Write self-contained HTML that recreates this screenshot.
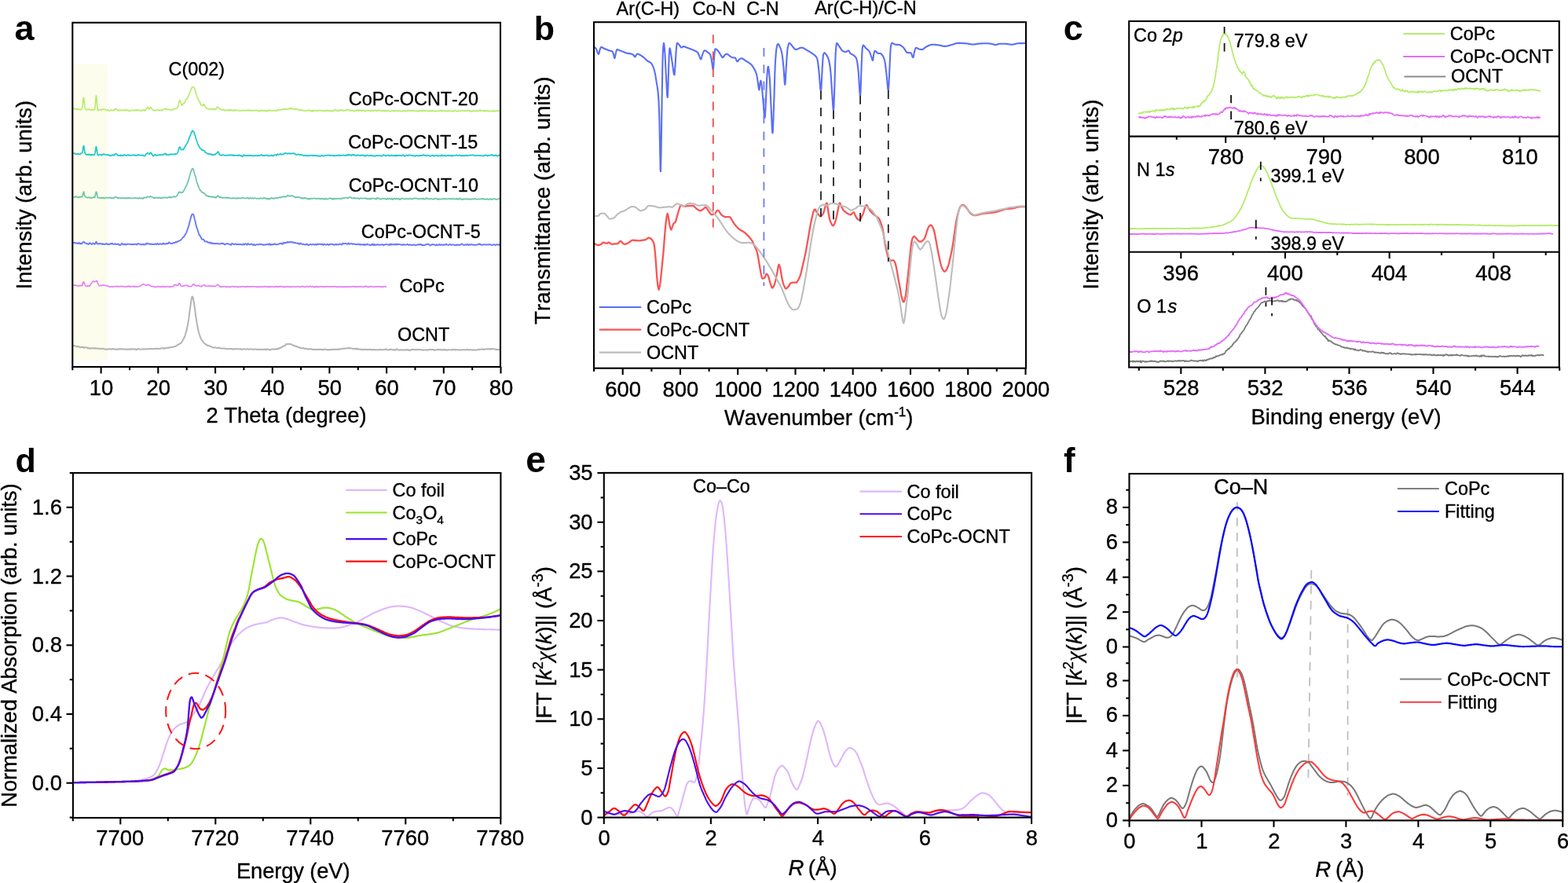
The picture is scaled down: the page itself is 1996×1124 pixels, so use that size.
<!DOCTYPE html>
<html lang="en"><head><meta charset="utf-8"><title>Figure</title>
<style>html,body{margin:0;padding:0;background:#fff}svg{display:block}text{font-family:'Liberation Sans', Arial, Helvetica, sans-serif;font-kerning:none;stroke:#000;stroke-width:0.35px;stroke-linejoin:round}text[font-weight=bold]{stroke:none}</style></head>
<body>
<svg xmlns="http://www.w3.org/2000/svg" width="1996" height="1124" viewBox="0 0 1996 1124">
<rect width="1996" height="1124" fill="#fff"/>
<rect x="93.4" y="81.6" width="43.8" height="377" fill="#fdfdee"/>
<polyline points="92.3,139 92.7,138.8 93.2,137.9 93.6,137.8 94,138.1 94.5,138.5 94.9,138.6 95.4,138.8 95.8,138.8 96.2,138.5 96.7,138.3 97.1,138.7 97.5,139.1 98,139 98.4,138.5 98.8,138.6 99.3,139.3 99.7,139.6 100.2,139.2 100.6,139.1 101,139.2 101.5,139.4 101.9,139.6 102.3,139.9 102.8,139.7 103.2,139.5 103.6,139.3 104.1,139 104.5,138 104.9,136.2 105.4,132.5 105.8,127.8 106.3,124.2 106.7,124.3 107.1,128 107.6,133 108,136.9 108.4,138.6 108.9,139.4 109.3,139.5 109.7,139.5 110.2,139.1 110.6,139.3 111.1,139.8 111.5,139.7 111.9,139.6 112.4,139.5 112.8,139.4 113.2,139 113.7,139.1 114.1,139.8 114.5,140.2 115,140.3 115.4,140.2 115.9,140 116.3,140.1 116.7,140 117.2,139.8 117.6,139.7 118,139.6 118.5,139.8 118.9,139.7 119.3,139.9 119.8,140 120.2,139.8 120.7,138.3 121.1,135.4 121.5,130.6 122,124.9 122.4,121.8 122.8,123.7 123.3,129 123.7,134.3 124.1,138.1 124.6,139.9 125,140.5 125.5,140.2 125.9,139.8 126.3,139.3 126.8,139.5 127.2,139.5 127.6,139.9 128.1,140.3 128.5,140.5 128.9,140 129.4,139.5 129.8,139.9 130.2,139.8 130.7,139.5 131.1,139.1 131.6,138.9 132,139.1 132.4,139.1 132.9,139.1 133.3,139.2 133.7,139.9 134.2,139.9 134.6,140.1 135,140.2 135.5,140.7 135.9,140.5 136.4,140.1 136.8,139.7 137.2,139.9 137.7,140.3 138.1,140.4 138.5,140.6 139,141.2 139.4,141.2 139.8,141.1 140.3,140.4 140.7,139.7 141.2,139.5 141.6,140.1 142,140.5 142.5,140.5 142.9,140.6 143.3,140.5 143.8,140.5 144.2,140.1 144.6,139.8 145.1,139.7 145.5,140.1 146,139.6 146.4,139 146.8,138.3 147.3,138.4 147.7,138.9 148.1,139.5 148.6,139.8 149,139.8 149.4,140.1 149.9,140.3 150.3,140.2 150.8,140.4 151.2,140.9 151.6,140.9 152.1,140.5 152.5,140.2 152.9,140 153.4,140.2 153.8,140.4 154.2,140.7 154.7,140.3 155.1,140 155.5,140.1 156,140.5 156.4,140.5 156.9,140.5 157.3,140.7 157.7,140.7 158.2,140.3 158.6,140 159,139.9 159.5,140.1 159.9,140.5 160.3,140.8 160.8,140.4 161.2,140 161.7,139.9 162.1,140.1 162.5,140.4 163,140.3 163.4,140.4 163.8,140.9 164.3,141.4 164.7,141.6 165.1,141.2 165.6,141 166,140.7 166.5,140.7 166.9,140.6 167.3,140.5 167.8,140.1 168.2,140.3 168.6,140.6 169.1,140.7 169.5,140.3 169.9,140.2 170.4,140 170.8,140.4 171.3,140.6 171.7,140.8 172.1,140.5 172.6,140.2 173,139.7 173.4,139.8 173.9,140.5 174.3,140.6 174.7,140.3 175.2,140 175.6,140 176.1,139.7 176.5,139.6 176.9,140 177.4,140.3 177.8,140.7 178.2,140.8 178.7,140.8 179.1,140.9 179.5,141.3 180,140.9 180.4,140.3 180.8,140.3 181.3,140.4 181.7,140.1 182.2,139.7 182.6,139.6 183,139.6 183.5,139.9 183.9,140.5 184.3,141.1 184.8,141 185.2,140 185.6,139.3 186.1,138.8 186.5,138.6 187,138 187.4,137.1 187.8,136.7 188.3,136.5 188.7,137 189.1,137.6 189.6,138.5 190,138.9 190.4,138.1 190.9,137.3 191.3,136.7 191.8,136.8 192.2,136.9 192.6,137.1 193.1,137.9 193.5,138.8 193.9,139.5 194.4,139.6 194.8,139.7 195.2,139.9 195.7,140.3 196.1,140.5 196.6,140.9 197,141 197.4,140.9 197.9,140.5 198.3,140.1 198.7,139.8 199.2,139.7 199.6,140 200,140 200.5,140.1 200.9,140.1 201.3,140.2 201.8,140.1 202.2,140.4 202.7,140.9 203.1,140.8 203.5,140.3 204,139.9 204.4,140 204.8,140.3 205.3,140.6 205.7,140.9 206.1,140.9 206.6,140.6 207,140.1 207.5,139.5 207.9,139.6 208.3,139.4 208.8,139.1 209.2,138.9 209.6,139 210.1,138.8 210.5,138.5 210.9,138 211.4,138.3 211.8,139.1 212.3,139.4 212.7,139.2 213.1,139.2 213.6,139.1 214,139.3 214.4,139.3 214.9,139.5 215.3,139.6 215.7,139.8 216.2,139.9 216.6,139.8 217.1,139.8 217.5,139.7 217.9,139.9 218.4,140 218.8,140.1 219.2,139.6 219.7,139.6 220.1,139.3 220.5,139.3 221,138.4 221.4,138.5 221.9,138.7 222.3,138.7 222.7,138.3 223.2,138.6 223.6,138.7 224,138.5 224.5,138 224.9,137.8 225.3,137.5 225.8,137.1 226.2,136.3 226.6,135.4 227.1,133.7 227.5,131.6 228,129.6 228.4,128.2 228.8,127.7 229.3,128.2 229.7,129.4 230.1,130.9 230.6,132.2 231,133.4 231.4,134.2 231.9,133.8 232.3,133 232.8,132.3 233.2,132.3 233.6,131.9 234.1,131.8 234.5,131.2 234.9,130.7 235.4,129.9 235.8,128.7 236.2,127.5 236.7,126.8 237.1,126.6 237.6,125.9 238,125.7 238.4,125.1 238.9,124.6 239.3,123.5 239.7,122.9 240.2,121.5 240.6,120.6 241,119 241.5,118.2 241.9,117.4 242.4,116.3 242.8,114.8 243.2,113.5 243.7,112.9 244.1,111.9 244.5,111.3 245,111 245.4,111.1 245.8,111 246.3,110.9 246.7,110.9 247.2,111.9 247.6,112.9 248,113.8 248.5,115 248.9,116.9 249.3,118.6 249.8,119.5 250.2,121 250.6,122.3 251.1,123.8 251.5,124.6 251.9,125.7 252.4,126.6 252.8,127.5 253.3,128.7 253.7,129.6 254.1,129.8 254.6,130.3 255,131.5 255.4,132.7 255.9,133.5 256.3,133.8 256.7,133.9 257.2,133.9 257.6,134.3 258.1,134.4 258.5,133.9 258.9,133.1 259.4,132.8 259.8,133.1 260.2,134 260.7,134.9 261.1,135.9 261.5,136.1 262,136.9 262.4,137.6 262.9,137.9 263.3,137.8 263.7,138 264.2,138.2 264.6,138.5 265,138.7 265.5,138.7 265.9,138.6 266.3,139 266.8,139.2 267.2,139.1 267.7,138.8 268.1,138.8 268.5,138.7 269,138.9 269.4,139 269.8,139.4 270.3,139.2 270.7,139 271.1,138.8 271.6,139.1 272,139.4 272.5,139.5 272.9,139 273.3,138.9 273.8,138.4 274.2,138.8 274.6,138.9 275.1,139.1 275.5,138.1 275.9,137.1 276.4,136.4 276.8,136.2 277.2,136.2 277.7,136.5 278.1,137.3 278.6,137.6 279,137.8 279.4,138.2 279.9,138.8 280.3,138.9 280.7,138.7 281.2,138.9 281.6,139.3 282,139.8 282.5,140 282.9,140.4 283.4,140 283.8,139.6 284.2,139.4 284.7,139.9 285.1,139.9 285.5,140 286,140.4 286.4,140.9 286.8,140.7 287.3,140.4 287.7,140.2 288.2,140.3 288.6,140.5 289,140.5 289.5,140.4 289.9,139.9 290.3,139.9 290.8,140.4 291.2,140.9 291.6,140.9 292.1,140.3 292.5,140.1 293,139.6 293.4,140 293.8,140.3 294.3,140.3 294.7,140 295.1,139.8 295.6,140.6 296,140.9 296.4,140.9 296.9,140.5 297.3,140.6 297.8,140.6 298.2,140.2 298.6,139.9 299.1,140.4 299.5,140.8 299.9,140.8 300.4,140.2 300.8,140 301.2,140.2 301.7,140.4 302.1,140.5 302.5,140.5 303,140.5 303.4,140.5 303.9,140.8 304.3,141 304.7,140.9 305.2,140.6 305.6,140.5 306,140.6 306.5,141 306.9,141 307.3,140.9 307.8,140.7 308.2,140.8 308.7,140.6 309.1,140.4 309.5,140.3 310,140.7 310.4,140.8 310.8,140.9 311.3,140.5 311.7,140.5 312.1,140.6 312.6,140.8 313,141 313.5,140.5 313.9,140.3 314.3,140.3 314.8,140.7 315.2,140.3 315.6,140.4 316.1,140.1 316.5,140.4 316.9,140.5 317.4,141.1 317.8,140.9 318.3,140.6 318.7,140.2 319.1,140.2 319.6,140.6 320,140.7 320.4,140.8 320.9,140.8 321.3,141.2 321.7,140.8 322.2,140.4 322.6,140.3 323,140.9 323.5,140.9 323.9,140.6 324.4,140.5 324.8,140.7 325.2,140.6 325.7,140.5 326.1,140.2 326.5,140.2 327,140.7 327.4,140.8 327.8,141 328.3,141.2 328.7,141.5 329.2,141.7 329.6,141.4 330,141.5 330.5,141.2 330.9,140.8 331.3,140.5 331.8,141 332.2,141.2 332.6,141.1 333.1,140.6 333.5,140.4 334,140.4 334.4,140.7 334.8,140.9 335.3,141.2 335.7,141 336.1,140.6 336.6,140.4 337,141.1 337.4,141.4 337.9,141.1 338.3,140.7 338.8,141.2 339.2,141.3 339.6,141 340.1,140.6 340.5,140.9 340.9,141.4 341.4,141.3 341.8,140.6 342.2,140.1 342.7,140.6 343.1,140.5 343.6,140.2 344,140.3 344.4,140.8 344.9,140.9 345.3,140.8 345.7,141 346.2,141 346.6,141 347,141.1 347.5,140.9 347.9,140.8 348.3,140.8 348.8,140.8 349.2,140.6 349.7,140.2 350.1,140.1 350.5,140.5 351,140.9 351.4,141.3 351.8,141.1 352.3,140.9 352.7,140.4 353.1,140.2 353.6,140.2 354,140.4 354.5,140.1 354.9,140 355.3,139.9 355.8,140 356.2,139.8 356.6,139.8 357.1,139.9 357.5,139.9 357.9,139.6 358.4,139.3 358.8,139.4 359.3,139.4 359.7,139 360.1,138.7 360.6,138.8 361,139.2 361.4,139 361.9,138.9 362.3,139 362.7,139.2 363.2,139.3 363.6,139.1 364.1,138.9 364.5,138.6 364.9,138.8 365.4,138.9 365.8,139 366.2,138.9 366.7,138.5 367.1,138.4 367.5,138.1 368,138.6 368.4,138.9 368.9,138.7 369.3,137.6 369.7,137.6 370.2,138 370.6,138.5 371,138.1 371.5,138.2 371.9,138.1 372.3,138.5 372.8,138.5 373.2,138.9 373.6,138.8 374.1,139.1 374.5,139 375,139.2 375.4,138.7 375.8,138.3 376.3,138.5 376.7,138.8 377.1,139 377.6,138.9 378,139 378.4,139.2 378.9,139.1 379.3,139 379.8,139.2 380.2,139.6 380.6,139.9 381.1,140 381.5,140.6 381.9,140.6 382.4,140.1 382.8,139.6 383.2,139.5 383.7,140.2 384.1,140.6 384.6,140.6 385,140.4 385.4,140.4 385.9,140.6 386.3,140.6 386.7,140.9 387.2,141 387.6,141.1 388,141 388.5,141 388.9,140.8 389.4,140.9 389.8,140.9 390.2,140.9 390.7,140.7 391.1,140.6 391.5,140.7 392,140.4 392.4,140.5 392.8,140.2 393.3,140.4 393.7,140.3 394.2,140.9 394.6,141.1 395,141.1 395.5,140.9 395.9,141.1 396.3,141.6 396.8,141.8 397.2,141.1 397.6,140.3 398.1,140.5 398.5,141.6 398.9,141.7 399.4,141.3 399.8,140.8 400.3,141.1 400.7,140.9 401.1,140.8 401.6,140.7 402,140.7 402.4,140.9 402.9,141 403.3,140.8 403.7,140.9 404.2,141.3 404.6,141 405.1,140.5 405.5,140.7 405.9,140.7 406.4,140.6 406.8,140.2 407.2,140.2 407.7,140.6 408.1,141 408.5,141.1 409,140.9 409.4,140.8 409.9,140.6 410.3,140.7 410.7,141.2 411.2,141.2 411.6,141 412,141.3 412.5,141.6 412.9,141.5 413.3,140.9 413.8,140.7 414.2,140.3 414.7,140.6 415.1,140.8 415.5,141.4 416,141.1 416.4,141.2 416.8,140.7 417.3,140.6 417.7,140.6 418.1,141.1 418.6,141.1 419,140.7 419.4,140.8 419.9,141.1 420.3,141.6 420.8,141.6 421.2,141.4 421.6,141.1 422.1,141.5 422.5,141.6 422.9,141.3 423.4,140.7 423.8,141.2 424.2,141.3 424.7,141.1 425.1,140.5 425.6,140.2 426,139.9 426.4,139.4 426.9,139.5 427.3,139.9 427.7,140.4 428.2,140.5 428.6,140.7 429,141.1 429.5,141.1 429.9,140.6 430.4,140.4 430.8,141.2 431.2,141.4 431.7,140.6 432.1,140 432.5,140.1 433,140.6 433.4,140.5 433.8,140.4 434.3,140.2 434.7,140.1 435.2,139.7 435.6,139.8 436,140.4 436.5,140.5 436.9,140.7 437.3,140.9 437.8,141.1 438.2,140.8 438.6,140.7 439.1,140.7 439.5,140.8 440,140.7 440.4,140.1 440.8,139.7 441.3,139.6 441.7,139.7 442.1,139.9 442.6,139.8 443,140 443.4,139.9 443.9,140 444.3,139.6 444.7,140.2 445.2,141 445.6,141 446.1,140.7 446.5,140.8 446.9,140.8 447.4,140.3 447.8,140.2 448.2,140.5 448.7,140.5 449.1,140.6 449.5,140.8 450,141 450.4,141.2 450.9,141.3 451.3,141.6 451.7,141.3 452.2,141 452.6,140.5 453,140.7 453.5,140.9 453.9,141 454.3,140.5 454.8,140 455.2,139.9 455.7,140.5 456.1,141.1 456.5,140.7 457,140.3 457.4,140.1 457.8,140.5 458.3,140.7 458.7,140.6 459.1,140.3 459.6,140.5 460,141 460.5,141.2 460.9,140.9 461.3,140.6 461.8,140.4 462.2,140.5 462.6,140.6 463.1,140.6 463.5,140.3 463.9,140.9 464.4,141.4 464.8,141.5 465.3,141.1 465.7,141.2 466.1,141.4 466.6,141.1 467,140.7 467.4,140.5 467.9,140.8 468.3,140.9 468.7,140.6 469.2,140.7 469.6,141 470,141 470.5,140.8 470.9,141 471.4,141.4 471.8,141.2 472.2,141.2 472.7,141 473.1,140.6 473.5,140.3 474,140.5 474.4,141 474.8,141.2 475.3,141.2 475.7,140.7 476.2,140.5 476.6,140.6 477,140.7 477.5,140.4 477.9,140.4 478.3,140.7 478.8,140.6 479.2,141.2 479.6,141.3 480.1,141.2 480.5,140.7 481,140.3 481.4,140.1 481.8,140.2 482.3,140.6 482.7,140.3 483.1,140.3 483.6,140.8 484,141.3 484.4,141.2 484.9,141 485.3,141 485.8,140.8 486.2,140.9 486.6,141.2 487.1,141 487.5,140.4 487.9,140.8 488.4,141.4 488.8,141.3 489.2,140.7 489.7,140.9 490.1,141.3 490.6,140.8 491,140.9 491.4,141.3 491.9,141.6 492.3,141.3 492.7,141.2 493.2,141.1 493.6,141.1 494,140.8 494.5,140.9 494.9,141 495.3,141.6 495.8,141.6 496.2,141.8 496.7,142 497.1,142 497.5,141.6 498,141.3 498.4,141.1 498.8,140.9 499.3,140.8 499.7,141.1 500.1,141.5 500.6,141.1 501,140.9 501.5,141 501.9,141.4 502.3,141.6 502.8,141.4 503.2,141.3 503.6,141 504.1,141.1 504.5,140.8 504.9,140.8 505.4,141 505.8,141.3 506.3,141.4 506.7,141.1 507.1,141.3 507.6,141.3 508,141.3 508.4,141.1 508.9,141.3 509.3,141.4 509.7,141.3 510.2,141.7 510.6,141.8 511.1,141.7 511.5,141.2 511.9,141.1 512.4,141.3 512.8,141.6 513.2,141.3 513.7,140.9 514.1,140.8 514.5,141 515,140.8 515.4,141.2 515.9,141.3 516.3,141.5 516.7,141.1 517.2,141 517.6,141.4 518,141.5 518.5,141.2 518.9,140.6 519.3,140.6 519.8,141.1 520.2,141.3 520.6,141.2 521.1,140.5 521.5,140.5 522,140.7 522.4,141 522.8,141 523.3,141.1 523.7,141.4 524.1,141.4 524.6,141.1 525,140.6 525.4,140.9 525.9,141 526.3,141.2 526.8,141 527.2,141.1 527.6,141.1 528.1,141.1 528.5,141.4 528.9,141.1 529.4,141.2 529.8,141.3 530.2,141.4 530.7,141.6 531.1,141.7 531.6,141.4 532,141 532.4,141.5 532.9,141.9 533.3,141.4 533.7,141.1 534.2,140.8 534.6,140.8 535,141 535.5,141.3 535.9,141.4 536.4,141.8 536.8,141.6 537.2,140.7 537.7,140.1 538.1,140.7 538.5,141.3 539,141.2 539.4,140.8 539.8,140.5 540.3,141.1 540.7,141.3 541.1,141.1 541.6,141 542,141.3 542.5,141.1 542.9,141.1 543.3,141.4 543.8,141.4 544.2,141 544.6,141.1 545.1,141.3 545.5,141.3 545.9,141.4 546.4,141.7 546.8,141.3 547.3,140.8 547.7,140.6 548.1,141 548.6,141.3 549,141.7 549.4,141.6 549.9,141.1 550.3,140.8 550.7,140.9 551.2,141.4 551.6,141.6 552.1,141.7 552.5,141.5 552.9,141.4 553.4,141.2 553.8,140.9 554.2,141.2 554.7,141.6 555.1,141.9 555.5,141.8 556,141.5 556.4,141.4 556.9,141.2 557.3,141.5 557.7,141.4 558.2,141.3 558.6,141.1 559,141.4 559.5,141.3 559.9,141.1 560.3,140.8 560.8,140.7 561.2,140.9 561.7,141.3 562.1,141.3 562.5,140.7 563,140.8 563.4,141.1 563.8,141 564.3,141.1 564.7,141.3 565.1,141.3 565.6,141.1 566,141.2 566.4,141.2 566.9,141.1 567.3,141.4 567.8,141.3 568.2,141.4 568.6,141.4 569.1,141.9 569.5,141.8 569.9,141.5 570.4,141 570.8,140.7 571.2,140.8 571.7,141 572.1,141.4 572.6,141.5 573,141.3 573.4,141.2 573.9,141.2 574.3,141.4 574.7,141.5 575.2,141.9 575.6,141.7 576,141.3 576.5,141.3 576.9,141.8 577.4,141.9 577.8,141.7 578.2,141.1 578.7,140.8 579.1,140.4 579.5,140.6 580,140.7 580.4,141.1 580.8,141.5 581.3,141.8 581.7,141.7 582.2,141.4 582.6,141.4 583,141.5 583.5,141.2 583.9,140.8 584.3,140.9 584.8,141.1 585.2,141.1 585.6,141.4 586.1,141.6 586.5,141.4 587,141.1 587.4,141 587.8,140.8 588.3,140.7 588.7,140.8 589.1,140.7 589.6,141.1 590,141.3 590.4,141.5 590.9,141.1 591.3,141 591.7,141 592.2,141.5 592.6,141.4 593.1,141.1 593.5,141 593.9,141.1 594.4,141 594.8,141.1 595.2,141 595.7,140.6 596.1,140.3 596.5,140.7 597,140.7 597.4,140.9 597.9,141.1 598.3,141.6 598.7,141.2 599.2,141.1 599.6,141.4 600,142.1 600.5,142.2 600.9,141.7 601.3,141.2 601.8,141.4 602.2,141.4 602.7,141.1 603.1,140.8 603.5,141.2 604,141.2 604.4,141.2 604.8,141.2 605.3,141.4 605.7,141.3 606.1,141.4 606.6,141.5 607,141.2 607.5,141.2 607.9,141.4 608.3,141.7 608.8,141.3 609.2,141.1 609.6,140.5 610.1,140.4 610.5,140.7 610.9,141.4 611.4,141.3 611.8,140.6 612.3,140.2 612.7,140.3 613.1,141.1 613.6,141.1 614,141 614.4,141 614.9,141.5 615.3,141.5 615.7,140.7 616.2,140.5 616.6,140.8 617,141.5 617.5,141.2 617.9,140.9 618.4,141.2 618.8,141.5 619.2,141.5 619.7,141 620.1,141.3 620.5,141.1 621,140.9 621.4,140.8 621.8,141.2 622.3,141.5 622.7,141.5 623.2,141.8 623.6,141.7 624,141.4 624.5,141.2 624.9,140.9 625.3,141.1 625.8,141.1 626.2,141.5 626.6,141.7 627.1,142.1 627.5,141.9 628,141.4 628.4,140.7 628.8,140.7 629.3,140.9 629.7,141.7 630.1,141.6 630.6,141.7 631,141.3 631.4,141.4 631.9,141.2 632.3,141.2 632.8,140.8 633.2,140.6 633.6,140.7 634.1,141.3 634.5,141.6 634.9,141.4 635.4,141.3 635.8,141.5 636.2,141.9 636.7,141.5 637.1,140.6 637.5,140.2" fill="none" stroke="#b6ed6c" stroke-width="1.7" stroke-linejoin="round" stroke-linecap="butt"/>
<polyline points="92.3,195.3 92.7,195.4 93.2,195 93.6,195.2 94,195.1 94.5,195.3 94.9,195.3 95.4,195.4 95.8,196 96.2,196.2 96.7,196.3 97.1,196 97.5,196 98,196 98.4,196 98.8,196.4 99.3,196 99.7,195.7 100.2,195.8 100.6,196.3 101,196.5 101.5,196.4 101.9,196.4 102.3,196.2 102.8,195.5 103.2,195 103.6,195 104.1,194.8 104.5,194.5 104.9,193.5 105.4,191.4 105.8,188.2 106.3,185.8 106.7,185.7 107.1,188.2 107.6,191.6 108,194.1 108.4,195.5 108.9,196.1 109.3,196.3 109.7,196.3 110.2,196.8 110.6,197.1 111.1,197 111.5,196.5 111.9,196.5 112.4,197 112.8,196.7 113.2,196.5 113.7,196.3 114.1,197.2 114.5,196.9 115,197.1 115.4,197.4 115.9,197.6 116.3,197.1 116.7,196.8 117.2,196.8 117.6,196.8 118,197.1 118.5,197.3 118.9,197.3 119.3,197.2 119.8,197.3 120.2,197.1 120.7,196 121.1,194.4 121.5,191.6 122,188.5 122.4,186.6 122.8,187.9 123.3,191.3 123.7,194 124.1,196 124.6,197.2 125,197.8 125.5,197.4 125.9,197 126.3,196.9 126.8,196.7 127.2,196.5 127.6,196.5 128.1,197 128.5,197.7 128.9,197.6 129.4,197 129.8,196.5 130.2,196.6 130.7,196.9 131.1,196.7 131.6,196.3 132,195.9 132.4,196.1 132.9,196.7 133.3,196.8 133.7,196.9 134.2,196.9 134.6,197 135,197 135.5,197.1 135.9,196.9 136.4,196.9 136.8,197.2 137.2,197.4 137.7,197.3 138.1,197.1 138.5,197 139,197.7 139.4,198.1 139.8,198.3 140.3,197.7 140.7,198 141.2,198.1 141.6,198.3 142,197.8 142.5,197.2 142.9,197.3 143.3,197.3 143.8,197.2 144.2,197.2 144.6,197.9 145.1,198 145.5,197.3 146,196.5 146.4,196.2 146.8,196 147.3,195.7 147.7,195.5 148.1,196 148.6,196.4 149,196.6 149.4,196.8 149.9,197.7 150.3,198.2 150.8,198.1 151.2,198.1 151.6,198 152.1,197.7 152.5,197.5 152.9,198 153.4,198.3 153.8,197.5 154.2,197.3 154.7,197.5 155.1,198.1 155.5,198 156,198.2 156.4,198.3 156.9,197.9 157.3,197.1 157.7,197.1 158.2,197.3 158.6,197.5 159,197.2 159.5,197.4 159.9,197.8 160.3,198.1 160.8,197.8 161.2,197.8 161.7,197.9 162.1,197.6 162.5,197.3 163,197 163.4,197.1 163.8,197.3 164.3,198 164.7,198.1 165.1,197.6 165.6,197.5 166,197.4 166.5,197.5 166.9,197.5 167.3,198 167.8,197.9 168.2,197.7 168.6,197.5 169.1,197.6 169.5,197.5 169.9,197.1 170.4,197 170.8,197.3 171.3,197.8 171.7,198 172.1,197.7 172.6,197.4 173,197.6 173.4,198.1 173.9,198 174.3,197.8 174.7,197.6 175.2,197.3 175.6,196.9 176.1,196.9 176.5,197.3 176.9,197.5 177.4,197.5 177.8,197.6 178.2,197.6 178.7,197.3 179.1,197.3 179.5,197.5 180,197.9 180.4,197.7 180.8,198 181.3,197.7 181.7,197.5 182.2,197.4 182.6,198.1 183,198.3 183.5,198.3 183.9,198.4 184.3,198.6 184.8,198.2 185.2,197.2 185.6,196.3 186.1,195.8 186.5,195.8 187,195.6 187.4,195.1 187.8,194.8 188.3,194.6 188.7,195 189.1,195.4 189.6,196.2 190,196.4 190.4,196.1 190.9,195.2 191.3,194.4 191.8,194.2 192.2,194.3 192.6,194.9 193.1,195.8 193.5,196.8 193.9,197.4 194.4,198 194.8,198.5 195.2,198.6 195.7,198 196.1,197.6 196.6,197.3 197,197.3 197.4,196.8 197.9,196.7 198.3,197.3 198.7,197.6 199.2,197.7 199.6,197.7 200,197.8 200.5,197.3 200.9,197.5 201.3,197.6 201.8,197.6 202.2,197.2 202.7,197.2 203.1,196.9 203.5,196.8 204,196.8 204.4,197.3 204.8,197.2 205.3,197.4 205.7,197.3 206.1,197.2 206.6,197 207,197 207.5,197.1 207.9,197 208.3,196.8 208.8,196.2 209.2,195.6 209.6,195.7 210.1,196.1 210.5,195.7 210.9,195.4 211.4,196.1 211.8,197.2 212.3,197.3 212.7,197.1 213.1,197.1 213.6,197.2 214,197 214.4,197.2 214.9,197.3 215.3,197.4 215.7,196.8 216.2,196.6 216.6,196.1 217.1,196.5 217.5,196.6 217.9,196.6 218.4,196.2 218.8,196.3 219.2,196.7 219.7,196.7 220.1,196.7 220.5,196.5 221,196.4 221.4,196.2 221.9,196.5 222.3,196 222.7,195.7 223.2,196 223.6,196.4 224,196.2 224.5,195.9 224.9,195.8 225.3,195.4 225.8,195 226.2,194.4 226.6,193.3 227.1,191.7 227.5,189.8 228,188.2 228.4,187.2 228.8,187.1 229.3,187.4 229.7,188.5 230.1,189.6 230.6,190.7 231,190.7 231.4,190.6 231.9,190.3 232.3,190.2 232.8,190.3 233.2,190.6 233.6,190.3 234.1,189.3 234.5,188.2 234.9,187.4 235.4,186.9 235.8,186.3 236.2,185.4 236.7,184.6 237.1,184 237.6,183.4 238,182.6 238.4,181.9 238.9,181.1 239.3,180.2 239.7,178.9 240.2,177.6 240.6,176.4 241,175.3 241.5,174.2 241.9,173 242.4,172.2 242.8,171 243.2,169.7 243.7,168.4 244.1,167.9 244.5,167.1 245,166.4 245.4,166.2 245.8,166.9 246.3,167.7 246.7,168 247.2,169 247.6,170.4 248,171.7 248.5,172.7 248.9,173.9 249.3,175.8 249.8,177.4 250.2,178.6 250.6,179.5 251.1,181.1 251.5,182.7 251.9,183.8 252.4,184.2 252.8,184.9 253.3,186.1 253.7,187.1 254.1,187.8 254.6,188.4 255,189 255.4,189.5 255.9,189.7 256.3,190 256.7,190.5 257.2,191.1 257.6,191.4 258.1,191.4 258.5,191.4 258.9,191.2 259.4,191.5 259.8,191.5 260.2,192 260.7,192.6 261.1,193.7 261.5,194.2 262,194.3 262.4,194.3 262.9,194.6 263.3,194.9 263.7,195.2 264.2,195.6 264.6,195.9 265,196.2 265.5,195.9 265.9,195.7 266.3,195.8 266.8,196.2 267.2,196.5 267.7,196.4 268.1,196.1 268.5,195.7 269,196.3 269.4,197 269.8,197.5 270.3,197.1 270.7,197.2 271.1,197.2 271.6,197.3 272,196.8 272.5,196.4 272.9,196.5 273.3,196.7 273.8,197 274.2,196.5 274.6,195.9 275.1,195.3 275.5,195.3 275.9,195.5 276.4,195 276.8,194 277.2,193 277.7,193 278.1,193.8 278.6,194.8 279,195.7 279.4,196.6 279.9,197.2 280.3,197.1 280.7,197.2 281.2,197.7 281.6,197.9 282,197.6 282.5,197.5 282.9,197.6 283.4,197.3 283.8,197.2 284.2,197 284.7,197.2 285.1,197.4 285.5,197.6 286,198 286.4,198 286.8,197.8 287.3,197.5 287.7,197.6 288.2,197.8 288.6,197.8 289,197.7 289.5,197.8 289.9,197.6 290.3,197.6 290.8,197.4 291.2,197.7 291.6,197.4 292.1,197.7 292.5,197.4 293,197.2 293.4,196.9 293.8,197.5 294.3,197.6 294.7,197.6 295.1,197.8 295.6,198 296,197.2 296.4,197.1 296.9,197.4 297.3,197.9 297.8,197.9 298.2,198.2 298.6,198.1 299.1,197.8 299.5,197.6 299.9,197.7 300.4,197.8 300.8,198 301.2,197.8 301.7,197.8 302.1,197.8 302.5,198.1 303,198.1 303.4,197.6 303.9,197.4 304.3,197.4 304.7,197.9 305.2,197.9 305.6,198.1 306,197.8 306.5,198.1 306.9,198.1 307.3,198.3 307.8,198.5 308.2,199.3 308.7,199.4 309.1,198.9 309.5,198 310,197.5 310.4,197.2 310.8,197.7 311.3,198.1 311.7,198.1 312.1,197.9 312.6,198 313,198.4 313.5,198.3 313.9,198.1 314.3,197.8 314.8,198 315.2,198.3 315.6,198.2 316.1,197.8 316.5,197.6 316.9,197.6 317.4,198.1 317.8,198.1 318.3,197.9 318.7,198.2 319.1,198.3 319.6,198.1 320,197.6 320.4,197.7 320.9,198 321.3,198.4 321.7,198.5 322.2,198.6 322.6,198.4 323,198.4 323.5,198 323.9,198.1 324.4,198 324.8,198.3 325.2,198 325.7,198.1 326.1,198 326.5,198.2 327,198.1 327.4,198.4 327.8,198.5 328.3,198.2 328.7,197.7 329.2,197.9 329.6,198.1 330,198.4 330.5,198.3 330.9,197.9 331.3,197.6 331.8,197.7 332.2,197.2 332.6,196.8 333.1,197 333.5,197.7 334,198 334.4,198.4 334.8,198.3 335.3,197.8 335.7,197.8 336.1,198.1 336.6,198.3 337,197.7 337.4,197.5 337.9,197.5 338.3,197.9 338.8,198 339.2,197.8 339.6,197.4 340.1,197.4 340.5,197.7 340.9,198.2 341.4,198.5 341.8,198.5 342.2,198.1 342.7,198.1 343.1,198.4 343.6,198.3 344,198.3 344.4,198.3 344.9,198.4 345.3,197.7 345.7,197.4 346.2,197.6 346.6,198 347,198.4 347.5,198.5 347.9,198.2 348.3,197.7 348.8,197.4 349.2,197.4 349.7,197.3 350.1,197.1 350.5,197 351,197.1 351.4,197.4 351.8,197.8 352.3,197.6 352.7,197.3 353.1,196.3 353.6,196.2 354,196.5 354.5,197 354.9,196.9 355.3,196.7 355.8,196.5 356.2,196.2 356.6,196 357.1,195.7 357.5,196.1 357.9,196.6 358.4,196.9 358.8,196.5 359.3,196.5 359.7,196.6 360.1,196.4 360.6,195.9 361,195.9 361.4,196 361.9,196 362.3,195.5 362.7,195.1 363.2,194.6 363.6,194.8 364.1,195 364.5,195 364.9,195.3 365.4,195.8 365.8,195.9 366.2,195.5 366.7,195.1 367.1,195.3 367.5,195.4 368,195.4 368.4,195.2 368.9,195.5 369.3,195.9 369.7,195.5 370.2,195.1 370.6,195.2 371,195.6 371.5,195.7 371.9,195.5 372.3,195 372.8,195 373.2,195.2 373.6,195.6 374.1,195.1 374.5,195.4 375,195.5 375.4,195.8 375.8,195.8 376.3,196.4 376.7,196.9 377.1,197.2 377.6,197.1 378,196.9 378.4,196.8 378.9,196.5 379.3,196.6 379.8,196.3 380.2,196.5 380.6,196.7 381.1,197.1 381.5,197.2 381.9,197 382.4,196.7 382.8,196.7 383.2,197.2 383.7,197.5 384.1,197.4 384.6,197.3 385,197.2 385.4,197.5 385.9,197.8 386.3,197.9 386.7,198.3 387.2,198.2 387.6,197.8 388,197.7 388.5,197.9 388.9,197.9 389.4,197.9 389.8,198.3 390.2,198.3 390.7,198.1 391.1,197.7 391.5,197.6 392,198 392.4,198.5 392.8,198.2 393.3,198 393.7,198.2 394.2,198.2 394.6,198 395,197.6 395.5,197.8 395.9,197.7 396.3,197.7 396.8,198 397.2,197.9 397.6,197.6 398.1,197.6 398.5,198.1 398.9,198.4 399.4,198.1 399.8,197.8 400.3,197.8 400.7,198 401.1,198.1 401.6,197.8 402,198.3 402.4,198.2 402.9,198.1 403.3,198.1 403.7,198.6 404.2,198.7 404.6,198.6 405.1,198.2 405.5,198.5 405.9,198.6 406.4,198.8 406.8,198.8 407.2,198.9 407.7,198.6 408.1,198.4 408.5,198.6 409,198.4 409.4,197.7 409.9,197.5 410.3,197.9 410.7,198.2 411.2,198.5 411.6,198.7 412,198.5 412.5,198.3 412.9,198.3 413.3,198.2 413.8,198 414.2,198.1 414.7,198.2 415.1,198 415.5,197.7 416,197.6 416.4,197.6 416.8,197.7 417.3,197.8 417.7,197.7 418.1,197.3 418.6,197.3 419,197.4 419.4,197.7 419.9,198.1 420.3,198.3 420.8,197.9 421.2,197.6 421.6,197.9 422.1,198 422.5,198.1 422.9,197.9 423.4,197.5 423.8,197.5 424.2,198.1 424.7,198.5 425.1,198.1 425.6,198 426,198.4 426.4,198.4 426.9,198.2 427.3,197.9 427.7,197.8 428.2,197.8 428.6,198 429,198 429.5,198.3 429.9,197.8 430.4,197.8 430.8,197.4 431.2,197.6 431.7,197.4 432.1,197.9 432.5,198.4 433,198 433.4,198 433.8,197.7 434.3,197.8 434.7,197.7 435.2,198 435.6,197.8 436,197.7 436.5,197.7 436.9,197.4 437.3,197.4 437.8,197.7 438.2,198.1 438.6,197.9 439.1,197.8 439.5,198 440,198.1 440.4,197.9 440.8,197.3 441.3,197 441.7,197.2 442.1,197.8 442.6,197.9 443,197.5 443.4,196.5 443.9,196.3 444.3,197 444.7,197.6 445.2,197.1 445.6,197.2 446.1,197.4 446.5,197.9 446.9,197.8 447.4,198 447.8,197.1 448.2,196.9 448.7,196.7 449.1,196.9 449.5,196.7 450,197.5 450.4,197.9 450.9,197.4 451.3,197 451.7,197.1 452.2,197.4 452.6,197.6 453,198.1 453.5,198.3 453.9,198.2 454.3,198 454.8,197.5 455.2,197.2 455.7,197.2 456.1,197.5 456.5,197.6 457,197.8 457.4,198 457.8,198 458.3,197.7 458.7,197.6 459.1,198.1 459.6,198.1 460,197.6 460.5,197.4 460.9,197.5 461.3,197.7 461.8,197.4 462.2,197.8 462.6,197.6 463.1,197.9 463.5,197.9 463.9,198.4 464.4,198.2 464.8,198.8 465.3,198.8 465.7,198.6 466.1,197.9 466.6,197.3 467,197.6 467.4,197.8 467.9,198.1 468.3,198 468.7,198.5 469.2,198.5 469.6,198.1 470,198 470.5,198.1 470.9,197.9 471.4,197.5 471.8,197.7 472.2,198.3 472.7,198 473.1,197.7 473.5,197.6 474,198.3 474.4,198.3 474.8,198.3 475.3,198.3 475.7,198.6 476.2,198.9 476.6,198.7 477,198.5 477.5,198.6 477.9,198.7 478.3,198.3 478.8,198 479.2,197.9 479.6,198.2 480.1,198.1 480.5,198.1 481,198.1 481.4,198.2 481.8,198.1 482.3,198 482.7,198.3 483.1,198.1 483.6,198 484,198.1 484.4,198.3 484.9,198.3 485.3,198.6 485.8,198.6 486.2,198.6 486.6,198.5 487.1,198.1 487.5,197.6 487.9,197.3 488.4,197.4 488.8,197.6 489.2,197.3 489.7,197.4 490.1,197.8 490.6,198.5 491,198.4 491.4,198 491.9,198.2 492.3,198.3 492.7,198.2 493.2,197.8 493.6,197.7 494,197.4 494.5,197.4 494.9,198 495.3,198.3 495.8,198.3 496.2,198.2 496.7,198.4 497.1,198.1 497.5,198.1 498,198.1 498.4,198 498.8,197.5 499.3,197.8 499.7,198.2 500.1,198.2 500.6,198.1 501,198.4 501.5,198.5 501.9,198 502.3,197.7 502.8,197.9 503.2,197.9 503.6,198.4 504.1,198.6 504.5,198.4 504.9,197.4 505.4,197.7 505.8,198 506.3,198.3 506.7,197.9 507.1,198 507.6,198.2 508,198.1 508.4,197.8 508.9,197.5 509.3,197.7 509.7,197.9 510.2,198.3 510.6,198.4 511.1,198.6 511.5,198 511.9,197.6 512.4,197.3 512.8,197.3 513.2,197.3 513.7,197.7 514.1,198.3 514.5,198.8 515,198.7 515.4,198.6 515.9,198.2 516.3,198 516.7,197.8 517.2,197.7 517.6,197.5 518,197.5 518.5,198.1 518.9,198.2 519.3,197.8 519.8,197.7 520.2,198 520.6,197.9 521.1,197.5 521.5,197.2 522,197.4 522.4,197.5 522.8,197.7 523.3,197.6 523.7,197.7 524.1,198.2 524.6,198.2 525,198.2 525.4,197.8 525.9,198 526.3,198.1 526.8,198.5 527.2,198.6 527.6,198.2 528.1,198.3 528.5,198.7 528.9,198.9 529.4,198.4 529.8,198.3 530.2,198 530.7,197.8 531.1,197.8 531.6,198.2 532,198.4 532.4,198.1 532.9,198 533.3,198.3 533.7,198.6 534.2,198.2 534.6,197.8 535,197.6 535.5,197.9 535.9,197.9 536.4,197.7 536.8,197.8 537.2,198.2 537.7,198.1 538.1,197.5 538.5,197.2 539,197.2 539.4,197.1 539.8,197.4 540.3,197.9 540.7,198 541.1,197.7 541.6,197.7 542,198 542.5,198.3 542.9,198.5 543.3,197.9 543.8,197.5 544.2,197.6 544.6,198 545.1,197.9 545.5,197.9 545.9,197.8 546.4,198 546.8,198.4 547.3,198.8 547.7,198.8 548.1,198.7 548.6,198.5 549,198.1 549.4,198 549.9,198 550.3,198.1 550.7,197.6 551.2,197.5 551.6,198.2 552.1,198.7 552.5,198.7 552.9,198.4 553.4,198.6 553.8,198.3 554.2,198 554.7,198 555.1,198.1 555.5,197.8 556,197.4 556.4,197.8 556.9,198.4 557.3,198.7 557.7,198.6 558.2,198.5 558.6,198.1 559,198.3 559.5,198.4 559.9,198.5 560.3,198.1 560.8,198.4 561.2,198.4 561.7,198 562.1,197.3 562.5,197.2 563,197.7 563.4,198.4 563.8,198.6 564.3,198.2 564.7,198.1 565.1,198.2 565.6,198.1 566,197.7 566.4,197.7 566.9,198.1 567.3,198.6 567.8,198.7 568.2,198.4 568.6,198.3 569.1,197.9 569.5,197.8 569.9,197.9 570.4,198.1 570.8,197.7 571.2,197.8 571.7,198.2 572.1,198.3 572.6,198.2 573,198.5 573.4,198.3 573.9,197.9 574.3,197.9 574.7,198.3 575.2,198.7 575.6,198.4 576,197.8 576.5,197.9 576.9,198.4 577.4,198.4 577.8,198 578.2,198 578.7,198 579.1,198 579.5,198 580,198 580.4,197.6 580.8,197.3 581.3,197.2 581.7,197.4 582.2,197.8 582.6,198 583,198.2 583.5,197.9 583.9,197.7 584.3,197.6 584.8,197.5 585.2,197.3 585.6,197.8 586.1,198.3 586.5,198.6 587,198.3 587.4,198.1 587.8,198.1 588.3,198.3 588.7,198.4 589.1,197.9 589.6,197.7 590,197.9 590.4,198.4 590.9,198.5 591.3,198.2 591.7,197.9 592.2,197.9 592.6,197.9 593.1,197.8 593.5,197.4 593.9,197.7 594.4,198.1 594.8,198.5 595.2,198 595.7,197.9 596.1,198 596.5,197.9 597,197.7 597.4,197.6 597.9,197.5 598.3,197.8 598.7,197.6 599.2,197.6 599.6,197.5 600,197.6 600.5,197.5 600.9,197.3 601.3,197.4 601.8,197.2 602.2,197.5 602.7,197.6 603.1,197.9 603.5,198.1 604,198.1 604.4,197.9 604.8,197.9 605.3,197.9 605.7,197.9 606.1,198 606.6,198.2 607,198.1 607.5,198 607.9,197.9 608.3,197.8 608.8,197.8 609.2,198 609.6,198.1 610.1,198 610.5,198 610.9,198.1 611.4,198 611.8,197.8 612.3,198 612.7,198.3 613.1,198.4 613.6,198.5 614,198.2 614.4,198.3 614.9,198.5 615.3,198.8 615.7,198.3 616.2,197.9 616.6,197.5 617,197.7 617.5,197.7 617.9,197.8 618.4,197.4 618.8,197.3 619.2,197.5 619.7,197.8 620.1,198.3 620.5,198.7 621,198.5 621.4,198.1 621.8,197.7 622.3,197.9 622.7,197.5 623.2,197.6 623.6,197.8 624,198 624.5,197.8 624.9,197.6 625.3,197.1 625.8,196.8 626.2,197 626.6,197.4 627.1,197.5 627.5,198.1 628,198.4 628.4,198.3 628.8,197.6 629.3,197.5 629.7,197.6 630.1,198.1 630.6,198.1 631,197.8 631.4,197.4 631.9,197.9 632.3,198.4 632.8,198.5 633.2,198.7 633.6,198.5 634.1,198.1 634.5,197.7 634.9,197.9 635.4,197.8 635.8,197.3 636.2,197.3 636.7,197.6 637.1,197.8 637.5,197.8" fill="none" stroke="#1cc8cc" stroke-width="1.7" stroke-linejoin="round" stroke-linecap="butt"/>
<polyline points="92.3,250.1 92.7,250.2 93.2,250.4 93.6,250.6 94,250.8 94.5,251 94.9,251 95.4,251.2 95.8,250.8 96.2,250.3 96.7,249.8 97.1,250.1 97.5,250.4 98,250.8 98.4,250.9 98.8,250.9 99.3,251.2 99.7,251.4 100.2,251.3 100.6,250.7 101,250.8 101.5,251.1 101.9,251.1 102.3,250.7 102.8,250.7 103.2,250.6 103.6,250.5 104.1,250.7 104.5,250.5 104.9,249.7 105.4,248.3 105.8,246.4 106.3,244.4 106.7,244.1 107.1,246.1 107.6,248.4 108,249.8 108.4,250.3 108.9,250.6 109.3,251 109.7,251.4 110.2,251.5 110.6,251.4 111.1,251.5 111.5,251.7 111.9,251.5 112.4,251.1 112.8,251.1 113.2,251.5 113.7,251.7 114.1,251.6 114.5,251.4 115,251.2 115.4,251.5 115.9,252.2 116.3,252.3 116.7,252 117.2,251.8 117.6,251.7 118,251.4 118.5,251.3 118.9,251 119.3,250.9 119.8,251.1 120.2,251.6 120.7,251.2 121.1,249.7 121.5,247.5 122,245.6 122.4,244.2 122.8,244.5 123.3,246.2 123.7,248.9 124.1,250.6 124.6,251.4 125,251.5 125.5,251.8 125.9,251.8 126.3,251.8 126.8,251.8 127.2,251.7 127.6,251.5 128.1,251.6 128.5,252.1 128.9,252.3 129.4,251.7 129.8,251.5 130.2,251.7 130.7,252.1 131.1,251.5 131.6,251.5 132,252.1 132.4,252.7 132.9,252.7 133.3,252.3 133.7,252.1 134.2,251.8 134.6,251.6 135,251.5 135.5,251.5 135.9,251.6 136.4,251.5 136.8,251.6 137.2,251.7 137.7,251.9 138.1,251.8 138.5,251.8 139,251.5 139.4,251.7 139.8,251.8 140.3,251.7 140.7,251.4 141.2,251.8 141.6,252.4 142,252.4 142.5,252 142.9,251.9 143.3,252.1 143.8,252.4 144.2,252.4 144.6,252.4 145.1,252.2 145.5,251.7 146,251 146.4,250.5 146.8,250.6 147.3,250.6 147.7,250.9 148.1,250.9 148.6,251.2 149,251.2 149.4,251.7 149.9,252 150.3,252.2 150.8,251.9 151.2,251.7 151.6,251.6 152.1,252.1 152.5,252.2 152.9,252.4 153.4,252.4 153.8,252.4 154.2,252.1 154.7,251.5 155.1,251.5 155.5,251.8 156,252.2 156.4,252.2 156.9,252.3 157.3,252.6 157.7,252.4 158.2,252.3 158.6,252.1 159,252 159.5,252.5 159.9,252.7 160.3,252.5 160.8,252 161.2,252.2 161.7,252.5 162.1,252.4 162.5,252 163,251.6 163.4,252 163.8,252.5 164.3,252.6 164.7,252.2 165.1,252 165.6,252 166,251.9 166.5,252.1 166.9,252.2 167.3,252.2 167.8,252.4 168.2,252.5 168.6,252.5 169.1,252.4 169.5,252.4 169.9,252.3 170.4,252.4 170.8,252.4 171.3,252.1 171.7,251.9 172.1,251.8 172.6,251.9 173,252.3 173.4,252.4 173.9,252.4 174.3,252.2 174.7,252.3 175.2,252.3 175.6,252.6 176.1,252.7 176.5,252.3 176.9,251.9 177.4,251.8 177.8,252.3 178.2,252.4 178.7,252.6 179.1,252.7 179.5,252.5 180,252.2 180.4,252.1 180.8,252 181.3,252.7 181.7,253.1 182.2,252.8 182.6,251.7 183,251.6 183.5,251.9 183.9,251.8 184.3,251.4 184.8,251.4 185.2,251.6 185.6,251.8 186.1,251.6 186.5,251.5 187,250.8 187.4,250.4 187.8,250 188.3,250.2 188.7,250.4 189.1,250.6 189.6,250.7 190,250.6 190.4,251 190.9,250.5 191.3,250.1 191.8,249.8 192.2,250.2 192.6,250.4 193.1,250.7 193.5,250.9 193.9,251 194.4,251 194.8,251.5 195.2,252.1 195.7,252.2 196.1,252.1 196.6,252.1 197,251.9 197.4,251.5 197.9,251.6 198.3,252 198.7,251.9 199.2,251.8 199.6,251.9 200,252 200.5,251.5 200.9,251.6 201.3,252 201.8,252.1 202.2,251.7 202.7,251.6 203.1,251.8 203.5,251.6 204,252 204.4,252.2 204.8,252.5 205.3,252 205.7,252.3 206.1,252.4 206.6,251.9 207,251.5 207.5,251.6 207.9,251.7 208.3,251.4 208.8,251.2 209.2,251.5 209.6,251.7 210.1,251.6 210.5,251.4 210.9,251.6 211.4,251.4 211.8,251.3 212.3,251.4 212.7,252 213.1,252 213.6,251.9 214,251.4 214.4,251.1 214.9,251.1 215.3,251.3 215.7,250.8 216.2,250.5 216.6,251 217.1,251.7 217.5,251.8 217.9,251.3 218.4,251.1 218.8,250.9 219.2,251 219.7,251 220.1,250.6 220.5,250.5 221,250.4 221.4,250.1 221.9,250.1 222.3,250.5 222.7,250.6 223.2,250.4 223.6,250.4 224,250.3 224.5,249.7 224.9,249.4 225.3,248.9 225.8,248.4 226.2,247.5 226.6,246.9 227.1,246 227.5,245.1 228,244.3 228.4,244.4 228.8,244.9 229.3,244.7 229.7,244.5 230.1,244.8 230.6,245.2 231,245 231.4,245.1 231.9,245.2 232.3,245.1 232.8,244.4 233.2,243.9 233.6,243.2 234.1,242.6 234.5,241.7 234.9,240.7 235.4,239.8 235.8,239 236.2,238.3 236.7,237.6 237.1,236.5 237.6,235.8 238,234.5 238.4,233.4 238.9,232.4 239.3,231.7 239.7,230.1 240.2,228.6 240.6,227 241,225.6 241.5,223.8 241.9,221.8 242.4,220.2 242.8,219 243.2,218.2 243.7,216.8 244.1,215.8 244.5,215.1 245,214.7 245.4,214.4 245.8,215.1 246.3,216.1 246.7,217.7 247.2,219.2 247.6,221 248,222.3 248.5,223.6 248.9,224.7 249.3,226.4 249.8,228.6 250.2,230.9 250.6,232.1 251.1,233.2 251.5,234.5 251.9,236 252.4,237 252.8,237.8 253.3,239 253.7,240 254.1,240.9 254.6,241.6 255,242.1 255.4,242.8 255.9,242.8 256.3,243.4 256.7,244.3 257.2,245 257.6,245 258.1,245.2 258.5,245.4 258.9,245.4 259.4,245.4 259.8,246.1 260.2,246.4 260.7,246.8 261.1,247.4 261.5,247.8 262,248.1 262.4,248.6 262.9,249.2 263.3,249.2 263.7,249.4 264.2,249.5 264.6,249.5 265,249.7 265.5,250.4 265.9,250.3 266.3,249.9 266.8,249.8 267.2,250.5 267.7,250.7 268.1,250.5 268.5,250.5 269,250.1 269.4,250.1 269.8,250.3 270.3,251.1 270.7,251.3 271.1,250.8 271.6,250.7 272,250.8 272.5,250.9 272.9,251 273.3,250.9 273.8,251.2 274.2,251.5 274.6,251.9 275.1,251.2 275.5,250.8 275.9,250.4 276.4,250.1 276.8,249.3 277.2,249 277.7,249.2 278.1,250.1 278.6,250.6 279,251 279.4,251.3 279.9,251.1 280.3,250.8 280.7,250.8 281.2,251.1 281.6,251.6 282,251.5 282.5,251.4 282.9,251.5 283.4,251.9 283.8,251.8 284.2,251.7 284.7,251.9 285.1,251.9 285.5,251.5 286,251.6 286.4,251.8 286.8,251.9 287.3,251.7 287.7,251.2 288.2,251.3 288.6,251.7 289,252.2 289.5,251.7 289.9,251.5 290.3,251.6 290.8,251.9 291.2,252 291.6,251.6 292.1,251.6 292.5,251.9 293,252.5 293.4,252.7 293.8,252.7 294.3,252.7 294.7,252.3 295.1,252.3 295.6,252.1 296,252.5 296.4,252.4 296.9,252.3 297.3,251.8 297.8,252 298.2,252.1 298.6,252.3 299.1,252.5 299.5,252.6 299.9,252.4 300.4,252.2 300.8,252.5 301.2,252.8 301.7,252.7 302.1,252.3 302.5,252.1 303,252.3 303.4,252.3 303.9,252.5 304.3,252.2 304.7,252.2 305.2,252.4 305.6,252.6 306,252.6 306.5,252.2 306.9,252 307.3,251.8 307.8,252.1 308.2,252 308.7,251.9 309.1,251.7 309.5,251.9 310,252 310.4,252.2 310.8,252.4 311.3,252.3 311.7,252.5 312.1,252.5 312.6,252.4 313,252.1 313.5,252.2 313.9,252.2 314.3,252.2 314.8,252.1 315.2,252.3 315.6,252.1 316.1,252.1 316.5,252.1 316.9,252.7 317.4,253 317.8,252.4 318.3,252 318.7,251.9 319.1,252 319.6,252 320,252.3 320.4,252.6 320.9,252.8 321.3,252.5 321.7,252.2 322.2,252.3 322.6,252.7 323,252.6 323.5,252.4 323.9,252.1 324.4,252 324.8,252.1 325.2,252.2 325.7,252.6 326.1,252.8 326.5,252.9 327,252.7 327.4,252.5 327.8,252.5 328.3,252.5 328.7,252.8 329.2,252.7 329.6,252.8 330,252.8 330.5,253 330.9,252.5 331.3,252.1 331.8,252 332.2,252.4 332.6,252.3 333.1,252.6 333.5,252.8 334,252.9 334.4,252.7 334.8,252.5 335.3,252.1 335.7,251.8 336.1,252 336.6,252.4 337,252.5 337.4,252.3 337.9,252 338.3,252.2 338.8,253 339.2,253.2 339.6,252.9 340.1,252.7 340.5,252.8 340.9,253.3 341.4,253.7 341.8,253.5 342.2,252.7 342.7,252.6 343.1,253 343.6,253.2 344,253.1 344.4,252.8 344.9,252.2 345.3,251.8 345.7,251.8 346.2,252.1 346.6,252.4 347,252.8 347.5,252.6 347.9,252.4 348.3,252.2 348.8,253 349.2,252.9 349.7,252.5 350.1,252.3 350.5,252.1 351,251.9 351.4,252 351.8,252.2 352.3,252.1 352.7,252.1 353.1,251.9 353.6,251.9 354,251.8 354.5,252 354.9,251.3 355.3,251.3 355.8,251.1 356.2,251.5 356.6,251.3 357.1,251.5 357.5,251.2 357.9,250.9 358.4,250.6 358.8,250.8 359.3,250.8 359.7,250.8 360.1,250.7 360.6,250.2 361,249.9 361.4,249.9 361.9,250.2 362.3,250.6 362.7,250.9 363.2,250.9 363.6,250.3 364.1,250.1 364.5,250.2 364.9,250.2 365.4,249.7 365.8,249 366.2,248.7 366.7,249.1 367.1,249.3 367.5,249.3 368,249.2 368.4,249.6 368.9,249.7 369.3,249.5 369.7,249.7 370.2,249.4 370.6,249.2 371,249.1 371.5,249.1 371.9,249 372.3,249.1 372.8,249.8 373.2,250.1 373.6,250.3 374.1,250 374.5,250.4 375,250.4 375.4,250.7 375.8,251.1 376.3,251.6 376.7,251.7 377.1,251 377.6,250.8 378,250.9 378.4,251.2 378.9,251.1 379.3,250.9 379.8,250.8 380.2,250.7 380.6,250.6 381.1,250.9 381.5,251.3 381.9,251.6 382.4,252 382.8,252.6 383.2,252.4 383.7,251.9 384.1,251.7 384.6,251.8 385,252.3 385.4,253 385.9,252.9 386.3,252.2 386.7,252.1 387.2,251.9 387.6,252.1 388,251.7 388.5,252.1 388.9,252.2 389.4,252.6 389.8,252.3 390.2,252.3 390.7,252.6 391.1,252.9 391.5,253.3 392,253.3 392.4,253 392.8,252.8 393.3,253.7 393.7,253.8 394.2,253.2 394.6,252.5 395,252.7 395.5,253 395.9,253 396.3,252.7 396.8,252.4 397.2,252.6 397.6,252.7 398.1,252.9 398.5,252.9 398.9,252.9 399.4,252.5 399.8,252.3 400.3,252.3 400.7,252.7 401.1,252.6 401.6,252.5 402,252.7 402.4,253.1 402.9,253 403.3,252.8 403.7,252.7 404.2,252.8 404.6,252.8 405.1,252.6 405.5,252.6 405.9,252.4 406.4,252.6 406.8,252.9 407.2,253.5 407.7,253 408.1,252.7 408.5,252.7 409,253.1 409.4,253.2 409.9,253 410.3,253.2 410.7,253.1 411.2,252.7 411.6,252.5 412,253.1 412.5,253.7 412.9,253.7 413.3,253.6 413.8,253.4 414.2,252.9 414.7,252.4 415.1,252.7 415.5,253.3 416,253.7 416.4,253.6 416.8,253.4 417.3,253.4 417.7,253.4 418.1,253 418.6,252.8 419,252.6 419.4,252.5 419.9,252.2 420.3,252 420.8,252.5 421.2,253 421.6,252.8 422.1,252.5 422.5,253.1 422.9,253.5 423.4,253.8 423.8,253.6 424.2,253.1 424.7,252.5 425.1,253 425.6,253.6 426,253.2 426.4,252.7 426.9,253 427.3,252.9 427.7,252.7 428.2,252.6 428.6,253.1 429,253 429.5,252.7 429.9,252.5 430.4,252.8 430.8,252.9 431.2,252.6 431.7,252.7 432.1,252.6 432.5,253.1 433,253 433.4,253.1 433.8,253 434.3,253.1 434.7,252.7 435.2,252.7 435.6,252.7 436,252.4 436.5,252.1 436.9,252.2 437.3,252.1 437.8,252.1 438.2,251.8 438.6,251.9 439.1,251.8 439.5,251.8 440,251.6 440.4,251.5 440.8,251.8 441.3,251.8 441.7,252 442.1,252 442.6,252.4 443,252.2 443.4,252.3 443.9,251.8 444.3,251.5 444.7,251.1 445.2,251.3 445.6,251 446.1,251.2 446.5,251.3 446.9,251.4 447.4,251.6 447.8,252.3 448.2,252.4 448.7,252.3 449.1,252.3 449.5,252.5 450,252.3 450.4,252 450.9,251.5 451.3,251.9 451.7,252.4 452.2,252.6 452.6,252.3 453,252.4 453.5,252.7 453.9,252.7 454.3,252.3 454.8,252.2 455.2,252.3 455.7,252.2 456.1,252.3 456.5,252.9 457,253.4 457.4,253 457.8,252.6 458.3,252.5 458.7,252.4 459.1,252.3 459.6,252.2 460,252.2 460.5,252.4 460.9,252.6 461.3,252.8 461.8,252.7 462.2,252.7 462.6,252.5 463.1,252.5 463.5,252.4 463.9,252.4 464.4,252.4 464.8,252.1 465.3,252.2 465.7,252.5 466.1,253.1 466.6,253 467,252.5 467.4,252.7 467.9,253.2 468.3,253.6 468.7,253.1 469.2,253.1 469.6,253.1 470,253.1 470.5,252.7 470.9,253 471.4,253.5 471.8,253.2 472.2,252.4 472.7,252.5 473.1,252.9 473.5,253 474,252.6 474.4,252.5 474.8,252.4 475.3,252.4 475.7,252.7 476.2,252.7 476.6,252.8 477,252.8 477.5,253 477.9,253.1 478.3,253.4 478.8,253.7 479.2,253.2 479.6,252.4 480.1,251.8 480.5,252 481,252.6 481.4,252.7 481.8,252.5 482.3,252.3 482.7,252.5 483.1,253.1 483.6,253.2 484,253.5 484.4,253.7 484.9,253.9 485.3,253.4 485.8,252.9 486.2,252.8 486.6,252.7 487.1,252.4 487.5,252.6 487.9,253 488.4,253.1 488.8,253.1 489.2,252.9 489.7,252.9 490.1,252.7 490.6,252.8 491,253.3 491.4,253.7 491.9,254 492.3,253.8 492.7,253.2 493.2,252.7 493.6,252.6 494,253.2 494.5,253.3 494.9,253.4 495.3,252.8 495.8,252.6 496.2,252.4 496.7,253.1 497.1,253.5 497.5,253.6 498,253.4 498.4,252.9 498.8,252.4 499.3,252.5 499.7,253.5 500.1,254.2 500.6,253.8 501,253.3 501.5,252.7 501.9,252.6 502.3,252.6 502.8,253.2 503.2,253.4 503.6,253.6 504.1,253.1 504.5,252.8 504.9,252.6 505.4,253 505.8,253.2 506.3,253.4 506.7,252.8 507.1,252.9 507.6,253.1 508,253.3 508.4,253.5 508.9,254.1 509.3,254.1 509.7,253.6 510.2,253 510.6,252.7 511.1,252.8 511.5,253 511.9,253 512.4,252.6 512.8,252.5 513.2,252.5 513.7,252.7 514.1,253.2 514.5,253.4 515,253.4 515.4,253.3 515.9,253.3 516.3,253.4 516.7,252.8 517.2,252.7 517.6,252.7 518,253 518.5,253.1 518.9,253 519.3,253.2 519.8,253.4 520.2,253.5 520.6,253 521.1,252.5 521.5,252.6 522,252.9 522.4,252.8 522.8,252.8 523.3,253.3 523.7,253.6 524.1,253.4 524.6,253.2 525,253 525.4,252.9 525.9,253 526.3,253.1 526.8,252.8 527.2,252.4 527.6,252.3 528.1,252.5 528.5,252.6 528.9,252.3 529.4,252.3 529.8,252.4 530.2,252.8 530.7,252.6 531.1,252.8 531.6,252.9 532,253.3 532.4,253.1 532.9,253.2 533.3,253.2 533.7,253.2 534.2,253 534.6,252.8 535,252.8 535.5,252.8 535.9,253 536.4,253.1 536.8,253.2 537.2,253.1 537.7,253 538.1,252.5 538.5,252.3 539,252.7 539.4,253.6 539.8,253.7 540.3,253.7 540.7,253.6 541.1,253.3 541.6,252.6 542,252.8 542.5,252.8 542.9,252.5 543.3,252.1 543.8,252.1 544.2,252.7 544.6,253.2 545.1,253.5 545.5,253.4 545.9,253.2 546.4,253.3 546.8,253.3 547.3,253.3 547.7,252.9 548.1,252.9 548.6,252.8 549,252.7 549.4,252.9 549.9,253.1 550.3,253.4 550.7,253.6 551.2,253.8 551.6,253.6 552.1,253.4 552.5,253.1 552.9,253.1 553.4,252.6 553.8,252.4 554.2,252.6 554.7,252.8 555.1,252.8 555.5,253 556,253.3 556.4,253 556.9,253 557.3,253.6 557.7,254.1 558.2,253.6 558.6,253.3 559,253.1 559.5,253.6 559.9,253.4 560.3,253.5 560.8,253.6 561.2,253.4 561.7,253.4 562.1,253.3 562.5,253.6 563,253.3 563.4,253.2 563.8,252.8 564.3,252.7 564.7,253 565.1,253.1 565.6,253.3 566,253.5 566.4,253.3 566.9,252.9 567.3,252.9 567.8,253.2 568.2,253.3 568.6,253.4 569.1,253.4 569.5,253.3 569.9,253.2 570.4,253 570.8,252.9 571.2,253 571.7,253 572.1,253.1 572.6,252.9 573,252.9 573.4,253 573.9,253.4 574.3,253.4 574.7,253.4 575.2,253.4 575.6,253 576,252.7 576.5,252.7 576.9,253.1 577.4,253.2 577.8,253 578.2,253.3 578.7,253.5 579.1,253.7 579.5,253.5 580,253.4 580.4,253.1 580.8,252.7 581.3,252.9 581.7,253.3 582.2,253.8 582.6,253.4 583,253.2 583.5,253.4 583.9,253.8 584.3,253.2 584.8,252.4 585.2,252.2 585.6,252.3 586.1,252.7 586.5,253.2 587,253.9 587.4,254 587.8,253.9 588.3,253.9 588.7,253.7 589.1,253.3 589.6,253.4 590,253.9 590.4,253.7 590.9,253.3 591.3,253.2 591.7,253.5 592.2,253.5 592.6,253.4 593.1,253.3 593.5,253 593.9,253.5 594.4,253.5 594.8,253.4 595.2,253.1 595.7,253.2 596.1,253.6 596.5,254 597,253.9 597.4,253.6 597.9,253.1 598.3,253.2 598.7,253.4 599.2,253.9 599.6,253.8 600,253.7 600.5,253.4 600.9,253 601.3,253.1 601.8,253.4 602.2,253.6 602.7,253.4 603.1,253.4 603.5,253.4 604,253.1 604.4,252.7 604.8,252.6 605.3,253 605.7,253.6 606.1,253.8 606.6,253.8 607,253.7 607.5,253.5 607.9,253.4 608.3,253.4 608.8,253.3 609.2,253.3 609.6,253.2 610.1,253.4 610.5,253.6 610.9,253.6 611.4,253.4 611.8,253.2 612.3,252.9 612.7,252.6 613.1,253 613.6,253.2 614,253 614.4,253.3 614.9,253.7 615.3,253.6 615.7,253.1 616.2,253.2 616.6,253.5 617,253.3 617.5,253.5 617.9,254.1 618.4,254 618.8,253.5 619.2,253.4 619.7,253.5 620.1,253.2 620.5,253 621,253.2 621.4,253.7 621.8,254 622.3,253.7 622.7,253.6 623.2,253.7 623.6,253.5 624,253 624.5,252.9 624.9,253.3 625.3,253.7 625.8,254 626.2,254.1 626.6,253.5 627.1,253.3 627.5,253 628,253.2 628.4,253.2 628.8,253.3 629.3,253.1 629.7,253 630.1,253.2 630.6,253.4 631,253.9 631.4,254 631.9,253.9 632.3,253.7 632.8,253.6 633.2,253.6 633.6,253.5 634.1,253.4 634.5,253.2 634.9,253.2 635.4,252.8 635.8,252.6 636.2,252.8 636.7,253.4 637.1,253.7 637.5,253.6" fill="none" stroke="#6cc6a4" stroke-width="1.7" stroke-linejoin="round" stroke-linecap="butt"/>
<polyline points="92.3,309.6 92.7,309.5 93.2,309.3 93.6,308.9 94,308.7 94.5,308.6 94.9,309 95.4,309 95.8,309.5 96.2,309.6 96.7,309.6 97.1,309.2 97.5,309.3 98,309.5 98.4,309.8 98.8,309.9 99.3,310.1 99.7,310 100.2,309.4 100.6,308.9 101,309.2 101.5,309.9 101.9,310.5 102.3,310.2 102.8,309.7 103.2,309.6 103.6,310.1 104.1,310.3 104.5,309.9 104.9,309.2 105.4,308.6 105.8,308.3 106.3,308 106.7,307.8 107.1,308.1 107.6,308.9 108,309.2 108.4,309.3 108.9,309.4 109.3,309.8 109.7,309.8 110.2,310 110.6,309.9 111.1,310.3 111.5,310.4 111.9,310.8 112.4,310.9 112.8,311 113.2,310.3 113.7,309.5 114.1,309.2 114.5,309.4 115,310 115.4,310.2 115.9,310.1 116.3,310.6 116.7,311.1 117.2,310.8 117.6,310.2 118,310.1 118.5,309.8 118.9,309.6 119.3,309.8 119.8,310.3 120.2,310.6 120.7,310.8 121.1,310.1 121.5,309.4 122,308.5 122.4,307.8 122.8,308.1 123.3,309.6 123.7,310.4 124.1,310.3 124.6,310.3 125,310.5 125.5,310.7 125.9,310.6 126.3,310.2 126.8,310 127.2,310 127.6,310.3 128.1,310.3 128.5,310.3 128.9,310.1 129.4,310.3 129.8,310.8 130.2,311.1 130.7,310.5 131.1,310.2 131.6,310.6 132,310.9 132.4,311 132.9,310.8 133.3,310.6 133.7,310.6 134.2,310.8 134.6,310.9 135,310.1 135.5,310 135.9,310.1 136.4,310.6 136.8,310.8 137.2,311 137.7,310.8 138.1,310.8 138.5,311 139,311.3 139.4,311.1 139.8,311 140.3,310.6 140.7,310.2 141.2,310 141.6,310.2 142,310.6 142.5,310.1 142.9,309.9 143.3,309.9 143.8,310.7 144.2,310.9 144.6,310.8 145.1,310.6 145.5,310.9 146,310.6 146.4,310.2 146.8,310.3 147.3,310.8 147.7,311.1 148.1,311.2 148.6,311 149,310.8 149.4,310.5 149.9,310.8 150.3,310.7 150.8,310.8 151.2,311.3 151.6,311.8 152.1,311.6 152.5,311.4 152.9,311.6 153.4,311.9 153.8,311.5 154.2,311 154.7,310.1 155.1,310 155.5,309.9 156,310.6 156.4,311 156.9,311.4 157.3,311.2 157.7,311.2 158.2,311 158.6,310.6 159,310.9 159.5,311 159.9,311.6 160.3,311.6 160.8,311.3 161.2,310.7 161.7,310.5 162.1,310.7 162.5,310.6 163,310.7 163.4,310.7 163.8,310.6 164.3,310.6 164.7,310.8 165.1,310.9 165.6,310.9 166,310.9 166.5,311 166.9,311 167.3,311.3 167.8,310.9 168.2,311 168.6,310.9 169.1,311.4 169.5,311 169.9,311 170.4,310.8 170.8,310.9 171.3,310.8 171.7,310.6 172.1,311 172.6,310.9 173,310.7 173.4,310.8 173.9,311.2 174.3,311.4 174.7,310.8 175.2,310.3 175.6,309.9 176.1,310.3 176.5,310.4 176.9,310.6 177.4,310.6 177.8,310.7 178.2,310.7 178.7,310.9 179.1,311.3 179.5,311.3 180,311.6 180.4,311.2 180.8,311.2 181.3,310.9 181.7,310.9 182.2,310.8 182.6,311.1 183,311.5 183.5,311.3 183.9,311.3 184.3,311.4 184.8,311.4 185.2,310.5 185.6,310.1 186.1,310.3 186.5,310.8 187,310 187.4,309.5 187.8,309.8 188.3,310.2 188.7,310.1 189.1,310.3 189.6,310.5 190,310.4 190.4,310.6 190.9,310.9 191.3,310.7 191.8,310.4 192.2,310.7 192.6,311 193.1,310.8 193.5,310.5 193.9,311 194.4,311.1 194.8,311 195.2,310.7 195.7,311.1 196.1,311.1 196.6,310.9 197,310.6 197.4,310.7 197.9,310.3 198.3,310.5 198.7,310.7 199.2,311.2 199.6,310.9 200,310.4 200.5,309.9 200.9,309.9 201.3,310.6 201.8,310.9 202.2,311.1 202.7,310.9 203.1,310.7 203.5,310.3 204,310.4 204.4,310.7 204.8,310.6 205.3,310.4 205.7,310.4 206.1,310.7 206.6,311 207,310.7 207.5,310.2 207.9,309.5 208.3,310.1 208.8,310.5 209.2,310.4 209.6,310.4 210.1,310.5 210.5,310.7 210.9,310.3 211.4,310.5 211.8,310 212.3,309.7 212.7,309.8 213.1,310.3 213.6,310.3 214,309.9 214.4,309.5 214.9,308.7 215.3,308.3 215.7,308.8 216.2,309.6 216.6,309.7 217.1,309.6 217.5,309.9 217.9,310.1 218.4,309.8 218.8,309.9 219.2,310.1 219.7,309.8 220.1,309.4 220.5,309.2 221,309.1 221.4,308.9 221.9,309.3 222.3,309.1 222.7,308.9 223.2,308.3 223.6,308.1 224,307.9 224.5,308.1 224.9,308.5 225.3,308.4 225.8,307.9 226.2,307.2 226.6,307 227.1,306.9 227.5,306.8 228,306.9 228.4,306.5 228.8,306.3 229.3,305.9 229.7,305.7 230.1,305.4 230.6,305 231,304.6 231.4,304.1 231.9,303.3 232.3,302.6 232.8,302.2 233.2,302.2 233.6,302 234.1,301.5 234.5,300.6 234.9,299.9 235.4,299.3 235.8,298.5 236.2,297.8 236.7,297.3 237.1,296.7 237.6,295.2 238,293.8 238.4,292.8 238.9,291.6 239.3,290.3 239.7,289 240.2,287.9 240.6,286.2 241,284.4 241.5,282.5 241.9,281.1 242.4,279.2 242.8,277.4 243.2,276.1 243.7,275 244.1,273.6 244.5,272.6 245,272.6 245.4,272.5 245.8,272.6 246.3,273.1 246.7,274.5 247.2,276.2 247.6,278.4 248,280 248.5,281.3 248.9,283.4 249.3,285.7 249.8,287.5 250.2,288.9 250.6,290.2 251.1,291.3 251.5,292.3 251.9,293.9 252.4,295.4 252.8,296.8 253.3,298 253.7,299.2 254.1,299.7 254.6,300.1 255,300.7 255.4,301.5 255.9,302.5 256.3,303.3 256.7,304.2 257.2,304.6 257.6,304.8 258.1,304.4 258.5,304.4 258.9,304.6 259.4,305.3 259.8,305.9 260.2,306.8 260.7,307.3 261.1,307.6 261.5,307.3 262,307.1 262.4,307.2 262.9,307.7 263.3,307.8 263.7,307.7 264.2,307.9 264.6,308.4 265,308.7 265.5,308.7 265.9,308.6 266.3,308.8 266.8,309 267.2,308.8 267.7,308.5 268.1,308.7 268.5,309.5 269,310 269.4,309.8 269.8,309.2 270.3,309.5 270.7,310 271.1,310.1 271.6,309.7 272,309.8 272.5,310 272.9,309.9 273.3,310.2 273.8,310.3 274.2,310.1 274.6,309.9 275.1,310.1 275.5,310.2 275.9,310.1 276.4,310 276.8,310 277.2,310 277.7,310.4 278.1,310.4 278.6,310.4 279,310.4 279.4,310.5 279.9,310.5 280.3,310.2 280.7,310.1 281.2,309.9 281.6,310 282,310.1 282.5,309.8 282.9,309.8 283.4,310 283.8,310.4 284.2,310.1 284.7,310.1 285.1,310.3 285.5,310.9 286,311.4 286.4,311.4 286.8,310.8 287.3,310.6 287.7,310.3 288.2,310.1 288.6,310.2 289,310.2 289.5,310.2 289.9,310 290.3,310.4 290.8,310.6 291.2,310.7 291.6,310.9 292.1,310.9 292.5,311.2 293,311.1 293.4,311.4 293.8,311.7 294.3,311.7 294.7,310.7 295.1,310 295.6,310.1 296,310.4 296.4,310.3 296.9,310.6 297.3,310.9 297.8,310.9 298.2,311 298.6,311 299.1,310.6 299.5,310.4 299.9,310.5 300.4,310.6 300.8,310.9 301.2,311.3 301.7,311.2 302.1,310.9 302.5,310.8 303,310.9 303.4,311.1 303.9,311.3 304.3,311.1 304.7,311.1 305.2,310.8 305.6,311.2 306,311.1 306.5,311.1 306.9,310.9 307.3,311.2 307.8,311.5 308.2,311.7 308.7,311.3 309.1,310.8 309.5,310.5 310,310.7 310.4,311 310.8,311.5 311.3,311.4 311.7,310.8 312.1,310.4 312.6,310.3 313,310.5 313.5,310.7 313.9,311.2 314.3,311.7 314.8,311.5 315.2,310.9 315.6,310.1 316.1,310.5 316.5,310.8 316.9,311 317.4,311.1 317.8,311.3 318.3,311.2 318.7,310.8 319.1,311.1 319.6,310.8 320,310.7 320.4,310.5 320.9,310.7 321.3,311.1 321.7,311.5 322.2,311.9 322.6,312 323,311.4 323.5,311 323.9,311.2 324.4,311.9 324.8,312.2 325.2,311.8 325.7,311.6 326.1,311.4 326.5,311.2 327,311.1 327.4,311.3 327.8,311.4 328.3,311.3 328.7,311.5 329.2,311.4 329.6,311 330,310.7 330.5,310.7 330.9,310.9 331.3,311.2 331.8,311.4 332.2,311.2 332.6,310.9 333.1,310.9 333.5,311 334,311.4 334.4,311.6 334.8,311.8 335.3,311.6 335.7,311.4 336.1,311.8 336.6,311.7 337,311.4 337.4,311.3 337.9,311.6 338.3,311.5 338.8,311.2 339.2,310.9 339.6,311.1 340.1,311.2 340.5,311 340.9,310.7 341.4,311 341.8,311.5 342.2,311.5 342.7,311 343.1,310.2 343.6,310.5 344,311.1 344.4,311.9 344.9,311.4 345.3,311.1 345.7,311.5 346.2,311.6 346.6,311.1 347,311 347.5,311.2 347.9,311.4 348.3,311.1 348.8,311 349.2,310.4 349.7,310.3 350.1,310.5 350.5,310.9 351,311.2 351.4,311.4 351.8,311.2 352.3,311.1 352.7,311.3 353.1,311.2 353.6,310.9 354,310.8 354.5,310.8 354.9,310.5 355.3,310.3 355.8,310.3 356.2,310.1 356.6,309.9 357.1,310 357.5,310.1 357.9,309.6 358.4,309.8 358.8,310.4 359.3,310.9 359.7,310.5 360.1,310 360.6,308.9 361,308.7 361.4,309.3 361.9,309.7 362.3,309.2 362.7,308.8 363.2,309.3 363.6,308.9 364.1,309 364.5,308.9 364.9,308.7 365.4,307.9 365.8,307.9 366.2,308.6 366.7,308.8 367.1,308.4 367.5,308 368,308.3 368.4,308.5 368.9,308.3 369.3,308 369.7,307.8 370.2,308 370.6,308.5 371,308.6 371.5,308.5 371.9,308 372.3,308.2 372.8,308.3 373.2,308.9 373.6,308.6 374.1,308.7 374.5,308.8 375,309.2 375.4,309.1 375.8,309 376.3,309.1 376.7,309.3 377.1,309.5 377.6,309.6 378,309.7 378.4,309.7 378.9,309.5 379.3,309.5 379.8,309.8 380.2,310.5 380.6,310.8 381.1,310.9 381.5,310.1 381.9,309.8 382.4,309.4 382.8,309.8 383.2,310.1 383.7,310.6 384.1,310.8 384.6,310.8 385,310.8 385.4,310.7 385.9,310.6 386.3,310.8 386.7,311.1 387.2,311.4 387.6,311.6 388,311.6 388.5,311.3 388.9,311.4 389.4,310.9 389.8,310.8 390.2,310.6 390.7,311.4 391.1,311.2 391.5,311.2 392,311.2 392.4,312.2 392.8,312.3 393.3,312 393.7,311.6 394.2,311.4 394.6,311.1 395,310.8 395.5,311 395.9,311.4 396.3,311.5 396.8,311.4 397.2,311.3 397.6,311.1 398.1,311 398.5,310.9 398.9,311.3 399.4,311.4 399.8,311.6 400.3,311.5 400.7,311.3 401.1,310.9 401.6,311 402,311.1 402.4,311.6 402.9,311.8 403.3,311.5 403.7,310.7 404.2,310.5 404.6,310.9 405.1,311 405.5,310.7 405.9,310.7 406.4,310.8 406.8,310.8 407.2,310.7 407.7,310.7 408.1,310.9 408.5,310.8 409,311.1 409.4,311.3 409.9,311.2 410.3,310.7 410.7,310.9 411.2,311.5 411.6,311.8 412,311.3 412.5,310.8 412.9,310.8 413.3,311 413.8,311.1 414.2,311.3 414.7,311.5 415.1,311.7 415.5,311.6 416,311.4 416.4,310.9 416.8,311 417.3,310.8 417.7,311.3 418.1,311.6 418.6,312.1 419,311.5 419.4,311.2 419.9,310.8 420.3,310.8 420.8,310.8 421.2,311 421.6,310.8 422.1,310.8 422.5,310.8 422.9,310.9 423.4,311 423.8,311 424.2,311 424.7,311.3 425.1,311.9 425.6,311.9 426,311.7 426.4,311.3 426.9,311.3 427.3,310.9 427.7,310.8 428.2,311.2 428.6,311.5 429,311.4 429.5,311 429.9,311.4 430.4,311.2 430.8,311.5 431.2,311.4 431.7,311.2 432.1,310.7 432.5,310.5 433,310.5 433.4,310.4 433.8,310.9 434.3,311.2 434.7,311.6 435.2,311.4 435.6,311.2 436,310.2 436.5,309.8 436.9,309.8 437.3,310.2 437.8,310.4 438.2,310.2 438.6,310.1 439.1,310 439.5,310.1 440,309.9 440.4,309.9 440.8,310.3 441.3,310.6 441.7,310.8 442.1,310.8 442.6,310.4 443,309.9 443.4,309.5 443.9,309.7 444.3,310.3 444.7,310.8 445.2,310.6 445.6,310.4 446.1,310.3 446.5,310.4 446.9,310.3 447.4,310.4 447.8,310 448.2,310.3 448.7,310.6 449.1,310.9 449.5,310.5 450,310.6 450.4,310.5 450.9,310.5 451.3,310.6 451.7,310.9 452.2,311 452.6,310.9 453,310.9 453.5,311 453.9,311.2 454.3,311.4 454.8,311.2 455.2,311.1 455.7,311 456.1,310.8 456.5,310.6 457,310.6 457.4,310.9 457.8,311.3 458.3,311.7 458.7,311.4 459.1,311 459.6,311.1 460,311.4 460.5,311.6 460.9,311.5 461.3,311.4 461.8,311.2 462.2,311 462.6,311.6 463.1,311.9 463.5,312 463.9,311.2 464.4,311 464.8,311.3 465.3,311.5 465.7,311.8 466.1,311.6 466.6,311.5 467,310.9 467.4,310.6 467.9,311 468.3,311.4 468.7,311.4 469.2,311.4 469.6,311.4 470,311.5 470.5,311.5 470.9,312.1 471.4,312.2 471.8,312 472.2,312 472.7,311.8 473.1,311.4 473.5,310.5 474,310.8 474.4,311.4 474.8,312 475.3,311.8 475.7,311.1 476.2,310.7 476.6,311.2 477,312 477.5,311.7 477.9,311.4 478.3,311.6 478.8,312.1 479.2,311.7 479.6,311.4 480.1,311.2 480.5,311.1 481,311 481.4,311.4 481.8,311.7 482.3,311.8 482.7,311.6 483.1,311.7 483.6,311.9 484,311.7 484.4,311.5 484.9,311.4 485.3,311.4 485.8,311.5 486.2,311.3 486.6,311.5 487.1,311.1 487.5,311.3 487.9,311.7 488.4,312.3 488.8,312.1 489.2,311.7 489.7,311.6 490.1,311.3 490.6,311.1 491,310.9 491.4,311.1 491.9,311.1 492.3,311.2 492.7,311.4 493.2,311.4 493.6,311.4 494,311.4 494.5,311.7 494.9,311.7 495.3,311.5 495.8,311.1 496.2,311.6 496.7,312 497.1,311.7 497.5,310.5 498,310.6 498.4,310.9 498.8,311.3 499.3,311.1 499.7,311.3 500.1,311.3 500.6,311.3 501,311 501.5,311 501.9,311.5 502.3,311.3 502.8,311 503.2,310.6 503.6,311 504.1,311.5 504.5,311.8 504.9,311.2 505.4,310.7 505.8,310.9 506.3,311.3 506.7,310.9 507.1,310.9 507.6,311.1 508,311.2 508.4,311.1 508.9,311 509.3,311.2 509.7,311.3 510.2,311.6 510.6,311.3 511.1,311.5 511.5,311.7 511.9,311.9 512.4,311.9 512.8,311.5 513.2,311.1 513.7,310.9 514.1,311.4 514.5,311.6 515,311.7 515.4,311.4 515.9,311.5 516.3,311.6 516.7,311.6 517.2,311.6 517.6,311.3 518,311 518.5,311 518.9,311.1 519.3,311.3 519.8,311.8 520.2,312.1 520.6,311.8 521.1,311.3 521.5,311.4 522,311.6 522.4,311.8 522.8,311.9 523.3,311.6 523.7,311.6 524.1,311.8 524.6,312 525,312.1 525.4,311.8 525.9,311.4 526.3,311.3 526.8,311.7 527.2,311.8 527.6,312 528.1,312 528.5,312.2 528.9,312.2 529.4,312.2 529.8,311.9 530.2,311.6 530.7,311.7 531.1,311.6 531.6,311.4 532,311.1 532.4,311.5 532.9,311.7 533.3,311.6 533.7,311 534.2,311.2 534.6,311.3 535,311.1 535.5,310.8 535.9,310.9 536.4,311.5 536.8,312.1 537.2,312.3 537.7,311.9 538.1,311.7 538.5,311.8 539,312.3 539.4,312.2 539.8,311.9 540.3,312 540.7,312.2 541.1,311.9 541.6,311.4 542,311.4 542.5,311.1 542.9,311 543.3,310.9 543.8,311 544.2,310.8 544.6,310.7 545.1,310.7 545.5,310.9 545.9,311 546.4,311.4 546.8,311.9 547.3,312.5 547.7,312.4 548.1,312.3 548.6,312 549,311.8 549.4,311.2 549.9,311.2 550.3,311.2 550.7,311.3 551.2,311 551.6,311.3 552.1,311.2 552.5,311.5 552.9,311.6 553.4,311.9 553.8,311.9 554.2,312.2 554.7,312.1 555.1,311.5 555.5,311.2 556,311.7 556.4,312 556.9,312 557.3,311.9 557.7,312 558.2,311.8 558.6,311.5 559,310.9 559.5,311.1 559.9,311.5 560.3,312 560.8,311.7 561.2,311.7 561.7,311.3 562.1,311.5 562.5,311.6 563,311.8 563.4,311.8 563.8,311.8 564.3,311.9 564.7,311.6 565.1,311.2 565.6,311.6 566,311.9 566.4,311.8 566.9,311.3 567.3,311.2 567.8,310.8 568.2,310.6 568.6,310.9 569.1,311.5 569.5,311.6 569.9,311.7 570.4,311.9 570.8,312 571.2,311.7 571.7,311.5 572.1,311.4 572.6,311.2 573,310.9 573.4,311 573.9,311.6 574.3,311.9 574.7,311.8 575.2,311.5 575.6,311.5 576,311.4 576.5,311.4 576.9,311.5 577.4,311.8 577.8,311.7 578.2,311.7 578.7,311.8 579.1,311.9 579.5,311.9 580,312.2 580.4,312.3 580.8,311.9 581.3,311.3 581.7,311.5 582.2,311.9 582.6,312 583,311.6 583.5,311.6 583.9,311.7 584.3,312.1 584.8,311.9 585.2,311.6 585.6,311.4 586.1,311.5 586.5,311.4 587,311.1 587.4,310.9 587.8,310.7 588.3,310.5 588.7,310.9 589.1,311.2 589.6,311.6 590,311.6 590.4,312 590.9,311.9 591.3,312.1 591.7,311.6 592.2,311.3 592.6,311.1 593.1,311.3 593.5,311.6 593.9,311.8 594.4,311.6 594.8,311 595.2,311 595.7,311.5 596.1,312 596.5,311.9 597,311.3 597.4,311.1 597.9,311.4 598.3,311.7 598.7,311.4 599.2,311.5 599.6,311.2 600,311.1 600.5,311.1 600.9,311.3 601.3,311.4 601.8,311.6 602.2,311.9 602.7,311.8 603.1,311.6 603.5,311.7 604,311.8 604.4,312 604.8,311.8 605.3,311.8 605.7,311.6 606.1,311.7 606.6,311.6 607,311.7 607.5,311.5 607.9,311.3 608.3,311 608.8,310.7 609.2,310.6 609.6,311 610.1,311 610.5,310.6 610.9,310.2 611.4,311 611.8,311.5 612.3,311.7 612.7,311.5 613.1,311.9 613.6,311.8 614,311.8 614.4,311.7 614.9,311.6 615.3,311.3 615.7,311.3 616.2,311.3 616.6,311.3 617,311.3 617.5,311.4 617.9,311.7 618.4,311.7 618.8,311.5 619.2,311.3 619.7,311.3 620.1,311.6 620.5,311.6 621,311.5 621.4,311.2 621.8,311.2 622.3,311.6 622.7,311.4 623.2,311.1 623.6,311.2 624,311.3 624.5,311.1 624.9,311.4 625.3,311.9 625.8,312.1 626.2,312.2 626.6,312 627.1,311.7 627.5,311.4 628,311.2 628.4,311.5 628.8,311.5 629.3,311.5 629.7,311.3 630.1,311.6 630.6,312.1 631,312 631.4,311.7 631.9,311.3 632.3,311.2 632.8,311.3 633.2,311.4 633.6,311.6 634.1,311.3 634.5,311.4 634.9,311.8 635.4,311.8 635.8,311.3 636.2,310.8 636.7,311 637.1,311.2 637.5,311.3" fill="none" stroke="#6a7af8" stroke-width="1.9" stroke-linejoin="round" stroke-linecap="butt"/>
<polyline points="92.3,363.2 92.7,363.2 93.2,363.2 93.6,363.2 94,363 94.5,362.9 94.9,362.8 95.4,363 95.8,363.1 96.2,363.3 96.7,363.4 97.1,363.6 97.5,363.7 98,363.6 98.4,363.6 98.8,363.6 99.3,363.9 99.7,364 100.2,364 100.6,363.7 101,363.5 101.5,363.5 101.9,363.4 102.3,363.6 102.8,363.4 103.2,363.3 103.6,363.4 104.1,363.9 104.5,363.8 104.9,362.6 105.4,361 105.8,359.5 106.3,358.7 106.7,358.9 107.1,360 107.6,361.4 108,362.4 108.4,363.1 108.9,363.8 109.3,364.3 109.7,364.2 110.2,364.1 110.6,364 111.1,364 111.5,364.1 111.9,364.1 112.4,364 112.8,363.7 113.2,363.9 113.7,364.2 114.1,364 114.5,363.6 115,362.7 115.4,362 115.9,361.3 116.3,360.8 116.7,360.1 117.2,359.3 117.6,358.9 118,358.5 118.5,358.2 118.9,358 119.3,358.1 119.8,358.6 120.2,358.7 120.7,358.5 121.1,358.4 121.5,358.2 122,358.1 122.4,357.7 122.8,357.2 123.3,357.4 123.7,358.6 124.1,360.1 124.6,360.9 125,361.8 125.5,362.7 125.9,363.4 126.3,363.6 126.8,363.7 127.2,363.6 127.6,363.4 128.1,363.2 128.5,363.2 128.9,363.6 129.4,363.5 129.8,363.2 130.2,363 130.7,363.2 131.1,363.2 131.6,362.9 132,363 132.4,363.1 132.9,363.1 133.3,363.1 133.7,363.3 134.2,363.4 134.6,363.6 135,363.8 135.5,363.7 135.9,363.6 136.4,363.8 136.8,364.2 137.2,364.3 137.7,364.5 138.1,364.4 138.5,364.7 139,364.9 139.4,365.3 139.8,365.1 140.3,365 140.7,365 141.2,365.1 141.6,364.9 142,364.6 142.5,364.6 142.9,364.9 143.3,365.2 143.8,365.2 144.2,364.8 144.6,364.7 145.1,364.7 145.5,364.6 146,364.6 146.4,364.6 146.8,364.7 147.3,364.7 147.7,364.6 148.1,364.7 148.6,364.8 149,364.5 149.4,364.3 149.9,364.3 150.3,364.7 150.8,364.9 151.2,365 151.6,364.9 152.1,364.6 152.5,364.7 152.9,364.6 153.4,364.5 153.8,364.4 154.2,364.6 154.7,364.6 155.1,364.5 155.5,364.4 156,364.4 156.4,364.5 156.9,364.8 157.3,365 157.7,364.9 158.2,364.7 158.6,364.7 159,364.9 159.5,365 159.9,365.3 160.3,365.1 160.8,364.9 161.2,364.7 161.7,365 162.1,365 162.5,364.8 163,364.1 163.4,363.9 163.8,364.1 164.3,364.5 164.7,364.9 165.1,365.2 165.6,365.3 166,364.9 166.5,364.9 166.9,364.8 167.3,364.6 167.8,364.5 168.2,364.6 168.6,364.7 169.1,364.9 169.5,365 169.9,364.9 170.4,364.3 170.8,364.3 171.3,364.8 171.7,365.2 172.1,365 172.6,364.7 173,364.7 173.4,364.8 173.9,364.9 174.3,364.9 174.7,365.1 175.2,365 175.6,364.8 176.1,364.7 176.5,364.7 176.9,364.7 177.4,364.5 177.8,364.4 178.2,364.1 178.7,364.1 179.1,363.9 179.5,363.5 180,363 180.4,362.5 180.8,362.3 181.3,362.2 181.7,362.1 182.2,361.9 182.6,362 183,362.1 183.5,361.9 183.9,362.2 184.3,362.6 184.8,362.9 185.2,363 185.6,363.1 186.1,363.2 186.5,363.1 187,363 187.4,362.7 187.8,362.5 188.3,362.4 188.7,362.4 189.1,362.4 189.6,362.5 190,362.8 190.4,363.4 190.9,363.6 191.3,363.7 191.8,363.6 192.2,364 192.6,364.4 193.1,364.5 193.5,364.7 193.9,364.6 194.4,364.6 194.8,364.5 195.2,364.7 195.7,364.8 196.1,365 196.6,365.2 197,365.4 197.4,365.2 197.9,365 198.3,365 198.7,365.1 199.2,365.2 199.6,365.3 200,365.1 200.5,364.8 200.9,364.4 201.3,364.5 201.8,364.6 202.2,364.7 202.7,364.8 203.1,365.1 203.5,365.2 204,365.1 204.4,365.1 204.8,365.2 205.3,365.1 205.7,364.7 206.1,364.5 206.6,364.6 207,365.1 207.5,365.4 207.9,365.3 208.3,365.1 208.8,365.3 209.2,365.2 209.6,364.7 210.1,364.8 210.5,365.1 210.9,365.2 211.4,365 211.8,365 212.3,364.9 212.7,364.6 213.1,364.8 213.6,364.8 214,365 214.4,365 214.9,365.1 215.3,365.3 215.7,365.3 216.2,365 216.6,364.7 217.1,365 217.5,365.3 217.9,365.1 218.4,364.8 218.8,364.6 219.2,364.7 219.7,364.6 220.1,364.6 220.5,364.3 221,364.1 221.4,363.4 221.9,362.7 222.3,362.2 222.7,362.4 223.2,362.8 223.6,362.7 224,362.7 224.5,363 224.9,363.5 225.3,363.5 225.8,363.4 226.2,363.1 226.6,362.9 227.1,362.2 227.5,361.2 228,360.5 228.4,360.5 228.8,360.9 229.3,361.6 229.7,362.9 230.1,363.8 230.6,364.1 231,364 231.4,364.2 231.9,364.4 232.3,364.4 232.8,364.5 233.2,364.4 233.6,364.1 234.1,363.5 234.5,363.3 234.9,363.5 235.4,363.8 235.8,363.7 236.2,363.5 236.7,363.5 237.1,363.3 237.6,363.2 238,362.9 238.4,363.4 238.9,363.9 239.3,364.4 239.7,364.6 240.2,364.5 240.6,364.5 241,364.4 241.5,364.5 241.9,364.6 242.4,364.7 242.8,364.6 243.2,364.5 243.7,364.4 244.1,364.1 244.5,363.6 245,363.1 245.4,362.4 245.8,361.8 246.3,361.8 246.7,361.7 247.2,362 247.6,362.6 248,363.3 248.5,363.6 248.9,363.7 249.3,363.8 249.8,364 250.2,364.2 250.6,363.9 251.1,363.6 251.5,363.4 251.9,363.3 252.4,363.2 252.8,363.5 253.3,364.1 253.7,364.3 254.1,364.3 254.6,364.2 255,364.2 255.4,364.3 255.9,364.8 256.3,365.1 256.7,364.6 257.2,364 257.6,363.7 258.1,363.8 258.5,363.3 258.9,363.3 259.4,363 259.8,363 260.2,362.8 260.7,363.4 261.1,363.8 261.5,364.2 262,364.4 262.4,364.3 262.9,364.2 263.3,364.2 263.7,364.3 264.2,364.3 264.6,364.2 265,364 265.5,363.9 265.9,363.8 266.3,364.1 266.8,364.1 267.2,364.3 267.7,364 268.1,364 268.5,363.9 269,364.1 269.4,363.9 269.8,364.1 270.3,364.4 270.7,364.5 271.1,364.2 271.6,364.3 272,364.5 272.5,364.6 272.9,364.3 273.3,364.3 273.8,364.2 274.2,364.3 274.6,364 275.1,363.9 275.5,363.7 275.9,363.1 276.4,362.4 276.8,362.4 277.2,362.6 277.7,362.6 278.1,362.9 278.6,363.2 279,363.7 279.4,364.3 279.9,365.2 280.3,365.1 280.7,364.9 281.2,364.9 281.6,365.2 282,365.4 282.5,365.3 282.9,365.1 283.4,364.8 283.8,364.8 284.2,364.7 284.7,364.9 285.1,364.9 285.5,364.8 286,364.8 286.4,364.8 286.8,364.9 287.3,364.8 287.7,365 288.2,365.3 288.6,365.6 289,365.2 289.5,365 289.9,364.8 290.3,365 290.8,365 291.2,365.2 291.6,365.1 292.1,365.1 292.5,365.3 293,365.6 293.4,365.3 293.8,365.1 294.3,364.9 294.7,364.9 295.1,364.7 295.6,364.7 296,364.7 296.4,364.6 296.9,364.6 297.3,364.7 297.8,365.1 298.2,365.4 298.6,365.2 299.1,365 299.5,364.9 299.9,365 300.4,364.8 300.8,364.8 301.2,364.9 301.7,365 302.1,365.3 302.5,365.7 303,365.5 303.4,365.2 303.9,365 304.3,365.1 304.7,365.1 305.2,365.1 305.6,365 306,365.1 306.5,365.1 306.9,365.2 307.3,364.9 307.8,365 308.2,364.8 308.7,364.6 309.1,364.5 309.5,364.7 310,364.8 310.4,364.8 310.8,365.1 311.3,365.3 311.7,365.3 312.1,365.1 312.6,365.2 313,365.1 313.5,364.8 313.9,364.5 314.3,364.8 314.8,365.1 315.2,365 315.6,364.9 316.1,364.7 316.5,365 316.9,365 317.4,365.1 317.8,365 318.3,365.1 318.7,364.8 319.1,364.7 319.6,364.8 320,365 320.4,364.7 320.9,364.6 321.3,364.7 321.7,365 322.2,365 322.6,364.9 323,364.7 323.5,364.7 323.9,364.7 324.4,364.7 324.8,364.7 325.2,365.1 325.7,365.4 326.1,365.5 326.5,365.2 327,365 327.4,365 327.8,365.1 328.3,365.1 328.7,365.1 329.2,365.1 329.6,365 330,364.9 330.5,365.2 330.9,365.3 331.3,365.2 331.8,365.1 332.2,365.3 332.6,365.4 333.1,365 333.5,364.8 334,364.7 334.4,364.9 334.8,365 335.3,365.1 335.7,365.2 336.1,365.1 336.6,364.9 337,364.6 337.4,364.5 337.9,364.8 338.3,365.1 338.8,365 339.2,364.7 339.6,364.8 340.1,365 340.5,364.9 340.9,364.7 341.4,364.9 341.8,365.6 342.2,365.7 342.7,365.2 343.1,364.7 343.6,364.6 344,364.7 344.4,365 344.9,365.4 345.3,365.2 345.7,364.9 346.2,364.7 346.6,365 347,365 347.5,364.9 347.9,365.1 348.3,365.3 348.8,365.2 349.2,365.2 349.7,365.4 350.1,365.2 350.5,364.7 351,364.6 351.4,364.9 351.8,364.9 352.3,365 352.7,365.1 353.1,365.4 353.6,365 354,364.7 354.5,364.6 354.9,364.8 355.3,365.2 355.8,365 356.2,365 356.6,364.6 357.1,364.4 357.5,364.5 357.9,364.7 358.4,364.6 358.8,364.5 359.3,364.9 359.7,365.2 360.1,365.2 360.6,364.9 361,365 361.4,365.5 361.9,365.7 362.3,365.2 362.7,365 363.2,365.2 363.6,365.1 364.1,365.1 364.5,364.9 364.9,364.9 365.4,364.5 365.8,364.7 366.2,365 366.7,365.4 367.1,365.1 367.5,365 368,364.8 368.4,364.9 368.9,365.1 369.3,365.4 369.7,365.2 370.2,365.2 370.6,365.1 371,365.1 371.5,365.1 371.9,365 372.3,365 372.8,365 373.2,364.9 373.6,364.8 374.1,364.9 374.5,365.1 375,365.2 375.4,365.3 375.8,365.3 376.3,365.2 376.7,365 377.1,365.1 377.6,365 378,365 378.4,364.9 378.9,365 379.3,364.7 379.8,364.8 380.2,364.8 380.6,364.9 381.1,364.8 381.5,365.1 381.9,365.2 382.4,365.3 382.8,365.2 383.2,365 383.7,365 384.1,365 384.6,364.7 385,364.2 385.4,364.4 385.9,364.9 386.3,365.1 386.7,365.1 387.2,365.3 387.6,365.4 388,365.1 388.5,365.3 388.9,365.3 389.4,365.3 389.8,364.9 390.2,364.6 390.7,364.5 391.1,364.6 391.5,365 392,365 392.4,365 392.8,365.1 393.3,365.1 393.7,364.9 394.2,364.5 394.6,364.4 395,364.4 395.5,364.6 395.9,364.8 396.3,365 396.8,365 397.2,364.8 397.6,364.6 398.1,364.5 398.5,364.6 398.9,364.9 399.4,365.4 399.8,365.6 400.3,365.1 400.7,364.8 401.1,365 401.6,365.5 402,365.3 402.4,364.8 402.9,364.4 403.3,364.7 403.7,365.2 404.2,365.5 404.6,365.3 405.1,365.1 405.5,365.1 405.9,365.1 406.4,365.1 406.8,365 407.2,365 407.7,364.8 408.1,365 408.5,364.9 409,365 409.4,364.8 409.9,364.7 410.3,364.6 410.7,364.9 411.2,365.1 411.6,365.1 412,365 412.5,365.2 412.9,365.2 413.3,365.1 413.8,365 414.2,365.1 414.7,365 415.1,364.7 415.5,364.5 416,364.8 416.4,364.9 416.8,365 417.3,364.9 417.7,364.8 418.1,364.8 418.6,364.9 419,365 419.4,365 419.9,365.1 420.3,365 420.8,365.1 421.2,365.2 421.6,365 422.1,364.7 422.5,364.7 422.9,364.9 423.4,364.9 423.8,364.9 424.2,364.9 424.7,365.1 425.1,364.9 425.6,365 426,364.8 426.4,364.5 426.9,364.6 427.3,364.8 427.7,365.1 428.2,365.3 428.6,365.4 429,365.2 429.5,365 429.9,365.1 430.4,365.1 430.8,365 431.2,364.9 431.7,365 432.1,365.3 432.5,365.3 433,365 433.4,364.8 433.8,365.1 434.3,365.3 434.7,365.3 435.2,365.2 435.6,365 436,364.9 436.5,365.2 436.9,365.5 437.3,365.3 437.8,365 438.2,365 438.6,365.2 439.1,365.1 439.5,365.1 440,365.1 440.4,365.1 440.8,365.2 441.3,365.1 441.7,365.2 442.1,365 442.6,365.1 443,364.9 443.4,365 443.9,365.2 444.3,365.2 444.7,365.1 445.2,365 445.6,365.1 446.1,364.9 446.5,364.8 446.9,365.1 447.4,365.1 447.8,364.9 448.2,364.6 448.7,364.8 449.1,364.7 449.5,364.8 450,364.6 450.4,364.9 450.9,364.9 451.3,365.3 451.7,365 452.2,364.9 452.6,364.8 453,365 453.5,365 453.9,365.1 454.3,365.1 454.8,365 455.2,364.8 455.7,364.7 456.1,365 456.5,365.2 457,365.3 457.4,364.9 457.8,364.7 458.3,364.6 458.7,364.6 459.1,364.8 459.6,365 460,365.2 460.5,365 460.9,365.1 461.3,365.2 461.8,365.4 462.2,365.2 462.6,365.2 463.1,365.1 463.5,365 463.9,365.1 464.4,365 464.8,364.5 465.3,364.1 465.7,364.2 466.1,364.5 466.6,364.9 467,365 467.4,364.9 467.9,365 468.3,365.3 468.7,365.5 469.2,365.2 469.6,365.1 470,365.2 470.5,365.1 470.9,364.8 471.4,364.4 471.8,364.7 472.2,364.8 472.7,364.9 473.1,364.6 473.5,364.7 474,364.9 474.4,365.1 474.8,365.3 475.3,365.4 475.7,365.4 476.2,365.1 476.6,364.9 477,364.7 477.5,364.7 477.9,365 478.3,365.1 478.8,365.1 479.2,364.7 479.6,364.7 480.1,364.7 480.5,364.9 481,365 481.4,365 481.8,364.7 482.3,364.6 482.7,364.9 483.1,365 483.6,364.8 484,364.6 484.4,364.8 484.9,365.2 485.3,365.5 485.8,365.6 486.2,365.3 486.6,364.8 487.1,364.7 487.5,365.1 487.9,365.3 488.4,365 488.8,364.7 489.2,364.4 489.7,364.6 490.1,364.9 490.6,365.1 491,365.1 491.4,365 491.9,364.9" fill="none" stroke="#e67af8" stroke-width="1.6" stroke-linejoin="round" stroke-linecap="butt"/>
<polyline points="92.3,439.7 92.7,439.7 93.2,439.8 93.6,440 94,440 94.5,440 94.9,440.3 95.4,440.4 95.8,440.6 96.2,440.5 96.7,440.8 97.1,440.8 97.5,440.7 98,440.7 98.4,441.2 98.8,441.5 99.3,441.3 99.7,440.9 100.2,441.4 100.6,441.8 101,441.8 101.5,441.6 101.9,441.9 102.3,442.2 102.8,442.2 103.2,442.1 103.6,442 104.1,441.9 104.5,441.9 104.9,441.9 105.4,441.5 105.8,441.7 106.3,442.3 106.7,442.8 107.1,442.7 107.6,442.6 108,442.4 108.4,442.2 108.9,442.1 109.3,442.2 109.7,442.3 110.2,442.3 110.6,442.4 111.1,442.8 111.5,443.2 111.9,443.4 112.4,443.3 112.8,443.1 113.2,443 113.7,443.1 114.1,443.4 114.5,443.7 115,443.7 115.4,443.6 115.9,443.5 116.3,443.4 116.7,443.3 117.2,443.1 117.6,443.3 118,443.4 118.5,443.3 118.9,443.2 119.3,443.2 119.8,443.5 120.2,443.7 120.7,443.5 121.1,443.1 121.5,443.2 122,443.5 122.4,443.6 122.8,443.6 123.3,443.7 123.7,443.6 124.1,443.6 124.6,443.6 125,443.6 125.5,443.7 125.9,443.7 126.3,443.9 126.8,444 127.2,444 127.6,443.8 128.1,443.8 128.5,444 128.9,444 129.4,443.7 129.8,443.7 130.2,444 130.7,443.9 131.1,443.7 131.6,443.7 132,443.9 132.4,444 132.9,444.4 133.3,444.4 133.7,444.4 134.2,444.4 134.6,444.8 135,444.7 135.5,444.5 135.9,444.4 136.4,444.5 136.8,444.6 137.2,444.6 137.7,444.7 138.1,444.6 138.5,444.4 139,444.3 139.4,444.3 139.8,444.3 140.3,444.2 140.7,444.4 141.2,444.2 141.6,444.3 142,444.5 142.5,444.7 142.9,444.3 143.3,444 143.8,444 144.2,444 144.6,444.2 145.1,444.3 145.5,444.5 146,444.5 146.4,444.3 146.8,444.4 147.3,444.8 147.7,444.8 148.1,444.4 148.6,444.5 149,445 149.4,445 149.9,444.7 150.3,444.4 150.8,444.3 151.2,444.4 151.6,444.4 152.1,444.3 152.5,444.1 152.9,444.6 153.4,444.5 153.8,444.3 154.2,444 154.7,444.1 155.1,444.3 155.5,444.6 156,444.5 156.4,444.3 156.9,444.3 157.3,444.4 157.7,444.4 158.2,444.5 158.6,444.7 159,444.6 159.5,444.6 159.9,444.8 160.3,444.8 160.8,444.8 161.2,444.7 161.7,444.5 162.1,444.4 162.5,444.6 163,444.9 163.4,444.7 163.8,444.6 164.3,444.4 164.7,444.3 165.1,444.3 165.6,444.6 166,444.9 166.5,444.7 166.9,444.4 167.3,444.2 167.8,444.2 168.2,444.5 168.6,444.6 169.1,444.5 169.5,444.3 169.9,444.2 170.4,444.4 170.8,444.7 171.3,444.8 171.7,444.5 172.1,444.2 172.6,444.4 173,444.7 173.4,445.1 173.9,445.2 174.3,445 174.7,444.6 175.2,444.2 175.6,444.2 176.1,444.1 176.5,444.2 176.9,444.2 177.4,444.4 177.8,444.6 178.2,444.7 178.7,444.8 179.1,444.7 179.5,444.6 180,444.6 180.4,444.5 180.8,444.4 181.3,444.4 181.7,444.5 182.2,444.5 182.6,444.6 183,444.3 183.5,444.3 183.9,444.4 184.3,444.4 184.8,444.4 185.2,444.4 185.6,444.4 186.1,444.3 186.5,444.3 187,444.1 187.4,444 187.8,444.3 188.3,444.2 188.7,444.2 189.1,444.3 189.6,444.4 190,444.2 190.4,443.9 190.9,444 191.3,444 191.8,444.2 192.2,444 192.6,444.1 193.1,444.1 193.5,444.1 193.9,444.1 194.4,444.3 194.8,444.1 195.2,443.9 195.7,444 196.1,444.1 196.6,444.1 197,444 197.4,443.9 197.9,443.9 198.3,443.8 198.7,443.8 199.2,444 199.6,444 200,443.8 200.5,443.6 200.9,443.6 201.3,443.7 201.8,443.9 202.2,444 202.7,444.1 203.1,443.8 203.5,443.8 204,443.7 204.4,443.8 204.8,443.6 205.3,443.4 205.7,443.3 206.1,443.3 206.6,443.2 207,443 207.5,443.2 207.9,443.6 208.3,443.8 208.8,443.4 209.2,443.1 209.6,443.3 210.1,443.4 210.5,443.4 210.9,443.3 211.4,443.1 211.8,442.8 212.3,442.9 212.7,443 213.1,442.7 213.6,442.5 214,442.7 214.4,442.9 214.9,442.6 215.3,442.3 215.7,442.5 216.2,442.5 216.6,442.4 217.1,442.2 217.5,442.2 217.9,441.9 218.4,442 218.8,442.1 219.2,441.9 219.7,441.8 220.1,441.9 220.5,441.8 221,441.6 221.4,441.3 221.9,441.1 222.3,440.9 222.7,440.9 223.2,440.8 223.6,440.7 224,440.5 224.5,440.4 224.9,440 225.3,439.8 225.8,439.4 226.2,439 226.6,438.5 227.1,438.6 227.5,438.6 228,438.4 228.4,438 228.8,437.5 229.3,437.3 229.7,436.9 230.1,436.8 230.6,436.5 231,436.2 231.4,435.3 231.9,434.3 232.3,433.4 232.8,432.8 233.2,432.3 233.6,431.5 234.1,430.6 234.5,429.6 234.9,428.9 235.4,428 235.8,426.7 236.2,424.7 236.7,423.3 237.1,421.9 237.6,420.4 238,418.2 238.4,416.1 238.9,414 239.3,411.7 239.7,409.3 240.2,406.5 240.6,403.4 241,399.7 241.5,396.3 241.9,393 242.4,389.8 242.8,386.5 243.2,384 243.7,381.3 244.1,379 244.5,377.6 245,377.6 245.4,378.3 245.8,379.6 246.3,381.6 246.7,384 247.2,386.7 247.6,389.6 248,393.1 248.5,396.5 248.9,399.8 249.3,402.8 249.8,405.6 250.2,408.4 250.6,411.4 251.1,414 251.5,416.3 251.9,418.2 252.4,420.3 252.8,422.5 253.3,424 253.7,425.2 254.1,426.5 254.6,427.8 255,429.1 255.4,430 255.9,431.2 256.3,432.1 256.7,432.9 257.2,433.3 257.6,433.7 258.1,434.2 258.5,435.1 258.9,435.7 259.4,436.1 259.8,436.4 260.2,437 260.7,437.4 261.1,437.7 261.5,438 262,438.4 262.4,438.7 262.9,438.9 263.3,439.2 263.7,439.6 264.2,439.9 264.6,439.8 265,439.8 265.5,440 265.9,440.2 266.3,440.4 266.8,440.5 267.2,440.7 267.7,440.8 268.1,441 268.5,441 269,441.2 269.4,441.4 269.8,441.8 270.3,442.1 270.7,442.3 271.1,442.5 271.6,442.5 272,442.5 272.5,442.3 272.9,442.2 273.3,442.2 273.8,442.3 274.2,442.4 274.6,442.5 275.1,442.6 275.5,442.7 275.9,442.7 276.4,443 276.8,443 277.2,443.1 277.7,442.9 278.1,442.7 278.6,442.4 279,442.5 279.4,442.9 279.9,443.3 280.3,443.4 280.7,443.5 281.2,443.4 281.6,443.5 282,443.5 282.5,443.6 282.9,443.7 283.4,443.6 283.8,443.5 284.2,443.4 284.7,443.6 285.1,443.6 285.5,443.7 286,443.6 286.4,443.5 286.8,443.6 287.3,443.9 287.7,444.2 288.2,444.2 288.6,444.1 289,444.1 289.5,444.1 289.9,444.1 290.3,444.1 290.8,444.1 291.2,444.2 291.6,444.2 292.1,444.1 292.5,443.9 293,443.8 293.4,443.8 293.8,443.9 294.3,444.2 294.7,444.2 295.1,444.1 295.6,444.2 296,444.5 296.4,444.4 296.9,444.6 297.3,444.7 297.8,444.7 298.2,444.1 298.6,443.9 299.1,444 299.5,444.3 299.9,444.2 300.4,444.3 300.8,444.4 301.2,444.3 301.7,444.2 302.1,444.1 302.5,444.2 303,444.2 303.4,444.4 303.9,444.5 304.3,444.4 304.7,444.3 305.2,444.1 305.6,444.2 306,444.1 306.5,444.1 306.9,444.3 307.3,444.8 307.8,444.9 308.2,444.8 308.7,444.6 309.1,444.6 309.5,444.5 310,444.5 310.4,444.3 310.8,444.2 311.3,444.2 311.7,444.4 312.1,444.4 312.6,444.5 313,444.5 313.5,444.6 313.9,444.5 314.3,444.4 314.8,444.3 315.2,444.2 315.6,444.2 316.1,444.4 316.5,444.7 316.9,444.7 317.4,444.7 317.8,444.7 318.3,444.8 318.7,444.5 319.1,444.2 319.6,444.2 320,444.4 320.4,444.5 320.9,444.6 321.3,444.6 321.7,444.7 322.2,444.9 322.6,444.9 323,444.6 323.5,444.4 323.9,444.4 324.4,444.6 324.8,444.7 325.2,444.6 325.7,444.4 326.1,444.5 326.5,444.8 327,444.9 327.4,444.8 327.8,444.7 328.3,444.9 328.7,444.9 329.2,444.9 329.6,444.7 330,444.9 330.5,444.8 330.9,444.9 331.3,444.7 331.8,444.6 332.2,444.7 332.6,444.9 333.1,444.8 333.5,444.7 334,444.7 334.4,445 334.8,444.9 335.3,444.9 335.7,444.8 336.1,444.8 336.6,444.5 337,444.6 337.4,445 337.9,445.2 338.3,444.7 338.8,444.5 339.2,445 339.6,445.2 340.1,444.7 340.5,444.3 340.9,444.6 341.4,444.8 341.8,444.8 342.2,445 342.7,444.9 343.1,445 343.6,445.1 344,445.6 344.4,445.3 344.9,445 345.3,444.6 345.7,444.6 346.2,444.6 346.6,444.5 347,444.3 347.5,444.4 347.9,444.5 348.3,444.6 348.8,444.7 349.2,444.8 349.7,444.6 350.1,444.2 350.5,444.1 351,444.2 351.4,444.5 351.8,444.5 352.3,444.3 352.7,444.1 353.1,444.3 353.6,444.4 354,444.3 354.5,443.4 354.9,443.2 355.3,443.3 355.8,443.6 356.2,443 356.6,442.7 357.1,442.9 357.5,442.7 357.9,442.3 358.4,441.9 358.8,441.9 359.3,441.4 359.7,441.1 360.1,440.8 360.6,440.6 361,440.5 361.4,440.3 361.9,440.1 362.3,439.9 362.7,440 363.2,439.6 363.6,438.8 364.1,438.2 364.5,438 364.9,437.9 365.4,438 365.8,438.1 366.2,438.3 366.7,438 367.1,437.7 367.5,437.7 368,438 368.4,438 368.9,438 369.3,437.8 369.7,437.9 370.2,438.2 370.6,438.4 371,438.4 371.5,438.5 371.9,438.9 372.3,439.3 372.8,439.4 373.2,439.4 373.6,439.4 374.1,440 374.5,440.4 375,440.5 375.4,440.4 375.8,440.3 376.3,440.5 376.7,440.7 377.1,441 377.6,441.1 378,441.4 378.4,441.5 378.9,441.7 379.3,441.6 379.8,442.1 380.2,442.3 380.6,442.3 381.1,442 381.5,442.1 381.9,442.8 382.4,443.1 382.8,443.3 383.2,443.1 383.7,443.4 384.1,443.5 384.6,443.3 385,443.1 385.4,443 385.9,443.2 386.3,443.1 386.7,443.2 387.2,443.6 387.6,443.9 388,443.9 388.5,443.6 388.9,443.6 389.4,443.8 389.8,444 390.2,444 390.7,443.9 391.1,444 391.5,444.1 392,444.4 392.4,444.4 392.8,444.8 393.3,444.7 393.7,444.5 394.2,444.1 394.6,444.2 395,444.3 395.5,444.1 395.9,444.1 396.3,444.2 396.8,444.8 397.2,444.8 397.6,444.7 398.1,444.6 398.5,444.9 398.9,445.2 399.4,445.1 399.8,445.1 400.3,444.9 400.7,444.6 401.1,444.4 401.6,444.9 402,445.3 402.4,445.1 402.9,444.8 403.3,444.7 403.7,445 404.2,445.1 404.6,445.1 405.1,444.7 405.5,444.7 405.9,444.9 406.4,445 406.8,444.6 407.2,444.5 407.7,444.7 408.1,445 408.5,445 409,445.1 409.4,444.9 409.9,444.8 410.3,444.9 410.7,445.3 411.2,445.6 411.6,445.2 412,444.8 412.5,444.6 412.9,444.8 413.3,444.6 413.8,444.6 414.2,444.5 414.7,444.8 415.1,445 415.5,445.4 416,445.4 416.4,445.3 416.8,445.1 417.3,445.1 417.7,445.4 418.1,445.5 418.6,445.3 419,445 419.4,445.1 419.9,445.3 420.3,445.3 420.8,445.2 421.2,445 421.6,444.7 422.1,444.8 422.5,445 422.9,445.1 423.4,444.7 423.8,444.8 424.2,444.8 424.7,444.9 425.1,444.6 425.6,444.8 426,444.8 426.4,445 426.9,444.9 427.3,444.9 427.7,444.7 428.2,444.5 428.6,444.6 429,444.7 429.5,445 429.9,445.1 430.4,445 430.8,444.7 431.2,444.4 431.7,444.4 432.1,444.1 432.5,444.2 433,444.6 433.4,444.6 433.8,444.3 434.3,444 434.7,443.9 435.2,444 435.6,444.1 436,444.1 436.5,443.9 436.9,443.7 437.3,443.7 437.8,443.5 438.2,443.5 438.6,443.5 439.1,443.7 439.5,443.5 440,443.4 440.4,443.4 440.8,443.5 441.3,443.5 441.7,443.4 442.1,443.1 442.6,443.2 443,443.5 443.4,443.4 443.9,443.1 444.3,442.9 444.7,443.4 445.2,443.2 445.6,443.3 446.1,443.1 446.5,443.4 446.9,443.5 447.4,443.5 447.8,443.5 448.2,443.6 448.7,443.8 449.1,444.1 449.5,444 450,443.7 450.4,443.6 450.9,443.8 451.3,443.9 451.7,444 452.2,444 452.6,444 453,444.3 453.5,444.6 453.9,444.1 454.3,443.6 454.8,443.5 455.2,444.2 455.7,444.6 456.1,444.7 456.5,444.5 457,444.6 457.4,444.6 457.8,444.4 458.3,444.6 458.7,444.8 459.1,444.9 459.6,444.7 460,444.7 460.5,445.1 460.9,445.2 461.3,445.1 461.8,444.8 462.2,444.9 462.6,445.1 463.1,445 463.5,445 463.9,444.8 464.4,444.9 464.8,445 465.3,445.1 465.7,444.9 466.1,444.6 466.6,444.9 467,445 467.4,445.3 467.9,445.2 468.3,445 468.7,444.7 469.2,444.8 469.6,445 470,445.1 470.5,444.7 470.9,444.7 471.4,445 471.8,445.3 472.2,445.1 472.7,445 473.1,445.3 473.5,445.5 474,445.3 474.4,445.2 474.8,445.2 475.3,445 475.7,444.7 476.2,445 476.6,445.3 477,445.1 477.5,445.2 477.9,445.4 478.3,445.3 478.8,445.1 479.2,445.3 479.6,445.3 480.1,445.2 480.5,445.3 481,445.4 481.4,445.4 481.8,445.3 482.3,445.1 482.7,445 483.1,445 483.6,445.2 484,445.2 484.4,445 484.9,444.9 485.3,444.9 485.8,445.1 486.2,445.3 486.6,445.4 487.1,445.3 487.5,445.2 487.9,445.1 488.4,444.9 488.8,445 489.2,445.1 489.7,445.1 490.1,444.9 490.6,444.8 491,444.5 491.4,444.2 491.9,444.4 492.3,445.1 492.7,445.4 493.2,445.6 493.6,445.4 494,445.4 494.5,445.4 494.9,445.2 495.3,445 495.8,444.7 496.2,445 496.7,445.1 497.1,445.1 497.5,444.9 498,444.8 498.4,444.6 498.8,444.9 499.3,445.1 499.7,445.3 500.1,445.4 500.6,445.4 501,445.3 501.5,445.4 501.9,445.2 502.3,445 502.8,445.3 503.2,445.8 503.6,445.6 504.1,445 504.5,444.5 504.9,444.3 505.4,444.5 505.8,445 506.3,445.1 506.7,445.3 507.1,445.4 507.6,445.7 508,445.4 508.4,445.6 508.9,445.7 509.3,445.8 509.7,445.4 510.2,445.1 510.6,445.3 511.1,445.5 511.5,445.5 511.9,445.4 512.4,445.4 512.8,445.3 513.2,445.3 513.7,445.6 514.1,445.8 514.5,445.7 515,445.5 515.4,445.5 515.9,445.5 516.3,445.2 516.7,445.1 517.2,445.5 517.6,445.8 518,445.5 518.5,445.1 518.9,445 519.3,445.1 519.8,445.2 520.2,445.6 520.6,445.9 521.1,445.8 521.5,445.9 522,445.9 522.4,445.8 522.8,445.4 523.3,445 523.7,445.2 524.1,445.3 524.6,445.2 525,444.8 525.4,444.9 525.9,445.1 526.3,445.2 526.8,445.1 527.2,444.9 527.6,444.9 528.1,444.8 528.5,445.1 528.9,445.4 529.4,445.5 529.8,445.4 530.2,445 530.7,444.8 531.1,444.8 531.6,445.1 532,445.3 532.4,445.4 532.9,445.3 533.3,445.1 533.7,445.1 534.2,445.1 534.6,445.1 535,444.9 535.5,445.1 535.9,445.1 536.4,445.3 536.8,445.5 537.2,445.6 537.7,445.2 538.1,445.4 538.5,445.6 539,445.8 539.4,445.6 539.8,445.6 540.3,445.4 540.7,445.4 541.1,445.5 541.6,445.5 542,445.4 542.5,445.2 542.9,445.2 543.3,445.5 543.8,445.7 544.2,445.7 544.6,445.5 545.1,445.3 545.5,445.3 545.9,445.2 546.4,445.1 546.8,444.9 547.3,445 547.7,444.8 548.1,445.1 548.6,445.3 549,445.2 549.4,445 549.9,445 550.3,445.2 550.7,445.2 551.2,445.1 551.6,445 552.1,445.1 552.5,445.4 552.9,445.9 553.4,445.9 553.8,445.8 554.2,445.4 554.7,445.4 555.1,445.3 555.5,445.4 556,445.2 556.4,445.1 556.9,444.8 557.3,444.7 557.7,444.8 558.2,445.3 558.6,445.5 559,445.4 559.5,445 559.9,444.8 560.3,445 560.8,445.1 561.2,445.2 561.7,445.3 562.1,445.5 562.5,445.6 563,445.7 563.4,445.5 563.8,445.2 564.3,444.9 564.7,444.8 565.1,445.3 565.6,445.5 566,445.5 566.4,445.1 566.9,445.2 567.3,445.2 567.8,445.3 568.2,445.5 568.6,445.7 569.1,445.5 569.5,445.4 569.9,445.4 570.4,445.4 570.8,445.3 571.2,445.2 571.7,445.3 572.1,445.2 572.6,445.3 573,445.4 573.4,445.6 573.9,445.5 574.3,445.4 574.7,445.3 575.2,445.5 575.6,445.3 576,444.9 576.5,445 576.9,445 577.4,445.3 577.8,445.2 578.2,445.1 578.7,444.8 579.1,444.8 579.5,445.3 580,445.5 580.4,445.5 580.8,445.1 581.3,445 581.7,445 582.2,445.1 582.6,445.2 583,445.4 583.5,445.6 583.9,445.6 584.3,445.6 584.8,445.7 585.2,445.6 585.6,445.2 586.1,445.2 586.5,445.2 587,445.4 587.4,445.4 587.8,445.5 588.3,445.4 588.7,445.2 589.1,445.1 589.6,445.3 590,445.3 590.4,445.1 590.9,445.1 591.3,445.4 591.7,445.5 592.2,445.4 592.6,445.3 593.1,445.1 593.5,444.9 593.9,445 594.4,445 594.8,444.8 595.2,444.8 595.7,445.1 596.1,445.6 596.5,445.6 597,445.5 597.4,445.2 597.9,445.2 598.3,445 598.7,445 599.2,445.2 599.6,445.2 600,445.3 600.5,445.4 600.9,445.8 601.3,445.8 601.8,445.6 602.2,445.3 602.7,445.2 603.1,445.3 603.5,445.3 604,445.5 604.4,445.8 604.8,445.8 605.3,445.7 605.7,445.5 606.1,445.5 606.6,445.5 607,445.5 607.5,445.2 607.9,445.2 608.3,445.1 608.8,445.1 609.2,444.8 609.6,444.8 610.1,445.1 610.5,445.2 610.9,445 611.4,444.8 611.8,444.7 612.3,444.7 612.7,444.8 613.1,444.8 613.6,444.5 614,444.4 614.4,444.3 614.9,444.6 615.3,445 615.7,445.1 616.2,445 616.6,444.6 617,444.4 617.5,444.5 617.9,444.5 618.4,444.5 618.8,444.5 619.2,444.4 619.7,444.1 620.1,444 620.5,444.3 621,444.4 621.4,444.5 621.8,444.4 622.3,444.4 622.7,444 623.2,444.1 623.6,444.4 624,444.7 624.5,444.2 624.9,444.1 625.3,444.1 625.8,444.4 626.2,444.4 626.6,444.2 627.1,444.1 627.5,444 628,444.1 628.4,444 628.8,444.3 629.3,444.6 629.7,444.7 630.1,444.5 630.6,444.6 631,444.8 631.4,444.9 631.9,444.7 632.3,444.8 632.8,445 633.2,445.3 633.6,445.3 634.1,445.2 634.5,445 634.9,444.7 635.4,444.7 635.8,444.9 636.2,445.1 636.7,445.1 637.1,445.3 637.5,445.5" fill="none" stroke="#b4b4b4" stroke-width="2.0" stroke-linejoin="round" stroke-linecap="butt"/>
<rect x="92.3" y="28.8" width="544.7" height="438.2" fill="none" stroke="#000" stroke-width="2.1"/>
<line x1="92.3" y1="467" x2="92.3" y2="471.2" stroke="#000" stroke-width="2.1"/>
<line x1="128.6" y1="467" x2="128.6" y2="475.4" stroke="#000" stroke-width="2.1"/>
<line x1="165" y1="467" x2="165" y2="471.2" stroke="#000" stroke-width="2.1"/>
<line x1="201.3" y1="467" x2="201.3" y2="475.4" stroke="#000" stroke-width="2.1"/>
<line x1="237.7" y1="467" x2="237.7" y2="471.2" stroke="#000" stroke-width="2.1"/>
<line x1="274.1" y1="467" x2="274.1" y2="475.4" stroke="#000" stroke-width="2.1"/>
<line x1="310.4" y1="467" x2="310.4" y2="471.2" stroke="#000" stroke-width="2.1"/>
<line x1="346.8" y1="467" x2="346.8" y2="475.4" stroke="#000" stroke-width="2.1"/>
<line x1="383.1" y1="467" x2="383.1" y2="471.2" stroke="#000" stroke-width="2.1"/>
<line x1="419.4" y1="467" x2="419.4" y2="475.4" stroke="#000" stroke-width="2.1"/>
<line x1="455.8" y1="467" x2="455.8" y2="471.2" stroke="#000" stroke-width="2.1"/>
<line x1="492.1" y1="467" x2="492.1" y2="475.4" stroke="#000" stroke-width="2.1"/>
<line x1="528.5" y1="467" x2="528.5" y2="471.2" stroke="#000" stroke-width="2.1"/>
<line x1="564.8" y1="467" x2="564.8" y2="475.4" stroke="#000" stroke-width="2.1"/>
<line x1="601.2" y1="467" x2="601.2" y2="471.2" stroke="#000" stroke-width="2.1"/>
<line x1="637.5" y1="467" x2="637.5" y2="475.4" stroke="#000" stroke-width="2.1"/>
<text x="129" y="502.7" font-size="27.4" text-anchor="middle">10</text>
<text x="201.8" y="502.7" font-size="27.4" text-anchor="middle">20</text>
<text x="274.4" y="502.7" font-size="27.4" text-anchor="middle">30</text>
<text x="347.1" y="502.7" font-size="27.4" text-anchor="middle">40</text>
<text x="419.8" y="502.7" font-size="27.4" text-anchor="middle">50</text>
<text x="492.5" y="502.7" font-size="27.4" text-anchor="middle">60</text>
<text x="565.2" y="502.7" font-size="27.4" text-anchor="middle">70</text>
<text x="637.9" y="502.7" font-size="27.4" text-anchor="middle">80</text>
<text x="364.5" y="537.8" font-size="27.4" text-anchor="middle">2 Theta (degree)</text>
<text font-size="27.4" text-anchor="middle" transform="translate(40 248.1) rotate(-90)">Intensity (arb. units)</text>
<text x="18.5" y="51.1" font-size="45" font-weight="bold">a</text>
<text x="214.6" y="96.2" font-size="23.4">C(002)</text>
<text x="608.9" y="134.1" font-size="23.4" text-anchor="end">CoPc-OCNT-20</text>
<text x="608.2" y="189.2" font-size="23.4" text-anchor="end">CoPc-OCNT-15</text>
<text x="608.9" y="243.8" font-size="23.4" text-anchor="end">CoPc-OCNT-10</text>
<text x="611.8" y="302.7" font-size="23.4" text-anchor="end">CoPc-OCNT-5</text>
<text x="508.4" y="371.9" font-size="23.4">CoPc</text>
<text x="506" y="434.2" font-size="23.4">OCNT</text>
<polyline points="756.2,60 756.4,60 756.7,60.1 756.9,60.3 757.2,60.4 757.4,60.6 757.7,60.8 757.9,61.1 758.2,61.3 758.4,61.6 758.7,61.9 758.9,62.2 759.2,62.6 759.4,63.1 759.7,63.8 759.9,64.5 760.2,65.2 760.4,66 760.7,66.8 760.9,67.4 761.2,68 761.4,68.5 761.7,68.8 761.9,69 762.2,68.8 762.4,68.1 762.7,67.2 762.9,66 763.2,64.8 763.4,63.8 763.7,63 763.9,62.4 764.2,61.8 764.4,61.2 764.7,60.7 764.9,60.3 765.2,60 765.4,60 765.7,60 765.9,60 766.2,60.1 766.4,60.2 766.7,60.4 766.9,60.5 767.2,60.7 767.4,60.9 767.7,61 767.9,61.2 768.2,61.3 768.4,61.5 768.7,61.6 768.9,61.7 769.2,61.8 769.4,61.9 769.7,62 769.9,62.1 770.2,62.2 770.4,62.3 770.7,62.4 770.9,62.5 771.2,62.6 771.4,62.7 771.7,62.8 771.9,62.9 772.2,63 772.4,63.1 772.7,63.2 772.9,63.3 773.2,63.4 773.4,63.5 773.7,63.7 773.9,63.8 774.2,63.9 774.4,64 774.7,64.1 774.9,64.2 775.2,64.3 775.4,64.3 775.7,64.4 775.9,64.5 776.2,64.5 776.4,64.6 776.7,64.6 776.9,64.7 777.2,64.7 777.4,64.8 777.7,64.8 777.9,64.9 778.2,64.9 778.4,65 778.7,65.1 778.9,65.2 779.2,65.4 779.4,65.6 779.7,66 779.9,66.4 780.2,67 780.4,67.5 780.7,68.1 780.9,68.8 781.2,69.8 781.4,71 781.7,72.2 781.9,73.2 782.2,73.9 782.4,74.1 782.7,73.6 782.9,72.6 783.2,71.2 783.4,69.8 783.7,68.5 783.9,67.5 784.2,66.5 784.4,65.5 784.7,64.6 784.9,63.8 785.2,63.3 785.4,63 785.7,63 785.9,63.1 786.2,63.1 786.4,63.2 786.7,63.3 786.9,63.4 787.2,63.5 787.4,63.6 787.7,63.7 787.9,63.8 788.2,63.9 788.4,64.1 788.7,64.2 788.9,64.3 789.2,64.4 789.4,64.5 789.7,64.6 789.9,64.6 790.2,64.7 790.4,64.8 790.7,64.9 790.9,65 791.2,65.1 791.4,65.2 791.7,65.2 791.9,65.3 792.2,65.4 792.4,65.5 792.7,65.6 792.9,65.7 793.2,65.8 793.4,65.9 793.7,66 793.9,66.1 794.2,66.2 794.4,66.3 794.7,66.5 794.9,66.6 795.2,66.7 795.4,66.8 795.7,66.9 795.9,67 796.2,67.1 796.4,67.2 796.7,67.3 796.9,67.4 797.2,67.5 797.4,67.5 797.7,67.6 797.9,67.7 798.2,67.7 798.4,67.8 798.7,67.8 798.9,67.9 799.2,67.9 799.4,67.9 799.7,68 799.9,68 800.2,68 800.4,68.1 800.7,68.1 800.9,68.1 801.2,68.2 801.4,68.2 801.7,68.2 801.9,68.3 802.2,68.3 802.4,68.4 802.7,68.4 802.9,68.5 803.2,68.6 803.4,68.6 803.7,68.7 803.9,68.8 804.2,68.9 804.4,68.9 804.7,69 804.9,69.1 805.2,69.3 805.4,69.4 805.7,69.5 805.9,69.6 806.2,69.8 806.4,70 806.7,70.3 806.9,70.7 807.2,71.1 807.4,71.5 807.7,71.9 807.9,72.2 808.2,72.4 808.4,72.4 808.7,72.1 808.9,71.8 809.2,71.3 809.4,70.8 809.7,70.3 810,69.9 810.2,69.6 810.5,69.3 810.7,69.1 811,68.8 811.2,68.7 811.5,68.6 811.7,68.7 812,68.7 812.2,68.8 812.5,68.9 812.7,69 813,69.1 813.2,69.2 813.5,69.3 813.7,69.4 814,69.5 814.2,69.6 814.5,69.7 814.7,69.9 815,70 815.2,70.1 815.5,70.3 815.7,70.4 816,70.6 816.2,70.8 816.5,70.9 816.7,71.1 817,71.3 817.2,71.5 817.5,71.7 817.7,71.9 818,72 818.2,72.2 818.5,72.4 818.7,72.6 819,72.8 819.2,73 819.5,73.2 819.7,73.4 820,73.6 820.2,73.8 820.5,74.1 820.7,74.3 821,74.5 821.2,74.8 821.5,75 821.7,75.3 822,75.5 822.2,75.8 822.5,76 822.7,76.2 823,76.5 823.2,76.7 823.5,76.9 823.7,77.2 824,77.4 824.2,77.5 824.5,77.7 824.7,77.9 825,78 825.2,78.1 825.5,78.3 825.7,78.4 826,78.5 826.2,78.6 826.5,78.8 826.7,78.9 827,79 827.2,79.2 827.5,79.3 827.7,79.5 828,79.7 828.2,79.9 828.5,80.1 828.7,80.3 829,80.6 829.2,80.9 829.5,81.3 829.7,81.7 830,82.1 830.2,82.5 830.5,83 830.7,83.5 831,84 831.2,84.5 831.5,85.1 831.7,85.7 832,86.4 832.2,87.1 832.5,87.9 832.7,88.8 833,89.7 833.2,90.7 833.5,91.7 833.7,92.8 834,94 834.2,95.4 834.5,96.8 834.7,98.4 835,100 835.2,101.6 835.5,103.2 835.7,104.7 836,106.2 836.2,107.6 836.5,109.1 836.7,110.6 837,112.2 837.2,114 837.5,116.1 837.7,118.4 838,121.2 838.2,124.7 838.5,128.9 838.7,133.9 839,139.7 839.2,146.5 839.5,156.4 839.7,168.9 840,181.8 840.2,194.7 840.5,207.3 840.7,217 841,218.3 841.2,209.1 841.5,197.5 841.7,183.9 842,168.9 842.2,152.3 842.5,135.7 842.7,120.4 843,105.7 843.2,90.7 843.5,77.7 843.7,69 844,64.4 844.2,60.5 844.5,57.5 844.7,55.5 845,54.9 845.2,55.6 845.5,57.4 845.7,59.9 846,62.7 846.2,65.6 846.5,69.2 846.7,73.5 847,78.3 847.2,83.4 847.5,88.4 847.7,93.2 848,97.5 848.2,102.2 848.5,107.3 848.7,112.3 849,116.8 849.2,120.6 849.5,123.1 849.7,124 850,121.9 850.2,116.5 850.5,109.1 850.7,101.1 851,93.9 851.2,85.6 851.5,77.1 851.7,70.6 852,66.9 852.2,63.7 852.5,61.7 852.7,61.4 853,62.1 853.2,63.3 853.5,64.8 853.7,66.5 854,68.1 854.2,69.6 854.5,71.2 854.7,72.8 855,74.6 855.2,76.4 855.5,78.1 855.7,79.8 856,81.4 856.2,83 856.5,84.8 856.7,86.7 857,88.6 857.2,90.4 857.5,92.1 857.7,93.5 858,94.6 858.2,95.2 858.5,95.3 858.7,93.9 859,91.2 859.2,87.9 859.5,84.7 859.7,80.9 860,76.3 860.2,71.6 860.5,67.3 860.7,63.8 861,61.3 861.2,59 861.5,56.9 861.7,55.4 862,54.9 862.2,54.9 862.5,55 862.7,55.1 863,55.3 863.2,55.6 863.5,55.8 863.7,56.1 864,56.3 864.2,56.6 864.5,56.8 864.7,57.1 865,57.5 865.2,57.9 865.5,58.2 865.7,58.6 866,59 866.2,59.4 866.5,59.7 866.7,60 867,60.2 867.2,60.4 867.5,60.5 867.7,60.5 868,60.4 868.2,60.3 868.5,60.1 868.7,59.9 869,59.7 869.2,59.5 869.5,59.4 869.7,59.2 870,59.1 870.2,59.1 870.5,59.1 870.7,59.2 871,59.2 871.2,59.3 871.5,59.4 871.7,59.4 872,59.5 872.2,59.7 872.5,59.8 872.7,59.9 873,60 873.2,60.1 873.5,60.2 873.7,60.4 874,60.5 874.2,60.6 874.5,60.7 874.7,60.8 875,60.8 875.2,60.9 875.5,61 875.7,61.1 876,61.2 876.2,61.3 876.5,61.4 876.7,61.5 877,61.6 877.2,61.6 877.5,61.7 877.7,61.8 878,61.9 878.2,62 878.5,62.1 878.7,62.2 879,62.3 879.2,62.4 879.5,62.5 879.7,62.6 880,62.7 880.2,62.8 880.5,62.9 880.7,63 881,63.1 881.2,63.2 881.5,63.3 881.7,63.4 882,63.5 882.2,63.6 882.5,63.7 882.7,63.8 883,63.9 883.2,64 883.5,64.2 883.7,64.3 884,64.4 884.2,64.5 884.5,64.6 884.7,64.8 885,64.9 885.2,65 885.5,65.1 885.7,65.2 886,65.4 886.2,65.5 886.5,65.6 886.7,65.8 887,65.9 887.2,66.1 887.5,66.3 887.7,66.5 888,66.7 888.2,67 888.5,67.4 888.7,67.9 889,68.4 889.2,69 889.5,69.7 889.7,70.3 890,70.9 890.2,71.5 890.5,72 890.7,72.6 891,73.2 891.2,73.9 891.5,74.4 891.7,74.9 892,75.3 892.2,75.4 892.5,75.3 892.7,74.8 893,73.9 893.2,72.9 893.5,71.8 893.7,70.8 894,69.9 894.2,69.3 894.5,68.6 894.7,68 895,67.3 895.2,66.7 895.5,66.1 895.7,65.5 896,65.1 896.2,64.7 896.5,64.4 896.7,64.3 897,64.2 897.2,64.2 897.5,64.3 897.7,64.4 898,64.5 898.2,64.6 898.5,64.7 898.7,64.9 899,65 899.2,65.2 899.5,65.4 899.7,65.6 900,65.8 900.2,66 900.5,66.2 900.7,66.4 901,66.5 901.2,66.7 901.5,66.9 901.7,67.1 902,67.3 902.2,67.4 902.5,67.7 902.7,67.9 903,68.1 903.2,68.4 903.5,68.7 903.7,69 904,69.4 904.2,69.8 904.5,70.4 904.7,71.3 905,72.4 905.2,73.6 905.5,74.9 905.7,76.3 906,77.7 906.2,79.1 906.5,80.8 906.7,82.8 907,84.7 907.2,86.5 907.5,87.8 907.7,88.5 908,88 908.2,85.5 908.5,81.8 908.7,77.6 909,73.7 909.2,71 909.5,68.7 909.7,66.4 910,64.4 910.2,62.9 910.5,62.2 910.7,62.2 911,62.2 911.2,62.3 911.5,62.5 911.7,62.6 912,62.8 912.2,63 912.5,63.2 912.7,63.4 913,63.6 913.2,63.8 913.5,64 913.7,64.3 914,64.6 914.2,65 914.5,65.3 914.7,65.6 915,66 915.2,66.3 915.5,66.7 915.7,67.1 916,67.5 916.2,67.9 916.5,68.4 916.7,68.8 917,69.3 917.2,69.7 917.5,70.1 917.7,70.5 918,70.9 918.2,71.2 918.5,71.6 918.7,72 919,72.4 919.2,72.7 919.5,73 919.7,73.1 920,73.2 920.2,73.2 920.5,73 920.7,72.8 921,72.4 921.2,72 921.5,71.6 921.7,71.2 922,70.8 922.2,70.6 922.5,70.3 922.7,70.1 923,69.9 923.2,69.6 923.5,69.4 923.7,69.2 924,69 924.2,68.9 924.5,68.8 924.7,68.7 925,68.6 925.2,68.7 925.5,68.7 925.7,68.8 926,68.9 926.2,69.1 926.5,69.2 926.7,69.4 927,69.6 927.2,69.8 927.5,70.1 927.7,70.3 928,70.5 928.2,70.7 928.5,70.9 928.7,71.1 929,71.2 929.2,71.4 929.5,71.6 929.7,71.8 930,71.9 930.2,72.1 930.5,72.3 930.7,72.5 931,72.7 931.2,72.8 931.5,72.9 931.7,73.1 932,73.2 932.2,73.2 932.5,73.3 932.7,73.3 933,73.3 933.2,73.4 933.5,73.4 933.7,73.4 934,73.4 934.2,73.4 934.5,73.4 934.7,73.5 935,73.5 935.2,73.5 935.5,73.5 935.7,73.6 936,73.7 936.2,74 936.5,74.4 936.7,75 937,75.5 937.2,76.1 937.5,76.7 937.7,77.3 938,77.8 938.2,78.1 938.5,78.3 938.7,78.3 939,78.2 939.2,78 939.5,77.7 939.7,77.3 940,76.9 940.2,76.5 940.5,76.2 940.7,75.9 941,75.7 941.2,75.5 941.5,75.4 941.7,75.2 942,75 942.2,74.9 942.5,74.7 942.7,74.6 943,74.5 943.2,74.4 943.5,74.3 943.7,74.3 944,74.3 944.2,74.3 944.5,74.3 944.7,74.4 945,74.5 945.2,74.6 945.5,74.7 945.7,74.9 946,75 946.2,75.2 946.5,75.3 946.7,75.5 947,75.7 947.2,75.9 947.5,76.1 947.7,76.3 948,76.5 948.2,76.7 948.5,76.9 948.7,77.1 949,77.2 949.2,77.4 949.5,77.6 949.7,77.7 950,77.9 950.2,78 950.5,78.2 950.7,78.3 951,78.5 951.2,78.6 951.5,78.8 951.7,78.9 952,79.1 952.2,79.2 952.5,79.4 952.7,79.5 953,79.7 953.2,79.8 953.5,80 953.7,80.2 954,80.3 954.2,80.5 954.5,80.7 954.7,80.9 955,81.1 955.2,81.3 955.5,81.5 955.7,81.7 956,81.9 956.2,82.2 956.5,82.4 956.7,82.7 957,83 957.2,83.3 957.5,83.6 957.7,83.9 958,84.3 958.2,84.7 958.5,85 958.7,85.4 959,85.8 959.2,86.3 959.5,86.7 959.7,87.1 960,87.6 960.2,88 960.5,88.4 960.7,88.9 961,89.4 961.2,89.9 961.5,90.4 961.7,91 962,91.6 962.2,92.2 962.5,92.9 962.7,93.7 963,94.5 963.2,95.5 963.5,96.6 963.7,98 964,99.5 964.2,101.1 964.5,102.6 964.7,104.1 965,105.8 965.2,107.8 965.5,109.9 965.7,111.8 966,113.3 966.2,114.3 966.5,114.4 966.7,113.1 967,110.9 967.2,108.4 967.5,106.2 967.7,105 968,103.8 968.2,103 968.5,102.7 968.7,103.3 969,104.5 969.2,106.2 969.5,108.1 969.7,110.1 970,112.2 970.2,114.6 970.5,117.4 970.7,120.3 971,123.4 971.2,126.4 971.5,129.2 971.7,132 972,135.1 972.2,138.5 972.5,141.7 972.7,144.7 973,147.2 973.2,149 973.5,149.8 973.7,149.3 974,146.8 974.2,142.8 974.5,138 974.7,133 975,128.2 975.2,122.7 975.5,116.3 975.7,109.9 976,104 976.2,99.5 976.5,96.1 976.7,92.9 977,89.9 977.2,87.4 977.5,85.6 977.7,84.7 978,84.8 978.2,85.7 978.5,87.1 978.7,89 979,91.3 979.2,93.9 979.5,96.6 979.7,99.3 980,102.8 980.2,107.2 980.5,112.3 980.7,117.8 981,123.5 981.2,129.3 981.5,134.7 981.7,139.7 982,144.9 982.2,150.6 982.5,156.4 982.7,161.7 983,166 983.2,168.7 983.5,169.4 983.7,167.6 984,163.5 984.2,157.9 984.5,151.1 984.7,144 985,136.9 985.2,130.3 985.5,122.9 985.7,114.5 986,105.8 986.2,97.4 986.5,89.9 986.7,83.8 987,79.4 987.2,75.4 987.5,71.7 987.7,68.5 988,65.7 988.2,63.4 988.5,61.6 988.7,60.4 989,59.2 989.2,58.1 989.5,57.2 989.7,56.5 990,56 990.2,55.9 990.5,55.9 990.7,56.1 991,56.3 991.2,56.6 991.5,57 991.7,57.5 992,57.9 992.2,58.4 992.5,59 992.7,59.5 993,60 993.2,60.6 993.5,61.2 993.7,61.9 994,62.7 994.2,63.5 994.5,64.4 994.7,65.4 995,66.4 995.2,67.6 995.5,68.8 995.7,70.3 996,72.1 996.2,74.1 996.5,76.3 996.7,78.6 997,81 997.2,83.5 997.5,86.1 997.7,89.3 998,93.1 998.2,97.2 998.5,101 998.7,104.4 999,106.7 999.2,107.8 999.5,107 999.7,104.3 1000,100.2 1000.2,95.4 1000.5,90.5 1000.7,86.2 1001,82.7 1001.2,78.9 1001.5,75.1 1001.7,71.4 1002,67.9 1002.2,65 1002.5,62.6 1002.7,61.1 1003,59.8 1003.2,58.7 1003.5,57.6 1003.7,56.7 1004,55.9 1004.2,55.3 1004.5,55 1004.7,54.8 1005,54.9 1005.2,55 1005.5,55.2 1005.7,55.4 1006,55.6 1006.2,55.9 1006.5,56.2 1006.7,56.5 1007,56.7 1007.2,57 1007.5,57.3 1007.7,57.6 1008,57.9 1008.2,58.2 1008.5,58.5 1008.7,58.9 1009,59.2 1009.2,59.5 1009.5,59.9 1009.7,60.2 1010,60.4 1010.2,60.7 1010.5,61 1010.7,61.3 1011,61.6 1011.2,61.9 1011.5,62.2 1011.7,62.5 1012,62.7 1012.2,62.9 1012.5,63 1012.7,63 1013,63 1013.2,63 1013.5,63 1013.7,62.9 1014,62.9 1014.2,62.8 1014.5,62.7 1014.7,62.6 1015,62.5 1015.2,62.4 1015.5,62.3 1015.7,62.2 1016,62.1 1016.2,62 1016.5,61.9 1016.7,61.8 1017,61.7 1017.2,61.5 1017.5,61.4 1017.7,61.3 1018,61.2 1018.2,61.1 1018.5,61 1018.7,60.9 1019,60.9 1019.2,60.8 1019.5,60.7 1019.7,60.7 1020,60.7 1020.2,60.6 1020.5,60.6 1020.7,60.7 1021,60.7 1021.2,60.7 1021.5,60.8 1021.7,60.8 1022,60.9 1022.2,61 1022.5,61.1 1022.7,61.2 1023,61.3 1023.2,61.5 1023.5,61.6 1023.7,61.7 1024,61.9 1024.2,62 1024.5,62.2 1024.7,62.3 1025,62.5 1025.2,62.7 1025.5,62.8 1025.7,63 1026,63.1 1026.2,63.3 1026.5,63.4 1026.7,63.6 1027,63.7 1027.2,63.9 1027.5,64 1027.7,64.1 1028,64.3 1028.2,64.4 1028.5,64.6 1028.7,64.7 1029,64.9 1029.2,65 1029.5,65.2 1029.7,65.3 1030,65.5 1030.2,65.6 1030.5,65.8 1030.7,65.9 1031,66.1 1031.2,66.2 1031.5,66.4 1031.7,66.6 1032,66.7 1032.2,66.9 1032.5,67.1 1032.7,67.2 1033,67.4 1033.2,67.6 1033.5,67.7 1033.7,67.9 1034,68.1 1034.2,68.2 1034.5,68.4 1034.7,68.6 1035,68.8 1035.2,68.9 1035.5,69.1 1035.7,69.3 1036,69.4 1036.2,69.6 1036.5,69.8 1036.7,70 1037,70.2 1037.2,70.5 1037.5,70.7 1037.7,70.9 1038,71.2 1038.2,71.4 1038.5,71.7 1038.7,72 1039,72.3 1039.2,72.6 1039.5,73 1039.7,73.5 1040,74 1040.2,74.7 1040.5,75.7 1040.7,77.1 1041,78.7 1041.2,80.5 1041.5,82.4 1041.7,84.5 1042,86.5 1042.2,88.5 1042.5,90.7 1042.7,93.5 1043,96.6 1043.2,99.9 1043.5,103.3 1043.7,106.5 1044,109.5 1044.2,112.1 1044.5,114.1 1044.7,115.4 1045,115.8 1045.2,114.6 1045.5,111.6 1045.7,107.3 1046,102.2 1046.2,96.7 1046.5,91.5 1046.7,86.9 1047,83.1 1047.2,79.1 1047.5,75.2 1047.7,72 1048,70 1048.2,69.2 1048.5,68.5 1048.7,68 1049,67.6 1049.2,67.3 1049.5,67.3 1049.7,67.4 1050,67.5 1050.2,67.7 1050.5,67.9 1050.7,68.2 1051,68.5 1051.2,68.9 1051.5,69.2 1051.7,69.5 1052,69.9 1052.2,70.2 1052.5,70.6 1052.7,71 1053,71.4 1053.2,71.9 1053.5,72.4 1053.7,73 1054,73.5 1054.2,74.2 1054.5,74.9 1054.7,75.7 1055,76.5 1055.2,77.6 1055.5,78.7 1055.7,79.9 1056,81.3 1056.2,82.8 1056.5,84.4 1056.7,86.1 1057,88 1057.2,90.1 1057.5,92.8 1057.7,96 1058,99.6 1058.2,103.4 1058.5,107.4 1058.7,111.3 1059,115.1 1059.2,118.7 1059.5,122.2 1059.7,126.2 1060,130.4 1060.2,134.3 1060.5,137.5 1060.7,139.7 1061,140.5 1061.2,138.8 1061.5,134.3 1061.7,128 1062,120.8 1062.2,113.6 1062.5,106.7 1062.7,98.2 1063,88.8 1063.2,79.9 1063.5,72.5 1063.7,67.7 1064,64.4 1064.2,61.4 1064.5,58.7 1064.7,56.7 1065,55.3 1065.2,54.8 1065.5,54.9 1065.7,55.1 1066,55.3 1066.2,55.6 1066.5,56 1066.7,56.4 1067,56.9 1067.2,57.3 1067.5,57.8 1067.7,58.2 1068,58.6 1068.2,58.9 1068.5,59.2 1068.7,59.6 1069,60 1069.2,60.4 1069.5,60.7 1069.7,61.1 1070,61.5 1070.2,61.9 1070.5,62.3 1070.7,62.7 1071,63 1071.2,63.4 1071.5,63.7 1071.7,64 1072,64.3 1072.2,64.5 1072.5,64.8 1072.7,65 1073,65.1 1073.2,65.2 1073.5,65.3 1073.7,65.4 1074,65.5 1074.2,65.6 1074.5,65.7 1074.7,65.8 1075,65.8 1075.2,65.9 1075.5,66 1075.7,66 1076,66 1076.2,66.1 1076.5,66.1 1076.7,66.1 1077,66 1077.2,66 1077.5,65.8 1077.7,65.7 1078,65.5 1078.2,65.3 1078.5,65.1 1078.7,65 1079,64.8 1079.2,64.6 1079.5,64.5 1079.7,64.4 1080,64.4 1080.2,64.4 1080.5,64.6 1080.7,64.9 1081,65.3 1081.2,65.8 1081.5,66.3 1081.7,66.8 1082,67.3 1082.2,67.7 1082.5,68 1082.7,68.2 1083,68.4 1083.2,68.6 1083.5,68.7 1083.7,68.8 1084,68.9 1084.2,69 1084.5,69.1 1084.7,69.3 1085,69.4 1085.2,69.5 1085.5,69.7 1085.7,69.8 1086,70 1086.2,70.1 1086.5,70.3 1086.7,70.4 1087,70.6 1087.2,70.8 1087.5,71 1087.7,71.2 1088,71.5 1088.2,71.7 1088.5,72 1088.7,72.3 1089,72.6 1089.2,72.9 1089.5,73.3 1089.7,73.8 1090,74.3 1090.2,74.9 1090.5,75.6 1090.7,76.5 1091,77.8 1091.2,79.2 1091.5,80.8 1091.7,82.6 1092,84.5 1092.2,86.5 1092.5,88.5 1092.7,91.1 1093,94.5 1093.2,98.5 1093.5,102.9 1093.7,107.3 1094,111.5 1094.2,115.4 1094.5,118.5 1094.7,120.7 1095,121.8 1095.2,120.8 1095.5,116.9 1095.7,110.9 1096,103.6 1096.2,95.8 1096.5,88.3 1096.7,82 1097,76.2 1097.2,70.1 1097.5,64.9 1097.7,61.6 1098,60.1 1098.2,58.8 1098.5,58 1098.7,57.6 1099,57.6 1099.2,57.7 1099.5,57.9 1099.7,58.1 1100,58.4 1100.2,58.7 1100.5,59 1100.7,59.4 1101,59.7 1101.2,60.1 1101.5,60.5 1101.7,60.8 1102,61.1 1102.2,61.4 1102.5,61.6 1102.7,61.8 1103,62 1103.2,62.2 1103.5,62.4 1103.7,62.6 1104,62.8 1104.2,63 1104.5,63.2 1104.7,63.4 1105,63.6 1105.2,63.8 1105.5,64.1 1105.7,64.4 1106,64.6 1106.2,64.9 1106.5,65.3 1106.7,65.7 1107,66.2 1107.2,66.7 1107.5,67.4 1107.7,68 1108,68.7 1108.2,69.4 1108.5,70.1 1108.7,70.8 1109,71.5 1109.2,72.2 1109.5,73 1109.7,73.9 1110,74.8 1110.2,75.6 1110.5,76.3 1110.7,76.7 1111,77 1111.2,76.6 1111.5,75.2 1111.7,73.2 1112,71 1112.2,69.1 1112.5,67.9 1112.7,67 1113,66.2 1113.2,65.5 1113.5,65 1113.7,64.7 1114,64.8 1114.2,64.8 1114.5,65 1114.7,65.2 1115,65.4 1115.2,65.7 1115.5,66 1115.7,66.3 1116,66.6 1116.2,66.9 1116.5,67.1 1116.7,67.4 1117,67.6 1117.2,67.7 1117.5,67.8 1117.7,67.8 1118,67.9 1118.2,67.9 1118.5,67.9 1118.7,67.9 1119,67.9 1119.2,68 1119.5,68 1119.7,68 1120,68 1120.2,68 1120.5,68.1 1120.7,68.1 1121,68.1 1121.2,68.2 1121.5,68.4 1121.7,68.6 1122,68.8 1122.2,69 1122.5,69.3 1122.7,69.7 1123,70 1123.2,70.4 1123.5,70.7 1123.7,71.1 1124,71.5 1124.2,71.9 1124.5,72.4 1124.7,72.9 1125,73.5 1125.2,74.1 1125.5,74.8 1125.7,75.6 1126,76.5 1126.2,77.5 1126.5,78.8 1126.7,80.3 1127,82 1127.2,84 1127.5,86 1127.7,88.1 1128,90.3 1128.2,92.4 1128.5,94.5 1128.7,96.6 1129,99.1 1129.2,101.9 1129.5,104.9 1129.7,107.8 1130,110.4 1130.2,112.6 1130.5,114.2 1130.7,114.9 1131,114.4 1131.2,111.8 1131.5,107.6 1131.7,102.3 1132,96.5 1132.2,90.8 1132.5,85.7 1132.7,80.7 1133,75 1133.2,69.3 1133.5,64.3 1133.7,60.8 1134,59 1134.2,57.8 1134.5,56.8 1134.7,55.9 1135,55.3 1135.2,54.9 1135.5,54.9 1135.7,54.9 1136,54.9 1136.2,55 1136.5,55.1 1136.7,55.2 1137,55.4 1137.2,55.5 1137.5,55.7 1137.7,55.8 1138,56 1138.2,56.2 1138.5,56.3 1138.7,56.4 1139,56.5 1139.2,56.6 1139.5,56.7 1139.7,56.7 1140,56.8 1140.2,56.8 1140.5,56.8 1140.7,56.8 1141,56.8 1141.2,56.8 1141.5,56.9 1141.7,56.9 1142,56.9 1142.2,56.9 1142.5,56.9 1142.7,56.9 1143,56.9 1143.2,56.9 1143.5,57 1143.7,57 1144,57 1144.2,57 1144.5,57 1144.7,57.1 1145,57.1 1145.2,57.2 1145.5,57.2 1145.7,57.3 1146,57.4 1146.2,57.6 1146.5,57.7 1146.7,57.9 1147,58 1147.2,58.2 1147.5,58.4 1147.7,58.6 1148,58.8 1148.2,59 1148.5,59.2 1148.7,59.5 1149,59.7 1149.2,59.9 1149.5,60.1 1149.7,60.3 1150,60.6 1150.2,60.8 1150.5,61.1 1150.7,61.4 1151,61.8 1151.2,62.2 1151.5,62.6 1151.7,63 1152,63.4 1152.2,63.8 1152.5,64.2 1152.7,64.6 1153,65 1153.2,65.4 1153.5,65.7 1153.7,66.1 1154,66.3 1154.2,66.6 1154.5,66.7 1154.7,66.9 1155,66.9 1155.3,67 1155.5,67 1155.8,67 1156,67 1156.3,67.1 1156.5,67.1 1156.8,67.1 1157,67.1 1157.3,67.1 1157.5,67.1 1157.8,67.1 1158,67.1 1158.3,67.2 1158.5,67.2 1158.8,67.2 1159,67.2 1159.3,67.3 1159.5,67.4 1159.8,67.7 1160,68.2 1160.3,68.8 1160.5,69.5 1160.8,70.2 1161,70.9 1161.3,71.6 1161.5,72.2 1161.8,72.7 1162,73.1 1162.3,73.2 1162.5,73.1 1162.8,72.3 1163,71.1 1163.3,69.7 1163.5,68.2 1163.8,66.8 1164,65.7 1164.3,64.9 1164.5,64.1 1164.8,63.3 1165,62.6 1165.3,61.9 1165.5,61.4 1165.8,61 1166,60.8 1166.3,60.8 1166.5,60.9 1166.8,60.9 1167,61 1167.3,61.1 1167.5,61.2 1167.8,61.4 1168,61.5 1168.3,61.7 1168.5,61.8 1168.8,62 1169,62.1 1169.3,62.3 1169.5,62.4 1169.8,62.5 1170,62.6 1170.3,62.7 1170.5,62.7 1170.8,62.7 1171,62.8 1171.3,62.8 1171.5,62.9 1171.8,62.9 1172,62.9 1172.3,62.9 1172.5,63 1172.8,63 1173,63 1173.3,63 1173.5,63 1173.8,63 1174,63 1174.3,63 1174.5,62.9 1174.8,62.8 1175,62.6 1175.3,62.5 1175.5,62.3 1175.8,62.1 1176,61.9 1176.3,61.7 1176.5,61.4 1176.8,61.2 1177,61 1177.3,60.8 1177.5,60.5 1177.8,60.3 1178,60.1 1178.3,60 1178.5,59.8 1178.8,59.7 1179,59.6 1179.3,59.4 1179.5,59.3 1179.8,59.2 1180,59.1 1180.3,59 1180.5,58.8 1180.8,58.7 1181,58.6 1181.3,58.5 1181.5,58.4 1181.8,58.3 1182,58.1 1182.3,58 1182.5,57.9 1182.8,57.8 1183,57.7 1183.3,57.6 1183.5,57.5 1183.8,57.4 1184,57.4 1184.3,57.3 1184.5,57.2 1184.8,57.1 1185,57.1 1185.3,57 1185.5,56.9 1185.8,56.9 1186,56.8 1186.3,56.8 1186.5,56.8 1186.8,56.7 1187,56.7 1187.3,56.7 1187.5,56.7 1187.8,56.7 1188,56.7 1188.3,56.7 1188.5,56.7 1188.8,56.8 1189,56.8 1189.3,56.8 1189.5,56.8 1189.8,56.8 1190,56.8 1190.3,56.9 1190.5,56.9 1190.8,56.9 1191,56.9 1191.3,57 1191.5,57 1191.8,57 1192,57 1192.3,57.1 1192.5,57.1 1192.8,57.1 1193,57.2 1193.3,57.2 1193.5,57.2 1193.8,57.3 1194,57.3 1194.3,57.3 1194.5,57.4 1194.8,57.4 1195,57.5 1195.3,57.5 1195.5,57.5 1195.8,57.6 1196,57.6 1196.3,57.6 1196.5,57.7 1196.8,57.7 1197,57.8 1197.3,57.8 1197.5,57.9 1197.8,58 1198,58 1198.3,58.1 1198.5,58.2 1198.8,58.2 1199,58.3 1199.3,58.4 1199.5,58.4 1199.8,58.5 1200,58.6 1200.3,58.6 1200.5,58.7 1200.8,58.7 1201,58.8 1201.3,58.8 1201.5,58.8 1201.8,58.9 1202,58.9 1202.3,58.9 1202.5,58.9 1202.8,58.9 1203,58.9 1203.3,58.9 1203.5,58.9 1203.8,58.9 1204,58.9 1204.3,58.8 1204.5,58.8 1204.8,58.8 1205,58.7 1205.3,58.7 1205.5,58.6 1205.8,58.6 1206,58.5 1206.3,58.4 1206.5,58.4 1206.8,58.3 1207,58.2 1207.3,58.2 1207.5,58.1 1207.8,58 1208,58 1208.3,57.9 1208.5,57.8 1208.8,57.7 1209,57.7 1209.3,57.6 1209.5,57.5 1209.8,57.5 1210,57.4 1210.3,57.3 1210.5,57.2 1210.8,57.2 1211,57.1 1211.3,57.1 1211.5,57 1211.8,56.9 1212,56.9 1212.3,56.8 1212.5,56.7 1212.8,56.6 1213,56.5 1213.3,56.5 1213.5,56.4 1213.8,56.3 1214,56.2 1214.3,56.1 1214.5,56 1214.8,55.9 1215,55.9 1215.3,55.8 1215.5,55.7 1215.8,55.6 1216,55.5 1216.3,55.5 1216.5,55.4 1216.8,55.3 1217,55.2 1217.3,55.2 1217.5,55.1 1217.8,55.1 1218,55 1218.3,55 1218.5,54.9 1218.8,54.9 1219,54.9 1219.3,54.9 1219.5,54.9 1219.8,54.8 1220,54.9 1220.3,54.9 1220.5,54.9 1220.8,54.9 1221,54.9 1221.3,54.9 1221.5,54.9 1221.8,54.9 1222,54.9 1222.3,54.9 1222.5,54.9 1222.8,54.9 1223,54.9 1223.3,54.9 1223.5,54.9 1223.8,55 1224,55 1224.3,55 1224.5,55 1224.8,55 1225,55 1225.3,55 1225.5,55 1225.8,55.1 1226,55.1 1226.3,55.1 1226.5,55.1 1226.8,55.1 1227,55.1 1227.3,55.2 1227.5,55.2 1227.8,55.2 1228,55.2 1228.3,55.2 1228.5,55.3 1228.8,55.3 1229,55.3 1229.3,55.3 1229.5,55.3 1229.8,55.3 1230,55.4 1230.3,55.4 1230.5,55.4 1230.8,55.4 1231,55.5 1231.3,55.5 1231.5,55.5 1231.8,55.6 1232,55.6 1232.3,55.7 1232.5,55.7 1232.8,55.8 1233,55.8 1233.3,55.9 1233.5,55.9 1233.8,55.9 1234,56 1234.3,56 1234.5,56.1 1234.8,56.1 1235,56.2 1235.3,56.2 1235.5,56.3 1235.8,56.3 1236,56.3 1236.3,56.4 1236.5,56.4 1236.8,56.4 1237,56.5 1237.3,56.5 1237.5,56.5 1237.8,56.5 1238,56.5 1238.3,56.6 1238.5,56.6 1238.8,56.6 1239,56.5 1239.3,56.5 1239.5,56.5 1239.8,56.5 1240,56.5 1240.3,56.5 1240.5,56.4 1240.8,56.4 1241,56.4 1241.3,56.3 1241.5,56.3 1241.8,56.3 1242,56.2 1242.3,56.2 1242.5,56.1 1242.8,56.1 1243,56.1 1243.3,56 1243.5,56 1243.8,55.9 1244,55.9 1244.3,55.9 1244.5,55.8 1244.8,55.8 1245,55.7 1245.3,55.7 1245.5,55.7 1245.8,55.6 1246,55.6 1246.3,55.6 1246.5,55.6 1246.8,55.5 1247,55.5 1247.3,55.5 1247.5,55.5 1247.8,55.5 1248,55.5 1248.3,55.5 1248.5,55.4 1248.8,55.4 1249,55.4 1249.3,55.4 1249.5,55.4 1249.8,55.4 1250,55.4 1250.3,55.3 1250.5,55.3 1250.8,55.3 1251,55.3 1251.3,55.3 1251.5,55.3 1251.8,55.3 1252,55.3 1252.3,55.3 1252.5,55.2 1252.8,55.2 1253,55.2 1253.3,55.2 1253.5,55.2 1253.8,55.2 1254,55.2 1254.3,55.2 1254.5,55.2 1254.8,55.2 1255,55.2 1255.3,55.2 1255.5,55.2 1255.8,55.2 1256,55.2 1256.3,55.2 1256.5,55.2 1256.8,55.2 1257,55.2 1257.3,55.3 1257.5,55.3 1257.8,55.3 1258,55.3 1258.3,55.3 1258.5,55.4 1258.8,55.4 1259,55.4 1259.3,55.5 1259.5,55.5 1259.8,55.5 1260,55.5 1260.3,55.6 1260.5,55.6 1260.8,55.6 1261,55.7 1261.3,55.7 1261.5,55.8 1261.8,55.8 1262,55.8 1262.3,55.9 1262.5,55.9 1262.8,55.9 1263,56 1263.3,56.1 1263.5,56.1 1263.8,56.2 1264,56.3 1264.3,56.4 1264.5,56.4 1264.8,56.5 1265,56.6 1265.3,56.7 1265.5,56.8 1265.8,56.8 1266,56.9 1266.3,56.9 1266.5,57 1266.8,57 1267,57 1267.3,57.1 1267.5,57.1 1267.8,57 1268,57 1268.3,57 1268.5,56.9 1268.8,56.8 1269,56.8 1269.3,56.7 1269.5,56.6 1269.8,56.5 1270,56.4 1270.3,56.3 1270.5,56.2 1270.8,56.1 1271,56 1271.3,55.9 1271.5,55.8 1271.8,55.8 1272,55.7 1272.3,55.7 1272.5,55.7 1272.8,55.7 1273,55.7 1273.3,55.7 1273.5,55.7 1273.8,55.7 1274,55.7 1274.3,55.7 1274.5,55.7 1274.8,55.7 1275,55.7 1275.3,55.7 1275.5,55.7 1275.8,55.7 1276,55.7 1276.3,55.7 1276.5,55.7 1276.8,55.7 1277,55.8 1277.3,55.8 1277.5,55.8 1277.8,55.8 1278,55.8 1278.3,55.8 1278.5,55.8 1278.8,55.8 1279,55.8 1279.3,55.8 1279.5,55.8 1279.8,55.8 1280,55.8 1280.3,55.8 1280.5,55.9 1280.8,55.9 1281,55.9 1281.3,55.9 1281.5,55.9 1281.8,55.9 1282,55.9 1282.3,56 1282.5,56 1282.8,56 1283,56.1 1283.3,56.1 1283.5,56.2 1283.8,56.2 1284,56.2 1284.3,56.3 1284.5,56.3 1284.8,56.4 1285,56.4 1285.3,56.5 1285.5,56.5 1285.8,56.5 1286,56.6 1286.3,56.6 1286.5,56.6 1286.8,56.7 1287,56.7 1287.3,56.7 1287.5,56.7 1287.8,56.7 1288,56.7 1288.3,56.7 1288.5,56.7 1288.8,56.7 1289,56.7 1289.3,56.6 1289.5,56.6 1289.8,56.5 1290,56.5 1290.3,56.4 1290.5,56.4 1290.8,56.3 1291,56.3 1291.3,56.2 1291.5,56.2 1291.8,56.1 1292,56 1292.3,56 1292.5,55.9 1292.8,55.8 1293,55.8 1293.3,55.7 1293.5,55.6 1293.8,55.6 1294,55.5 1294.3,55.5 1294.5,55.4 1294.8,55.4 1295,55.3 1295.3,55.3 1295.5,55.3 1295.8,55.2 1296,55.2 1296.3,55.2 1296.5,55.2 1296.8,55.2 1297,55.2 1297.3,55.2 1297.5,55.2 1297.8,55.1 1298,55.1 1298.3,55.1 1298.5,55.1 1298.8,55.1 1299,55.1 1299.3,55.1 1299.5,55.1 1299.8,55.1 1300,55.1 1300.3,55.1 1300.5,55.1 1300.8,55.1 1301,55.1 1301.3,55.1 1301.5,55.1 1301.8,55.1 1302,55.1 1302.3,55.1 1302.5,55 1302.8,55 1303,55 1303.3,55 1303.5,55 1303.8,55 1304,55 1304.3,55 1304.5,55 1304.8,55 1305,55 1305.3,55 1305.5,55 1305.8,55 1306,55 1306.3,55" fill="none" stroke="#5b6ff5" stroke-width="2.1" stroke-linejoin="round" stroke-linecap="butt"/>
<polyline points="756.2,309.5 756.7,309.9 757.2,310.3 757.7,310.7 758.2,311 758.7,311.2 759.2,311.4 759.7,311.6 760.2,311.7 760.7,311.9 761.2,312 761.7,312 762.2,312 762.7,311.9 763.2,311.8 763.7,311.6 764.2,311.4 764.7,311.2 765.2,310.9 765.7,310.6 766.2,310.1 766.7,309.5 767.2,309 767.7,308.7 768.2,308.6 768.7,308.7 769.2,308.9 769.7,309.2 770.2,309.4 770.7,309.5 771.2,309.6 771.7,309.8 772.2,309.8 772.7,309.7 773.2,309.4 773.7,309.1 774.2,308.8 774.7,308.6 775.2,308.7 775.7,308.9 776.2,309.2 776.7,309.6 777.2,310 777.7,310.3 778.2,310.6 778.7,310.8 779.2,310.8 779.7,310.8 780.2,310.7 780.7,310.7 781.2,310.6 781.7,310.6 782.2,310.5 782.7,310.5 783.2,310.4 783.7,310.4 784.2,310.4 784.7,310.4 785.2,310.4 785.7,310.3 786.2,310.2 786.7,309.9 787.2,309.4 787.7,308.9 788.2,308.3 788.7,307.7 789.2,307.3 789.7,307 790.2,306.9 790.7,307.2 791.2,307.7 791.7,308.4 792.2,309 792.7,309.5 793.2,309.9 793.7,310.2 794.2,310.5 794.7,310.7 795.2,310.8 795.7,310.8 796.2,310.7 796.7,310.6 797.2,310.4 797.7,310.2 798.2,310 798.7,309.8 799.2,309.6 799.7,309.3 800.2,309 800.7,308.6 801.2,308.2 801.7,307.8 802.2,307.4 802.7,307 803.2,306.7 803.7,306.4 804.2,306.1 804.7,305.9 805.2,305.7 805.7,305.7 806.2,305.7 806.7,305.8 807.2,305.8 807.7,305.8 808.2,305.9 808.7,306 809.2,306 809.7,306.1 810.2,306.1 810.7,306.2 811.2,306.2 811.7,306.3 812.2,306.4 812.7,306.4 813.2,306.4 813.7,306.4 814.2,306.3 814.7,306.3 815.2,306.2 815.7,306.1 816.2,306 816.7,306 817.2,305.9 817.7,305.8 818.2,305.7 818.7,305.6 819.2,305.6 819.7,305.5 820.2,305.5 820.7,305.4 821.2,305.3 821.7,305.2 822.2,305 822.7,304.6 823.2,304.2 823.7,303.8 824.2,303.4 824.7,303.1 825.2,302.8 825.7,302.7 826.2,302.7 826.7,302.8 827.2,303 827.7,303.3 828.2,303.6 828.7,304 829.2,304.4 829.7,305 830.2,305.7 830.7,306.4 831.2,307.3 831.7,308.3 832.2,309.5 832.7,311.3 833.2,314.8 833.7,319.7 834.2,325 834.7,330.9 835.2,337.7 835.7,345.3 836.2,351.8 836.7,357.4 837.2,361.8 837.7,365.1 838.2,367.8 838.7,368.7 839.2,367.4 839.7,364.8 840.2,361.9 840.7,358 841.2,353.6 841.7,348.9 842.2,343.8 842.7,338.6 843.2,333.7 843.7,328.9 844.2,323.9 844.7,318.4 845.2,312 845.7,305.1 846.2,298.7 846.7,293 847.2,287.5 847.7,282.8 848.2,279.1 848.7,275.7 849.2,273.1 849.7,272 850.2,273.2 850.7,275.9 851.2,278.7 851.7,281.9 852.2,285.2 852.7,287.7 853.2,289.8 853.7,291.5 854.2,292.4 854.7,292 855.2,290.7 855.7,289 856.2,287.7 856.7,286.3 857.2,285 857.7,284.3 858.2,283.9 858.7,283.5 859.2,283.1 859.7,282.5 860.2,281.6 860.7,279.9 861.2,277.9 861.7,276 862.2,274.2 862.7,272.4 863.2,270.7 863.7,269 864.2,267.3 864.7,265.8 865.2,264.4 865.7,262.8 866.2,261.5 866.7,260.9 867.2,261 867.7,261.2 868.2,261.6 868.7,262 869.2,262.3 869.7,262.5 870.2,262.6 870.7,262.6 871.2,262.6 871.7,262.5 872.2,262.5 872.7,262.5 873.2,262.4 873.7,262.3 874.2,262.3 874.7,262.2 875.2,262.2 875.7,262.1 876.2,262 876.7,261.9 877.2,261.9 877.7,261.8 878.2,261.8 878.7,261.8 879.2,261.8 879.7,261.8 880.2,261.8 880.7,261.8 881.2,261.8 881.7,261.8 882.2,261.8 882.7,262 883.2,262.4 883.7,262.9 884.2,263.4 884.7,263.9 885.2,264.3 885.7,264.8 886.2,265.2 886.7,265.7 887.2,266 887.7,266.4 888.2,266.7 888.7,267.1 889.2,267.4 889.7,267.7 890.2,268 890.7,268.1 891.2,268.2 891.7,268.2 892.2,268.1 892.7,267.9 893.2,267.6 893.7,267.3 894.2,266.9 894.7,266.6 895.2,266.3 895.7,265.8 896.2,265.3 896.7,264.7 897.2,264.3 897.7,263.9 898.2,263.8 898.7,264 899.2,264.5 899.7,265.2 900.2,265.9 900.7,266.6 901.2,267.4 901.7,268.2 902.2,269 902.7,269.7 903.2,270.4 903.7,271.1 904.2,271.8 904.7,272.5 905.2,272.9 905.7,273.2 906.2,273.2 906.7,273.1 907.2,273.1 907.7,272.9 908.2,272.8 908.7,272.6 909.2,272.4 909.7,272.2 910.2,272 910.7,271.3 911.2,270.3 911.7,269.3 912.2,268.6 912.7,268.2 913.2,267.9 913.7,267.7 914.2,267.8 914.7,268.2 915.2,268.9 915.7,269.7 916.2,270.4 916.7,271.1 917.2,271.8 917.7,272.5 918.2,273.2 918.7,273.7 919.2,274.1 919.7,274.5 920.2,274.8 920.7,275.1 921.2,275.4 921.7,275.6 922.2,275.8 922.7,276 923.2,276.2 923.7,276.2 924.2,276.2 924.7,276.2 925.2,276.2 925.7,276.2 926.2,276.2 926.7,276.2 927.2,276.2 927.7,276.2 928.2,276.2 928.7,276.2 929.2,276.3 929.7,276.8 930.2,277.5 930.7,278.4 931.2,279.2 931.7,280 932.2,280.9 932.7,281.7 933.2,282.6 933.7,283.4 934.2,284.2 934.7,284.9 935.2,285.5 935.7,286.2 936.2,286.8 936.7,287.4 937.2,287.9 937.7,288.5 938.2,289 938.7,289.6 939.2,290.1 939.7,290.6 940.2,291 940.7,291.5 941.2,291.9 941.7,292.2 942.2,292.5 942.7,292.9 943.2,293.2 943.7,293.5 944.2,293.8 944.7,294.1 945.2,294.4 945.7,294.6 946.2,294.9 946.7,295.2 947.2,295.5 947.7,295.9 948.2,296.3 948.7,296.7 949.2,297.1 949.7,297.6 950.2,298.1 950.7,298.6 951.2,299.1 951.7,299.6 952.2,300.1 952.7,300.6 953.2,301.2 953.7,301.7 954.2,302.3 954.7,303 955.2,303.6 955.7,304.2 956.2,304.9 956.7,305.6 957.2,306.3 957.7,307.1 958.2,308.1 958.7,309.2 959.2,310.4 959.7,311.5 960.2,312.5 960.7,313.5 961.2,314.5 961.7,315.7 962.2,316.8 962.7,318 963.2,319.4 963.7,321 964.2,322.9 964.7,325.4 965.2,328.1 965.7,330.9 966.2,333.9 966.7,337 967.2,340 967.7,343 968.2,345.9 968.7,348.5 969.2,350.6 969.7,352.6 970.2,354.1 970.7,354.6 971.2,354.5 971.7,354.4 972.2,354.2 972.7,354 973.2,353.7 973.7,353 974.2,351.7 974.7,350.3 975.2,349.2 975.7,348.6 976.2,348.8 976.7,349.3 977.2,350 977.7,350.8 978.2,352.2 978.7,353.9 979.2,355.6 979.7,357.4 980.2,359.3 980.7,361 981.2,362.5 981.7,364 982.2,365.4 982.7,366.3 983.2,366.5 983.7,366.2 984.2,365.5 984.7,364.7 985.2,363.8 985.7,362.6 986.2,361 986.7,359.2 987.2,357.3 987.7,355.1 988.2,352.7 988.7,350.1 989.2,347.7 989.7,345.2 990.2,342.1 990.7,339.3 991.2,337.3 991.7,336.8 992.2,337.7 992.7,339.4 993.2,341.6 993.7,343.9 994.2,346.8 994.7,350.1 995.2,353.1 995.7,355.5 996.2,357.6 996.7,359.5 997.2,361.3 997.7,362.7 998.2,363.9 998.7,365 999.2,366.1 999.7,366.9 1000.2,367.3 1000.7,367.3 1001.2,367.1 1001.7,366.8 1002.2,366.3 1002.7,365.7 1003.2,365.1 1003.7,364.6 1004.2,363.8 1004.7,362.9 1005.2,362 1005.7,361.3 1006.2,360.7 1006.7,360.4 1007.2,360.2 1007.7,360 1008.2,359.8 1008.7,359.7 1009.2,359.7 1009.7,359.7 1010.2,359.7 1010.7,359.7 1011.2,359.7 1011.7,359.7 1012.2,359.7 1012.7,359.7 1013.2,359.7 1013.7,359.7 1014.2,359.4 1014.7,358.8 1015.2,358 1015.7,357.1 1016.2,356.2 1016.7,355.3 1017.2,354.2 1017.7,353.1 1018.2,351.8 1018.7,350.4 1019.2,348.8 1019.7,347 1020.2,345 1020.7,342.9 1021.2,340.7 1021.7,338.5 1022.2,336.3 1022.7,334.2 1023.2,332.1 1023.7,329.9 1024.2,327.6 1024.7,325.3 1025.2,323 1025.7,320.5 1026.2,317.9 1026.7,315.1 1027.2,312.3 1027.7,309.4 1028.2,306.6 1028.7,303.7 1029.2,300.7 1029.7,297.7 1030.2,294.6 1030.7,291.6 1031.2,288.8 1031.7,286.2 1032.2,283.7 1032.7,281.3 1033.2,279 1033.7,276.8 1034.2,274.7 1034.7,272.4 1035.2,270.3 1035.7,268.5 1036.2,267.6 1036.7,267 1037.2,266.6 1037.7,266.7 1038.2,267.4 1038.7,268.6 1039.2,269.5 1039.7,270.3 1040.2,271.1 1040.7,271.8 1041.2,272.4 1041.7,273 1042.2,273.6 1042.7,274.2 1043.2,274.7 1043.7,275.1 1044.2,275.3 1044.7,275.4 1045.2,275.2 1045.7,274.7 1046.2,274.1 1046.7,273.5 1047.2,272.8 1047.7,272 1048.2,271 1048.7,269.8 1049.2,268 1049.7,266 1050.2,264.1 1050.7,262.5 1051.2,260.8 1051.7,259.3 1052.2,258.5 1052.7,258.8 1053.2,261.3 1053.7,264.6 1054.2,267.8 1054.7,271.5 1055.2,274.8 1055.7,277 1056.2,279.1 1056.7,280.8 1057.2,282.3 1057.7,283.5 1058.2,284.5 1058.7,285.5 1059.2,286.3 1059.7,286.9 1060.2,287.3 1060.7,287.2 1061.2,286.7 1061.7,285.9 1062.2,284.9 1062.7,283.8 1063.2,282.5 1063.7,280.9 1064.2,279 1064.7,277.1 1065.2,274.8 1065.7,272.2 1066.2,269.5 1066.7,267 1067.2,264.6 1067.7,262.1 1068.2,259.9 1068.7,258.5 1069.2,258.5 1069.7,259.4 1070.2,260.7 1070.7,261.9 1071.2,262.9 1071.7,264 1072.2,265.1 1072.7,266.1 1073.2,266.9 1073.7,267.5 1074.2,268 1074.7,268.5 1075.2,268.9 1075.7,269.4 1076.2,269.8 1076.7,270.2 1077.2,270.7 1077.7,271.1 1078.2,271.4 1078.7,271.7 1079.2,272 1079.7,272.2 1080.2,272.5 1080.7,272.7 1081.2,272.9 1081.7,273 1082.2,273.2 1082.7,273.3 1083.2,273.3 1083.7,273.2 1084.2,272.5 1084.7,271.7 1085.2,271.1 1085.7,270.7 1086.2,270.4 1086.7,270.3 1087.2,270.6 1087.7,271.6 1088.2,272.9 1088.7,274 1089.2,275.1 1089.7,276.2 1090.2,277 1090.7,277.7 1091.2,278.3 1091.7,278.9 1092.2,279.3 1092.7,279.6 1093.2,279.8 1093.7,280 1094.2,280.1 1094.7,280.1 1095.2,279.5 1095.7,278.5 1096.2,277.4 1096.7,276.3 1097.2,275.3 1097.7,274.3 1098.2,273.3 1098.7,272.1 1099.2,270.6 1099.7,268.8 1100.2,267 1100.7,265.4 1101.2,264.1 1101.7,262.9 1102.2,261.8 1102.7,261.1 1103.2,261 1103.7,261.6 1104.2,262.6 1104.7,263.7 1105.2,264.5 1105.7,265.4 1106.2,266.2 1106.7,266.9 1107.2,267.6 1107.7,268.3 1108.2,268.9 1108.7,269.4 1109.2,270 1109.7,270.5 1110.2,271 1110.7,271.5 1111.2,271.9 1111.7,272.4 1112.2,272.8 1112.7,273.2 1113.2,273.7 1113.7,274.1 1114.2,274.4 1114.7,274.8 1115.2,275.1 1115.7,275.5 1116.2,275.9 1116.7,276.3 1117.2,276.7 1117.7,277.1 1118.2,277.6 1118.7,278.1 1119.2,278.8 1119.7,279.7 1120.2,281 1120.7,282.4 1121.2,283.8 1121.7,285.2 1122.2,286.5 1122.7,288 1123.2,289.7 1123.7,291.9 1124.2,294.8 1124.7,298 1125.2,301.2 1125.7,304.3 1126.2,307.4 1126.7,310.3 1127.2,313 1127.7,315.6 1128.2,318 1128.7,320.3 1129.2,322.5 1129.7,324.6 1130.2,326.3 1130.7,327.6 1131.2,328.6 1131.7,329.5 1132.2,330.2 1132.7,330.9 1133.2,331.4 1133.7,331.6 1134.2,331.6 1134.7,331.5 1135.2,331.4 1135.7,331.3 1136.2,331.3 1136.7,331.3 1137.2,331.5 1137.7,331.8 1138.2,332.2 1138.7,332.9 1139.2,334 1139.7,335.3 1140.2,337.2 1140.7,339.3 1141.2,341.7 1141.7,344.3 1142.2,347 1142.7,349.9 1143.2,353.1 1143.7,356.1 1144.2,358.8 1144.7,361.2 1145.2,363.6 1145.7,366.3 1146.2,369.4 1146.7,372.7 1147.2,375.5 1147.7,377.6 1148.2,379.6 1148.7,381.5 1149.2,383 1149.7,384 1150.2,384.4 1150.7,384 1151.2,382.9 1151.7,381.3 1152.2,379.2 1152.7,376.9 1153.2,374.2 1153.7,369.8 1154.2,364.7 1154.7,359.8 1155.3,355.3 1155.8,350.8 1156.3,346.2 1156.8,341.5 1157.3,336.5 1157.8,331.4 1158.3,326.4 1158.8,321.5 1159.3,316.5 1159.8,312 1160.3,308.7 1160.8,306.2 1161.3,304.1 1161.8,302.8 1162.3,302 1162.8,301.4 1163.3,301 1163.8,301 1164.3,301.3 1164.8,301.8 1165.3,302.3 1165.8,302.8 1166.3,303.4 1166.8,304 1167.3,304.6 1167.8,305.2 1168.3,305.7 1168.8,306.2 1169.3,306.7 1169.8,307.1 1170.3,307.4 1170.8,307.5 1171.3,307.7 1171.8,307.7 1172.3,307.7 1172.8,307.5 1173.3,307.1 1173.8,306.7 1174.3,306.3 1174.8,305.9 1175.3,305.5 1175.8,305 1176.3,304.4 1176.8,303.6 1177.3,302.6 1177.8,301.3 1178.3,300 1178.8,298.5 1179.3,296.8 1179.8,295 1180.3,293.3 1180.8,291.9 1181.3,290.7 1181.8,289.6 1182.3,288.6 1182.8,288 1183.3,287.4 1183.8,287 1184.3,286.6 1184.8,286.5 1185.3,286.6 1185.8,287.1 1186.3,287.8 1186.8,288.6 1187.3,289.4 1187.8,290.4 1188.3,291.6 1188.8,293.1 1189.3,294.8 1189.8,297 1190.3,299.6 1190.8,302.4 1191.3,305 1191.8,307.7 1192.3,310.5 1192.8,313.2 1193.3,315.9 1193.8,318.4 1194.3,321 1194.8,323.5 1195.3,325.9 1195.8,328.3 1196.3,330.8 1196.8,333.3 1197.3,335.5 1197.8,337.2 1198.3,338.8 1198.8,340.2 1199.3,341.4 1199.8,342.5 1200.3,343.4 1200.8,344.2 1201.3,344.9 1201.8,345.5 1202.3,345.7 1202.8,345.6 1203.3,345.3 1203.8,344.7 1204.3,344.1 1204.8,343.4 1205.3,342.5 1205.8,341.5 1206.3,340.3 1206.8,339 1207.3,337.5 1207.8,335.8 1208.3,333.7 1208.8,331.5 1209.3,329.3 1209.8,327.2 1210.3,325 1210.8,322.8 1211.3,320.5 1211.8,318 1212.3,315.2 1212.8,312.1 1213.3,308.8 1213.8,305.3 1214.3,301.8 1214.8,298.4 1215.3,294.9 1215.8,291.4 1216.3,287.9 1216.8,284.7 1217.3,281.8 1217.8,279.2 1218.3,276.8 1218.8,274.6 1219.3,272.5 1219.8,270.6 1220.3,268.7 1220.8,267 1221.3,265.6 1221.8,264.5 1222.3,263.4 1222.8,262.6 1223.3,261.9 1223.8,261.6 1224.3,261.3 1224.8,261.1 1225.3,261 1225.8,260.9 1226.3,261 1226.8,261.3 1227.3,261.6 1227.8,262 1228.3,262.4 1228.8,262.9 1229.3,263.5 1229.8,264.1 1230.3,264.7 1230.8,265.3 1231.3,266 1231.8,266.7 1232.3,267.4 1232.8,268.1 1233.3,268.8 1233.8,269.5 1234.3,270.2 1234.8,270.8 1235.3,271.3 1235.8,271.8 1236.3,272.2 1236.8,272.6 1237.3,273 1237.8,273.3 1238.3,273.5 1238.8,273.8 1239.3,274 1239.8,274.2 1240.3,274.2 1240.8,274.2 1241.3,274.1 1241.8,274.1 1242.3,274 1242.8,273.9 1243.3,273.8 1243.8,273.7 1244.3,273.6 1244.8,273.5 1245.3,273.4 1245.8,273.2 1246.3,273.1 1246.8,273 1247.3,272.8 1247.8,272.7 1248.3,272.5 1248.8,272.4 1249.3,272.2 1249.8,272.1 1250.3,272 1250.8,271.9 1251.3,271.9 1251.8,271.8 1252.3,271.7 1252.8,271.7 1253.3,271.6 1253.8,271.6 1254.3,271.5 1254.8,271.5 1255.3,271.4 1255.8,271.4 1256.3,271.3 1256.8,271.3 1257.3,271.2 1257.8,271.2 1258.3,271.1 1258.8,271.1 1259.3,271 1259.8,271 1260.3,270.9 1260.8,270.9 1261.3,270.8 1261.8,270.8 1262.3,270.7 1262.8,270.7 1263.3,270.6 1263.8,270.5 1264.3,270.5 1264.8,270.4 1265.3,270.4 1265.8,270.3 1266.3,270.2 1266.8,270.1 1267.3,270 1267.8,269.9 1268.3,269.7 1268.8,269.6 1269.3,269.5 1269.8,269.3 1270.3,269.2 1270.8,269 1271.3,268.9 1271.8,268.7 1272.3,268.6 1272.8,268.4 1273.3,268.3 1273.8,268.1 1274.3,268 1274.8,267.8 1275.3,267.6 1275.8,267.5 1276.3,267.3 1276.8,267.1 1277.3,267 1277.8,266.8 1278.3,266.6 1278.8,266.5 1279.3,266.4 1279.8,266.2 1280.3,266.1 1280.8,266.1 1281.3,266 1281.8,265.9 1282.3,265.9 1282.8,265.9 1283.3,265.8 1283.8,265.8 1284.3,265.8 1284.8,265.7 1285.3,265.7 1285.8,265.6 1286.3,265.6 1286.8,265.5 1287.3,265.5 1287.8,265.4 1288.3,265.4 1288.8,265.3 1289.3,265.2 1289.8,265.1 1290.3,265 1290.8,264.9 1291.3,264.8 1291.8,264.6 1292.3,264.5 1292.8,264.3 1293.3,264.2 1293.8,264 1294.3,263.9 1294.8,263.8 1295.3,263.6 1295.8,263.6 1296.3,263.5 1296.8,263.4 1297.3,263.4 1297.8,263.3 1298.3,263.3 1298.8,263.2 1299.3,263.2 1299.8,263.2 1300.3,263.2 1300.8,263.1 1301.3,263.1 1301.8,263.1 1302.3,263.1 1302.8,263.1 1303.3,263.1 1303.8,263.1 1304.3,263.1 1304.8,263.1 1305.3,263.1 1305.8,263.1 1306.3,263.1" fill="none" stroke="#f95454" stroke-width="2.3" stroke-linejoin="round" stroke-linecap="butt"/>
<polyline points="756.2,275 756.7,275 757.2,275 757.7,275 758.2,275 758.7,275 759.2,275 759.7,275 760.2,275 760.7,274.9 761.2,274.8 761.7,274.6 762.2,274.4 762.7,273.7 763.2,272.9 763.7,272.3 764.2,272 764.7,271.8 765.2,271.7 765.7,271.6 766.2,271.7 766.7,271.7 767.2,271.7 767.7,271.7 768.2,271.8 768.7,271.8 769.2,271.9 769.7,272 770.2,272.2 770.7,272.7 771.2,273.3 771.7,273.9 772.2,274.5 772.7,275.1 773.2,275.7 773.7,276.3 774.2,276.9 774.7,277.4 775.2,277.9 775.7,278.4 776.2,278.7 776.7,278.8 777.2,278.7 777.7,278.6 778.2,278.4 778.7,278.2 779.2,278.1 779.7,278 780.2,277.9 780.7,277.7 781.2,277.6 781.7,277.4 782.2,277 782.7,276.4 783.2,275.8 783.7,275.2 784.2,274.6 784.7,274 785.2,273.4 785.7,273 786.2,272.5 786.7,272.2 787.2,271.9 787.7,271.6 788.2,271.3 788.7,270.9 789.2,270.5 789.7,270.1 790.2,269.8 790.7,269.5 791.2,269.4 791.7,269.2 792.2,269.2 792.7,269.1 793.2,269 793.7,268.9 794.2,268.7 794.7,268.4 795.2,268.2 795.7,267.9 796.2,267.6 796.7,267.3 797.2,267 797.7,266.6 798.2,266.3 798.7,265.9 799.2,265.5 799.7,265.2 800.2,264.9 800.7,264.6 801.2,264.3 801.7,264 802.2,263.7 802.7,263.5 803.2,263.3 803.7,263.1 804.2,263 804.7,263 805.2,263 805.7,263 806.2,263 806.7,263.1 807.2,263.1 807.7,263.3 808.2,263.5 808.7,263.7 809.2,264 809.7,264.3 810.2,264.7 810.7,265.1 811.2,265.6 811.7,266.1 812.2,266.5 812.7,266.8 813.2,267.2 813.7,267.5 814.2,267.8 814.7,268 815.2,268.2 815.7,268.2 816.2,268.2 816.7,268.1 817.2,267.9 817.7,267.7 818.2,267.5 818.7,267.3 819.2,267.2 819.7,267 820.2,266.8 820.7,266.5 821.2,266.3 821.7,265.9 822.2,265.4 822.7,264.7 823.2,264 823.7,263.4 824.2,262.9 824.7,262.4 825.2,262 825.7,261.8 826.2,261.8 826.7,261.8 827.2,261.8 827.7,261.9 828.2,262 828.7,262 829.2,262.1 829.7,262.1 830.2,262.2 830.7,262.2 831.2,262.3 831.7,262.4 832.2,262.4 832.7,262.5 833.2,262.6 833.7,262.7 834.2,262.8 834.7,263 835.2,263.2 835.7,263.4 836.2,263.6 836.7,263.8 837.2,263.9 837.7,264 838.2,264.1 838.7,264.2 839.2,264.2 839.7,264.3 840.2,264.3 840.7,264.3 841.2,264.3 841.7,264.2 842.2,264.2 842.7,264.1 843.2,264 843.7,263.9 844.2,263.9 844.7,263.8 845.2,263.8 845.7,263.7 846.2,263.7 846.7,263.6 847.2,263.6 847.7,263.6 848.2,263.5 848.7,263.5 849.2,263.4 849.7,263.4 850.2,263.3 850.7,263.2 851.2,263.2 851.7,263.1 852.2,263.1 852.7,263.2 853.2,263.3 853.7,263.4 854.2,263.5 854.7,263.7 855.2,263.8 855.7,263.8 856.2,263.7 856.7,263.3 857.2,262.8 857.7,262.2 858.2,261.7 858.7,261.2 859.2,260.8 859.7,260.5 860.2,260.2 860.7,259.8 861.2,259.6 861.7,259.3 862.2,259.2 862.7,259.2 863.2,259.3 863.7,259.5 864.2,259.8 864.7,260.1 865.2,260.4 865.7,260.6 866.2,260.9 866.7,261.1 867.2,261.4 867.7,261.7 868.2,262 868.7,262.2 869.2,262.4 869.7,262.6 870.2,262.6 870.7,262.5 871.2,262.2 871.7,261.9 872.2,261.5 872.7,261 873.2,260.6 873.7,260.2 874.2,260 874.7,259.8 875.2,259.6 875.7,259.4 876.2,259.2 876.7,259 877.2,258.9 877.7,258.9 878.2,258.9 878.7,258.9 879.2,258.9 879.7,259 880.2,259.1 880.7,259.1 881.2,259.2 881.7,259.3 882.2,259.4 882.7,259.5 883.2,259.7 883.7,259.8 884.2,259.9 884.7,260.1 885.2,260.3 885.7,260.4 886.2,260.7 886.7,260.9 887.2,261.1 887.7,261.3 888.2,261.5 888.7,261.6 889.2,261.7 889.7,261.8 890.2,261.7 890.7,261.7 891.2,261.6 891.7,261.6 892.2,261.5 892.7,261.4 893.2,261.3 893.7,261.3 894.2,261.2 894.7,261.2 895.2,261.2 895.7,261.2 896.2,261.1 896.7,261.1 897.2,261.1 897.7,261.1 898.2,261.1 898.7,261.2 899.2,261.4 899.7,261.7 900.2,262.1 900.7,262.5 901.2,262.9 901.7,263.4 902.2,263.9 902.7,264.5 903.2,265 903.7,265.6 904.2,266.2 904.7,266.8 905.2,267.4 905.7,268 906.2,268.6 906.7,269.1 907.2,269.7 907.7,270.3 908.2,270.8 908.7,271.4 909.2,272 909.7,272.6 910.2,273.2 910.7,273.7 911.2,274.3 911.7,275 912.2,275.6 912.7,276.2 913.2,276.9 913.7,277.5 914.2,278.2 914.7,278.9 915.2,279.6 915.7,280.3 916.2,281.1 916.7,281.8 917.2,282.5 917.7,283.3 918.2,284.1 918.7,284.9 919.2,285.8 919.7,286.6 920.2,287.4 920.7,288.2 921.2,289 921.7,289.7 922.2,290.5 922.7,291.2 923.2,291.9 923.7,292.6 924.2,293.3 924.7,294 925.2,294.6 925.7,295.2 926.2,295.8 926.7,296.4 927.2,296.9 927.7,297.5 928.2,298 928.7,298.5 929.2,299 929.7,299.5 930.2,300 930.7,300.5 931.2,301 931.7,301.5 932.2,301.9 932.7,302.4 933.2,302.8 933.7,303.2 934.2,303.7 934.7,304.1 935.2,304.4 935.7,304.8 936.2,305.2 936.7,305.6 937.2,305.9 937.7,306.2 938.2,306.5 938.7,306.8 939.2,307.1 939.7,307.4 940.2,307.7 940.7,307.9 941.2,308.2 941.7,308.4 942.2,308.5 942.7,308.6 943.2,308.8 943.7,308.9 944.2,309 944.7,309 945.2,309.1 945.7,309.1 946.2,309.1 946.7,309.1 947.2,309.1 947.7,309.1 948.2,309.1 948.7,309.1 949.2,309.1 949.7,309.1 950.2,309 950.7,308.9 951.2,308.8 951.7,308.8 952.2,308.8 952.7,308.8 953.2,308.8 953.7,308.9 954.2,308.9 954.7,309 955.2,309.1 955.7,309.3 956.2,309.5 956.7,309.7 957.2,309.9 957.7,310.1 958.2,310.3 958.7,310.6 959.2,310.9 959.7,311.3 960.2,311.7 960.7,312.1 961.2,312.7 961.7,313.2 962.2,313.8 962.7,314.4 963.2,315 963.7,315.6 964.2,316.2 964.7,316.8 965.2,317.5 965.7,318.1 966.2,318.8 966.7,319.5 967.2,320.2 967.7,320.9 968.2,321.6 968.7,322.3 969.2,323 969.7,323.7 970.2,324.4 970.7,325.1 971.2,325.8 971.7,326.6 972.2,327.3 972.7,328.1 973.2,328.8 973.7,329.6 974.2,330.4 974.7,331.2 975.2,331.9 975.7,332.7 976.2,333.5 976.7,334.3 977.2,335.1 977.7,335.9 978.2,336.8 978.7,337.6 979.2,338.4 979.7,339.2 980.2,340.1 980.7,340.9 981.2,341.7 981.7,342.6 982.2,343.5 982.7,344.4 983.2,345.2 983.7,346.1 984.2,347 984.7,347.9 985.2,348.8 985.7,349.7 986.2,350.6 986.7,351.5 987.2,352.4 987.7,353.3 988.2,354.2 988.7,355.1 989.2,356 989.7,356.9 990.2,357.8 990.7,358.7 991.2,359.5 991.7,360.4 992.2,361.3 992.7,362.2 993.2,363.1 993.7,364.1 994.2,365.2 994.7,366.2 995.2,367.4 995.7,368.5 996.2,369.7 996.7,370.9 997.2,372 997.7,373.3 998.2,374.5 998.7,375.8 999.2,377.1 999.7,378.4 1000.2,379.6 1000.7,380.8 1001.2,382 1001.7,383.2 1002.2,384.4 1002.7,385.5 1003.2,386.6 1003.7,387.6 1004.2,388.4 1004.7,389.3 1005.2,390.1 1005.7,390.8 1006.2,391.5 1006.7,392.1 1007.2,392.5 1007.7,393 1008.2,393.4 1008.7,393.8 1009.2,394.1 1009.7,394.3 1010.2,394.3 1010.7,394.3 1011.2,394.2 1011.7,394.1 1012.2,394 1012.7,393.9 1013.2,393.8 1013.7,393.6 1014.2,393.4 1014.7,393.2 1015.2,393 1015.7,392.6 1016.2,392 1016.7,391.1 1017.2,390 1017.7,388.8 1018.2,387.5 1018.7,386.1 1019.2,384.6 1019.7,382.6 1020.2,380.4 1020.7,378 1021.2,375.5 1021.7,373 1022.2,370.5 1022.7,368 1023.2,365.3 1023.7,362.6 1024.2,359.8 1024.7,357 1025.2,354.1 1025.7,351.1 1026.2,348.1 1026.7,345.1 1027.2,342 1027.7,338.8 1028.2,335.6 1028.7,332.3 1029.2,328.9 1029.7,325.6 1030.2,322.4 1030.7,319.2 1031.2,316.1 1031.7,313 1032.2,310 1032.7,307 1033.2,304 1033.7,301.1 1034.2,298.3 1034.7,295.5 1035.2,292.7 1035.7,290 1036.2,287.5 1036.7,285.1 1037.2,283 1037.7,280.9 1038.2,279 1038.7,277.1 1039.2,275.2 1039.7,273.1 1040.2,271.1 1040.7,269.2 1041.2,267.7 1041.7,266.5 1042.2,265.4 1042.7,264.5 1043.2,263.7 1043.7,263.1 1044.2,262.6 1044.7,262.1 1045.2,261.7 1045.7,261.4 1046.2,261.1 1046.7,260.8 1047.2,260.6 1047.7,260.6 1048.2,260.6 1048.7,260.7 1049.2,260.8 1049.7,261 1050.2,261.1 1050.7,261.2 1051.2,261.3 1051.7,261.3 1052.2,261.4 1052.7,261.4 1053.2,261.4 1053.7,261.2 1054.2,260.9 1054.7,260.6 1055.2,260.2 1055.7,259.9 1056.2,259.7 1056.7,259.5 1057.2,259.3 1057.7,259.1 1058.2,258.9 1058.7,258.8 1059.2,258.7 1059.7,258.7 1060.2,258.7 1060.7,258.8 1061.2,258.8 1061.7,258.9 1062.2,259 1062.7,259.1 1063.2,259.2 1063.7,259.3 1064.2,259.5 1064.7,259.6 1065.2,259.8 1065.7,260 1066.2,260.2 1066.7,260.4 1067.2,260.6 1067.7,260.8 1068.2,260.9 1068.7,261.1 1069.2,261.3 1069.7,261.4 1070.2,261.6 1070.7,261.8 1071.2,261.9 1071.7,262.1 1072.2,262.2 1072.7,262.4 1073.2,262.5 1073.7,262.6 1074.2,262.7 1074.7,262.9 1075.2,263 1075.7,263.1 1076.2,263.3 1076.7,263.5 1077.2,263.7 1077.7,264.1 1078.2,264.4 1078.7,264.8 1079.2,265.1 1079.7,265.5 1080.2,265.8 1080.7,266.2 1081.2,266.6 1081.7,267 1082.2,267.3 1082.7,267.6 1083.2,267.7 1083.7,267.7 1084.2,267.6 1084.7,267.4 1085.2,267.2 1085.7,266.9 1086.2,266.7 1086.7,266.4 1087.2,266.2 1087.7,266 1088.2,265.8 1088.7,265.6 1089.2,265.3 1089.7,264.9 1090.2,264.4 1090.7,263.9 1091.2,263.4 1091.7,263.1 1092.2,262.8 1092.7,262.5 1093.2,262.3 1093.7,262.3 1094.2,262.3 1094.7,262.3 1095.2,262.3 1095.7,262.3 1096.2,262.3 1096.7,262.4 1097.2,262.4 1097.7,262.4 1098.2,262.5 1098.7,262.5 1099.2,262.5 1099.7,262.6 1100.2,262.6 1100.7,262.7 1101.2,262.8 1101.7,262.9 1102.2,263 1102.7,263.1 1103.2,263.3 1103.7,263.6 1104.2,263.8 1104.7,264.1 1105.2,264.4 1105.7,264.7 1106.2,265 1106.7,265.3 1107.2,265.6 1107.7,265.9 1108.2,266.3 1108.7,266.6 1109.2,267.1 1109.7,267.6 1110.2,268.2 1110.7,268.8 1111.2,269.5 1111.7,270.2 1112.2,270.9 1112.7,271.6 1113.2,272.3 1113.7,272.9 1114.2,273.7 1114.7,274.4 1115.2,275.2 1115.7,276.1 1116.2,277 1116.7,278.1 1117.2,279.2 1117.7,280.3 1118.2,281.5 1118.7,282.7 1119.2,283.9 1119.7,285.1 1120.2,286.3 1120.7,287.5 1121.2,288.7 1121.7,290 1122.2,291.3 1122.7,292.7 1123.2,294.2 1123.7,295.8 1124.2,297.5 1124.7,299.3 1125.2,301.1 1125.7,303 1126.2,305 1126.7,307 1127.2,309.1 1127.7,311.1 1128.2,313.1 1128.7,315.1 1129.2,317.1 1129.7,319.1 1130.2,321.1 1130.7,323.1 1131.2,325.2 1131.7,327.2 1132.2,329.2 1132.7,331.1 1133.2,333 1133.7,334.9 1134.2,336.7 1134.7,338.5 1135.2,340.3 1135.7,342.2 1136.2,344 1136.7,345.8 1137.2,347.6 1137.7,349.5 1138.2,351.4 1138.7,353.4 1139.2,355.4 1139.7,357.4 1140.2,359.4 1140.7,361.4 1141.2,363.4 1141.7,365.3 1142.2,367.3 1142.7,369.4 1143.2,371.7 1143.7,374.1 1144.2,376.6 1144.7,379.3 1145.2,382.1 1145.7,385.1 1146.2,388.5 1146.7,392.2 1147.2,395.8 1147.7,399.1 1148.2,402.2 1148.7,405.4 1149.2,408.4 1149.7,410.5 1150.2,411.3 1150.7,410.4 1151.2,408 1151.7,404.7 1152.2,401.1 1152.7,397.5 1153.2,393 1153.7,388.1 1154.2,383.6 1154.7,379.8 1155.3,376.1 1155.8,372 1156.3,366.8 1156.8,360.5 1157.3,354 1157.8,348.3 1158.3,343.3 1158.8,338.4 1159.3,333.5 1159.8,328.2 1160.3,323.2 1160.8,319.2 1161.3,315.9 1161.8,313.2 1162.3,311 1162.8,309.2 1163.3,308.3 1163.8,307.7 1164.3,307.4 1164.8,307.6 1165.3,308.2 1165.8,309 1166.3,309.7 1166.8,310.4 1167.3,311.1 1167.8,312 1168.3,312.9 1168.8,314 1169.3,315 1169.8,315.9 1170.3,316.7 1170.8,317.4 1171.3,317.6 1171.8,317.5 1172.3,317.1 1172.8,316.6 1173.3,316.1 1173.8,315.5 1174.3,314.8 1174.8,314 1175.3,313.2 1175.8,312.4 1176.3,311.6 1176.8,310.8 1177.3,310.1 1177.8,309.4 1178.3,308.8 1178.8,308.3 1179.3,307.7 1179.8,307.2 1180.3,307 1180.8,306.9 1181.3,307.1 1181.8,307.3 1182.3,307.8 1182.8,308.6 1183.3,309.8 1183.8,311.5 1184.3,313.7 1184.8,316 1185.3,318.3 1185.8,320.7 1186.3,323.3 1186.8,326.2 1187.3,329.3 1187.8,332.7 1188.3,336 1188.8,339.3 1189.3,342.5 1189.8,345.8 1190.3,349.2 1190.8,352.6 1191.3,356.2 1191.8,359.7 1192.3,363.3 1192.8,366.9 1193.3,370.4 1193.8,373.8 1194.3,377.3 1194.8,380.6 1195.3,383.9 1195.8,387 1196.3,390 1196.8,393.2 1197.3,396.2 1197.8,398.9 1198.3,400.9 1198.8,402.2 1199.3,403.4 1199.8,404.5 1200.3,405.4 1200.8,405.9 1201.3,406.2 1201.8,406 1202.3,405.2 1202.8,404 1203.3,402.5 1203.8,400.8 1204.3,399 1204.8,396.7 1205.3,393.8 1205.8,390.6 1206.3,387.3 1206.8,384.2 1207.3,380.9 1207.8,377.5 1208.3,374 1208.8,370.3 1209.3,366.2 1209.8,362 1210.3,357.6 1210.8,353.1 1211.3,348.7 1211.8,344.2 1212.3,339.6 1212.8,334.9 1213.3,330.1 1213.8,325.1 1214.3,320 1214.8,315 1215.3,309.9 1215.8,304.8 1216.3,299.9 1216.8,295.2 1217.3,290.5 1217.8,286.2 1218.3,282.2 1218.8,278.3 1219.3,274.8 1219.8,271.9 1220.3,269.3 1220.8,267.2 1221.3,265.6 1221.8,264.4 1222.3,263.5 1222.8,263 1223.3,262.5 1223.8,262.2 1224.3,262 1224.8,261.9 1225.3,261.8 1225.8,261.8 1226.3,261.9 1226.8,262.2 1227.3,262.6 1227.8,263 1228.3,263.4 1228.8,263.9 1229.3,264.4 1229.8,265 1230.3,265.5 1230.8,266 1231.3,266.5 1231.8,267 1232.3,267.5 1232.8,268 1233.3,268.5 1233.8,269 1234.3,269.5 1234.8,270 1235.3,270.5 1235.8,270.9 1236.3,271.3 1236.8,271.7 1237.3,272.1 1237.8,272.4 1238.3,272.8 1238.8,273.1 1239.3,273.4 1239.8,273.6 1240.3,273.7 1240.8,273.7 1241.3,273.6 1241.8,273.5 1242.3,273.4 1242.8,273.2 1243.3,273.1 1243.8,272.9 1244.3,272.8 1244.8,272.6 1245.3,272.5 1245.8,272.4 1246.3,272.2 1246.8,272.1 1247.3,272 1247.8,271.8 1248.3,271.7 1248.8,271.5 1249.3,271.4 1249.8,271.3 1250.3,271.2 1250.8,271.1 1251.3,271 1251.8,270.9 1252.3,270.8 1252.8,270.7 1253.3,270.6 1253.8,270.5 1254.3,270.4 1254.8,270.3 1255.3,270.2 1255.8,270.1 1256.3,270.1 1256.8,270 1257.3,269.9 1257.8,269.8 1258.3,269.7 1258.8,269.7 1259.3,269.6 1259.8,269.5 1260.3,269.4 1260.8,269.4 1261.3,269.3 1261.8,269.2 1262.3,269.1 1262.8,269.1 1263.3,269 1263.8,268.9 1264.3,268.8 1264.8,268.7 1265.3,268.7 1265.8,268.6 1266.3,268.5 1266.8,268.4 1267.3,268.3 1267.8,268.2 1268.3,268.1 1268.8,267.9 1269.3,267.8 1269.8,267.7 1270.3,267.6 1270.8,267.5 1271.3,267.4 1271.8,267.2 1272.3,267.1 1272.8,267 1273.3,266.9 1273.8,266.8 1274.3,266.7 1274.8,266.6 1275.3,266.5 1275.8,266.3 1276.3,266.2 1276.8,266.1 1277.3,266 1277.8,265.9 1278.3,265.8 1278.8,265.7 1279.3,265.6 1279.8,265.5 1280.3,265.4 1280.8,265.2 1281.3,265.1 1281.8,265 1282.3,264.9 1282.8,264.7 1283.3,264.6 1283.8,264.4 1284.3,264.3 1284.8,264.2 1285.3,264.1 1285.8,264 1286.3,264 1286.8,263.9 1287.3,263.9 1287.8,263.9 1288.3,263.9 1288.8,263.9 1289.3,263.8 1289.8,263.8 1290.3,263.7 1290.8,263.7 1291.3,263.6 1291.8,263.5 1292.3,263.4 1292.8,263.2 1293.3,263.1 1293.8,263 1294.3,262.9 1294.8,262.8 1295.3,262.7 1295.8,262.7 1296.3,262.6 1296.8,262.6 1297.3,262.6 1297.8,262.5 1298.3,262.5 1298.8,262.5 1299.3,262.5 1299.8,262.5 1300.3,262.5 1300.8,262.4 1301.3,262.4 1301.8,262.4 1302.3,262.4 1302.8,262.5 1303.3,262.5 1303.8,262.5 1304.3,262.5 1304.8,262.5 1305.3,262.6 1305.8,262.6 1306.3,262.6" fill="none" stroke="#bdbdbd" stroke-width="2.1" stroke-linejoin="round" stroke-linecap="butt"/>
<line x1="907.8" y1="44.3" x2="907.8" y2="290.5" stroke="#f04a4a" stroke-width="1.8" stroke-dasharray="11 10.3"/>
<line x1="972.4" y1="61" x2="972.4" y2="364" stroke="#6a7af8" stroke-width="1.8" stroke-dasharray="11 10.3"/>
<line x1="1045" y1="115.8" x2="1045" y2="276.2" stroke="#222" stroke-width="1.8" stroke-dasharray="11 10.3"/>
<line x1="1061" y1="140.5" x2="1061" y2="279.5" stroke="#222" stroke-width="1.8" stroke-dasharray="11 10.3"/>
<line x1="1095.1" y1="121.8" x2="1095.1" y2="282.5" stroke="#222" stroke-width="1.8" stroke-dasharray="11 10.3"/>
<line x1="1130.8" y1="115" x2="1130.8" y2="333" stroke="#222" stroke-width="1.8" stroke-dasharray="11 10.3"/>
<rect x="756" y="28.2" width="550" height="440.5" fill="none" stroke="#000" stroke-width="2.1"/>
<line x1="756.1" y1="468.7" x2="756.1" y2="472.9" stroke="#000" stroke-width="2.1"/>
<line x1="792.7" y1="468.7" x2="792.7" y2="477.1" stroke="#000" stroke-width="2.1"/>
<line x1="829.4" y1="468.7" x2="829.4" y2="472.9" stroke="#000" stroke-width="2.1"/>
<line x1="866" y1="468.7" x2="866" y2="477.1" stroke="#000" stroke-width="2.1"/>
<line x1="902.6" y1="468.7" x2="902.6" y2="472.9" stroke="#000" stroke-width="2.1"/>
<line x1="939.2" y1="468.7" x2="939.2" y2="477.1" stroke="#000" stroke-width="2.1"/>
<line x1="975.9" y1="468.7" x2="975.9" y2="472.9" stroke="#000" stroke-width="2.1"/>
<line x1="1012.5" y1="468.7" x2="1012.5" y2="477.1" stroke="#000" stroke-width="2.1"/>
<line x1="1049.1" y1="468.7" x2="1049.1" y2="472.9" stroke="#000" stroke-width="2.1"/>
<line x1="1085.7" y1="468.7" x2="1085.7" y2="477.1" stroke="#000" stroke-width="2.1"/>
<line x1="1122.3" y1="468.7" x2="1122.3" y2="472.9" stroke="#000" stroke-width="2.1"/>
<line x1="1159" y1="468.7" x2="1159" y2="477.1" stroke="#000" stroke-width="2.1"/>
<line x1="1195.6" y1="468.7" x2="1195.6" y2="472.9" stroke="#000" stroke-width="2.1"/>
<line x1="1232.2" y1="468.7" x2="1232.2" y2="477.1" stroke="#000" stroke-width="2.1"/>
<line x1="1268.8" y1="468.7" x2="1268.8" y2="472.9" stroke="#000" stroke-width="2.1"/>
<line x1="1305.5" y1="468.7" x2="1305.5" y2="477.1" stroke="#000" stroke-width="2.1"/>
<text x="793.1" y="504.8" font-size="27.4" text-anchor="middle">600</text>
<text x="866.4" y="504.8" font-size="27.4" text-anchor="middle">800</text>
<text x="939.6" y="504.8" font-size="27.4" text-anchor="middle">1000</text>
<text x="1012.9" y="504.8" font-size="27.4" text-anchor="middle">1200</text>
<text x="1086.1" y="504.8" font-size="27.4" text-anchor="middle">1400</text>
<text x="1159.4" y="504.8" font-size="27.4" text-anchor="middle">1600</text>
<text x="1232.6" y="504.8" font-size="27.4" text-anchor="middle">1800</text>
<text x="1305.9" y="504.8" font-size="27.4" text-anchor="middle">2000</text>
<text x="922" y="541.4" font-size="27.4">Wavenumber (cm<tspan dy="-11.5" font-size="17">-1</tspan><tspan dy="11.5">)</tspan></text>
<text font-size="27.6" transform="translate(700.3 412.9) rotate(-90)" textLength="315.3" lengthAdjust="spacing">Transmittance (arb. units)</text>
<text x="679.8" y="50.7" font-size="43" font-weight="bold">b</text>
<text x="784.6" y="19" font-size="23.4">Ar(C-H)</text>
<text x="881.6" y="19" font-size="23.4">Co-N</text>
<text x="950.2" y="19" font-size="23.4">C-N</text>
<text x="1037" y="18" font-size="23.6">Ar(C-H)/C-N</text>
<line x1="762.8" y1="391" x2="816.2" y2="391" stroke="#5b6ff5" stroke-width="2.2"/>
<text x="823" y="398.8" font-size="23.4">CoPc</text>
<line x1="762.8" y1="419.6" x2="816.2" y2="419.6" stroke="#f95454" stroke-width="2.2"/>
<text x="823" y="427.6" font-size="23.4">CoPc-OCNT</text>
<line x1="762.8" y1="448.6" x2="816.2" y2="448.6" stroke="#bdbdbd" stroke-width="2.2"/>
<text x="823" y="456.8" font-size="23.4">OCNT</text>
<polyline points="1449.2,148.9 1449.9,148.9 1450.6,149.7 1451.3,148.7 1452,149.9 1452.7,148.9 1453.4,149.5 1454.1,149.5 1454.8,150.1 1455.5,149.7 1456.2,149.6 1456.9,150.6 1457.6,150.7 1458.4,149.8 1459.1,150.1 1459.8,149.3 1460.5,149.6 1461.2,149.4 1461.9,148.2 1462.6,148.7 1463.3,148.4 1464,148.3 1464.7,148.7 1465.4,148.3 1466.1,148.6 1466.8,149.2 1467.5,149.2 1468.2,149.5 1468.9,148.9 1469.6,149.7 1470.3,150.2 1471,150.1 1471.7,148.7 1472.4,148.4 1473.1,149.4 1473.8,149.8 1474.5,149 1475.2,149.5 1475.9,149.3 1476.6,149.2 1477.3,149.3 1478,149.4 1478.7,149.4 1479.4,150.3 1480.1,149.9 1480.8,149 1481.5,148.9 1482.2,147.8 1482.9,148.6 1483.6,147.6 1484.3,148.2 1485,149.1 1485.7,149.6 1486.4,149.6 1487.1,148.6 1487.8,149.4 1488.5,148.8 1489.2,149.1 1489.9,148.2 1490.6,149.3 1491.3,149 1492,149.2 1492.7,149.1 1493.4,149.3 1494.1,149.1 1494.8,149.4 1495.5,148.8 1496.2,148.8 1496.9,149.4 1497.6,149.3 1498.3,149.5 1499,149.9 1499.7,148.9 1500.4,148.6 1501.1,149.6 1501.8,150.2 1502.5,149.7 1503.2,150.4 1503.9,150 1504.6,148.9 1505.3,149.5 1506,148 1506.7,147.3 1507.4,148.6 1508.1,149.2 1508.8,149.2 1509.5,150.2 1510.2,149.6 1510.9,149.1 1511.6,148.6 1512.3,149.2 1513,148.5 1513.7,148.9 1514.4,150 1515.1,149.4 1515.8,149.1 1516.5,148.6 1517.2,150 1517.9,148.2 1518.6,148.4 1519.3,149.2 1520,148.5 1520.7,148.3 1521.4,148.8 1522.1,148.8 1522.8,148.8 1523.5,147.5 1524.2,148.5 1524.9,147.5 1525.6,147.4 1526.3,147.7 1527,148.9 1527.7,148.3 1528.4,148.3 1529.1,148.9 1529.8,148 1530.5,147.8 1531.2,147.9 1531.9,147.5 1532.6,147 1533.3,146.9 1534,148 1534.8,146.3 1535.5,147.3 1536.2,147.1 1536.9,147 1537.6,146.6 1538.3,147.4 1539,147.1 1539.7,147.5 1540.4,146.6 1541.1,145.8 1541.8,145.7 1542.5,145.7 1543.2,145.3 1543.9,144.7 1544.6,145.6 1545.3,145 1546,145.1 1546.7,145.6 1547.4,144.9 1548.1,145.7 1548.8,144.9 1549.5,145.8 1550.2,145.8 1550.9,145.5 1551.6,145.5 1552.3,144 1553,144.2 1553.7,143.3 1554.4,142.2 1555.1,142.7 1555.8,143.1 1556.5,142.6 1557.2,140.5 1557.9,140 1558.6,139.9 1559.3,138.1 1560,139.1 1560.7,137.3 1561.4,137.2 1562.1,137.6 1562.8,137.1 1563.5,137.8 1564.2,136.8 1564.9,137 1565.6,136.4 1566.3,136.8 1567,137.1 1567.7,137.5 1568.4,137.2 1569.1,137.9 1569.8,137.8 1570.5,136.9 1571.2,136.8 1571.9,138.3 1572.6,137.4 1573.3,137.8 1574,138.9 1574.7,139.2 1575.4,139.4 1576.1,139.7 1576.8,140.7 1577.5,141.7 1578.2,140.4 1578.9,140.9 1579.6,141.9 1580.3,141.8 1581,141 1581.7,141.6 1582.4,142.2 1583.1,142.3 1583.8,140.8 1584.5,141.4 1585.2,142 1585.9,142.1 1586.6,142.5 1587.3,142.8 1588,143.6 1588.7,143.8 1589.4,145 1590.1,143.5 1590.8,143.8 1591.5,143.2 1592.2,144 1592.9,143.9 1593.6,143.8 1594.3,143.5 1595,144.9 1595.7,144.1 1596.4,144.2 1597.1,143.1 1597.8,144.1 1598.5,144.2 1599.2,144.9 1599.9,144.7 1600.6,145.4 1601.3,144.1 1602,145.2 1602.7,145.4 1603.4,145.3 1604.1,145.1 1604.8,145 1605.5,145.6 1606.2,144.9 1606.9,145.6 1607.6,146.1 1608.3,145.6 1609,145.9 1609.7,144.7 1610.4,145.6 1611.2,146.3 1611.9,145.9 1612.6,145.2 1613.3,147 1614,145.9 1614.7,146.7 1615.4,146.1 1616.1,145.8 1616.8,145.8 1617.5,147.3 1618.2,146.8 1618.9,146.8 1619.6,147 1620.3,147.1 1621,146.2 1621.7,146.9 1622.4,147.4 1623.1,146.9 1623.8,147.6 1624.5,147.6 1625.2,146.5 1625.9,147.5 1626.6,147.6 1627.3,145.8 1628,146.2 1628.7,146.8 1629.4,146.1 1630.1,146.5 1630.8,146.8 1631.5,146.6 1632.2,146.8 1632.9,146.9 1633.6,147.1 1634.3,146.7 1635,146.4 1635.7,146.4 1636.4,146.6 1637.1,147.2 1637.8,147 1638.5,148 1639.2,147.1 1639.9,147.7 1640.6,146.9 1641.3,146.8 1642,147.4 1642.7,147.8 1643.4,148.1 1644.1,147.4 1644.8,147.7 1645.5,147.5 1646.2,147.5 1646.9,147.7 1647.6,146.1 1648.3,147.6 1649,147.1 1649.7,147.1 1650.4,147.8 1651.1,145.9 1651.8,146 1652.5,146.4 1653.2,147.1 1653.9,147 1654.6,146.8 1655.3,147.2 1656,146.8 1656.7,147.5 1657.4,147.8 1658.1,147.7 1658.8,147.8 1659.5,147.6 1660.2,147.6 1660.9,148.2 1661.6,147.6 1662.3,147.3 1663,147.7 1663.7,148.2 1664.4,148.2 1665.1,148 1665.8,147.9 1666.5,148 1667.2,147.2 1667.9,147.7 1668.6,146.9 1669.3,146.6 1670,147.6 1670.7,147.1 1671.4,148 1672.1,147.8 1672.8,148.9 1673.5,148.9 1674.2,148.4 1674.9,148.2 1675.6,147.4 1676.3,147.7 1677,147.9 1677.7,148.4 1678.4,148.6 1679.1,148 1679.8,148.6 1680.5,147.8 1681.2,148.9 1681.9,148.5 1682.6,147.9 1683.3,147.3 1684,148.5 1684.7,148 1685.4,147.9 1686.1,148.1 1686.8,147.5 1687.6,148.4 1688.3,148.6 1689,148.9 1689.7,148.4 1690.4,148.2 1691.1,148.7 1691.8,148.3 1692.5,146.6 1693.2,147.4 1693.9,147.5 1694.6,146.8 1695.3,147.9 1696,148 1696.7,148.4 1697.4,148.3 1698.1,149.8 1698.8,148.5 1699.5,147.5 1700.2,148.4 1700.9,148.5 1701.6,148 1702.3,149.3 1703,147.9 1703.7,148 1704.4,148.3 1705.1,148.5 1705.8,147.6 1706.5,147.4 1707.2,147.5 1707.9,148.3 1708.6,147.9 1709.3,148.4 1710,147.6 1710.7,148.7 1711.4,148.3 1712.1,148.5 1712.8,148.6 1713.5,148.5 1714.2,148.4 1714.9,147.2 1715.6,147.7 1716.3,147.8 1717,148.3 1717.7,147.9 1718.4,148 1719.1,148.1 1719.8,148.2 1720.5,147.4 1721.2,147.3 1721.9,147.2 1722.6,147.9 1723.3,147.4 1724,148 1724.7,147.9 1725.4,147.6 1726.1,148.4 1726.8,148.2 1727.5,147.6 1728.2,147.4 1728.9,147.6 1729.6,148.5 1730.3,147.6 1731,148.5 1731.7,148.5 1732.4,146.6 1733.1,147.2 1733.8,147.5 1734.5,147.1 1735.2,147.6 1735.9,147.3 1736.6,147 1737.3,146.8 1738,145.9 1738.7,146.7 1739.4,146 1740.1,146.9 1740.8,146.3 1741.5,147.3 1742.2,146.1 1742.9,144.7 1743.6,146.1 1744.3,144.8 1745,144.9 1745.7,145 1746.4,144.3 1747.1,144.1 1747.8,145 1748.5,144.3 1749.2,143.6 1749.9,143.7 1750.6,144 1751.3,144.1 1752,143.1 1752.7,143.2 1753.4,143.7 1754.1,143.7 1754.8,144.2 1755.5,143.1 1756.2,144.3 1756.9,142.7 1757.6,143.3 1758.3,143.4 1759,143.1 1759.7,143.4 1760.4,143.2 1761.1,143.8 1761.8,143.9 1762.5,143.1 1763.3,143.2 1764,142.9 1764.7,143.5 1765.4,143.3 1766.1,143.2 1766.8,143.1 1767.5,144.3 1768.2,143.2 1768.9,143.7 1769.6,143.9 1770.3,144.5 1771,144.4 1771.7,144.4 1772.4,145.2 1773.1,145.1 1773.8,146 1774.5,146.7 1775.2,146.7 1775.9,146.9 1776.6,146.8 1777.3,146.1 1778,146.4 1778.7,146 1779.4,146.8 1780.1,146.8 1780.8,146.4 1781.5,147.1 1782.2,146.9 1782.9,147.5 1783.6,147.1 1784.3,146.9 1785,146.8 1785.7,147.1 1786.4,147.7 1787.1,147.1 1787.8,147.1 1788.5,148.1 1789.2,147.2 1789.9,147.5 1790.6,148.3 1791.3,147.4 1792,148.1 1792.7,147.3 1793.4,147.6 1794.1,147.7 1794.8,147.3 1795.5,146.5 1796.2,146.4 1796.9,147 1797.6,146.7 1798.3,147.3 1799,148.1 1799.7,147.8 1800.4,147.9 1801.1,147.7 1801.8,148.2 1802.5,149.1 1803.2,147.9 1803.9,147.6 1804.6,148.2 1805.3,149.2 1806,148.1 1806.7,148.2 1807.4,147.7 1808.1,147.6 1808.8,146.9 1809.5,146.7 1810.2,147 1810.9,148.1 1811.6,146.5 1812.3,147.3 1813,147.3 1813.7,147.1 1814.4,147.4 1815.1,147.3 1815.8,148 1816.5,147.7 1817.2,147.9 1817.9,148.6 1818.6,148.7 1819.3,149.9 1820,148.5 1820.7,149.3 1821.4,147.6 1822.1,148.6 1822.8,148.6 1823.5,148.1 1824.2,148.5 1824.9,148 1825.6,148.1 1826.3,148.5 1827,148.6 1827.7,147.5 1828.4,149.2 1829.1,148.5 1829.8,148 1830.5,148.9 1831.2,148.4 1831.9,149.5 1832.6,147.9 1833.3,148.7 1834,148.6 1834.7,148.9 1835.4,148.2 1836.1,147.4 1836.8,146.6 1837.5,147.1 1838.2,148.3 1838.9,147.8 1839.7,149.3 1840.4,148.2 1841.1,148.8 1841.8,148.1 1842.5,148.4 1843.2,147.8 1843.9,147.8 1844.6,146.8 1845.3,147.9 1846,147.3 1846.7,147.2 1847.4,147.2 1848.1,147.4 1848.8,148.5 1849.5,148.2 1850.2,148.4 1850.9,148 1851.6,148.4 1852.3,148.4 1853,147.7 1853.7,147.5 1854.4,148.2 1855.1,148.3 1855.8,148.3 1856.5,148.7 1857.2,149.4 1857.9,147.9 1858.6,148.5 1859.3,148.1 1860,148.2 1860.7,147.5 1861.4,147.7 1862.1,146.6 1862.8,147.2 1863.5,147.7 1864.2,146.9 1864.9,147.5 1865.6,147.4 1866.3,148 1867,148.7 1867.7,148.1 1868.4,149 1869.1,147.5 1869.8,148.3 1870.5,148.2 1871.2,147.3 1871.9,147.6 1872.6,148.4 1873.3,147.9 1874,148 1874.7,148.4 1875.4,147.9 1876.1,148.4 1876.8,148 1877.5,148.4 1878.2,148.9 1878.9,147.7 1879.6,148.6 1880.3,149.5 1881,150.1 1881.7,148.5 1882.4,148.5 1883.1,147.8 1883.8,148.9 1884.5,148 1885.2,148.8 1885.9,148.9 1886.6,148.2 1887.3,148.3 1888,147.9 1888.7,148.9 1889.4,149.1 1890.1,148.4 1890.8,149.7 1891.5,149 1892.2,148.9 1892.9,148.9 1893.6,148.4 1894.3,148.4 1895,148.2 1895.7,147.7 1896.4,148.4 1897.1,148 1897.8,149.1 1898.5,148.4 1899.2,148.8 1899.9,149 1900.6,149.7 1901.3,150 1902,148.5 1902.7,149.2 1903.4,149.2 1904.1,148.6 1904.8,149.6 1905.5,149.5 1906.2,148.6 1906.9,147.6 1907.6,148.7 1908.3,148.3 1909,148.7 1909.7,149.2 1910.4,150.2 1911.1,148.7 1911.8,149.3 1912.5,149.2 1913.2,148.8 1913.9,148.5 1914.6,149 1915.3,148.6 1916.1,149.5 1916.8,149.4 1917.5,148.9 1918.2,149 1918.9,148.9 1919.6,148.8 1920.3,148.6 1921,148.8 1921.7,149.8 1922.4,149.8 1923.1,149.4 1923.8,149.7 1924.5,149.4 1925.2,148.3 1925.9,149.7 1926.6,149 1927.3,149.9 1928,148.6 1928.7,147.7 1929.4,148.7 1930.1,149.7 1930.8,149 1931.5,149.1 1932.2,150.1 1932.9,149.6 1933.6,149.4 1934.3,148.6 1935,148.5 1935.7,148.2 1936.4,148.4 1937.1,148.5 1937.8,149 1938.5,149.7 1939.2,149.9 1939.9,149.3 1940.6,149.6 1941.3,149.8 1942,149.5 1942.7,150.1 1943.4,149.5 1944.1,149.4 1944.8,148.8 1945.5,149 1946.2,149.6 1946.9,149.6 1947.6,149.7 1948.3,150 1949,149.4 1949.7,150.9 1950.4,150.5 1951.1,150 1951.8,150 1952.5,149.4 1953.2,149.7 1953.9,150 1954.6,149.7 1955.3,149.8 1956,149.7 1956.7,148.6 1957.4,149.9 1958.1,150.3 1958.8,148.9 1959.5,149.5 1960.2,149.7 1960.9,149.2" fill="none" stroke="#e56bfb" stroke-width="1.7" stroke-linejoin="round" stroke-linecap="butt"/>
<polyline points="1449.2,144.8 1449.9,143.9 1450.6,144.8 1451.3,144.3 1452,143.9 1452.7,143.7 1453.4,144.3 1454.1,143.2 1454.8,143.7 1455.5,142.6 1456.2,142.4 1456.9,142.5 1457.6,142.7 1458.4,142.7 1459.1,142 1459.8,142.9 1460.5,142.3 1461.2,142.6 1461.9,142.8 1462.6,141.5 1463.3,143.2 1464,141.8 1464.7,141.9 1465.4,141.7 1466.1,141.7 1466.8,141.2 1467.5,141.2 1468.2,141.2 1468.9,140.9 1469.6,141.4 1470.3,142.3 1471,139.6 1471.7,140.6 1472.4,140.4 1473.1,140.2 1473.8,140.3 1474.5,140.7 1475.2,140.7 1475.9,140.4 1476.6,139.6 1477.3,140.9 1478,139.8 1478.7,139.4 1479.4,141 1480.1,140.5 1480.8,139.8 1481.5,139.5 1482.2,140.5 1482.9,139.8 1483.6,139.3 1484.3,140 1485,139.1 1485.7,138.5 1486.4,139.5 1487.1,139.3 1487.8,139.3 1488.5,139.4 1489.2,139.6 1489.9,138.2 1490.6,138.8 1491.3,138.5 1492,137.6 1492.7,138.1 1493.4,139.9 1494.1,137.9 1494.8,138.8 1495.5,138.7 1496.2,138.6 1496.9,138.3 1497.6,138.7 1498.3,138.1 1499,137.9 1499.7,137.2 1500.4,137.5 1501.1,137.9 1501.8,138 1502.5,138.3 1503.2,138 1503.9,137.6 1504.6,138 1505.3,138.8 1506,138.7 1506.7,138.1 1507.4,137.7 1508.1,136.3 1508.8,136.5 1509.5,137.1 1510.2,137.3 1510.9,138.1 1511.6,137.2 1512.3,138 1513,136.1 1513.7,137 1514.4,136.8 1515.1,136.8 1515.8,136.8 1516.5,136.6 1517.2,136.6 1517.9,137 1518.6,136 1519.3,137.1 1520,135.6 1520.7,136.6 1521.4,136.1 1522.1,135.6 1522.8,135.7 1523.5,135.5 1524.2,134.8 1524.9,136 1525.6,134.7 1526.3,135.2 1527,135.3 1527.7,134.1 1528.4,133.7 1529.1,131.4 1529.8,131 1530.5,130.5 1531.2,130.6 1531.9,128.9 1532.6,128.6 1533.3,129.3 1534,128.1 1534.8,127.4 1535.5,125.7 1536.2,125 1536.9,122.5 1537.6,122 1538.3,121.5 1539,120.9 1539.7,120.4 1540.4,118.5 1541.1,118.3 1541.8,116.3 1542.5,116.7 1543.2,113.4 1543.9,112.1 1544.6,109.2 1545.3,106.5 1546,103 1546.7,99.6 1547.4,95.6 1548.1,89.3 1548.8,85.8 1549.5,81 1550.2,75.8 1550.9,68.9 1551.6,64.5 1552.3,58.4 1553,54.9 1553.7,50.9 1554.4,48.8 1555.1,47.3 1555.8,45.9 1556.5,46.1 1557.2,43.5 1557.9,42.6 1558.6,43.8 1559.3,43.5 1560,43 1560.7,44.1 1561.4,44.9 1562.1,44.6 1562.8,46.2 1563.5,48.4 1564.2,49 1564.9,51.7 1565.6,52.9 1566.3,56.2 1567,58.9 1567.7,61.4 1568.4,64.3 1569.1,67.2 1569.8,69.8 1570.5,73.1 1571.2,74.6 1571.9,76.5 1572.6,78.4 1573.3,81.2 1574,82.2 1574.7,84.2 1575.4,86.1 1576.1,86.8 1576.8,87.6 1577.5,90.3 1578.2,90.1 1578.9,91.3 1579.6,92.1 1580.3,92.3 1581,94 1581.7,93.5 1582.4,92.2 1583.1,91 1583.8,92 1584.5,92.3 1585.2,96.3 1585.9,98.2 1586.6,98.9 1587.3,100 1588,100.1 1588.7,100.8 1589.4,102 1590.1,103.7 1590.8,103.4 1591.5,105.9 1592.2,106.6 1592.9,109.5 1593.6,108.5 1594.3,109.2 1595,112.3 1595.7,113.2 1596.4,112.8 1597.1,113.8 1597.8,113.8 1598.5,114.4 1599.2,115 1599.9,115.5 1600.6,115.6 1601.3,116 1602,117.4 1602.7,118.1 1603.4,118.5 1604.1,118.2 1604.8,119 1605.5,119.1 1606.2,119.7 1606.9,120.3 1607.6,122 1608.3,121.3 1609,121 1609.7,121.5 1610.4,122.3 1611.2,121.2 1611.9,122.5 1612.6,122.7 1613.3,122 1614,123.4 1614.7,123.3 1615.4,122.2 1616.1,123.4 1616.8,122.9 1617.5,123.1 1618.2,124.2 1618.9,123.5 1619.6,122.5 1620.3,122 1621,122.4 1621.7,121.7 1622.4,122.4 1623.1,123.4 1623.8,123.7 1624.5,124.7 1625.2,125.6 1625.9,123.9 1626.6,125.1 1627.3,123.5 1628,124.1 1628.7,124.8 1629.4,125.4 1630.1,123.5 1630.8,125 1631.5,123.9 1632.2,123.6 1632.9,124.2 1633.6,125.2 1634.3,125.7 1635,125.1 1635.7,124.7 1636.4,124.1 1637.1,123 1637.8,123.2 1638.5,124.5 1639.2,123.4 1639.9,123.7 1640.6,124.3 1641.3,124 1642,123.8 1642.7,123.4 1643.4,123.7 1644.1,124.2 1644.8,124.1 1645.5,123.7 1646.2,123.3 1646.9,123.7 1647.6,124.2 1648.3,123.7 1649,123.9 1649.7,124.4 1650.4,123.9 1651.1,123.4 1651.8,123.5 1652.5,122.9 1653.2,122.4 1653.9,123.5 1654.6,123.4 1655.3,123.2 1656,124 1656.7,124.6 1657.4,123.7 1658.1,122.4 1658.8,122.8 1659.5,122.9 1660.2,122.9 1660.9,123.4 1661.6,122.5 1662.3,121.8 1663,122.5 1663.7,121.5 1664.4,122.2 1665.1,121.2 1665.8,122.8 1666.5,121.8 1667.2,121.9 1667.9,121.5 1668.6,121 1669.3,121.4 1670,121.4 1670.7,121.7 1671.4,121.6 1672.1,121.5 1672.8,121 1673.5,120.6 1674.2,120.8 1674.9,120.3 1675.6,120.4 1676.3,120.5 1677,120.4 1677.7,120.7 1678.4,120.9 1679.1,121.3 1679.8,121.6 1680.5,121.9 1681.2,121.9 1681.9,122.2 1682.6,122.1 1683.3,121.2 1684,122.3 1684.7,123.2 1685.4,122.1 1686.1,123.1 1686.8,122.7 1687.6,123.5 1688.3,123.3 1689,122.9 1689.7,123 1690.4,122.1 1691.1,124 1691.8,123.1 1692.5,122.5 1693.2,122.9 1693.9,123.9 1694.6,123.3 1695.3,124 1696,124.8 1696.7,124.5 1697.4,124.7 1698.1,125.3 1698.8,123.9 1699.5,125.2 1700.2,124.6 1700.9,123.3 1701.6,123 1702.3,124.1 1703,124.1 1703.7,123.8 1704.4,124.1 1705.1,124.4 1705.8,124.2 1706.5,124.2 1707.2,124.8 1707.9,125 1708.6,123.4 1709.3,123.6 1710,123.5 1710.7,123.3 1711.4,123.4 1712.1,124.1 1712.8,123.8 1713.5,122.8 1714.2,123.6 1714.9,122.2 1715.6,122.4 1716.3,122.3 1717,121.9 1717.7,121.5 1718.4,122 1719.1,122.3 1719.8,121.7 1720.5,122.5 1721.2,122.2 1721.9,121.5 1722.6,121.8 1723.3,121.1 1724,121 1724.7,120.7 1725.4,120.2 1726.1,120.5 1726.8,119.5 1727.5,119.3 1728.2,118.5 1728.9,117.9 1729.6,118.3 1730.3,118.1 1731,116.3 1731.7,116.9 1732.4,116.1 1733.1,115.3 1733.8,114.3 1734.5,113.8 1735.2,112.5 1735.9,111.2 1736.6,110.7 1737.3,108.4 1738,108.1 1738.7,105 1739.4,104.2 1740.1,100.9 1740.8,99.5 1741.5,97.2 1742.2,95.7 1742.9,93.7 1743.6,90.9 1744.3,88.1 1745,86.7 1745.7,84.4 1746.4,83.9 1747.1,82.7 1747.8,80.7 1748.5,81.8 1749.2,79.4 1749.9,78.2 1750.6,79 1751.3,77.8 1752,76.9 1752.7,76.7 1753.4,77 1754.1,77 1754.8,76 1755.5,75.9 1756.2,76.5 1756.9,77.7 1757.6,77.9 1758.3,79.1 1759,80.2 1759.7,81.9 1760.4,82.5 1761.1,84.5 1761.8,86 1762.5,88.5 1763.3,90 1764,92.9 1764.7,95.1 1765.4,96.4 1766.1,98.6 1766.8,99 1767.5,100.9 1768.2,102.5 1768.9,103.3 1769.6,104.6 1770.3,105 1771,107.1 1771.7,107.8 1772.4,108.9 1773.1,110.3 1773.8,111.5 1774.5,111.9 1775.2,111.6 1775.9,112.6 1776.6,113.4 1777.3,113.6 1778,113.9 1778.7,113.9 1779.4,112.9 1780.1,113.6 1780.8,114.1 1781.5,114.2 1782.2,114.5 1782.9,115.5 1783.6,115 1784.3,115.3 1785,115.3 1785.7,114 1786.4,115.7 1787.1,116.1 1787.8,116.3 1788.5,116.9 1789.2,115.2 1789.9,115.8 1790.6,115.8 1791.3,116.4 1792,115.7 1792.7,117.1 1793.4,117.6 1794.1,117.6 1794.8,117.3 1795.5,117.6 1796.2,116.5 1796.9,116 1797.6,116.4 1798.3,116.6 1799,116.8 1799.7,117.5 1800.4,117.3 1801.1,116.5 1801.8,116.9 1802.5,118 1803.2,117.7 1803.9,117.4 1804.6,116 1805.3,117.3 1806,118 1806.7,116.7 1807.4,116.5 1808.1,116.9 1808.8,116.2 1809.5,116.3 1810.2,117.4 1810.9,116.4 1811.6,117.4 1812.3,116.5 1813,116.3 1813.7,115.9 1814.4,116.8 1815.1,116.9 1815.8,117.3 1816.5,117.3 1817.2,117.1 1817.9,117.9 1818.6,117.6 1819.3,117.4 1820,116.7 1820.7,117.7 1821.4,116.6 1822.1,117.9 1822.8,117.8 1823.5,117.1 1824.2,116.4 1824.9,116.4 1825.6,115.9 1826.3,115.5 1827,116.6 1827.7,116.6 1828.4,116.3 1829.1,115.9 1829.8,116.5 1830.5,116.3 1831.2,116.1 1831.9,115 1832.6,114.8 1833.3,115.5 1834,116.5 1834.7,114.9 1835.4,115.7 1836.1,115.7 1836.8,115.6 1837.5,115.3 1838.2,115.6 1838.9,115.1 1839.7,114.7 1840.4,115.2 1841.1,115.2 1841.8,115.8 1842.5,115.3 1843.2,115.2 1843.9,114.9 1844.6,114.5 1845.3,114 1846,114.5 1846.7,114.7 1847.4,114.9 1848.1,114.1 1848.8,114.6 1849.5,114.4 1850.2,115.6 1850.9,114 1851.6,114.5 1852.3,113.2 1853,114.4 1853.7,113.6 1854.4,114.3 1855.1,114.2 1855.8,113 1856.5,112.4 1857.2,113.6 1857.9,112.8 1858.6,113.4 1859.3,113.9 1860,112.7 1860.7,112.4 1861.4,112.9 1862.1,112.5 1862.8,112.9 1863.5,113.6 1864.2,112.6 1864.9,112 1865.6,113 1866.3,112.7 1867,111.9 1867.7,112.8 1868.4,112.8 1869.1,112.8 1869.8,112.5 1870.5,112.4 1871.2,112.1 1871.9,113.2 1872.6,112.6 1873.3,112.7 1874,112.9 1874.7,112.7 1875.4,113.3 1876.1,113.2 1876.8,113.6 1877.5,112.9 1878.2,113.5 1878.9,112.2 1879.6,112.6 1880.3,113 1881,112.6 1881.7,113.1 1882.4,113.4 1883.1,113 1883.8,114.1 1884.5,113.4 1885.2,113.7 1885.9,112.7 1886.6,113.6 1887.3,113 1888,112.6 1888.7,113.8 1889.4,113.9 1890.1,113.2 1890.8,114 1891.5,115.4 1892.2,114.8 1892.9,114.9 1893.6,115.7 1894.3,115.7 1895,115.1 1895.7,114.8 1896.4,114.7 1897.1,114.6 1897.8,114.2 1898.5,114.6 1899.2,114.3 1899.9,114.8 1900.6,114.5 1901.3,115.2 1902,114.8 1902.7,115.4 1903.4,114 1904.1,114.3 1904.8,114.2 1905.5,113.7 1906.2,114.2 1906.9,114.4 1907.6,114.5 1908.3,115.1 1909,115.1 1909.7,114.7 1910.4,115 1911.1,114.9 1911.8,114.5 1912.5,114.2 1913.2,115 1913.9,114 1914.6,114.2 1915.3,113.2 1916.1,114.1 1916.8,114.6 1917.5,114.1 1918.2,115 1918.9,114.5 1919.6,115.3 1920.3,116.2 1921,116.2 1921.7,115.3 1922.4,116 1923.1,114.9 1923.8,115.3 1924.5,114.1 1925.2,115.2 1925.9,115.1 1926.6,114.7 1927.3,115.1 1928,115.2 1928.7,115.2 1929.4,115.5 1930.1,114.5 1930.8,114.6 1931.5,115 1932.2,114.8 1932.9,115.1 1933.6,115 1934.3,116.3 1935,115.4 1935.7,116.1 1936.4,115.7 1937.1,114.8 1937.8,114.8 1938.5,115.3 1939.2,114.6 1939.9,114.8 1940.6,114.1 1941.3,115.2 1942,114.4 1942.7,115.1 1943.4,114.8 1944.1,114.5 1944.8,114.2 1945.5,114.9 1946.2,114.8 1946.9,113.9 1947.6,114.2 1948.3,113.9 1949,113.8 1949.7,113.8 1950.4,114.4 1951.1,114.7 1951.8,113.9 1952.5,114.6 1953.2,114.5 1953.9,114.3 1954.6,114.4 1955.3,115.1 1956,115.5 1956.7,114.8 1957.4,114.6 1958.1,115.4 1958.8,115.5 1959.5,115.6 1960.2,115.3 1960.9,116.4" fill="none" stroke="#b4ec68" stroke-width="1.7" stroke-linejoin="round" stroke-linecap="butt"/>
<polyline points="1437.3,298 1438.3,298 1439.3,297.8 1440.3,298 1441.3,298 1442.3,297.7 1443.3,297.8 1444.3,297.7 1445.3,297.8 1446.3,298.3 1447.3,297.9 1448.3,298.1 1449.3,297.9 1450.3,297.9 1451.3,297.6 1452.3,297.6 1453.3,297.7 1454.3,297.9 1455.3,297.5 1456.3,297.6 1457.3,297.8 1458.3,298 1459.3,297.9 1460.3,297.9 1461.3,297.8 1462.4,297.6 1463.4,297.7 1464.4,297.9 1465.4,297.8 1466.4,297.7 1467.4,298 1468.4,298 1469.4,298 1470.4,298.1 1471.4,297.7 1472.4,297.7 1473.4,297.4 1474.4,297.7 1475.4,297.8 1476.4,297.8 1477.4,297.8 1478.4,297.9 1479.4,297.8 1480.4,297.8 1481.4,297.7 1482.4,297.6 1483.4,297.8 1484.4,297.7 1485.4,297.6 1486.4,297.6 1487.4,297.7 1488.4,297.7 1489.4,297.8 1490.4,297.7 1491.4,297.6 1492.4,297.4 1493.4,297.7 1494.4,297.5 1495.4,297.6 1496.4,297.7 1497.4,297.5 1498.4,297.5 1499.4,297.6 1500.4,297.5 1501.4,297.5 1502.4,297.8 1503.4,297.6 1504.4,297.9 1505.4,297.5 1506.4,297.6 1507.4,297.6 1508.4,297.7 1509.4,297.6 1510.4,297.7 1511.4,297.6 1512.4,297.5 1513.4,297.6 1514.4,297.5 1515.4,297.6 1516.4,297.5 1517.4,297.6 1518.4,297.7 1519.4,297.7 1520.4,297.8 1521.4,297.6 1522.4,297.6 1523.4,298 1524.4,297.9 1525.4,297.9 1526.4,297.8 1527.4,297.9 1528.4,297.8 1529.4,297.7 1530.4,297.8 1531.4,297.5 1532.5,297.6 1533.5,297.4 1534.5,297.6 1535.5,297.4 1536.5,297.7 1537.5,297.3 1538.5,297.6 1539.5,297.2 1540.5,297.2 1541.5,297.3 1542.5,297.3 1543.5,297.1 1544.5,297.1 1545.5,296.9 1546.5,297.1 1547.5,297.2 1548.5,297 1549.5,297.2 1550.5,297.3 1551.5,296.9 1552.5,297.2 1553.5,297.2 1554.5,297 1555.5,297.1 1556.5,296.8 1557.5,296.8 1558.5,296.9 1559.5,296.5 1560.5,296.3 1561.5,296.2 1562.5,296.6 1563.5,296.4 1564.5,296.1 1565.5,296.1 1566.5,295.8 1567.5,295.9 1568.5,295.4 1569.5,295.5 1570.5,294.9 1571.5,295.1 1572.5,294.8 1573.5,294.9 1574.5,294.7 1575.5,294.4 1576.5,294.1 1577.5,293.8 1578.5,293.9 1579.5,293.5 1580.5,293.1 1581.5,292.7 1582.5,292.7 1583.5,292.4 1584.5,292.1 1585.5,291.8 1586.5,291.5 1587.5,290.9 1588.5,290.6 1589.5,290.3 1590.5,290 1591.5,289.7 1592.5,289.9 1593.5,289.9 1594.5,289.7 1595.5,289.8 1596.5,289.8 1597.5,289.8 1598.5,289.9 1599.5,290.1 1600.5,289.9 1601.6,290.2 1602.6,290.3 1603.6,290.1 1604.6,290.4 1605.6,290.3 1606.6,290.3 1607.6,290.3 1608.6,290.4 1609.6,290.6 1610.6,290.9 1611.6,290.8 1612.6,290.8 1613.6,291.3 1614.6,291.3 1615.6,291.6 1616.6,291.6 1617.6,292 1618.6,292.3 1619.6,292.5 1620.6,292.8 1621.6,293 1622.6,293.1 1623.6,293.5 1624.6,293.6 1625.6,293.8 1626.6,293.8 1627.6,294.2 1628.6,294.4 1629.6,294.2 1630.6,294.6 1631.6,294.9 1632.6,294.9 1633.6,295.2 1634.6,295.3 1635.6,295.1 1636.6,295.2 1637.6,295.3 1638.6,295.1 1639.6,295.4 1640.6,295.4 1641.6,295.3 1642.6,295.2 1643.6,295.2 1644.6,295.3 1645.6,295.4 1646.6,295.2 1647.6,295.5 1648.6,295.7 1649.6,295.2 1650.6,295.2 1651.6,295.5 1652.6,295.4 1653.6,295.2 1654.6,295.2 1655.6,295.3 1656.6,295.5 1657.6,295.3 1658.6,295.4 1659.6,295.4 1660.6,295.4 1661.6,295.2 1662.6,295.1 1663.6,295.1 1664.6,295.4 1665.6,295.1 1666.6,295.2 1667.6,295.1 1668.6,295.1 1669.6,295.3 1670.7,295.3 1671.7,295.8 1672.7,295.9 1673.7,295.9 1674.7,295.7 1675.7,295.8 1676.7,295.9 1677.7,295.9 1678.7,296 1679.7,296 1680.7,295.8 1681.7,296 1682.7,296 1683.7,295.9 1684.7,295.9 1685.7,296.2 1686.7,296.1 1687.7,296.1 1688.7,295.9 1689.7,296.1 1690.7,296 1691.7,295.9 1692.7,296 1693.7,296 1694.7,295.9 1695.7,296.3 1696.7,296.4 1697.7,296 1698.7,296.3 1699.7,296.3 1700.7,296.4 1701.7,296.4 1702.7,296.4 1703.7,296.4 1704.7,296.4 1705.7,296.7 1706.7,296.8 1707.7,296.4 1708.7,296.5 1709.7,296.5 1710.7,296.4 1711.7,296.5 1712.7,296.6 1713.7,296.5 1714.7,296.5 1715.7,296.5 1716.7,296.5 1717.7,296.7 1718.7,296.6 1719.7,296.6 1720.7,296.7 1721.7,296.8 1722.7,297 1723.7,297 1724.7,296.9 1725.7,297.2 1726.7,296.9 1727.7,297 1728.7,297 1729.7,297 1730.7,296.8 1731.7,297.1 1732.7,297 1733.7,296.9 1734.7,297 1735.7,296.9 1736.7,296.9 1737.7,297 1738.7,296.7 1739.7,297.1 1740.8,296.8 1741.8,296.9 1742.8,297.1 1743.8,296.9 1744.8,296.8 1745.8,297.1 1746.8,297.1 1747.8,297.2 1748.8,297.2 1749.8,297.1 1750.8,297 1751.8,297.2 1752.8,297.3 1753.8,297.3 1754.8,297.2 1755.8,297.2 1756.8,297 1757.8,297 1758.8,296.9 1759.8,297.1 1760.8,297.2 1761.8,297 1762.8,297 1763.8,297 1764.8,297.2 1765.8,297.1 1766.8,297.5 1767.8,297.3 1768.8,297.3 1769.8,297.3 1770.8,297.2 1771.8,297.1 1772.8,297.2 1773.8,297.2 1774.8,297.2 1775.8,297.2 1776.8,297.2 1777.8,297.4 1778.8,297.3 1779.8,297.3 1780.8,297.3 1781.8,297.2 1782.8,297.3 1783.8,297 1784.8,297 1785.8,297.1 1786.8,297.2 1787.8,297 1788.8,297 1789.8,296.9 1790.8,297 1791.8,296.8 1792.8,297.1 1793.8,297.3 1794.8,297.1 1795.8,297.3 1796.8,297.1 1797.8,297.1 1798.8,297 1799.8,297.2 1800.8,297.2 1801.8,297.1 1802.8,297.2 1803.8,297 1804.8,297.3 1805.8,297.1 1806.8,297.1 1807.8,297 1808.8,297.1 1809.9,296.9 1810.9,297.1 1811.9,297.4 1812.9,297.4 1813.9,297.4 1814.9,297.5 1815.9,297.3 1816.9,297.2 1817.9,297.3 1818.9,297.2 1819.9,297.4 1820.9,297.3 1821.9,297.5 1822.9,297.3 1823.9,297.1 1824.9,297.3 1825.9,297.4 1826.9,297.2 1827.9,297.1 1828.9,297.3 1829.9,297.3 1830.9,297.3 1831.9,297.1 1832.9,297.2 1833.9,297.4 1834.9,297.2 1835.9,297.2 1836.9,297.2 1837.9,297.4 1838.9,297.4 1839.9,297.2 1840.9,297.7 1841.9,297.5 1842.9,297.4 1843.9,297.2 1844.9,297.3 1845.9,297.4 1846.9,297.4 1847.9,297.1 1848.9,297.3 1849.9,297.4 1850.9,297.2 1851.9,297.5 1852.9,297.4 1853.9,297.2 1854.9,297.1 1855.9,297.4 1856.9,297.4 1857.9,297.4 1858.9,297.4 1859.9,297.6 1860.9,297.4 1861.9,297.5 1862.9,297.4 1863.9,297.3 1864.9,297.5 1865.9,297.5 1866.9,297.6 1867.9,297.4 1868.9,297.5 1869.9,297.1 1870.9,297.4 1871.9,297.4 1872.9,297.5 1873.9,297.4 1874.9,297.6 1875.9,297.5 1876.9,297.5 1877.9,297.5 1879,297.5 1880,297.4 1881,297.5 1882,297.3 1883,297.6 1884,297.5 1885,297.7 1886,297.3 1887,297.6 1888,297.5 1889,297.2 1890,297.4 1891,297.5 1892,297.4 1893,297.5 1894,297.7 1895,297.6 1896,297.8 1897,297.7 1898,297.8 1899,297.2 1900,297.3 1901,297.2 1902,297.3 1903,297.4 1904,297.6 1905,297.7 1906,297.8 1907,297.7 1908,297.8 1909,297.7 1910,297.5 1911,297.7 1912,297.8 1913,297.6 1914,297.5 1915,297.6 1916,297.7 1917,297.7 1918,297.4 1919,297.5 1920,297.5 1921,297.4 1922,297.3 1923,297.5 1924,297.7 1925,297.7 1926,297.7 1927,297.8 1928,297.6 1929,297.6 1930,297.5 1931,297.7 1932,297.9 1933,297.9 1934,297.6 1935,297.6 1936,297.6 1937,297.5 1938,297.4 1939,297.7 1940,297.6 1941,297.7 1942,297.7 1943,297.7 1944,297.6 1945,297.8 1946,297.8 1947,297.7 1948,297.7 1949.1,297.7 1950.1,297.6 1951.1,297.5 1952.1,297.8 1953.1,297.8 1954.1,297.8 1955.1,297.7 1956.1,297.6 1957.1,297.9 1958.1,297.9 1959.1,297.6 1960.1,297.4 1961.1,297.5 1962.1,297.6 1963.1,297.4 1964.1,297.5 1965.1,297.4 1966.1,297.5 1967.1,297.2 1968.1,297.3 1969.1,297.1 1970.1,297 1971.1,297.3 1972.1,297 1973.1,297.2 1974.1,297.5 1975.1,297.6 1976.1,297.7 1977.1,298.1" fill="none" stroke="#e56bfb" stroke-width="1.8" stroke-linejoin="round" stroke-linecap="butt"/>
<polyline points="1437.3,291.3 1438.3,291.1 1439.3,291.1 1440.3,291 1441.3,291 1442.3,290.8 1443.3,291 1444.3,291.1 1445.3,290.9 1446.3,291.2 1447.3,291.3 1448.3,291.4 1449.3,291.3 1450.3,291.1 1451.3,291.1 1452.3,291.2 1453.3,291.3 1454.3,291.2 1455.3,291.1 1456.3,291.1 1457.3,290.8 1458.3,291.1 1459.3,291.2 1460.3,290.9 1461.3,290.8 1462.3,291 1463.3,290.9 1464.3,291 1465.3,290.9 1466.3,291.1 1467.3,290.9 1468.3,291 1469.3,291 1470.3,290.7 1471.3,290.9 1472.3,290.5 1473.3,290.8 1474.3,290.8 1475.3,290.7 1476.3,290.8 1477.3,291 1478.3,290.9 1479.3,290.8 1480.3,291.1 1481.4,291 1482.4,290.9 1483.4,290.8 1484.4,290.8 1485.4,290.6 1486.4,290.8 1487.4,290.9 1488.4,290.8 1489.4,290.8 1490.4,290.8 1491.4,290.8 1492.4,291 1493.4,291 1494.4,290.9 1495.4,290.8 1496.4,290.8 1497.4,290.7 1498.4,290.7 1499.4,290.8 1500.4,290.5 1501.4,290.8 1502.4,290.7 1503.4,290.6 1504.4,290.9 1505.4,290.8 1506.4,291.1 1507.4,291 1508.4,291.1 1509.4,290.8 1510.4,290.8 1511.4,290.8 1512.4,291 1513.4,291 1514.4,290.8 1515.4,290.6 1516.4,290.8 1517.4,290.3 1518.4,290.4 1519.4,290.4 1520.4,290.5 1521.4,290.4 1522.4,290.7 1523.4,290.5 1524.4,290.5 1525.4,290.5 1526.4,290.5 1527.4,290.4 1528.4,290.5 1529.4,290.3 1530.4,290.4 1531.4,290.5 1532.4,290.3 1533.4,290.3 1534.4,290.1 1535.4,289.6 1536.4,289.9 1537.4,289.6 1538.4,289.6 1539.4,289.5 1540.4,289.3 1541.4,289.2 1542.4,288.9 1543.4,289 1544.4,288.9 1545.4,288.8 1546.4,288.7 1547.4,288.3 1548.4,288.2 1549.4,288.1 1550.4,287.6 1551.4,287.3 1552.4,287.6 1553.4,287.3 1554.4,287.1 1555.4,286.8 1556.4,286.5 1557.4,286.2 1558.4,285.8 1559.4,285.4 1560.4,284.8 1561.4,284.3 1562.4,283.9 1563.4,283.4 1564.4,283 1565.4,282.6 1566.4,282 1567.4,281.5 1568.4,280.4 1569.4,279.6 1570.4,278.6 1571.4,277.6 1572.4,276.5 1573.4,275.2 1574.4,273.7 1575.4,272.1 1576.4,270.9 1577.4,269.3 1578.4,267.5 1579.4,265.8 1580.4,264 1581.4,261.7 1582.4,259.6 1583.4,257.2 1584.4,254.8 1585.4,252.2 1586.4,249.5 1587.4,247 1588.4,243.8 1589.4,240.9 1590.4,238.3 1591.4,235.5 1592.4,232.6 1593.4,230.1 1594.4,227.5 1595.4,225.2 1596.4,223.1 1597.4,220.7 1598.4,218.9 1599.4,216.8 1600.4,215.2 1601.4,213.5 1602.4,212.4 1603.4,211.6 1604.4,210.9 1605.5,210.8 1606.5,211.1 1607.5,211.7 1608.5,212.7 1609.5,213.8 1610.5,215.5 1611.5,217.2 1612.5,218.9 1613.5,221 1614.5,223.2 1615.5,225.7 1616.5,228.4 1617.5,231 1618.5,233.5 1619.5,236.4 1620.5,238.8 1621.5,241.5 1622.5,244.4 1623.5,246.7 1624.5,249.7 1625.5,252.3 1626.5,254.8 1627.5,257 1628.5,259.3 1629.5,261.6 1630.5,263.8 1631.5,265.5 1632.5,267.3 1633.5,268.8 1634.5,270.2 1635.5,271.3 1636.5,272.6 1637.5,273.5 1638.5,274.4 1639.5,275.4 1640.5,276.1 1641.5,276.7 1642.5,277.2 1643.5,277.5 1644.5,277.9 1645.5,277.9 1646.5,277.7 1647.5,277.8 1648.5,277.8 1649.5,277.7 1650.5,277.8 1651.5,277.9 1652.5,278.2 1653.5,278.2 1654.5,278.3 1655.5,278.4 1656.5,278.4 1657.5,278.4 1658.5,278.4 1659.5,278.6 1660.5,278.7 1661.5,278.8 1662.5,278.6 1663.5,278.6 1664.5,278.8 1665.5,278.6 1666.5,278.8 1667.5,278.8 1668.5,278.9 1669.5,278.9 1670.5,278.8 1671.5,279.2 1672.5,279.4 1673.5,279.7 1674.5,280.2 1675.5,280.4 1676.5,281.1 1677.5,281.2 1678.5,281.2 1679.5,281.6 1680.5,281.8 1681.5,282 1682.5,282.2 1683.5,282.6 1684.5,283 1685.5,283.3 1686.5,283.4 1687.5,283.8 1688.5,284 1689.5,284 1690.5,284.4 1691.5,284.6 1692.5,284.5 1693.5,284.9 1694.5,285 1695.5,285 1696.5,285.1 1697.5,285.1 1698.5,285 1699.5,285.2 1700.5,285.3 1701.5,285.6 1702.5,285.3 1703.5,285.3 1704.5,285.4 1705.5,285.4 1706.5,285.4 1707.5,285.5 1708.5,285.5 1709.5,285.5 1710.5,285.5 1711.5,285.7 1712.5,285.8 1713.5,286 1714.5,285.8 1715.5,285.8 1716.5,285.7 1717.5,285.9 1718.5,285.8 1719.5,286 1720.5,285.5 1721.5,285.6 1722.5,286 1723.5,285.6 1724.5,285.6 1725.5,285.5 1726.5,285.5 1727.5,285.7 1728.5,285.8 1729.6,285.7 1730.6,285.9 1731.6,285.6 1732.6,285.6 1733.6,285.7 1734.6,285.6 1735.6,285.5 1736.6,285.6 1737.6,285.6 1738.6,285.3 1739.6,285.6 1740.6,285.4 1741.6,285.4 1742.6,285.4 1743.6,285.6 1744.6,285.3 1745.6,285.5 1746.6,285.5 1747.6,285.4 1748.6,285.6 1749.6,285.6 1750.6,285.7 1751.6,285.7 1752.6,285.8 1753.6,285.8 1754.6,285.8 1755.6,285.9 1756.6,285.8 1757.6,285.7 1758.6,286 1759.6,285.9 1760.6,285.6 1761.6,285.9 1762.6,285.9 1763.6,285.8 1764.6,286.1 1765.6,285.9 1766.6,286 1767.6,286 1768.6,286.1 1769.6,286 1770.6,286.1 1771.6,286.2 1772.6,286.2 1773.6,286.2 1774.6,286.2 1775.6,286 1776.6,286 1777.6,286.1 1778.6,286.2 1779.6,286.2 1780.6,286.2 1781.6,286.1 1782.6,286.2 1783.6,285.8 1784.6,285.9 1785.6,285.9 1786.6,285.7 1787.6,286 1788.6,285.8 1789.6,285.9 1790.6,286 1791.6,285.8 1792.6,285.8 1793.6,285.9 1794.6,285.7 1795.6,286 1796.6,285.9 1797.6,285.8 1798.6,285.9 1799.6,286.1 1800.6,285.8 1801.6,286 1802.6,285.9 1803.6,285.8 1804.6,285.8 1805.6,286 1806.6,285.8 1807.6,285.6 1808.6,286 1809.6,286 1810.6,286 1811.6,286 1812.6,285.9 1813.6,285.7 1814.6,285.8 1815.6,285.9 1816.6,285.8 1817.6,285.9 1818.6,286 1819.6,286 1820.6,285.7 1821.6,285.7 1822.6,285.7 1823.6,286 1824.6,285.8 1825.6,285.8 1826.6,285.9 1827.6,285.7 1828.6,285.8 1829.6,286 1830.6,286 1831.6,286 1832.6,285.8 1833.6,285.7 1834.6,285.8 1835.6,285.8 1836.6,285.7 1837.6,285.9 1838.6,286.2 1839.6,286.1 1840.6,286 1841.6,286.1 1842.6,286 1843.6,286.3 1844.6,286.2 1845.6,285.9 1846.6,286.1 1847.6,286.1 1848.6,286.3 1849.6,285.8 1850.6,286.3 1851.6,286.2 1852.7,286 1853.7,286 1854.7,286 1855.7,285.8 1856.7,286.2 1857.7,285.8 1858.7,286.1 1859.7,286.2 1860.7,286.3 1861.7,286.4 1862.7,286.3 1863.7,286.2 1864.7,286.2 1865.7,286.1 1866.7,286.4 1867.7,286.3 1868.7,286.5 1869.7,286.3 1870.7,286.5 1871.7,286.4 1872.7,286.4 1873.7,286.4 1874.7,286.1 1875.7,286.3 1876.7,286.4 1877.7,286.6 1878.7,286.7 1879.7,286.7 1880.7,286.7 1881.7,286.6 1882.7,286.4 1883.7,286.5 1884.7,286.6 1885.7,286.9 1886.7,287.1 1887.7,287.1 1888.7,287.1 1889.7,287 1890.7,286.9 1891.7,286.9 1892.7,287.2 1893.7,287.1 1894.7,287 1895.7,286.6 1896.7,286.9 1897.7,286.9 1898.7,286.9 1899.7,286.9 1900.7,287.2 1901.7,287.1 1902.7,286.9 1903.7,287 1904.7,287.1 1905.7,287.2 1906.7,287.2 1907.7,287.3 1908.7,287.3 1909.7,287 1910.7,287 1911.7,287.2 1912.7,287.4 1913.7,287.4 1914.7,287.4 1915.7,287.3 1916.7,287.6 1917.7,287.6 1918.7,287.2 1919.7,287.2 1920.7,287.3 1921.7,287.2 1922.7,287.3 1923.7,287.5 1924.7,287.5 1925.7,287.3 1926.7,287.6 1927.7,287.3 1928.7,287.3 1929.7,287 1930.7,287.2 1931.7,287.5 1932.7,287.1 1933.7,286.9 1934.7,287.2 1935.7,287.2 1936.7,286.9 1937.7,286.9 1938.7,287 1939.7,287 1940.7,287 1941.7,287.2 1942.7,287.1 1943.7,287 1944.7,287.1 1945.7,287.1 1946.7,287 1947.7,287 1948.7,287.1 1949.7,287.3 1950.7,287.2 1951.7,287 1952.7,287.1 1953.7,287.1 1954.7,287.1 1955.7,287.2 1956.7,287.1 1957.7,287.1 1958.7,287.2 1959.7,286.9 1960.7,287.4 1961.7,286.9 1962.7,287.1 1963.7,287.2 1964.7,287.2 1965.7,286.8 1966.7,286.8 1967.7,287 1968.7,287 1969.7,286.9 1970.7,287 1971.7,287 1972.7,286.7 1973.7,286.7 1974.7,287 1975.7,287.1 1976.8,287.4 1977.8,287 1978.8,287.2 1979.8,287 1980.8,287 1981.8,286.8 1982.8,287 1983.8,286.9 1984.8,286.9" fill="none" stroke="#b4ec68" stroke-width="1.8" stroke-linejoin="round" stroke-linecap="butt"/>
<polyline points="1437.3,460.2 1438,460.7 1438.7,459.9 1439.4,459.9 1440.1,459.8 1440.8,460 1441.5,459.6 1442.2,460.7 1442.9,459.3 1443.6,460.4 1444.3,459.9 1445,460 1445.7,460.7 1446.4,459.7 1447.1,460 1447.8,459.6 1448.5,460.6 1449.2,459.6 1449.9,460.2 1450.6,459.8 1451.3,460.7 1452,459.3 1452.7,461.3 1453.4,460.5 1454.1,459.8 1454.8,459.4 1455.5,459.9 1456.2,459.9 1456.9,460.2 1457.6,460.8 1458.3,460.4 1459,459.9 1459.7,460.8 1460.4,460.3 1461.1,460.2 1461.8,460.2 1462.5,460 1463.2,459.8 1463.9,460 1464.6,459.3 1465.3,460 1466,459.3 1466.7,459.9 1467.4,459.6 1468.1,460.2 1468.8,459.8 1469.5,459.8 1470.2,459.5 1470.9,460.1 1471.6,460.5 1472.3,460.3 1473,460.9 1473.7,460.4 1474.4,461 1475.1,460.7 1475.8,460.1 1476.5,459.7 1477.2,459.8 1477.9,459.4 1478.6,460 1479.3,459.7 1480,459.6 1480.7,459.5 1481.4,460.1 1482.1,459.7 1482.8,460.3 1483.5,460.2 1484.2,460.1 1484.9,460.2 1485.6,459.6 1486.3,459.5 1487,459 1487.7,460 1488.4,459.9 1489.1,459.6 1489.8,459.4 1490.5,459.9 1491.2,459.5 1491.9,459.7 1492.6,460.4 1493.3,459.9 1494,459.7 1494.7,459.7 1495.4,459.6 1496.1,459.2 1496.8,459.5 1497.5,459.5 1498.2,459.4 1498.9,459.9 1499.6,459.3 1500.3,458.9 1501,459.5 1501.7,459.1 1502.4,459.7 1503.1,459.1 1503.8,459.3 1504.5,459 1505.2,459.2 1505.9,459.2 1506.6,459.2 1507.3,458.9 1508,460.2 1508.7,460 1509.4,459.2 1510.1,460.1 1510.8,459.6 1511.5,459.6 1512.2,459.9 1512.9,460.1 1513.6,459.5 1514.3,459.3 1515,459.4 1515.7,459.2 1516.4,458.5 1517.1,459 1517.8,459.2 1518.5,459.2 1519.2,459.4 1519.9,459.5 1520.6,459.3 1521.3,459.6 1522,459.2 1522.7,459.7 1523.4,459.5 1524.1,460.2 1524.8,460.4 1525.5,459.2 1526.2,459.1 1526.9,459.2 1527.6,459.1 1528.3,458.7 1529,458.8 1529.7,459.1 1530.4,459.1 1531.1,458.5 1531.8,459.7 1532.5,458.8 1533.2,458.1 1533.9,458.9 1534.6,458.8 1535.3,459.1 1536,457.9 1536.7,458.3 1537.4,457.5 1538.1,457.6 1538.8,457.2 1539.5,457.1 1540.2,456.4 1540.9,456.4 1541.6,456.7 1542.3,456.2 1543,456.4 1543.7,455.9 1544.4,456 1545.1,454.8 1545.8,454.8 1546.5,455.1 1547.2,454.3 1547.9,453.2 1548.6,453.9 1549.3,453.2 1550,453.4 1550.7,453.1 1551.4,453.1 1552.1,452.4 1552.8,452.2 1553.5,451.6 1554.2,451.6 1554.9,451.6 1555.6,450.9 1556.3,451.5 1557,450.5 1557.7,450.7 1558.4,449.9 1559.1,449.6 1559.8,448.2 1560.5,446.9 1561.2,446.1 1561.9,445.8 1562.6,445.4 1563.3,443.9 1564,444.2 1564.7,444.1 1565.4,442.8 1566.1,442 1566.8,441.4 1567.5,440.8 1568.2,440.6 1568.9,438.8 1569.6,437.7 1570.3,437.8 1571,435.9 1571.7,435.6 1572.4,435.4 1573.1,434.5 1573.8,433.1 1574.5,433.3 1575.2,431.7 1575.9,431.3 1576.6,430.1 1577.3,429.1 1578,427.8 1578.7,425.9 1579.4,425 1580.1,424.5 1580.8,423.4 1581.5,422.5 1582.2,421.6 1582.9,420.7 1583.6,419.7 1584.3,418 1585,417.2 1585.7,414.9 1586.4,414.4 1587.1,413.6 1587.8,412.4 1588.5,411 1589.2,410.1 1589.9,408.7 1590.6,407.1 1591.3,406.2 1592,405.4 1592.7,403.8 1593.4,402.1 1594.1,400.6 1594.8,399.7 1595.5,398.7 1596.2,397.1 1596.9,396.3 1597.6,395.7 1598.3,394.5 1599,393.7 1599.7,392.6 1600.4,392.2 1601.1,391.6 1601.8,390.7 1602.5,389.7 1603.2,388.5 1603.9,387.9 1604.6,387 1605.3,385.8 1606,385.3 1606.7,385.1 1607.4,384.9 1608.1,384.4 1608.8,384.5 1609.5,383.9 1610.2,383.4 1610.9,383.9 1611.6,383.8 1612.3,384.5 1613,383.1 1613.7,383.1 1614.4,382.9 1615.1,383 1615.8,382.3 1616.5,382.4 1617.2,382.9 1617.9,382.8 1618.6,382.8 1619.3,383.3 1620,383.8 1620.7,383.3 1621.4,383.4 1622.1,383.4 1622.8,383.1 1623.5,383.4 1624.2,382.8 1624.9,382.6 1625.6,382.6 1626.3,382 1627,382.5 1627.7,382.8 1628.4,383.8 1629.1,383.4 1629.8,383 1630.5,382.8 1631.2,383.9 1631.9,382.9 1632.6,382.8 1633.3,384.1 1634,383.8 1634.7,383.6 1635.4,384 1636.1,383.6 1636.8,384 1637.5,383.5 1638.2,383.4 1638.9,383.2 1639.6,382.3 1640.3,381.4 1641,381.3 1641.7,381.8 1642.4,380.6 1643.1,380.9 1643.8,380.3 1644.5,380.4 1645.2,380.6 1645.9,380.9 1646.6,381 1647.3,381.9 1648,381.7 1648.7,382 1649.4,382 1650.1,382.5 1650.8,381.9 1651.5,383.2 1652.2,383.5 1652.9,383.1 1653.6,384 1654.3,385 1655,385.6 1655.7,386.1 1656.4,386.6 1657.1,388.2 1657.8,389.1 1658.5,389.8 1659.2,390.3 1659.9,391 1660.6,391.6 1661.3,392.2 1662,392.7 1662.7,394.2 1663.4,395.4 1664.1,396.2 1664.8,397.2 1665.5,398.5 1666.2,399.3 1666.9,400.1 1667.6,401.3 1668.3,401.8 1669,402.2 1669.7,404.6 1670.4,406 1671.1,407.1 1671.8,408.7 1672.5,410.7 1673.2,412.6 1673.9,412.8 1674.6,414.4 1675.3,415.5 1676,416.2 1676.7,416.6 1677.4,418.8 1678.1,419.3 1678.8,419.7 1679.5,420.5 1680.2,421.6 1680.9,421.9 1681.6,423 1682.3,424.1 1683,424.6 1683.7,425.6 1684.4,426.4 1685.1,426.9 1685.8,427.9 1686.5,428.6 1687.2,428.1 1687.9,430 1688.6,431.3 1689.3,431 1690,432.1 1690.7,434.2 1691.4,433.1 1692.1,433.6 1692.8,433.6 1693.5,434.4 1694.2,434.4 1694.9,434.6 1695.6,436.1 1696.3,436.2 1697,436.5 1697.7,437.3 1698.4,437.3 1699.1,437.8 1699.8,438.4 1700.5,438.5 1701.2,438.4 1701.9,438.6 1702.6,439.1 1703.3,439.4 1704,439.6 1704.7,439.7 1705.4,439.9 1706.1,440.3 1706.8,440.6 1707.5,441.3 1708.2,441.7 1708.9,441.8 1709.6,442 1710.3,441.8 1711,442.6 1711.7,442.4 1712.4,442.6 1713.1,443 1713.8,442.9 1714.5,442.3 1715.2,442.9 1715.9,443.6 1716.6,443.1 1717.3,443.5 1718,443.7 1718.7,444.4 1719.4,443.5 1720.1,443.9 1720.8,444.1 1721.5,444.1 1722.2,444.2 1722.9,444.1 1723.6,445.4 1724.3,445.3 1725,444.3 1725.7,445.6 1726.4,445.6 1727.1,445.7 1727.8,445.9 1728.5,445.9 1729.2,446.4 1729.9,445.9 1730.6,445.8 1731.3,445.8 1732,444.9 1732.7,445.5 1733.4,445.8 1734.1,445.7 1734.8,446.9 1735.5,446.7 1736.2,446.2 1736.9,446.4 1737.6,447 1738.3,446.9 1739,446.9 1739.7,447.6 1740.4,447.4 1741.1,448.2 1741.8,447.5 1742.5,447.9 1743.2,447.7 1743.9,447.7 1744.6,447.8 1745.3,448 1746,447.8 1746.7,447.4 1747.4,447.3 1748.1,447.5 1748.8,448.3 1749.5,448.2 1750.2,448.8 1750.9,448.8 1751.6,448.4 1752.3,448.6 1753,448.9 1753.7,448.9 1754.4,448.7 1755.1,449.2 1755.8,449 1756.5,449.3 1757.2,449.8 1757.9,449.2 1758.6,448.5 1759.3,449 1760,449 1760.7,449.7 1761.4,448.9 1762.1,449.6 1762.8,449.7 1763.5,450.1 1764.2,450.1 1764.9,450.4 1765.6,450.1 1766.3,450.4 1767,450.7 1767.7,449.8 1768.4,449.5 1769.1,449.4 1769.8,449.2 1770.5,450.3 1771.2,449.8 1771.9,450.7 1772.6,450.7 1773.3,450.5 1774,450.3 1774.7,450.2 1775.4,450.2 1776.1,450 1776.8,450.5 1777.5,450.6 1778.2,449.8 1778.9,449.3 1779.6,449.8 1780.3,450.3 1781,450.1 1781.7,450.3 1782.4,450.3 1783.1,451.1 1783.8,450.5 1784.5,450.2 1785.2,450.3 1785.9,450.7 1786.6,450.2 1787.3,450.3 1788,450.5 1788.7,450.3 1789.4,450.8 1790.2,450.7 1790.9,450.5 1791.6,450.7 1792.3,450.8 1793,450.9 1793.7,450.8 1794.4,451 1795.1,450.9 1795.8,451.4 1796.5,451.2 1797.2,451.6 1797.9,451.2 1798.6,451.5 1799.3,451.4 1800,451.3 1800.7,451 1801.4,450.8 1802.1,451.6 1802.8,450.9 1803.5,451.1 1804.2,451 1804.9,451.2 1805.6,451.1 1806.3,451.1 1807,451.2 1807.7,451.2 1808.4,451 1809.1,450.9 1809.8,451.4 1810.5,451.4 1811.2,451.5 1811.9,451 1812.6,451.5 1813.3,451.5 1814,451 1814.7,451.5 1815.4,451.3 1816.1,451.1 1816.8,451.7 1817.5,451.5 1818.2,451.5 1818.9,451.6 1819.6,451.5 1820.3,451.4 1821,451.3 1821.7,452.3 1822.4,451.7 1823.1,452 1823.8,452.3 1824.5,451.9 1825.2,451.4 1825.9,451.3 1826.6,452.4 1827.3,452.4 1828,452.1 1828.7,452.1 1829.4,452.6 1830.1,451.7 1830.8,452.1 1831.5,451.8 1832.2,452.2 1832.9,452.4 1833.6,452.3 1834.3,451.8 1835,452.2 1835.7,452.5 1836.4,452.5 1837.1,451.7 1837.8,453.1 1838.5,452.1 1839.2,452 1839.9,451.6 1840.6,451.1 1841.3,451.6 1842,451.4 1842.7,452 1843.4,451.9 1844.1,452.8 1844.8,452.6 1845.5,451.9 1846.2,452.1 1846.9,452.3 1847.6,451.6 1848.3,452.7 1849,452.1 1849.7,451.9 1850.4,451.9 1851.1,452.2 1851.8,452.2 1852.5,452 1853.2,452.1 1853.9,451.2 1854.6,452 1855.3,451.6 1856,452.3 1856.7,452.4 1857.4,452.4 1858.1,452.3 1858.8,453 1859.5,452.6 1860.2,452 1860.9,451.6 1861.6,452 1862.3,452.3 1863,452.7 1863.7,452.6 1864.4,452.6 1865.1,452.9 1865.8,452.4 1866.5,452.4 1867.2,453.1 1867.9,452.9 1868.6,453.6 1869.3,452.8 1870,453.6 1870.7,453.7 1871.4,453.5 1872.1,453.2 1872.8,453.3 1873.5,453.1 1874.2,453.2 1874.9,453 1875.6,452.9 1876.3,452.7 1877,453 1877.7,453 1878.4,452.7 1879.1,452.2 1879.8,453.1 1880.5,453.4 1881.2,453.2 1881.9,453.1 1882.6,453.6 1883.3,453.9 1884,453.2 1884.7,453.9 1885.4,452.3 1886.1,453.6 1886.8,452.7 1887.5,452.9 1888.2,452.2 1888.9,453 1889.6,452.6 1890.3,453.4 1891,453.4 1891.7,453.6 1892.4,453.7 1893.1,453.6 1893.8,453.7 1894.5,454 1895.2,453.5 1895.9,453.9 1896.6,453.9 1897.3,454 1898,453.7 1898.7,453.6 1899.4,454 1900.1,454.2 1900.8,454.1 1901.5,453.9 1902.2,454 1902.9,453.8 1903.6,454.2 1904.3,453.6 1905,454.5 1905.7,454.7 1906.4,454 1907.1,453.9 1907.8,454 1908.5,453.3 1909.2,453.1 1909.9,453 1910.6,453.3 1911.3,453.7 1912,454 1912.7,453.8 1913.4,453.7 1914.1,453.5 1914.8,454 1915.5,453.9 1916.2,453.7 1916.9,453.8 1917.6,454 1918.3,453.3 1919,453.1 1919.7,453.7 1920.4,453.9 1921.1,452.8 1921.8,453.1 1922.5,453 1923.2,453.2 1923.9,452.8 1924.6,453.2 1925.3,453.3 1926,452.8 1926.7,452.7 1927.4,452.9 1928.1,452.9 1928.8,453.6 1929.5,453.2 1930.2,453.3 1930.9,452.9 1931.6,452.7 1932.3,453.3 1933,452.7 1933.7,453.2 1934.4,453 1935.1,453.6 1935.8,454.3 1936.5,453.1 1937.2,453 1937.9,452.4 1938.6,452 1939.3,452.8 1940,453.1 1940.7,452.6 1941.4,452.5 1942.1,452.9 1942.8,452.4 1943.5,452.8 1944.2,453.2 1944.9,452.8 1945.6,452.2 1946.3,452.9 1947,452.2 1947.7,452.7 1948.4,452.7 1949.1,452 1949.8,451.9 1950.5,453.3 1951.2,453.2 1951.9,452.7 1952.6,452.7 1953.3,453.2 1954,453.2 1954.7,452.3 1955.4,452.6 1956.1,452.3 1956.8,452.2 1957.5,451.7 1958.2,452.3 1958.9,452.2 1959.6,452.5 1960.3,451.9 1961,452 1961.7,451.8 1962.4,451.8 1963.1,451.6 1963.8,452 1964.5,452.3 1965.2,451.7" fill="none" stroke="#7b7b7b" stroke-width="1.8" stroke-linejoin="round" stroke-linecap="butt"/>
<polyline points="1437.3,447.8 1438,447.2 1438.7,448.1 1439.4,448.1 1440.1,447.9 1440.8,448.1 1441.5,447.9 1442.2,447.3 1442.9,447.4 1443.6,447.6 1444.3,447.4 1445,447 1445.7,447.5 1446.4,447.2 1447.1,447.5 1447.8,447.2 1448.5,447.4 1449.2,448.6 1449.9,447.5 1450.6,447.9 1451.3,447.5 1452,447.3 1452.7,446.9 1453.4,447.9 1454.1,448.1 1454.8,448.1 1455.5,448.3 1456.2,448.3 1456.9,448.2 1457.6,448.1 1458.3,447.9 1459,447.4 1459.7,447.3 1460.4,447.4 1461.1,447.1 1461.8,448.4 1462.5,448.3 1463.2,448 1463.9,447.7 1464.6,447.5 1465.3,447.6 1466,447.4 1466.7,447.2 1467.4,447.1 1468.1,447.3 1468.8,447.1 1469.5,447.2 1470.2,446.9 1470.9,447.2 1471.6,446.8 1472.3,446.9 1473,447.3 1473.7,447.3 1474.4,446.7 1475.1,447 1475.8,447.4 1476.5,446.9 1477.2,446.2 1477.9,447.2 1478.6,447.3 1479.3,447.1 1480,447.1 1480.7,447.5 1481.4,448.3 1482.1,447 1482.8,447.2 1483.5,447.3 1484.2,447.7 1485,447.1 1485.7,447.8 1486.4,447 1487.1,447 1487.8,447.2 1488.5,447.2 1489.2,447.5 1489.9,446.8 1490.6,446.9 1491.3,447 1492,446.8 1492.7,447.1 1493.4,447.4 1494.1,447 1494.8,447.1 1495.5,447.2 1496.2,447.7 1496.9,447.1 1497.6,447.5 1498.3,446.7 1499,447.1 1499.7,447 1500.4,446.8 1501.1,447.2 1501.8,447.5 1502.5,447.3 1503.2,447.7 1503.9,447.3 1504.6,447.4 1505.3,446.9 1506,446.7 1506.7,446.6 1507.4,446.8 1508.1,446.4 1508.8,446.2 1509.5,446.6 1510.2,446 1510.9,447.1 1511.6,446.8 1512.3,446.5 1513,446.7 1513.7,446.7 1514.4,446.6 1515.1,446.9 1515.8,446.7 1516.5,446.8 1517.2,446.4 1517.9,446.3 1518.6,446 1519.3,445.7 1520,445.9 1520.7,446.4 1521.4,445.6 1522.1,446.2 1522.8,446 1523.5,446.9 1524.2,446 1524.9,445.9 1525.6,445.3 1526.3,445.2 1527,445.9 1527.7,445.9 1528.4,445.2 1529.1,445.1 1529.8,445.5 1530.5,445.2 1531.2,444.9 1531.9,445 1532.6,445.1 1533.3,444.9 1534,444.7 1534.7,444.2 1535.4,444.5 1536.1,444.7 1536.8,444.7 1537.5,444.2 1538.2,444.2 1538.9,443.6 1539.6,443.9 1540.3,442.8 1541,442.2 1541.7,441.3 1542.4,442.1 1543.1,441.4 1543.8,441.1 1544.5,440.8 1545.2,441.1 1545.9,440 1546.6,439.5 1547.3,439.1 1548,439.2 1548.7,438 1549.4,437.7 1550.1,437.8 1550.8,436.8 1551.5,437.4 1552.2,436.5 1552.9,436.4 1553.6,436 1554.3,435.1 1555,434.2 1555.7,434.3 1556.4,433.4 1557.1,433.3 1557.8,432.9 1558.5,431.7 1559.2,431.7 1559.9,430.8 1560.6,429.4 1561.3,429.7 1562,429 1562.7,427.7 1563.4,427 1564.1,427.1 1564.8,425.1 1565.5,424.2 1566.2,423.7 1566.9,422.5 1567.6,421.5 1568.3,421.1 1569,419.9 1569.7,419.4 1570.4,418.3 1571.1,417.6 1571.8,416.5 1572.5,415.3 1573.2,414.2 1573.9,413.4 1574.6,412.4 1575.3,410.8 1576,409.1 1576.7,408 1577.4,407.5 1578.1,405.5 1578.8,405.3 1579.5,404.5 1580.2,403.2 1580.9,402.7 1581.6,401.2 1582.3,400.4 1583,399.4 1583.7,398.9 1584.4,396.9 1585.1,395.4 1585.8,395.4 1586.5,394 1587.2,394 1587.9,392.7 1588.6,391.6 1589.3,390.7 1590,390.6 1590.7,389.8 1591.4,389.7 1592.1,389.1 1592.8,388.9 1593.5,388.4 1594.2,387.8 1594.9,386.6 1595.6,386.3 1596.3,384.4 1597,384.3 1597.7,384.4 1598.4,384.2 1599.1,383.9 1599.8,383.3 1600.5,383.5 1601.2,382.1 1601.9,382 1602.6,381.4 1603.3,381.3 1604,380.9 1604.7,381.1 1605.4,380 1606.1,380.1 1606.8,379.2 1607.5,379.3 1608.2,379.3 1608.9,379.2 1609.6,378.8 1610.3,378.8 1611,379 1611.7,378.8 1612.4,378 1613.1,378.7 1613.8,379.6 1614.5,379.4 1615.2,379.3 1615.9,380.2 1616.6,379.3 1617.3,379.6 1618,379.9 1618.8,379 1619.5,379.5 1620.2,379 1620.9,378.9 1621.6,379.1 1622.3,378.3 1623,379.1 1623.7,378.4 1624.4,378.7 1625.1,377.6 1625.8,377.7 1626.5,377.4 1627.2,377.5 1627.9,376.6 1628.6,376.3 1629.3,375.8 1630,375.3 1630.7,375.1 1631.4,375.3 1632.1,374.9 1632.8,374.7 1633.5,374.8 1634.2,374.4 1634.9,374.6 1635.6,373.3 1636.3,373.8 1637,372.5 1637.7,372.6 1638.4,374 1639.1,373.7 1639.8,374.5 1640.5,374 1641.2,374.5 1641.9,375.4 1642.6,375.4 1643.3,375.5 1644,376.3 1644.7,376 1645.4,375.9 1646.1,376.2 1646.8,376.5 1647.5,377.4 1648.2,377.5 1648.9,377.8 1649.6,378.9 1650.3,379.2 1651,379.5 1651.7,380.2 1652.4,380.6 1653.1,381.2 1653.8,381.5 1654.5,382.9 1655.2,383 1655.9,384 1656.6,385.3 1657.3,386.1 1658,386.8 1658.7,388.1 1659.4,389.2 1660.1,390 1660.8,392 1661.5,392.2 1662.2,394 1662.9,394.5 1663.6,395.7 1664.3,396.9 1665,397.9 1665.7,398.6 1666.4,400.7 1667.1,400.8 1667.8,402 1668.5,403.4 1669.2,404.8 1669.9,406.3 1670.6,407 1671.3,407.9 1672,408.3 1672.7,409.8 1673.4,411.2 1674.1,411.7 1674.8,413 1675.5,413.7 1676.2,414.3 1676.9,416.3 1677.6,417 1678.3,417.1 1679,417.6 1679.7,418.4 1680.4,419.2 1681.1,419.8 1681.8,420.3 1682.5,420.9 1683.2,421 1683.9,422.1 1684.6,422.8 1685.3,422.4 1686,422.8 1686.7,423.6 1687.4,423.7 1688.1,424.3 1688.8,424.3 1689.5,425.4 1690.2,425.1 1690.9,425.9 1691.6,426.1 1692.3,427 1693,427.4 1693.7,427.7 1694.4,427.6 1695.1,428.8 1695.8,429.1 1696.5,429.3 1697.2,429.7 1697.9,429.9 1698.6,430.4 1699.3,430.3 1700,429.8 1700.7,430.2 1701.4,430.3 1702.1,430.7 1702.8,430.6 1703.5,430.8 1704.2,431.2 1704.9,431.2 1705.6,431.1 1706.3,431.5 1707,432 1707.7,431.6 1708.4,432.6 1709.1,433 1709.8,432.4 1710.5,432.8 1711.2,432.5 1711.9,433 1712.6,433.2 1713.3,433.4 1714,433.2 1714.7,434.6 1715.4,434.1 1716.1,434.5 1716.8,433.4 1717.5,434.3 1718.2,433.5 1718.9,433.9 1719.6,434.3 1720.3,434.1 1721,433.6 1721.7,434.5 1722.4,434.7 1723.1,434.4 1723.8,434.4 1724.5,434.3 1725.2,434.6 1725.9,434.5 1726.6,434.8 1727.3,435.3 1728,434.6 1728.7,435.4 1729.4,435 1730.1,434.7 1730.8,434.7 1731.5,434.9 1732.2,435.8 1732.9,435.4 1733.6,436.1 1734.3,436 1735,435.2 1735.7,435.2 1736.4,436.2 1737.1,436 1737.8,435.9 1738.5,436.2 1739.2,436.1 1739.9,435.9 1740.6,435.5 1741.3,435.8 1742,435.8 1742.7,436.8 1743.4,436.4 1744.1,436.3 1744.8,437.3 1745.5,437.3 1746.2,436.5 1746.9,436.7 1747.6,436.4 1748.3,436.8 1749,437.2 1749.7,436.8 1750.4,437.3 1751.1,437.6 1751.9,437.1 1752.6,437.6 1753.3,437 1754,436.9 1754.7,436.9 1755.4,437.2 1756.1,436.9 1756.8,436.9 1757.5,437.4 1758.2,437.9 1758.9,437 1759.6,437.4 1760.3,437.9 1761,437.9 1761.7,437.4 1762.4,438.3 1763.1,437.8 1763.8,437.6 1764.5,437.8 1765.2,438 1765.9,437.7 1766.6,438 1767.3,437.9 1768,438 1768.7,438.1 1769.4,438.4 1770.1,437.9 1770.8,438.2 1771.5,438.2 1772.2,437.2 1772.9,437.7 1773.6,437.6 1774.3,438.2 1775,438.1 1775.7,438.8 1776.4,438.5 1777.1,439 1777.8,438.9 1778.5,438.9 1779.2,439 1779.9,438.8 1780.6,438.8 1781.3,438.5 1782,438.7 1782.7,438.3 1783.4,439 1784.1,439.5 1784.8,438.7 1785.5,439.2 1786.2,438.8 1786.9,439 1787.6,438.5 1788.3,438.9 1789,439 1789.7,439.5 1790.4,439.5 1791.1,440 1791.8,439.5 1792.5,438.8 1793.2,439.9 1793.9,439.4 1794.6,438.6 1795.3,439.2 1796,439 1796.7,439.2 1797.4,438.9 1798.1,439.5 1798.8,439.6 1799.5,440.5 1800.2,440.2 1800.9,440.7 1801.6,440.7 1802.3,439.4 1803,440.3 1803.7,440 1804.4,439.3 1805.1,439.8 1805.8,439.9 1806.5,440.2 1807.2,439.7 1807.9,439.5 1808.6,439.8 1809.3,439.3 1810,440.1 1810.7,439.5 1811.4,439.6 1812.1,439.4 1812.8,440.4 1813.5,439.7 1814.2,440 1814.9,439.8 1815.6,440.7 1816.3,440.6 1817,440.7 1817.7,440.1 1818.4,439.8 1819.1,439.7 1819.8,440 1820.5,439.8 1821.2,439.9 1821.9,440.1 1822.6,440.5 1823.3,440.2 1824,441 1824.7,440.5 1825.4,441.2 1826.1,440.8 1826.8,441.4 1827.5,441.6 1828.2,440.8 1828.9,440.6 1829.6,441.3 1830.3,440.5 1831,441.1 1831.7,440.9 1832.4,441.3 1833.1,441.2 1833.8,440.8 1834.5,441 1835.2,441 1835.9,440.8 1836.6,440.4 1837.3,441 1838,441.2 1838.7,441 1839.4,441 1840.1,441.2 1840.8,440.7 1841.5,441.5 1842.2,441.3 1842.9,441.8 1843.6,441.4 1844.3,441.7 1845,441.4 1845.7,441.7 1846.4,442 1847.1,441.6 1847.8,441.3 1848.5,441.9 1849.2,441.6 1849.9,441.2 1850.6,441.2 1851.3,440.3 1852,441.2 1852.7,440.9 1853.4,441.8 1854.1,441.3 1854.8,441.5 1855.5,441.5 1856.2,441.6 1856.9,441.2 1857.6,441.5 1858.3,441.1 1859,441.6 1859.7,441.7 1860.4,441.9 1861.1,441.5 1861.8,441.6 1862.5,441.7 1863.2,441.8 1863.9,441.9 1864.6,441.7 1865.3,441.6 1866,441 1866.7,442.1 1867.4,441.3 1868.1,441 1868.8,441.9 1869.5,441.6 1870.2,442.6 1870.9,441.9 1871.6,441.7 1872.3,441.7 1873,441.7 1873.7,441.9 1874.4,442.1 1875.1,441.9 1875.8,441.7 1876.5,441.5 1877.2,442.3 1877.9,441 1878.6,442.1 1879.3,441.7 1880,441.7 1880.7,441.7 1881.4,441.7 1882.1,441.2 1882.8,441.8 1883.5,441.9 1884.2,441.7 1885,442 1885.7,442.5 1886.4,442.4 1887.1,442.2 1887.8,441.8 1888.5,441.8 1889.2,441.5 1889.9,441.6 1890.6,441.5 1891.3,441.8 1892,441.4 1892.7,441.8 1893.4,441.5 1894.1,441.6 1894.8,442.1 1895.5,442.1 1896.2,441.7 1896.9,442 1897.6,442 1898.3,442.2 1899,441.6 1899.7,442.3 1900.4,441.5 1901.1,441.5 1901.8,442 1902.5,442.4 1903.2,442 1903.9,442.3 1904.6,442.3 1905.3,442.2 1906,442.3 1906.7,441.3 1907.4,441.2 1908.1,441.8 1908.8,441.2 1909.5,441.6 1910.2,441.7 1910.9,441.5 1911.6,441.2 1912.3,441.9 1913,441.9 1913.7,441.2 1914.4,440.9 1915.1,441 1915.8,440.9 1916.5,441.4 1917.2,441.3 1917.9,441.7 1918.6,441.1 1919.3,441.8 1920,442.2 1920.7,442 1921.4,441.5 1922.1,441.5 1922.8,440.5 1923.5,441.6 1924.2,440.8 1924.9,441.6 1925.6,441.2 1926.3,441.3 1927,441.2 1927.7,441.4 1928.4,441.4 1929.1,441.3 1929.8,441.4 1930.5,442 1931.2,442.2 1931.9,441.9 1932.6,441.5 1933.3,441.8 1934,441.3 1934.7,441.7 1935.4,441.3 1936.1,441.6 1936.8,441.6 1937.5,441.9 1938.2,442 1938.9,442 1939.6,441.5 1940.3,441.6 1941,441.7 1941.7,441.5 1942.4,441.4 1943.1,441.5 1943.8,440.8 1944.5,441.5 1945.2,441.6 1945.9,440.9 1946.6,440.9 1947.3,440.9 1948,440.9 1948.7,441.4 1949.4,440.7 1950.1,441.3 1950.8,440.9 1951.5,441.2 1952.2,441.3 1952.9,441.1 1953.6,442.1 1954.3,441.4 1955,440.7 1955.7,441.1 1956.4,440.5 1957.1,440.6 1957.8,440.4 1958.5,440.9 1959.2,440.7" fill="none" stroke="#e56bfb" stroke-width="1.8" stroke-linejoin="round" stroke-linecap="butt"/>
<line x1="1558.6" y1="34.1" x2="1558.6" y2="42.6" stroke="#111" stroke-width="1.8"/>
<line x1="1558.6" y1="54.9" x2="1558.6" y2="65.6" stroke="#111" stroke-width="1.8"/>
<line x1="1567.1" y1="121" x2="1567.1" y2="131.2" stroke="#111" stroke-width="1.8"/>
<line x1="1567.1" y1="141.4" x2="1567.1" y2="152.1" stroke="#111" stroke-width="1.8"/>
<line x1="1604.8" y1="205.7" x2="1604.8" y2="216.2" stroke="#111" stroke-width="1.8"/>
<line x1="1604.8" y1="226.4" x2="1604.8" y2="230.7" stroke="#111" stroke-width="1.8"/>
<line x1="1598.8" y1="279.8" x2="1598.8" y2="290.8" stroke="#111" stroke-width="1.8"/>
<line x1="1598.8" y1="301" x2="1598.8" y2="304.8" stroke="#111" stroke-width="1.8"/>
<line x1="1611.4" y1="365.6" x2="1611.4" y2="375.8" stroke="#111" stroke-width="1.8"/>
<line x1="1611.4" y1="385.2" x2="1611.4" y2="390.3" stroke="#111" stroke-width="1.8"/>
<line x1="1619.1" y1="378.4" x2="1619.1" y2="388.6" stroke="#111" stroke-width="1.8"/>
<line x1="1619.1" y1="398.8" x2="1619.1" y2="402.2" stroke="#111" stroke-width="1.8"/>
<rect x="1437.2" y="27" width="547.6" height="440.6" fill="none" stroke="#000" stroke-width="2.1"/>
<line x1="1437.2" y1="173.6" x2="1984.8" y2="173.6" stroke="#000" stroke-width="2.1"/>
<line x1="1437.2" y1="320.7" x2="1984.8" y2="320.7" stroke="#000" stroke-width="2.1"/>
<line x1="1497.8" y1="173.6" x2="1497.8" y2="177.8" stroke="#000" stroke-width="2.1"/>
<line x1="1560.2" y1="173.6" x2="1560.2" y2="182" stroke="#000" stroke-width="2.1"/>
<line x1="1622.6" y1="173.6" x2="1622.6" y2="177.8" stroke="#000" stroke-width="2.1"/>
<line x1="1685" y1="173.6" x2="1685" y2="182" stroke="#000" stroke-width="2.1"/>
<line x1="1747.4" y1="173.6" x2="1747.4" y2="177.8" stroke="#000" stroke-width="2.1"/>
<line x1="1809.7" y1="173.6" x2="1809.7" y2="182" stroke="#000" stroke-width="2.1"/>
<line x1="1872.1" y1="173.6" x2="1872.1" y2="177.8" stroke="#000" stroke-width="2.1"/>
<line x1="1934.5" y1="173.6" x2="1934.5" y2="182" stroke="#000" stroke-width="2.1"/>
<text x="1560.5" y="209.1" font-size="27.4" text-anchor="middle">780</text>
<text x="1685.3" y="209.1" font-size="27.4" text-anchor="middle">790</text>
<text x="1810" y="209.1" font-size="27.4" text-anchor="middle">800</text>
<text x="1934.8" y="209.1" font-size="27.4" text-anchor="middle">810</text>
<line x1="1503.3" y1="320.7" x2="1503.3" y2="329.1" stroke="#000" stroke-width="2.1"/>
<line x1="1569.6" y1="320.7" x2="1569.6" y2="324.9" stroke="#000" stroke-width="2.1"/>
<line x1="1636" y1="320.7" x2="1636" y2="329.1" stroke="#000" stroke-width="2.1"/>
<line x1="1702.3" y1="320.7" x2="1702.3" y2="324.9" stroke="#000" stroke-width="2.1"/>
<line x1="1768.7" y1="320.7" x2="1768.7" y2="329.1" stroke="#000" stroke-width="2.1"/>
<line x1="1835" y1="320.7" x2="1835" y2="324.9" stroke="#000" stroke-width="2.1"/>
<line x1="1901.3" y1="320.7" x2="1901.3" y2="329.1" stroke="#000" stroke-width="2.1"/>
<line x1="1967.7" y1="320.7" x2="1967.7" y2="324.9" stroke="#000" stroke-width="2.1"/>
<text x="1503.1" y="356.9" font-size="27.4" text-anchor="middle">396</text>
<text x="1635.8" y="356.9" font-size="27.4" text-anchor="middle">400</text>
<text x="1768.5" y="356.9" font-size="27.4" text-anchor="middle">404</text>
<text x="1901.1" y="356.9" font-size="27.4" text-anchor="middle">408</text>
<line x1="1449.8" y1="467.6" x2="1449.8" y2="471.8" stroke="#000" stroke-width="2.1"/>
<line x1="1503.3" y1="467.6" x2="1503.3" y2="476" stroke="#000" stroke-width="2.1"/>
<line x1="1556.8" y1="467.6" x2="1556.8" y2="471.8" stroke="#000" stroke-width="2.1"/>
<line x1="1610.4" y1="467.6" x2="1610.4" y2="476" stroke="#000" stroke-width="2.1"/>
<line x1="1663.9" y1="467.6" x2="1663.9" y2="471.8" stroke="#000" stroke-width="2.1"/>
<line x1="1717.5" y1="467.6" x2="1717.5" y2="476" stroke="#000" stroke-width="2.1"/>
<line x1="1771" y1="467.6" x2="1771" y2="471.8" stroke="#000" stroke-width="2.1"/>
<line x1="1824.5" y1="467.6" x2="1824.5" y2="476" stroke="#000" stroke-width="2.1"/>
<line x1="1878.1" y1="467.6" x2="1878.1" y2="471.8" stroke="#000" stroke-width="2.1"/>
<line x1="1931.6" y1="467.6" x2="1931.6" y2="476" stroke="#000" stroke-width="2.1"/>
<line x1="1985.2" y1="467.6" x2="1985.2" y2="471.8" stroke="#000" stroke-width="2.1"/>
<text x="1503.6" y="503.4" font-size="27.4" text-anchor="middle">528</text>
<text x="1610.7" y="503.4" font-size="27.4" text-anchor="middle">532</text>
<text x="1717.8" y="503.4" font-size="27.4" text-anchor="middle">536</text>
<text x="1824.8" y="503.4" font-size="27.4" text-anchor="middle">540</text>
<text x="1931.9" y="503.4" font-size="27.4" text-anchor="middle">544</text>
<text x="1713.6" y="540.2" font-size="27.4" text-anchor="middle">Binding energy (eV)</text>
<text font-size="27.6" transform="translate(1398.4 368.4) rotate(-90)" textLength="241.8" lengthAdjust="spacing">Intensity (arb. units)</text>
<text x="1353.8" y="51" font-size="44.6" font-weight="bold">c</text>
<text x="1443" y="52.8" font-size="23.4">Co 2<tspan font-style="italic" dx="0.4">p</tspan></text>
<text x="1447" y="223.8" font-size="23.4">N 1<tspan font-style="italic" dx="0.4">s</tspan></text>
<text x="1447.3" y="398" font-size="23.4">O 1<tspan font-style="italic" dx="1.6">s</tspan></text>
<text x="1570.8" y="59.8" font-size="23.4">779.8 eV</text>
<text x="1570.8" y="171.4" font-size="23.4">780.6 eV</text>
<text x="1617.4" y="232" font-size="23.4">399.1 eV</text>
<text x="1617.4" y="318.4" font-size="23.4">398.9 eV</text>
<line x1="1786.3" y1="42.9" x2="1839.1" y2="42.9" stroke="#b4ec68" stroke-width="2.0"/>
<text x="1845.8" y="50.6" font-size="23.4">CoPc</text>
<line x1="1786.3" y1="71.9" x2="1839.1" y2="71.9" stroke="#e56bfb" stroke-width="2.0"/>
<text x="1845.8" y="79.7" font-size="23.4">CoPc-OCNT</text>
<line x1="1787.5" y1="97.4" x2="1840.3" y2="97.4" stroke="#8c8c8c" stroke-width="2.0"/>
<text x="1847" y="105.3" font-size="23.4">OCNT</text>
<polyline points="93.2,996.1 93.7,996.1 94.2,996.1 94.7,996.1 95.2,996.1 95.7,996.1 96.2,996.1 96.7,996.1 97.2,996.1 97.7,996.1 98.2,996.1 98.7,996.1 99.2,996.1 99.7,996.1 100.2,996.1 100.7,996.1 101.2,996.1 101.7,996 102.2,996 102.7,996 103.2,996 103.7,996 104.2,996 104.7,996 105.2,996 105.7,996 106.2,996 106.7,996 107.2,996 107.7,996 108.2,996 108.7,996 109.2,996 109.7,995.9 110.2,995.9 110.7,995.9 111.2,995.9 111.7,995.9 112.2,995.9 112.7,995.9 113.2,995.9 113.7,995.9 114.2,995.9 114.7,995.9 115.2,995.9 115.7,995.9 116.2,995.8 116.7,995.8 117.2,995.8 117.7,995.8 118.2,995.8 118.7,995.8 119.2,995.8 119.7,995.8 120.2,995.8 120.7,995.8 121.2,995.8 121.7,995.8 122.2,995.8 122.7,995.7 123.2,995.7 123.7,995.7 124.2,995.7 124.7,995.7 125.2,995.7 125.7,995.7 126.2,995.7 126.7,995.7 127.2,995.7 127.7,995.7 128.2,995.6 128.7,995.6 129.2,995.6 129.7,995.6 130.2,995.6 130.7,995.6 131.2,995.6 131.7,995.6 132.2,995.6 132.7,995.6 133.2,995.5 133.7,995.5 134.2,995.5 134.7,995.5 135.2,995.5 135.7,995.5 136.2,995.5 136.7,995.5 137.2,995.5 137.7,995.4 138.2,995.4 138.7,995.4 139.2,995.4 139.7,995.4 140.2,995.4 140.7,995.4 141.2,995.4 141.7,995.4 142.2,995.3 142.7,995.3 143.2,995.3 143.7,995.3 144.2,995.3 144.7,995.3 145.2,995.3 145.7,995.3 146.2,995.3 146.7,995.2 147.2,995.2 147.7,995.2 148.2,995.2 148.7,995.2 149.2,995.2 149.7,995.2 150.2,995.2 150.7,995.2 151.2,995.2 151.7,995.2 152.2,995.1 152.7,995.1 153.2,995.1 153.7,995.1 154.2,995.1 154.7,995.1 155.2,995.1 155.7,995.1 156.2,995.1 156.7,995.1 157.2,995.1 157.7,995 158.2,995 158.7,995 159.2,995 159.7,995 160.2,995 160.7,995 161.2,995 161.7,994.9 162.2,994.9 162.7,994.9 163.2,994.9 163.7,994.9 164.2,994.9 164.7,994.9 165.2,994.8 165.7,994.8 166.2,994.8 166.7,994.8 167.2,994.8 167.7,994.7 168.2,994.7 168.7,994.7 169.2,994.7 169.7,994.6 170.2,994.6 170.7,994.6 171.2,994.5 171.7,994.5 172.2,994.4 172.7,994.3 173.2,994.2 173.7,994.1 174.2,994 174.7,993.9 175.2,993.8 175.7,993.7 176.2,993.5 176.7,993.4 177.2,993.3 177.7,993.2 178.2,993 178.7,992.9 179.2,992.8 179.7,992.7 180.2,992.6 180.7,992.5 181.2,992.4 181.7,992.2 182.2,992.1 182.7,992 183.3,991.9 183.8,991.7 184.3,991.6 184.8,991.5 185.3,991.3 185.8,991.2 186.3,991 186.8,990.9 187.3,990.7 187.8,990.6 188.3,990.4 188.8,990.2 189.3,990 189.8,989.8 190.3,989.6 190.8,989.4 191.3,989.2 191.8,988.9 192.3,988.7 192.8,988.4 193.3,988.2 193.8,987.9 194.3,987.6 194.8,987.3 195.3,986.9 195.8,986.5 196.3,986.1 196.8,985.5 197.3,984.8 197.8,984 198.3,983.1 198.8,982.3 199.3,981.4 199.8,980.5 200.3,979.6 200.8,978.7 201.3,977.7 201.8,976.6 202.3,975.5 202.8,974.4 203.3,973.1 203.8,971.7 204.3,970.3 204.8,968.8 205.3,967.3 205.8,965.8 206.3,964.2 206.8,962.5 207.3,960.9 207.8,959.3 208.3,957.8 208.8,956.3 209.3,954.8 209.8,953.3 210.3,951.8 210.8,950.3 211.3,948.7 211.8,947.2 212.3,945.7 212.8,944.2 213.3,943 213.8,941.7 214.3,940.6 214.8,939.4 215.3,938.3 215.8,937.3 216.3,936.3 216.8,935.3 217.3,934.3 217.8,933.4 218.3,932.5 218.8,931.7 219.3,930.9 219.8,930.2 220.3,929.5 220.8,928.9 221.3,928.3 221.8,927.8 222.3,927.2 222.8,926.7 223.3,926.3 223.8,925.8 224.3,925.4 224.8,924.9 225.3,924.5 225.8,924.1 226.3,923.8 226.8,923.4 227.3,923.1 227.8,922.8 228.3,922.5 228.8,922.3 229.3,922.1 229.8,922 230.3,921.8 230.8,921.6 231.3,921.5 231.8,921.4 232.3,921.2 232.8,921 233.3,920.9 233.8,920.7 234.3,920.5 234.8,920.4 235.3,920.2 235.8,920 236.3,919.9 236.8,919.7 237.3,919.5 237.8,919.2 238.3,919 238.8,918.6 239.3,918.2 239.8,917.7 240.3,917.1 240.8,916.5 241.3,915.8 241.8,915.2 242.3,914.6 242.8,913.9 243.3,913.2 243.8,912.5 244.3,911.8 244.8,911.1 245.3,910.3 245.8,909.6 246.3,908.9 246.8,908.1 247.3,907.4 247.8,906.6 248.3,905.8 248.8,905 249.3,904.3 249.8,903.5 250.3,902.7 250.8,901.9 251.3,901 251.8,900.2 252.3,899.4 252.8,898.5 253.3,897.6 253.8,896.7 254.3,895.7 254.8,894.7 255.3,893.7 255.8,892.6 256.3,891.6 256.8,890.5 257.3,889.4 257.8,888.2 258.3,887.1 258.8,886 259.3,884.8 259.8,883.7 260.3,882.5 260.8,881.3 261.3,880.2 261.8,879.1 262.3,878 262.8,877 263.3,876 263.8,875 264.3,874 264.8,873.1 265.3,872.1 265.8,871.2 266.3,870.3 266.8,869.4 267.3,868.5 267.8,867.6 268.3,866.7 268.8,865.8 269.3,864.9 269.8,864 270.3,863.1 270.8,862.2 271.3,861.3 271.8,860.5 272.3,859.6 272.8,858.8 273.3,857.9 273.8,857.1 274.3,856.2 274.8,855.4 275.3,854.6 275.8,853.7 276.3,852.9 276.8,852.1 277.3,851.3 277.8,850.4 278.3,849.6 278.8,848.8 279.3,848 279.8,847.2 280.3,846.4 280.8,845.5 281.3,844.7 281.8,843.9 282.3,843 282.8,842.1 283.3,841.2 283.8,840.2 284.3,839.2 284.8,838.2 285.3,837.2 285.8,836.2 286.3,835.1 286.8,834.1 287.3,833.1 287.8,832.1 288.3,831 288.8,830 289.3,829 289.8,827.9 290.3,826.9 290.8,825.8 291.3,824.8 291.8,823.8 292.3,822.9 292.8,822 293.3,821.2 293.8,820.4 294.3,819.6 294.8,818.8 295.3,818.1 295.8,817.3 296.3,816.6 296.8,815.9 297.3,815.3 297.8,814.6 298.3,813.9 298.8,813.3 299.3,812.6 299.8,812 300.3,811.4 300.8,810.8 301.3,810.2 301.8,809.6 302.3,809.1 302.8,808.5 303.3,808 303.8,807.5 304.3,807 304.9,806.5 305.4,806 305.9,805.5 306.4,805.1 306.9,804.6 307.4,804.2 307.9,803.8 308.4,803.3 308.9,802.9 309.4,802.5 309.9,802.1 310.4,801.7 310.9,801.3 311.4,801 311.9,800.6 312.4,800.3 312.9,800 313.4,799.7 313.9,799.4 314.4,799.1 314.9,798.9 315.4,798.6 315.9,798.4 316.4,798.2 316.9,797.9 317.4,797.7 317.9,797.5 318.4,797.3 318.9,797.1 319.4,796.9 319.9,796.7 320.4,796.5 320.9,796.3 321.4,796.1 321.9,795.9 322.4,795.8 322.9,795.6 323.4,795.4 323.9,795.3 324.4,795.2 324.9,795 325.4,794.9 325.9,794.8 326.4,794.7 326.9,794.6 327.4,794.5 327.9,794.4 328.4,794.2 328.9,794.1 329.4,794 329.9,793.9 330.4,793.8 330.9,793.7 331.4,793.6 331.9,793.5 332.4,793.4 332.9,793.3 333.4,793.3 333.9,793.2 334.4,793.1 334.9,793 335.4,792.9 335.9,792.8 336.4,792.8 336.9,792.7 337.4,792.6 337.9,792.5 338.4,792.4 338.9,792.2 339.4,792.1 339.9,792 340.4,791.8 340.9,791.6 341.4,791.4 341.9,791.1 342.4,790.9 342.9,790.6 343.4,790.4 343.9,790.1 344.4,789.9 344.9,789.7 345.4,789.5 345.9,789.3 346.4,789.1 346.9,788.9 347.4,788.7 347.9,788.5 348.4,788.3 348.9,788.2 349.4,788 349.9,787.8 350.4,787.7 350.9,787.6 351.4,787.4 351.9,787.3 352.4,787.2 352.9,787 353.4,786.9 353.9,786.8 354.4,786.7 354.9,786.6 355.4,786.5 355.9,786.4 356.4,786.4 356.9,786.3 357.4,786.3 357.9,786.4 358.4,786.4 358.9,786.4 359.4,786.5 359.9,786.6 360.4,786.7 360.9,786.8 361.4,786.9 361.9,787 362.4,787.2 362.9,787.3 363.4,787.4 363.9,787.5 364.4,787.7 364.9,787.8 365.4,788 365.9,788.2 366.4,788.4 366.9,788.5 367.4,788.7 367.9,788.9 368.4,789.1 368.9,789.3 369.4,789.5 369.9,789.7 370.4,789.8 370.9,790 371.4,790.2 371.9,790.4 372.4,790.6 372.9,790.7 373.4,790.9 373.9,791.1 374.4,791.3 374.9,791.5 375.4,791.6 375.9,791.8 376.4,792 376.9,792.2 377.4,792.4 377.9,792.5 378.4,792.7 378.9,792.9 379.4,793.1 379.9,793.3 380.4,793.5 380.9,793.6 381.4,793.8 381.9,794 382.4,794.2 382.9,794.4 383.4,794.5 383.9,794.7 384.4,794.8 384.9,795 385.4,795.1 385.9,795.3 386.4,795.4 386.9,795.5 387.4,795.7 387.9,795.8 388.4,795.9 388.9,796 389.4,796.1 389.9,796.2 390.4,796.3 390.9,796.4 391.4,796.5 391.9,796.6 392.4,796.7 392.9,796.8 393.4,796.9 393.9,797 394.4,797.1 394.9,797.2 395.4,797.2 395.9,797.3 396.4,797.4 396.9,797.5 397.4,797.6 397.9,797.6 398.4,797.7 398.9,797.8 399.4,797.9 399.9,797.9 400.4,798 400.9,798.1 401.4,798.2 401.9,798.2 402.4,798.3 402.9,798.4 403.4,798.4 403.9,798.5 404.4,798.5 404.9,798.6 405.4,798.6 405.9,798.7 406.4,798.7 406.9,798.8 407.4,798.8 407.9,798.9 408.4,798.9 408.9,799 409.4,799 409.9,799.1 410.4,799.1 410.9,799.2 411.4,799.2 411.9,799.2 412.4,799.3 412.9,799.3 413.4,799.3 413.9,799.4 414.4,799.4 414.9,799.4 415.4,799.4 415.9,799.4 416.4,799.5 416.9,799.5 417.4,799.5 417.9,799.5 418.4,799.5 418.9,799.5 419.4,799.5 419.9,799.6 420.4,799.6 420.9,799.6 421.4,799.6 421.9,799.6 422.4,799.6 422.9,799.6 423.4,799.6 423.9,799.6 424.4,799.6 424.9,799.6 425.4,799.6 425.9,799.6 426.5,799.6 427,799.6 427.5,799.5 428,799.5 428.5,799.4 429,799.4 429.5,799.3 430,799.2 430.5,799.2 431,799.1 431.5,799 432,798.9 432.5,798.9 433,798.8 433.5,798.7 434,798.6 434.5,798.5 435,798.4 435.5,798.3 436,798.2 436.5,798.1 437,798 437.5,797.9 438,797.8 438.5,797.7 439,797.5 439.5,797.4 440,797.3 440.5,797.1 441,797 441.5,796.8 442,796.7 442.5,796.5 443,796.3 443.5,796.2 444,796 444.5,795.8 445,795.6 445.5,795.4 446,795.2 446.5,795 447,794.8 447.5,794.6 448,794.3 448.5,794.1 449,793.9 449.5,793.7 450,793.5 450.5,793.3 451,793.1 451.5,792.9 452,792.7 452.5,792.5 453,792.3 453.5,792.1 454,791.9 454.5,791.7 455,791.5 455.5,791.3 456,791.1 456.5,790.8 457,790.6 457.5,790.4 458,790.1 458.5,789.9 459,789.6 459.5,789.4 460,789.1 460.5,788.8 461,788.5 461.5,788.3 462,788 462.5,787.7 463,787.4 463.5,787.1 464,786.8 464.5,786.5 465,786.2 465.5,785.9 466,785.6 466.5,785.4 467,785.1 467.5,784.8 468,784.5 468.5,784.3 469,784 469.5,783.7 470,783.4 470.5,783.1 471,782.9 471.5,782.6 472,782.3 472.5,782.1 473,781.8 473.5,781.5 474,781.3 474.5,781 475,780.8 475.5,780.5 476,780.3 476.5,780.1 477,779.8 477.5,779.6 478,779.4 478.5,779.2 479,778.9 479.5,778.7 480,778.5 480.5,778.3 481,778.1 481.5,777.9 482,777.7 482.5,777.5 483,777.3 483.5,777.1 484,776.9 484.5,776.7 485,776.5 485.5,776.3 486,776.1 486.5,775.9 487,775.7 487.5,775.5 488,775.3 488.5,775.1 489,775 489.5,774.8 490,774.6 490.5,774.5 491,774.3 491.5,774.2 492,774 492.5,773.9 493,773.7 493.5,773.6 494,773.4 494.5,773.3 495,773.2 495.5,773 496,772.9 496.5,772.8 497,772.6 497.5,772.5 498,772.4 498.5,772.3 499,772.3 499.5,772.2 500,772.1 500.5,772.1 501,772 501.5,771.9 502,771.9 502.5,771.8 503,771.8 503.5,771.7 504,771.7 504.5,771.6 505,771.6 505.5,771.6 506,771.5 506.5,771.5 507,771.5 507.5,771.5 508,771.5 508.5,771.5 509,771.6 509.5,771.6 510,771.6 510.5,771.6 511,771.7 511.5,771.7 512,771.8 512.5,771.8 513,771.9 513.5,771.9 514,771.9 514.5,772 515,772 515.5,772.1 516,772.1 516.5,772.2 517,772.3 517.5,772.3 518,772.4 518.5,772.5 519,772.6 519.5,772.6 520,772.7 520.5,772.8 521,772.9 521.5,773 522,773.1 522.5,773.2 523,773.3 523.5,773.5 524,773.6 524.5,773.8 525,773.9 525.5,774.1 526,774.3 526.5,774.5 527,774.7 527.5,774.9 528,775.1 528.5,775.3 529,775.5 529.5,775.7 530,775.9 530.5,776.1 531,776.3 531.5,776.5 532,776.7 532.5,776.9 533,777.1 533.5,777.3 534,777.5 534.5,777.8 535,778 535.5,778.2 536,778.4 536.5,778.7 537,778.9 537.5,779.1 538,779.3 538.5,779.6 539,779.8 539.5,780 540,780.3 540.5,780.5 541,780.8 541.5,781 542,781.3 542.5,781.5 543,781.8 543.5,782 544,782.3 544.5,782.5 545,782.8 545.5,783 546,783.3 546.5,783.5 547,783.8 547.5,784 548.1,784.3 548.6,784.5 549.1,784.8 549.6,785 550.1,785.3 550.6,785.6 551.1,785.8 551.6,786.1 552.1,786.3 552.6,786.6 553.1,786.8 553.6,787.1 554.1,787.3 554.6,787.6 555.1,787.8 555.6,788.1 556.1,788.3 556.6,788.5 557.1,788.8 557.6,789 558.1,789.3 558.6,789.5 559.1,789.8 559.6,790 560.1,790.3 560.6,790.5 561.1,790.8 561.6,791 562.1,791.2 562.6,791.5 563.1,791.7 563.6,791.9 564.1,792.2 564.6,792.4 565.1,792.6 565.6,792.9 566.1,793.1 566.6,793.3 567.1,793.5 567.6,793.8 568.1,794 568.6,794.2 569.1,794.5 569.6,794.7 570.1,794.9 570.6,795.1 571.1,795.3 571.6,795.5 572.1,795.7 572.6,795.9 573.1,796 573.6,796.2 574.1,796.4 574.6,796.5 575.1,796.6 575.6,796.8 576.1,796.9 576.6,797 577.1,797.2 577.6,797.3 578.1,797.4 578.6,797.5 579.1,797.6 579.6,797.7 580.1,797.9 580.6,798 581.1,798.1 581.6,798.2 582.1,798.3 582.6,798.3 583.1,798.4 583.6,798.5 584.1,798.6 584.6,798.7 585.1,798.8 585.6,798.9 586.1,799 586.6,799.1 587.1,799.1 587.6,799.2 588.1,799.3 588.6,799.4 589.1,799.4 589.6,799.5 590.1,799.6 590.6,799.6 591.1,799.7 591.6,799.7 592.1,799.8 592.6,799.8 593.1,799.9 593.6,799.9 594.1,800 594.6,800 595.1,800.1 595.6,800.1 596.1,800.1 596.6,800.2 597.1,800.2 597.6,800.3 598.1,800.3 598.6,800.3 599.1,800.4 599.6,800.4 600.1,800.4 600.6,800.5 601.1,800.5 601.6,800.5 602.1,800.5 602.6,800.6 603.1,800.6 603.6,800.6 604.1,800.7 604.6,800.7 605.1,800.7 605.6,800.7 606.1,800.8 606.6,800.8 607.1,800.8 607.6,800.8 608.1,800.9 608.6,800.9 609.1,800.9 609.6,800.9 610.1,800.9 610.6,801 611.1,801 611.6,801 612.1,801 612.6,801 613.1,801 613.6,801.1 614.1,801.1 614.6,801.1 615.1,801.1 615.6,801.1 616.1,801.1 616.6,801.1 617.1,801.2 617.6,801.2 618.1,801.2 618.6,801.2 619.1,801.2 619.6,801.2 620.1,801.2 620.6,801.2 621.1,801.3 621.6,801.3 622.1,801.3 622.6,801.3 623.1,801.3 623.6,801.3 624.1,801.3 624.6,801.3 625.1,801.4 625.6,801.4 626.1,801.4 626.6,801.4 627.1,801.4 627.6,801.4 628.1,801.4 628.6,801.4 629.1,801.5 629.6,801.5 630.1,801.5 630.6,801.5 631.1,801.5 631.6,801.5 632.1,801.5 632.6,801.5 633.1,801.6 633.6,801.6 634.1,801.6 634.6,801.6 635.1,801.6 635.6,801.6 636.1,801.6 636.6,801.7 637.1,801.7" fill="none" stroke="#dfb6fb" stroke-width="2.1" stroke-linejoin="round" stroke-linecap="butt"/>
<polyline points="93.2,996.1 93.7,996.1 94.2,996.1 94.7,996.1 95.2,996.1 95.7,996.1 96.2,996.1 96.7,996.1 97.2,996.1 97.7,996.1 98.2,996.1 98.7,996.1 99.2,996.1 99.7,996.1 100.2,996.1 100.7,996.1 101.2,996.1 101.7,996 102.2,996 102.7,996 103.2,996 103.7,996 104.2,996 104.7,996 105.2,996 105.7,996 106.2,996 106.7,996 107.2,996 107.7,996 108.2,996 108.7,996 109.2,996 109.7,995.9 110.2,995.9 110.7,995.9 111.2,995.9 111.7,995.9 112.2,995.9 112.7,995.9 113.2,995.9 113.7,995.9 114.2,995.9 114.7,995.9 115.2,995.9 115.7,995.9 116.2,995.8 116.7,995.8 117.2,995.8 117.7,995.8 118.2,995.8 118.7,995.8 119.2,995.8 119.7,995.8 120.2,995.8 120.7,995.8 121.2,995.8 121.7,995.8 122.2,995.8 122.7,995.7 123.2,995.7 123.7,995.7 124.2,995.7 124.7,995.7 125.2,995.7 125.7,995.7 126.2,995.7 126.7,995.7 127.2,995.7 127.7,995.7 128.2,995.6 128.7,995.6 129.2,995.6 129.7,995.6 130.2,995.6 130.7,995.6 131.2,995.6 131.7,995.6 132.2,995.6 132.7,995.6 133.2,995.5 133.7,995.5 134.2,995.5 134.7,995.5 135.2,995.5 135.7,995.5 136.2,995.5 136.7,995.5 137.2,995.5 137.7,995.4 138.2,995.4 138.7,995.4 139.2,995.4 139.7,995.4 140.2,995.4 140.7,995.4 141.2,995.4 141.7,995.4 142.2,995.3 142.7,995.3 143.2,995.3 143.7,995.3 144.2,995.3 144.7,995.3 145.2,995.3 145.7,995.3 146.2,995.3 146.7,995.2 147.2,995.2 147.7,995.2 148.2,995.2 148.7,995.2 149.2,995.2 149.7,995.2 150.2,995.2 150.7,995.2 151.2,995.1 151.7,995.1 152.2,995.1 152.7,995.1 153.2,995.1 153.7,995.1 154.2,995.1 154.7,995.1 155.2,995.1 155.7,995 156.2,995 156.7,995 157.2,995 157.7,995 158.2,995 158.7,995 159.2,995 159.7,994.9 160.2,994.9 160.7,994.9 161.2,994.9 161.7,994.9 162.2,994.9 162.7,994.9 163.2,994.8 163.7,994.8 164.2,994.8 164.7,994.8 165.2,994.8 165.7,994.8 166.2,994.8 166.7,994.7 167.2,994.7 167.7,994.7 168.2,994.7 168.7,994.7 169.2,994.7 169.7,994.6 170.2,994.6 170.7,994.6 171.2,994.6 171.7,994.6 172.2,994.5 172.7,994.5 173.2,994.5 173.7,994.5 174.2,994.4 174.7,994.4 175.2,994.4 175.7,994.4 176.2,994.3 176.7,994.3 177.2,994.3 177.7,994.3 178.2,994.2 178.7,994.2 179.2,994.2 179.7,994.1 180.2,994.1 180.7,994 181.2,994 181.7,994 182.2,993.9 182.7,993.9 183.3,993.8 183.8,993.8 184.3,993.7 184.8,993.7 185.3,993.6 185.8,993.6 186.3,993.5 186.8,993.4 187.3,993.4 187.8,993.3 188.3,993.2 188.8,993.1 189.3,993.1 189.8,993 190.3,992.9 190.8,992.8 191.3,992.7 191.8,992.6 192.3,992.4 192.8,992.3 193.3,992.2 193.8,992 194.3,991.8 194.8,991.6 195.3,991.4 195.8,991.2 196.3,990.9 196.8,990.7 197.3,990.4 197.8,990.2 198.3,989.9 198.8,989.7 199.3,989.4 199.8,989.1 200.3,988.7 200.8,988.3 201.3,987.9 201.8,987.3 202.3,986.6 202.8,985.9 203.3,985.1 203.8,984.3 204.3,983.6 204.8,982.8 205.3,981.9 205.8,981.1 206.3,980.4 206.8,979.8 207.3,979.4 207.8,979 208.3,978.7 208.8,978.6 209.3,978.4 209.8,978.3 210.3,978.3 210.8,978.3 211.3,978.6 211.8,978.9 212.3,979.3 212.8,979.6 213.3,979.9 213.8,980.2 214.3,980.4 214.8,980.5 215.3,980.5 215.8,980.4 216.3,980.4 216.8,980.4 217.3,980.4 217.8,980.3 218.3,980.3 218.8,980.2 219.3,980.2 219.8,980.1 220.3,980.1 220.8,980 221.3,980 221.8,979.9 222.3,979.9 222.8,979.8 223.3,979.7 223.8,979.7 224.3,979.6 224.8,979.5 225.3,979.4 225.8,979.4 226.3,979.3 226.8,979.2 227.3,979.1 227.8,979 228.3,979 228.8,978.9 229.3,978.8 229.8,978.7 230.3,978.6 230.8,978.5 231.3,978.4 231.8,978.3 232.3,978.2 232.8,978.1 233.3,977.9 233.8,977.8 234.3,977.7 234.8,977.5 235.3,977.3 235.8,977.1 236.3,977 236.8,976.7 237.3,976.5 237.8,976.3 238.3,976.1 238.8,975.8 239.3,975.5 239.8,975.2 240.3,974.9 240.8,974.5 241.3,974.1 241.8,973.7 242.3,973.3 242.8,972.7 243.3,972.1 243.8,971.3 244.3,970.6 244.8,969.8 245.3,969 245.8,968.2 246.3,967.4 246.8,966.4 247.3,965.5 247.8,964.5 248.3,963.4 248.8,962.3 249.3,961.2 249.8,959.9 250.3,958.6 250.8,957.3 251.3,956 251.8,954.6 252.3,953.3 252.8,951.9 253.3,950.5 253.8,949 254.3,947.4 254.8,945.7 255.3,943.9 255.8,942.1 256.3,940.3 256.8,938.4 257.3,936.5 257.8,934.6 258.3,932.6 258.8,930.6 259.3,928.7 259.8,926.8 260.3,924.8 260.8,922.9 261.3,921 261.8,919.1 262.3,917.1 262.8,915.2 263.3,913.2 263.8,911.2 264.3,909.1 264.8,907.1 265.3,905.1 265.8,903.2 266.3,901.4 266.8,899.6 267.3,897.9 267.8,896.1 268.3,894.4 268.8,892.7 269.3,891 269.8,889.2 270.3,887.5 270.8,885.7 271.3,884 271.8,882.2 272.3,880.5 272.8,878.7 273.3,876.9 273.8,875.2 274.3,873.4 274.8,871.7 275.3,869.9 275.8,868.2 276.3,866.4 276.8,864.7 277.3,863 277.8,861.2 278.3,859.5 278.8,857.7 279.3,855.9 279.8,854.1 280.3,852.3 280.8,850.4 281.3,848.5 281.8,846.6 282.3,844.7 282.8,842.8 283.3,840.9 283.8,839.1 284.3,837.3 284.8,835.4 285.3,833.6 285.8,831.6 286.3,829.6 286.8,827.5 287.3,825.3 287.8,823.1 288.3,820.9 288.8,818.7 289.3,816.5 289.8,814.2 290.3,811.9 290.8,809.8 291.3,807.9 291.8,806.2 292.3,804.7 292.8,803.2 293.3,801.8 293.8,800.5 294.3,799.2 294.8,798 295.3,796.8 295.8,795.7 296.3,794.6 296.8,793.6 297.3,792.6 297.8,791.7 298.3,790.8 298.8,789.9 299.3,789 299.8,788.1 300.3,787.3 300.8,786.4 301.3,785.6 301.8,784.8 302.3,784 302.8,783.2 303.3,782.3 303.8,781.5 304.3,780.7 304.9,779.9 305.4,779.1 305.9,778.3 306.4,777.4 306.9,776.5 307.4,775.7 307.9,774.8 308.4,773.9 308.9,773 309.4,772 309.9,771 310.4,770 310.9,768.9 311.4,767.7 311.9,766.5 312.4,765.3 312.9,764 313.4,762.6 313.9,761.2 314.4,759.7 314.9,758 315.4,756.2 315.9,754 316.4,751.7 316.9,749.2 317.4,746.6 317.9,743.9 318.4,741 318.9,738.1 319.4,735.2 319.9,732.4 320.4,729.7 320.9,727.1 321.4,724.6 321.9,722.2 322.4,719.7 322.9,717.2 323.4,714.7 323.9,712.1 324.4,709.6 324.9,707.1 325.4,704.7 325.9,702.3 326.4,700 326.9,697.9 327.4,695.9 327.9,694 328.4,692.3 328.9,690.8 329.4,689.5 329.9,688.3 330.4,687.4 330.9,686.6 331.4,686 331.9,685.7 332.4,685.8 332.9,686 333.4,686.3 333.9,686.7 334.4,687.3 334.9,688.1 335.4,689.1 335.9,690.1 336.4,691.5 336.9,693.2 337.4,695.1 337.9,697.1 338.4,699.1 338.9,701.2 339.4,703.1 339.9,705.1 340.4,707.1 340.9,709.1 341.4,711.1 341.9,713.1 342.4,715.1 342.9,717.1 343.4,719.1 343.9,721.1 344.4,723.1 344.9,725.2 345.4,727.2 345.9,729.2 346.4,731.2 346.9,733.2 347.4,735.1 347.9,737.1 348.4,738.9 348.9,740.8 349.4,742.5 349.9,744.1 350.4,745.7 350.9,747.2 351.4,748.4 351.9,749.6 352.4,750.6 352.9,751.5 353.4,752.4 353.9,753.2 354.4,754 354.9,754.8 355.4,755.5 355.9,756.3 356.4,756.9 356.9,757.5 357.4,758 357.9,758.4 358.4,758.8 358.9,759.2 359.4,759.5 359.9,759.8 360.4,760.1 360.9,760.4 361.4,760.7 361.9,761 362.4,761.3 362.9,761.6 363.4,761.9 363.9,762.2 364.4,762.4 364.9,762.6 365.4,762.9 365.9,763 366.4,763.2 366.9,763.4 367.4,763.5 367.9,763.6 368.4,763.8 368.9,763.9 369.4,764 369.9,764.1 370.4,764.2 370.9,764.4 371.4,764.5 371.9,764.6 372.4,764.7 372.9,764.8 373.4,764.9 373.9,764.9 374.4,765 374.9,765.1 375.4,765.2 375.9,765.2 376.4,765.3 376.9,765.4 377.4,765.5 377.9,765.6 378.4,765.7 378.9,765.8 379.4,765.9 379.9,766 380.4,766.2 380.9,766.5 381.4,766.7 381.9,767 382.4,767.2 382.9,767.5 383.4,767.8 383.9,768.1 384.4,768.4 384.9,768.7 385.4,769 385.9,769.3 386.4,769.7 386.9,770 387.4,770.3 387.9,770.7 388.4,771 388.9,771.3 389.4,771.6 389.9,771.9 390.4,772.2 390.9,772.5 391.4,772.8 391.9,773.1 392.4,773.4 392.9,773.7 393.4,774 393.9,774.3 394.4,774.6 394.9,774.9 395.4,775.3 395.9,775.6 396.4,775.8 396.9,776 397.4,776.2 397.9,776.3 398.4,776.3 398.9,776.3 399.4,776.2 399.9,776.2 400.4,776.1 400.9,776 401.4,775.9 401.9,775.8 402.4,775.8 402.9,775.7 403.4,775.6 403.9,775.5 404.4,775.4 404.9,775.3 405.4,775.2 405.9,775.1 406.4,775 406.9,774.9 407.4,774.7 407.9,774.6 408.4,774.4 408.9,774.3 409.4,774.2 409.9,774 410.4,773.9 410.9,773.8 411.4,773.8 411.9,773.7 412.4,773.7 412.9,773.7 413.4,773.6 413.9,773.6 414.4,773.6 414.9,773.6 415.4,773.6 415.9,773.6 416.4,773.6 416.9,773.6 417.4,773.6 417.9,773.6 418.4,773.7 418.9,773.8 419.4,774 419.9,774.1 420.4,774.3 420.9,774.4 421.4,774.6 421.9,774.7 422.4,774.9 422.9,775 423.4,775.2 423.9,775.4 424.4,775.5 424.9,775.7 425.4,775.9 425.9,776.1 426.5,776.3 427,776.6 427.5,776.8 428,777 428.5,777.3 429,777.6 429.5,777.9 430,778.2 430.5,778.5 431,778.8 431.5,779.2 432,779.5 432.5,779.8 433,780.1 433.5,780.5 434,780.8 434.5,781.1 435,781.5 435.5,781.8 436,782.2 436.5,782.5 437,782.9 437.5,783.2 438,783.6 438.5,783.9 439,784.3 439.5,784.6 440,784.9 440.5,785.2 441,785.6 441.5,785.9 442,786.2 442.5,786.6 443,786.9 443.5,787.2 444,787.5 444.5,787.9 445,788.2 445.5,788.5 446,788.8 446.5,789.1 447,789.4 447.5,789.7 448,790.1 448.5,790.4 449,790.7 449.5,791 450,791.3 450.5,791.6 451,791.9 451.5,792.2 452,792.4 452.5,792.7 453,793 453.5,793.2 454,793.5 454.5,793.7 455,793.9 455.5,794.1 456,794.4 456.5,794.6 457,794.8 457.5,795 458,795.2 458.5,795.4 459,795.7 459.5,795.9 460,796.1 460.5,796.3 461,796.5 461.5,796.7 462,797 462.5,797.2 463,797.4 463.5,797.6 464,797.8 464.5,798 465,798.2 465.5,798.4 466,798.6 466.5,798.9 467,799.1 467.5,799.3 468,799.5 468.5,799.7 469,799.9 469.5,800.1 470,800.3 470.5,800.6 471,800.8 471.5,801 472,801.2 472.5,801.4 473,801.6 473.5,801.8 474,802 474.5,802.2 475,802.4 475.5,802.6 476,802.8 476.5,803 477,803.2 477.5,803.4 478,803.6 478.5,803.8 479,804 479.5,804.2 480,804.4 480.5,804.6 481,804.7 481.5,804.9 482,805.1 482.5,805.3 483,805.5 483.5,805.6 484,805.8 484.5,806 485,806.2 485.5,806.4 486,806.5 486.5,806.7 487,806.9 487.5,807.1 488,807.2 488.5,807.4 489,807.6 489.5,807.8 490,807.9 490.5,808.1 491,808.2 491.5,808.4 492,808.5 492.5,808.7 493,808.8 493.5,809 494,809.1 494.5,809.3 495,809.4 495.5,809.6 496,809.7 496.5,809.8 497,810 497.5,810.1 498,810.2 498.5,810.3 499,810.4 499.5,810.5 500,810.6 500.5,810.7 501,810.8 501.5,810.9 502,811 502.5,811 503,811.1 503.5,811.2 504,811.3 504.5,811.3 505,811.4 505.5,811.5 506,811.5 506.5,811.6 507,811.6 507.5,811.6 508,811.7 508.5,811.7 509,811.7 509.5,811.7 510,811.8 510.5,811.8 511,811.8 511.5,811.8 512,811.8 512.5,811.8 513,811.8 513.5,811.8 514,811.9 514.5,811.9 515,811.9 515.5,811.9 516,811.9 516.5,811.9 517,811.9 517.5,811.9 518,811.9 518.5,811.8 519,811.8 519.5,811.8 520,811.7 520.5,811.6 521,811.6 521.5,811.5 522,811.4 522.5,811.3 523,811.2 523.5,811.1 524,811 524.5,810.9 525,810.8 525.5,810.8 526,810.7 526.5,810.6 527,810.5 527.5,810.4 528,810.3 528.5,810.2 529,810.1 529.5,810 530,809.9 530.5,809.8 531,809.6 531.5,809.5 532,809.4 532.5,809.3 533,809.2 533.5,809.1 534,809.1 534.5,809 535,808.9 535.5,808.8 536,808.7 536.5,808.7 537,808.6 537.5,808.5 538,808.5 538.5,808.4 539,808.3 539.5,808.3 540,808.2 540.5,808.1 541,808.1 541.5,808 542,807.9 542.5,807.9 543,807.8 543.5,807.7 544,807.7 544.5,807.6 545,807.5 545.5,807.4 546,807.4 546.5,807.3 547,807.2 547.5,807.1 548.1,807.1 548.6,807 549.1,806.9 549.6,806.9 550.1,806.8 550.6,806.7 551.1,806.6 551.6,806.5 552.1,806.5 552.6,806.4 553.1,806.3 553.6,806.2 554.1,806.1 554.6,806 555.1,805.9 555.6,805.8 556.1,805.7 556.6,805.6 557.1,805.5 557.6,805.3 558.1,805.2 558.6,805 559.1,804.9 559.6,804.7 560.1,804.6 560.6,804.4 561.1,804.2 561.6,804 562.1,803.8 562.6,803.6 563.1,803.4 563.6,803.2 564.1,803.1 564.6,802.9 565.1,802.7 565.6,802.5 566.1,802.3 566.6,802.1 567.1,801.9 567.6,801.7 568.1,801.5 568.6,801.3 569.1,801.1 569.6,800.9 570.1,800.7 570.6,800.5 571.1,800.3 571.6,800.1 572.1,799.9 572.6,799.7 573.1,799.5 573.6,799.3 574.1,799.1 574.6,798.9 575.1,798.7 575.6,798.5 576.1,798.3 576.6,798.1 577.1,797.9 577.6,797.7 578.1,797.5 578.6,797.3 579.1,797.1 579.6,796.9 580.1,796.7 580.6,796.5 581.1,796.3 581.6,796.1 582.1,795.9 582.6,795.7 583.1,795.5 583.6,795.3 584.1,795.1 584.6,794.9 585.1,794.7 585.6,794.5 586.1,794.3 586.6,794.1 587.1,793.9 587.6,793.7 588.1,793.5 588.6,793.3 589.1,793.1 589.6,792.8 590.1,792.6 590.6,792.4 591.1,792.2 591.6,792 592.1,791.8 592.6,791.6 593.1,791.5 593.6,791.3 594.1,791.1 594.6,790.9 595.1,790.7 595.6,790.5 596.1,790.4 596.6,790.2 597.1,790 597.6,789.8 598.1,789.7 598.6,789.5 599.1,789.3 599.6,789.2 600.1,789 600.6,788.8 601.1,788.7 601.6,788.5 602.1,788.4 602.6,788.2 603.1,788 603.6,787.9 604.1,787.7 604.6,787.6 605.1,787.4 605.6,787.3 606.1,787.1 606.6,787 607.1,786.8 607.6,786.7 608.1,786.6 608.6,786.4 609.1,786.3 609.6,786.1 610.1,786 610.6,785.8 611.1,785.6 611.6,785.5 612.1,785.3 612.6,785.2 613.1,785 613.6,784.8 614.1,784.7 614.6,784.5 615.1,784.3 615.6,784.1 616.1,784 616.6,783.8 617.1,783.6 617.6,783.5 618.1,783.3 618.6,783.1 619.1,782.9 619.6,782.7 620.1,782.6 620.6,782.4 621.1,782.2 621.6,782 622.1,781.8 622.6,781.7 623.1,781.5 623.6,781.3 624.1,781.1 624.6,780.9 625.1,780.7 625.6,780.5 626.1,780.3 626.6,780.1 627.1,779.9 627.6,779.7 628.1,779.5 628.6,779.3 629.1,779.1 629.6,778.9 630.1,778.6 630.6,778.4 631.1,778.2 631.6,778 632.1,777.7 632.6,777.5 633.1,777.3 633.6,777 634.1,776.8 634.6,776.5 635.1,776.3 635.6,776 636.1,775.8 636.6,775.5 637.1,775.3" fill="none" stroke="#98e52d" stroke-width="2.1" stroke-linejoin="round" stroke-linecap="butt"/>
<polyline points="93.2,996.1 93.7,996.1 94.2,996.1 94.7,996.1 95.2,996.1 95.7,996.1 96.2,996.1 96.7,996.1 97.2,996.1 97.7,996.1 98.2,996.1 98.7,996.1 99.2,996.1 99.7,996.1 100.2,996.1 100.7,996.1 101.2,996.1 101.7,996 102.2,996 102.7,996 103.2,996 103.7,996 104.2,996 104.7,996 105.2,996 105.7,996 106.2,996 106.7,996 107.2,996 107.7,996 108.2,996 108.7,996 109.2,996 109.7,995.9 110.2,995.9 110.7,995.9 111.2,995.9 111.7,995.9 112.2,995.9 112.7,995.9 113.2,995.9 113.7,995.9 114.2,995.9 114.7,995.9 115.2,995.9 115.7,995.9 116.2,995.8 116.7,995.8 117.2,995.8 117.7,995.8 118.2,995.8 118.7,995.8 119.2,995.8 119.7,995.8 120.2,995.8 120.7,995.8 121.2,995.8 121.7,995.8 122.2,995.8 122.7,995.7 123.2,995.7 123.7,995.7 124.2,995.7 124.7,995.7 125.2,995.7 125.7,995.7 126.2,995.7 126.7,995.7 127.2,995.7 127.7,995.7 128.2,995.6 128.7,995.6 129.2,995.6 129.7,995.6 130.2,995.6 130.7,995.6 131.2,995.6 131.7,995.6 132.2,995.6 132.7,995.6 133.2,995.5 133.7,995.5 134.2,995.5 134.7,995.5 135.2,995.5 135.7,995.5 136.2,995.5 136.7,995.5 137.2,995.5 137.7,995.4 138.2,995.4 138.7,995.4 139.2,995.4 139.7,995.4 140.2,995.4 140.7,995.4 141.2,995.4 141.7,995.4 142.2,995.3 142.7,995.3 143.2,995.3 143.7,995.3 144.2,995.3 144.7,995.3 145.2,995.3 145.7,995.3 146.2,995.3 146.7,995.2 147.2,995.2 147.7,995.2 148.2,995.2 148.7,995.2 149.2,995.2 149.7,995.2 150.2,995.2 150.7,995.2 151.2,995.1 151.7,995.1 152.2,995.1 152.7,995.1 153.2,995.1 153.7,995.1 154.2,995.1 154.7,995.1 155.2,995.1 155.7,995 156.2,995 156.7,995 157.2,995 157.7,995 158.2,995 158.7,995 159.2,995 159.7,994.9 160.2,994.9 160.7,994.9 161.2,994.9 161.7,994.9 162.2,994.9 162.7,994.9 163.2,994.8 163.7,994.8 164.2,994.8 164.7,994.8 165.2,994.8 165.7,994.8 166.2,994.8 166.7,994.7 167.2,994.7 167.7,994.7 168.2,994.7 168.7,994.7 169.2,994.7 169.7,994.6 170.2,994.6 170.7,994.6 171.2,994.6 171.7,994.6 172.2,994.5 172.7,994.5 173.2,994.5 173.7,994.5 174.2,994.4 174.7,994.4 175.2,994.4 175.7,994.4 176.2,994.3 176.7,994.3 177.2,994.3 177.7,994.2 178.2,994.2 178.7,994.2 179.2,994.1 179.7,994.1 180.2,994.1 180.7,994 181.2,994 181.7,994 182.2,993.9 182.7,993.9 183.3,993.9 183.8,993.8 184.3,993.8 184.8,993.7 185.3,993.7 185.8,993.7 186.3,993.6 186.8,993.6 187.3,993.5 187.8,993.5 188.3,993.5 188.8,993.4 189.3,993.3 189.8,993.3 190.3,993.2 190.8,993.2 191.3,993.1 191.8,993 192.3,992.9 192.8,992.9 193.3,992.7 193.8,992.6 194.3,992.4 194.8,992.3 195.3,992.1 195.8,991.8 196.3,991.6 196.8,991.4 197.3,991.2 197.8,990.9 198.3,990.7 198.8,990.4 199.3,990.2 199.8,990 200.3,989.8 200.8,989.6 201.3,989.4 201.8,989.2 202.3,989 202.8,988.8 203.3,988.6 203.8,988.4 204.3,988.2 204.8,988 205.3,987.8 205.8,987.6 206.3,987.4 206.8,987.2 207.3,987 207.8,986.8 208.3,986.6 208.8,986.4 209.3,986.3 209.8,986.1 210.3,985.9 210.8,985.7 211.3,985.6 211.8,985.4 212.3,985.2 212.8,985.1 213.3,984.9 213.8,984.7 214.3,984.5 214.8,984.3 215.3,984.1 215.8,984 216.3,983.8 216.8,983.6 217.3,983.4 217.8,983.2 218.3,983 218.8,982.8 219.3,982.6 219.8,982.3 220.3,982.1 220.8,981.8 221.3,981.4 221.8,981.1 222.3,980.6 222.8,980 223.3,979.3 223.8,978.6 224.3,977.9 224.8,977.2 225.3,976.4 225.8,975.7 226.3,974.9 226.8,974 227.3,973.1 227.8,972.1 228.3,971 228.8,969.8 229.3,968.4 229.8,966.8 230.3,965.2 230.8,963.5 231.3,961.8 231.8,960 232.3,958.1 232.8,956.2 233.3,954.3 233.8,952.5 234.3,950.6 234.8,948.6 235.3,946.7 235.8,944.7 236.3,942.7 236.8,940.6 237.3,938.5 237.8,936.2 238.3,933.7 238.8,931.2 239.3,928.7 239.8,926.3 240.3,924 240.8,921.8 241.3,919.6 241.8,917.5 242.3,915.5 242.8,913.5 243.3,911.5 243.8,909.4 244.3,907.1 244.8,904.8 245.3,902.6 245.8,900.6 246.3,898.6 246.8,897.1 247.3,896.2 247.8,895.4 248.3,895 248.8,895 249.3,895 249.8,895.1 250.3,895.5 250.8,896.1 251.3,896.9 251.8,897.6 252.3,898.4 252.8,899.4 253.3,900.2 253.8,901 254.3,901.6 254.8,902.1 255.3,902.6 255.8,902.9 256.3,903.1 256.8,903.3 257.3,903.4 257.8,903.5 258.3,903.5 258.8,903.4 259.3,903.1 259.8,902.7 260.3,902.3 260.8,901.9 261.3,901.5 261.8,901.1 262.3,900.5 262.8,900 263.3,899.4 263.8,898.7 264.3,898 264.8,897.2 265.3,896.4 265.8,895.5 266.3,894.6 266.8,893.7 267.3,892.7 267.8,891.7 268.3,890.6 268.8,889.6 269.3,888.4 269.8,887.3 270.3,886.1 270.8,884.8 271.3,883.5 271.8,882.2 272.3,880.8 272.8,879.3 273.3,877.8 273.8,876.3 274.3,874.7 274.8,873.1 275.3,871.4 275.8,869.8 276.3,868.3 276.8,866.9 277.3,865.4 277.8,864 278.3,862.6 278.8,861.2 279.3,859.8 279.8,858.4 280.3,857 280.8,855.6 281.3,854.2 281.8,852.8 282.3,851.4 282.8,850.1 283.3,848.7 283.8,847.3 284.3,845.9 284.8,844.5 285.3,843 285.8,841.5 286.3,840 286.8,838.4 287.3,836.7 287.8,835 288.3,833.3 288.8,831.6 289.3,829.8 289.8,828.1 290.3,826.3 290.8,824.6 291.3,822.9 291.8,821.1 292.3,819.3 292.8,817.6 293.3,815.8 293.8,814.2 294.3,812.6 294.8,811.1 295.3,809.7 295.8,808.3 296.3,807 296.8,805.8 297.3,804.5 297.8,803.3 298.3,802 298.8,800.7 299.3,799.4 299.8,798.1 300.3,796.7 300.8,795.4 301.3,794 301.8,792.7 302.3,791.4 302.8,790.2 303.3,789.1 303.8,788 304.3,787 304.9,785.9 305.4,785 305.9,784 306.4,783.1 306.9,782.1 307.4,781.1 307.9,780.1 308.4,779.1 308.9,778.1 309.4,777.1 309.9,776.1 310.4,775.1 310.9,774.1 311.4,773.1 311.9,772.1 312.4,771.1 312.9,770.1 313.4,769.1 313.9,768.1 314.4,767.1 314.9,766.1 315.4,765.1 315.9,764.1 316.4,763 316.9,762 317.4,760.9 317.9,759.9 318.4,759 318.9,758.2 319.4,757.4 319.9,756.6 320.4,755.9 320.9,755.2 321.4,754.7 321.9,754.2 322.4,753.8 322.9,753.3 323.4,753 323.9,752.6 324.4,752.3 324.9,752 325.4,751.8 325.9,751.5 326.4,751.3 326.9,751 327.4,750.8 327.9,750.6 328.4,750.4 328.9,750.1 329.4,749.9 329.9,749.7 330.4,749.6 330.9,749.4 331.4,749.2 331.9,749 332.4,748.8 332.9,748.6 333.4,748.4 333.9,748.2 334.4,748 334.9,747.8 335.4,747.6 335.9,747.4 336.4,747.2 336.9,746.9 337.4,746.6 337.9,746.2 338.4,745.8 338.9,745.4 339.4,744.9 339.9,744.4 340.4,744 340.9,743.5 341.4,743.1 341.9,742.6 342.4,742.2 342.9,741.9 343.4,741.6 343.9,741.3 344.4,741 344.9,740.8 345.4,740.6 345.9,740.3 346.4,740.1 346.9,739.9 347.4,739.7 347.9,739.5 348.4,739.3 348.9,739.1 349.4,738.9 349.9,738.7 350.4,738.5 350.9,738.3 351.4,738 351.9,737.8 352.4,737.6 352.9,737.5 353.4,737.3 353.9,737.1 354.4,737 354.9,736.9 355.4,736.8 355.9,736.7 356.4,736.6 356.9,736.5 357.4,736.4 357.9,736.3 358.4,736.2 358.9,736.1 359.4,736 359.9,736 360.4,735.8 360.9,735.7 361.4,735.6 361.9,735.5 362.4,735.3 362.9,735.1 363.4,735 363.9,734.8 364.4,734.6 364.9,734.5 365.4,734.4 365.9,734.3 366.4,734.2 366.9,734.1 367.4,734.1 367.9,734.1 368.4,734.2 368.9,734.4 369.4,734.6 369.9,734.8 370.4,735.1 370.9,735.3 371.4,735.6 371.9,735.9 372.4,736.2 372.9,736.5 373.4,736.8 373.9,737.2 374.4,737.5 374.9,737.9 375.4,738.3 375.9,738.8 376.4,739.3 376.9,739.8 377.4,740.3 377.9,740.9 378.4,741.5 378.9,742.2 379.4,742.8 379.9,743.4 380.4,744.1 380.9,744.7 381.4,745.4 381.9,746.1 382.4,746.8 382.9,747.5 383.4,748.3 383.9,749 384.4,749.8 384.9,750.5 385.4,751.3 385.9,752.1 386.4,752.9 386.9,753.7 387.4,754.5 387.9,755.3 388.4,756.1 388.9,757 389.4,757.8 389.9,758.6 390.4,759.5 390.9,760.3 391.4,761.2 391.9,762 392.4,762.8 392.9,763.7 393.4,764.5 393.9,765.4 394.4,766.3 394.9,767.2 395.4,768 395.9,768.9 396.4,769.8 396.9,770.6 397.4,771.4 397.9,772.1 398.4,772.7 398.9,773.4 399.4,774 399.9,774.6 400.4,775.1 400.9,775.6 401.4,776.2 401.9,776.7 402.4,777.2 402.9,777.7 403.4,778.1 403.9,778.6 404.4,779.1 404.9,779.5 405.4,779.9 405.9,780.3 406.4,780.7 406.9,781.1 407.4,781.4 407.9,781.8 408.4,782.1 408.9,782.4 409.4,782.7 409.9,783 410.4,783.2 410.9,783.5 411.4,783.8 411.9,784 412.4,784.3 412.9,784.6 413.4,784.8 413.9,785.1 414.4,785.3 414.9,785.5 415.4,785.8 415.9,786 416.4,786.2 416.9,786.4 417.4,786.5 417.9,786.7 418.4,786.9 418.9,787 419.4,787.2 419.9,787.4 420.4,787.5 420.9,787.6 421.4,787.8 421.9,787.9 422.4,788.1 422.9,788.2 423.4,788.3 423.9,788.4 424.4,788.6 424.9,788.7 425.4,788.8 425.9,788.9 426.5,789.1 427,789.2 427.5,789.3 428,789.4 428.5,789.5 429,789.6 429.5,789.7 430,789.8 430.5,789.9 431,790 431.5,790.1 432,790.2 432.5,790.3 433,790.4 433.5,790.4 434,790.5 434.5,790.6 435,790.7 435.5,790.8 436,790.8 436.5,790.9 437,791 437.5,791.1 438,791.2 438.5,791.2 439,791.3 439.5,791.4 440,791.5 440.5,791.5 441,791.6 441.5,791.7 442,791.8 442.5,791.8 443,791.9 443.5,792 444,792.1 444.5,792.2 445,792.2 445.5,792.3 446,792.4 446.5,792.4 447,792.5 447.5,792.6 448,792.6 448.5,792.7 449,792.8 449.5,792.8 450,792.9 450.5,792.9 451,793 451.5,793 452,793.1 452.5,793.1 453,793.2 453.5,793.2 454,793.3 454.5,793.3 455,793.3 455.5,793.4 456,793.4 456.5,793.5 457,793.6 457.5,793.6 458,793.7 458.5,793.8 459,793.8 459.5,793.9 460,794 460.5,794.1 461,794.2 461.5,794.3 462,794.4 462.5,794.5 463,794.6 463.5,794.7 464,794.8 464.5,794.9 465,795 465.5,795.2 466,795.3 466.5,795.4 467,795.6 467.5,795.7 468,795.9 468.5,796 469,796.2 469.5,796.4 470,796.5 470.5,796.7 471,796.9 471.5,797.1 472,797.3 472.5,797.5 473,797.7 473.5,797.9 474,798.1 474.5,798.3 475,798.5 475.5,798.7 476,798.9 476.5,799.1 477,799.3 477.5,799.6 478,799.8 478.5,800 479,800.2 479.5,800.4 480,800.7 480.5,800.9 481,801.1 481.5,801.4 482,801.6 482.5,801.8 483,802 483.5,802.3 484,802.5 484.5,802.7 485,802.9 485.5,803.2 486,803.4 486.5,803.6 487,803.9 487.5,804.1 488,804.3 488.5,804.5 489,804.8 489.5,805 490,805.2 490.5,805.4 491,805.6 491.5,805.8 492,806 492.5,806.2 493,806.4 493.5,806.6 494,806.8 494.5,807 495,807.2 495.5,807.4 496,807.5 496.5,807.7 497,807.8 497.5,807.9 498,808.1 498.5,808.2 499,808.3 499.5,808.4 500,808.5 500.5,808.6 501,808.7 501.5,808.7 502,808.8 502.5,808.9 503,809 503.5,809 504,809.1 504.5,809.1 505,809.2 505.5,809.3 506,809.3 506.5,809.3 507,809.3 507.5,809.3 508,809.3 508.5,809.3 509,809.3 509.5,809.2 510,809.2 510.5,809.2 511,809.1 511.5,809.1 512,809 512.5,809 513,808.9 513.5,808.8 514,808.8 514.5,808.7 515,808.6 515.5,808.5 516,808.4 516.5,808.3 517,808.2 517.5,808.1 518,808 518.5,807.8 519,807.6 519.5,807.4 520,807.2 520.5,807 521,806.8 521.5,806.5 522,806.3 522.5,806.1 523,805.8 523.5,805.6 524,805.3 524.5,805.1 525,804.8 525.5,804.5 526,804.3 526.5,804 527,803.7 527.5,803.4 528,803.1 528.5,802.8 529,802.5 529.5,802.1 530,801.8 530.5,801.5 531,801.1 531.5,800.8 532,800.4 532.5,800.1 533,799.7 533.5,799.4 534,799 534.5,798.6 535,798.3 535.5,797.9 536,797.5 536.5,797.1 537,796.8 537.5,796.4 538,796.1 538.5,795.7 539,795.4 539.5,795 540,794.7 540.5,794.4 541,794 541.5,793.7 542,793.4 542.5,793 543,792.7 543.5,792.4 544,792.1 544.5,791.8 545,791.4 545.5,791.1 546,790.8 546.5,790.5 547,790.2 547.5,790 548.1,789.7 548.6,789.5 549.1,789.3 549.6,789 550.1,788.8 550.6,788.6 551.1,788.4 551.6,788.2 552.1,788.1 552.6,787.9 553.1,787.7 553.6,787.6 554.1,787.4 554.6,787.2 555.1,787.1 555.6,786.9 556.1,786.8 556.6,786.7 557.1,786.6 557.6,786.5 558.1,786.4 558.6,786.3 559.1,786.2 559.6,786.1 560.1,786.1 560.6,786 561.1,786 561.6,785.9 562.1,785.9 562.6,785.8 563.1,785.8 563.6,785.7 564.1,785.7 564.6,785.7 565.1,785.7 565.6,785.6 566.1,785.6 566.6,785.6 567.1,785.6 567.6,785.6 568.1,785.5 568.6,785.5 569.1,785.5 569.6,785.5 570.1,785.5 570.6,785.5 571.1,785.5 571.6,785.5 572.1,785.5 572.6,785.5 573.1,785.5 573.6,785.5 574.1,785.5 574.6,785.5 575.1,785.6 575.6,785.6 576.1,785.6 576.6,785.6 577.1,785.7 577.6,785.7 578.1,785.7 578.6,785.8 579.1,785.8 579.6,785.8 580.1,785.8 580.6,785.9 581.1,785.9 581.6,785.9 582.1,786 582.6,786 583.1,786 583.6,786 584.1,786 584.6,786.1 585.1,786.1 585.6,786.1 586.1,786.1 586.6,786.1 587.1,786.2 587.6,786.2 588.1,786.2 588.6,786.2 589.1,786.2 589.6,786.3 590.1,786.3 590.6,786.3 591.1,786.3 591.6,786.3 592.1,786.3 592.6,786.3 593.1,786.3 593.6,786.3 594.1,786.3 594.6,786.3 595.1,786.3 595.6,786.3 596.1,786.3 596.6,786.3 597.1,786.3 597.6,786.3 598.1,786.3 598.6,786.3 599.1,786.3 599.6,786.3 600.1,786.3 600.6,786.3 601.1,786.3 601.6,786.3 602.1,786.3 602.6,786.2 603.1,786.2 603.6,786.2 604.1,786.2 604.6,786.2 605.1,786.2 605.6,786.2 606.1,786.2 606.6,786.2 607.1,786.2 607.6,786.1 608.1,786.1 608.6,786.1 609.1,786.1 609.6,786.1 610.1,786.1 610.6,786.1 611.1,786 611.6,786 612.1,786 612.6,786 613.1,786 613.6,786 614.1,785.9 614.6,785.9 615.1,785.9 615.6,785.9 616.1,785.8 616.6,785.8 617.1,785.8 617.6,785.8 618.1,785.7 618.6,785.7 619.1,785.7 619.6,785.6 620.1,785.6 620.6,785.6 621.1,785.5 621.6,785.5 622.1,785.4 622.6,785.4 623.1,785.3 623.6,785.2 624.1,785.2 624.6,785.1 625.1,785 625.6,785 626.1,784.9 626.6,784.8 627.1,784.8 627.6,784.7 628.1,784.6 628.6,784.6 629.1,784.5 629.6,784.4 630.1,784.4 630.6,784.3 631.1,784.2 631.6,784.2 632.1,784.1 632.6,784 633.1,784 633.6,783.9 634.1,783.8 634.6,783.8 635.1,783.7 635.6,783.6 636.1,783.6 636.6,783.5 637.1,783.4" fill="none" stroke="#ff0d0d" stroke-width="2.3" stroke-linejoin="round" stroke-linecap="butt"/>
<polyline points="93.2,996.1 93.7,996.1 94.2,996.1 94.7,996.1 95.2,996.1 95.7,996.1 96.2,996.1 96.7,996.1 97.2,996.1 97.7,996.1 98.2,996.1 98.7,996.1 99.2,996.1 99.7,996.1 100.2,996.1 100.7,996.1 101.2,996.1 101.7,996 102.2,996 102.7,996 103.2,996 103.7,996 104.2,996 104.7,996 105.2,996 105.7,996 106.2,996 106.7,996 107.2,996 107.7,996 108.2,996 108.7,996 109.2,996 109.7,995.9 110.2,995.9 110.7,995.9 111.2,995.9 111.7,995.9 112.2,995.9 112.7,995.9 113.2,995.9 113.7,995.9 114.2,995.9 114.7,995.9 115.2,995.9 115.7,995.9 116.2,995.8 116.7,995.8 117.2,995.8 117.7,995.8 118.2,995.8 118.7,995.8 119.2,995.8 119.7,995.8 120.2,995.8 120.7,995.8 121.2,995.8 121.7,995.8 122.2,995.8 122.7,995.7 123.2,995.7 123.7,995.7 124.2,995.7 124.7,995.7 125.2,995.7 125.7,995.7 126.2,995.7 126.7,995.7 127.2,995.7 127.7,995.7 128.2,995.6 128.7,995.6 129.2,995.6 129.7,995.6 130.2,995.6 130.7,995.6 131.2,995.6 131.7,995.6 132.2,995.6 132.7,995.6 133.2,995.5 133.7,995.5 134.2,995.5 134.7,995.5 135.2,995.5 135.7,995.5 136.2,995.5 136.7,995.5 137.2,995.5 137.7,995.4 138.2,995.4 138.7,995.4 139.2,995.4 139.7,995.4 140.2,995.4 140.7,995.4 141.2,995.4 141.7,995.4 142.2,995.3 142.7,995.3 143.2,995.3 143.7,995.3 144.2,995.3 144.7,995.3 145.2,995.3 145.7,995.3 146.2,995.3 146.7,995.2 147.2,995.2 147.7,995.2 148.2,995.2 148.7,995.2 149.2,995.2 149.7,995.2 150.2,995.2 150.7,995.2 151.2,995.1 151.7,995.1 152.2,995.1 152.7,995.1 153.2,995.1 153.7,995.1 154.2,995.1 154.7,995.1 155.2,995.1 155.7,995 156.2,995 156.7,995 157.2,995 157.7,995 158.2,995 158.7,995 159.2,995 159.7,994.9 160.2,994.9 160.7,994.9 161.2,994.9 161.7,994.9 162.2,994.9 162.7,994.9 163.2,994.8 163.7,994.8 164.2,994.8 164.7,994.8 165.2,994.8 165.7,994.8 166.2,994.8 166.7,994.7 167.2,994.7 167.7,994.7 168.2,994.7 168.7,994.7 169.2,994.7 169.7,994.6 170.2,994.6 170.7,994.6 171.2,994.6 171.7,994.6 172.2,994.5 172.7,994.5 173.2,994.5 173.7,994.5 174.2,994.4 174.7,994.4 175.2,994.4 175.7,994.4 176.2,994.3 176.7,994.3 177.2,994.3 177.7,994.2 178.2,994.2 178.7,994.2 179.2,994.1 179.7,994.1 180.2,994.1 180.7,994 181.2,994 181.7,994 182.2,993.9 182.7,993.9 183.3,993.9 183.8,993.8 184.3,993.8 184.8,993.7 185.3,993.7 185.8,993.7 186.3,993.6 186.8,993.6 187.3,993.5 187.8,993.5 188.3,993.4 188.8,993.4 189.3,993.3 189.8,993.3 190.3,993.2 190.8,993.2 191.3,993.1 191.8,993 192.3,992.9 192.8,992.9 193.3,992.8 193.8,992.6 194.3,992.5 194.8,992.3 195.3,992.1 195.8,992 196.3,991.8 196.8,991.6 197.3,991.4 197.8,991.1 198.3,990.9 198.8,990.7 199.3,990.5 199.8,990.3 200.3,990.1 200.8,990 201.3,989.8 201.8,989.6 202.3,989.4 202.8,989.2 203.3,989 203.8,988.8 204.3,988.6 204.8,988.4 205.3,988.2 205.8,988 206.3,987.8 206.8,987.7 207.3,987.5 207.8,987.3 208.3,987.1 208.8,987 209.3,986.8 209.8,986.6 210.3,986.5 210.8,986.3 211.3,986.2 211.8,986 212.3,985.9 212.8,985.7 213.3,985.5 213.8,985.4 214.3,985.2 214.8,985 215.3,984.8 215.8,984.7 216.3,984.5 216.8,984.3 217.3,984.2 217.8,984 218.3,983.8 218.8,983.6 219.3,983.4 219.8,983.2 220.3,982.9 220.8,982.6 221.3,982.3 221.8,981.9 222.3,981.3 222.8,980.6 223.3,979.9 223.8,979.1 224.3,978.3 224.8,977.6 225.3,976.8 225.8,976 226.3,975 226.8,974 227.3,972.8 227.8,971.5 228.3,970.1 228.8,968.6 229.3,967.2 229.8,965.6 230.3,964 230.8,962.3 231.3,960.5 231.8,958.7 232.3,956.7 232.8,954.5 233.3,952.4 233.8,950.3 234.3,948.4 234.8,946.6 235.3,944.7 235.8,942.7 236.3,940.4 236.8,937.9 237.3,935.3 237.8,932.7 238.3,929.8 238.8,925.7 239.3,920.1 239.8,913.5 240.3,906.8 240.8,900.8 241.3,895.9 241.8,892 242.3,889.8 242.8,888.4 243.3,887.7 243.8,887.4 244.3,887.6 244.8,888.7 245.3,889.9 245.8,891.3 246.3,892.9 246.8,894.5 247.3,895.8 247.8,897 248.3,898.2 248.8,899.3 249.3,900.4 249.8,901.6 250.3,902.8 250.8,904 251.3,905.2 251.8,906.3 252.3,907.4 252.8,908.4 253.3,909.4 253.8,910.4 254.3,911.2 254.8,912 255.3,912.8 255.8,913.5 256.3,913.7 256.8,913.6 257.3,913.3 257.8,912.9 258.3,912.3 258.8,911.8 259.3,911 259.8,910.1 260.3,909.2 260.8,908.3 261.3,907.3 261.8,906.3 262.3,905.3 262.8,904.3 263.3,903.3 263.8,902.2 264.3,901.3 264.8,900.3 265.3,899.3 265.8,898.4 266.3,897.4 266.8,896.4 267.3,895.3 267.8,894.1 268.3,892.8 268.8,891.4 269.3,890 269.8,888.5 270.3,887.1 270.8,885.6 271.3,884.1 271.8,882.7 272.3,881.3 272.8,879.9 273.3,878.5 273.8,877.1 274.3,875.7 274.8,874.3 275.3,872.9 275.8,871.5 276.3,870.1 276.8,868.7 277.3,867.3 277.8,865.9 278.3,864.4 278.8,863 279.3,861.6 279.8,860.2 280.3,858.8 280.8,857.3 281.3,855.9 281.8,854.5 282.3,853.1 282.8,851.7 283.3,850.3 283.8,849 284.3,847.5 284.8,846.1 285.3,844.7 285.8,843.2 286.3,841.7 286.8,840.2 287.3,838.6 287.8,837 288.3,835.4 288.8,833.7 289.3,832.1 289.8,830.5 290.3,828.9 290.8,827.3 291.3,825.6 291.8,824 292.3,822.4 292.8,820.7 293.3,819.1 293.8,817.5 294.3,816 294.8,814.5 295.3,813 295.8,811.6 296.3,810.2 296.8,808.8 297.3,807.4 297.8,806.1 298.3,804.7 298.8,803.3 299.3,801.9 299.8,800.5 300.3,799 300.8,797.5 301.3,796.1 301.8,794.7 302.3,793.3 302.8,792 303.3,790.8 303.8,789.6 304.3,788.4 304.9,787.3 305.4,786.2 305.9,785.2 306.4,784.1 306.9,783.1 307.4,782 307.9,780.9 308.4,779.8 308.9,778.6 309.4,777.5 309.9,776.4 310.4,775.3 310.9,774.2 311.4,773.1 311.9,772.1 312.4,771.1 312.9,770.1 313.4,769.1 313.9,768.1 314.4,767.1 314.9,766.1 315.4,765.1 315.9,764.1 316.4,763 316.9,762 317.4,760.9 317.9,759.9 318.4,759 318.9,758.2 319.4,757.4 319.9,756.6 320.4,755.9 320.9,755.2 321.4,754.7 321.9,754.2 322.4,753.7 322.9,753.3 323.4,753 323.9,752.6 324.4,752.3 324.9,752.1 325.4,751.8 325.9,751.6 326.4,751.4 326.9,751.1 327.4,750.9 327.9,750.7 328.4,750.6 328.9,750.4 329.4,750.2 329.9,750.1 330.4,749.9 330.9,749.8 331.4,749.6 331.9,749.5 332.4,749.3 332.9,749.1 333.4,749 333.9,748.8 334.4,748.6 334.9,748.5 335.4,748.3 335.9,748.1 336.4,747.9 336.9,747.6 337.4,747.4 337.9,747.1 338.4,746.8 338.9,746.5 339.4,746.1 339.9,745.8 340.4,745.5 340.9,745.1 341.4,744.7 341.9,744.4 342.4,744 342.9,743.7 343.4,743.3 343.9,742.9 344.4,742.6 344.9,742.2 345.4,741.8 345.9,741.5 346.4,741.1 346.9,740.7 347.4,740.3 347.9,739.9 348.4,739.5 348.9,739.1 349.4,738.6 349.9,738.2 350.4,737.7 350.9,737.2 351.4,736.7 351.9,736.2 352.4,735.8 352.9,735.3 353.4,734.9 353.9,734.6 354.4,734.2 354.9,733.9 355.4,733.5 355.9,733.2 356.4,732.9 356.9,732.6 357.4,732.3 357.9,732 358.4,731.8 358.9,731.5 359.4,731.3 359.9,731.2 360.4,731 360.9,730.8 361.4,730.7 361.9,730.5 362.4,730.4 362.9,730.2 363.4,730.1 363.9,730 364.4,729.9 364.9,729.9 365.4,729.8 365.9,729.8 366.4,729.9 366.9,729.9 367.4,730 367.9,730.1 368.4,730.2 368.9,730.4 369.4,730.5 369.9,730.6 370.4,730.8 370.9,731 371.4,731.2 371.9,731.4 372.4,731.7 372.9,732 373.4,732.3 373.9,732.6 374.4,733 374.9,733.5 375.4,734 375.9,734.7 376.4,735.3 376.9,736 377.4,736.8 377.9,737.4 378.4,738.2 378.9,738.9 379.4,739.6 379.9,740.4 380.4,741.2 380.9,742 381.4,742.8 381.9,743.5 382.4,744.3 382.9,745.2 383.4,746.1 383.9,747 384.4,748.2 384.9,749.4 385.4,750.7 385.9,752 386.4,753.3 386.9,754.6 387.4,755.9 387.9,757 388.4,758.1 388.9,759.2 389.4,760.2 389.9,761.2 390.4,762.1 390.9,763.1 391.4,764.1 391.9,765 392.4,766.1 392.9,767.1 393.4,768.2 393.9,769.3 394.4,770.4 394.9,771.4 395.4,772.4 395.9,773.3 396.4,774.1 396.9,774.7 397.4,775.4 397.9,776 398.4,776.5 398.9,777.1 399.4,777.6 399.9,778.1 400.4,778.6 400.9,779.1 401.4,779.6 401.9,780 402.4,780.5 402.9,780.9 403.4,781.4 403.9,781.8 404.4,782.2 404.9,782.6 405.4,782.9 405.9,783.3 406.4,783.7 406.9,784 407.4,784.4 407.9,784.7 408.4,785 408.9,785.3 409.4,785.6 409.9,785.9 410.4,786.2 410.9,786.5 411.4,786.8 411.9,787 412.4,787.3 412.9,787.6 413.4,787.8 413.9,788 414.4,788.3 414.9,788.5 415.4,788.6 415.9,788.8 416.4,789 416.9,789.1 417.4,789.3 417.9,789.4 418.4,789.6 418.9,789.7 419.4,789.8 419.9,790 420.4,790.1 420.9,790.2 421.4,790.3 421.9,790.4 422.4,790.5 422.9,790.6 423.4,790.7 423.9,790.8 424.4,790.9 424.9,791 425.4,791.1 425.9,791.2 426.5,791.3 427,791.3 427.5,791.4 428,791.5 428.5,791.6 429,791.6 429.5,791.7 430,791.8 430.5,791.8 431,791.9 431.5,791.9 432,792 432.5,792 433,792.1 433.5,792.1 434,792.2 434.5,792.2 435,792.3 435.5,792.3 436,792.4 436.5,792.4 437,792.5 437.5,792.5 438,792.5 438.5,792.6 439,792.6 439.5,792.7 440,792.7 440.5,792.7 441,792.8 441.5,792.8 442,792.8 442.5,792.9 443,792.9 443.5,792.9 444,793 444.5,793 445,793 445.5,793.1 446,793.1 446.5,793.1 447,793.2 447.5,793.2 448,793.2 448.5,793.3 449,793.3 449.5,793.3 450,793.4 450.5,793.4 451,793.5 451.5,793.5 452,793.5 452.5,793.6 453,793.6 453.5,793.7 454,793.7 454.5,793.8 455,793.8 455.5,793.9 456,793.9 456.5,794 457,794.1 457.5,794.1 458,794.2 458.5,794.3 459,794.3 459.5,794.4 460,794.5 460.5,794.6 461,794.7 461.5,794.8 462,794.9 462.5,795 463,795.1 463.5,795.2 464,795.3 464.5,795.4 465,795.5 465.5,795.7 466,795.8 466.5,795.9 467,796.1 467.5,796.3 468,796.4 468.5,796.6 469,796.8 469.5,797.1 470,797.3 470.5,797.5 471,797.8 471.5,798 472,798.2 472.5,798.5 473,798.7 473.5,799 474,799.2 474.5,799.5 475,799.7 475.5,800 476,800.2 476.5,800.4 477,800.7 477.5,800.9 478,801.2 478.5,801.4 479,801.7 479.5,801.9 480,802.2 480.5,802.5 481,802.7 481.5,803 482,803.2 482.5,803.5 483,803.7 483.5,804 484,804.2 484.5,804.5 485,804.7 485.5,805 486,805.3 486.5,805.5 487,805.8 487.5,806 488,806.3 488.5,806.5 489,806.8 489.5,807 490,807.2 490.5,807.4 491,807.7 491.5,807.9 492,808.1 492.5,808.3 493,808.5 493.5,808.7 494,808.9 494.5,809.1 495,809.2 495.5,809.4 496,809.6 496.5,809.7 497,809.9 497.5,810 498,810.1 498.5,810.3 499,810.4 499.5,810.5 500,810.7 500.5,810.8 501,810.9 501.5,811 502,811 502.5,811.1 503,811.2 503.5,811.2 504,811.3 504.5,811.4 505,811.4 505.5,811.5 506,811.5 506.5,811.5 507,811.5 507.5,811.5 508,811.5 508.5,811.5 509,811.5 509.5,811.5 510,811.4 510.5,811.4 511,811.3 511.5,811.3 512,811.2 512.5,811.2 513,811.1 513.5,811 514,811 514.5,810.9 515,810.8 515.5,810.6 516,810.5 516.5,810.4 517,810.3 517.5,810.1 518,810 518.5,809.8 519,809.6 519.5,809.4 520,809.2 520.5,809 521,808.8 521.5,808.6 522,808.3 522.5,808.1 523,807.9 523.5,807.7 524,807.4 524.5,807.2 525,807 525.5,806.7 526,806.5 526.5,806.2 527,805.9 527.5,805.6 528,805.3 528.5,805 529,804.6 529.5,804.3 530,803.9 530.5,803.5 531,803.1 531.5,802.7 532,802.3 532.5,802 533,801.6 533.5,801.2 534,800.8 534.5,800.4 535,800 535.5,799.7 536,799.3 536.5,798.9 537,798.5 537.5,798.1 538,797.7 538.5,797.4 539,797 539.5,796.6 540,796.2 540.5,795.9 541,795.5 541.5,795.1 542,794.8 542.5,794.4 543,794.1 543.5,793.8 544,793.4 544.5,793.1 545,792.8 545.5,792.4 546,792.1 546.5,791.8 547,791.6 547.5,791.3 548.1,791.1 548.6,790.9 549.1,790.7 549.6,790.5 550.1,790.3 550.6,790.2 551.1,790 551.6,789.9 552.1,789.7 552.6,789.6 553.1,789.4 553.6,789.3 554.1,789.1 554.6,789 555.1,788.9 555.6,788.8 556.1,788.6 556.6,788.5 557.1,788.4 557.6,788.3 558.1,788.2 558.6,788.2 559.1,788.1 559.6,788 560.1,788 560.6,787.9 561.1,787.8 561.6,787.8 562.1,787.7 562.6,787.7 563.1,787.6 563.6,787.6 564.1,787.6 564.6,787.5 565.1,787.5 565.6,787.5 566.1,787.5 566.6,787.5 567.1,787.4 567.6,787.4 568.1,787.4 568.6,787.4 569.1,787.4 569.6,787.4 570.1,787.4 570.6,787.4 571.1,787.4 571.6,787.4 572.1,787.4 572.6,787.4 573.1,787.4 573.6,787.4 574.1,787.4 574.6,787.4 575.1,787.4 575.6,787.5 576.1,787.5 576.6,787.5 577.1,787.6 577.6,787.6 578.1,787.6 578.6,787.7 579.1,787.7 579.6,787.7 580.1,787.7 580.6,787.8 581.1,787.8 581.6,787.8 582.1,787.8 582.6,787.9 583.1,787.9 583.6,787.9 584.1,787.9 584.6,787.9 585.1,787.9 585.6,787.9 586.1,787.9 586.6,787.9 587.1,788 587.6,788 588.1,788 588.6,788 589.1,788 589.6,788 590.1,788 590.6,788 591.1,788 591.6,788 592.1,788 592.6,788 593.1,788 593.6,788 594.1,788 594.6,788 595.1,788 595.6,788 596.1,788 596.6,788 597.1,788 597.6,787.9 598.1,787.9 598.6,787.9 599.1,787.8 599.6,787.8 600.1,787.8 600.6,787.7 601.1,787.7 601.6,787.6 602.1,787.6 602.6,787.5 603.1,787.5 603.6,787.5 604.1,787.4 604.6,787.4 605.1,787.3 605.6,787.3 606.1,787.2 606.6,787.2 607.1,787.2 607.6,787.1 608.1,787.1 608.6,787 609.1,787 609.6,787 610.1,786.9 610.6,786.9 611.1,786.8 611.6,786.8 612.1,786.7 612.6,786.7 613.1,786.7 613.6,786.6 614.1,786.6 614.6,786.5 615.1,786.5 615.6,786.4 616.1,786.4 616.6,786.3 617.1,786.3 617.6,786.2 618.1,786.2 618.6,786.1 619.1,786 619.6,786 620.1,785.9 620.6,785.9 621.1,785.8 621.6,785.7 622.1,785.7 622.6,785.6 623.1,785.5 623.6,785.5 624.1,785.4 624.6,785.3 625.1,785.2 625.6,785.2 626.1,785.1 626.6,785 627.1,784.9 627.6,784.9 628.1,784.8 628.6,784.7 629.1,784.7 629.6,784.6 630.1,784.5 630.6,784.4 631.1,784.4 631.6,784.3 632.1,784.2 632.6,784.1 633.1,784.1 633.6,784 634.1,783.9 634.6,783.8 635.1,783.7 635.6,783.7 636.1,783.6 636.6,783.5 637.1,783.4" fill="none" stroke="#4a0af2" stroke-width="2.3" stroke-linejoin="round" stroke-linecap="butt"/>
<ellipse cx="249.2" cy="905" rx="38" ry="48.2" fill="none" stroke="#ff1010" stroke-width="2" stroke-dasharray="13.5 8.5" stroke-dashoffset="4"/>
<rect x="92.9" y="602" width="544.5" height="439" fill="none" stroke="#000" stroke-width="2.1"/>
<line x1="88.7" y1="1040.6" x2="92.9" y2="1040.6" stroke="#000" stroke-width="2.1"/>
<line x1="84.5" y1="996.7" x2="92.9" y2="996.7" stroke="#000" stroke-width="2.1"/>
<line x1="88.7" y1="952.8" x2="92.9" y2="952.8" stroke="#000" stroke-width="2.1"/>
<line x1="84.5" y1="909" x2="92.9" y2="909" stroke="#000" stroke-width="2.1"/>
<line x1="88.7" y1="865.1" x2="92.9" y2="865.1" stroke="#000" stroke-width="2.1"/>
<line x1="84.5" y1="821.3" x2="92.9" y2="821.3" stroke="#000" stroke-width="2.1"/>
<line x1="88.7" y1="777.4" x2="92.9" y2="777.4" stroke="#000" stroke-width="2.1"/>
<line x1="84.5" y1="733.5" x2="92.9" y2="733.5" stroke="#000" stroke-width="2.1"/>
<line x1="88.7" y1="689.7" x2="92.9" y2="689.7" stroke="#000" stroke-width="2.1"/>
<line x1="84.5" y1="645.8" x2="92.9" y2="645.8" stroke="#000" stroke-width="2.1"/>
<line x1="88.7" y1="602" x2="92.9" y2="602" stroke="#000" stroke-width="2.1"/>
<text x="78.9" y="1005.7" font-size="27.4" text-anchor="end">0.0</text>
<text x="78.9" y="918" font-size="27.4" text-anchor="end">0.4</text>
<text x="78.9" y="830.3" font-size="27.4" text-anchor="end">0.8</text>
<text x="78.9" y="742.5" font-size="27.4" text-anchor="end">1.2</text>
<text x="78.9" y="654.8" font-size="27.4" text-anchor="end">1.6</text>
<line x1="92.8" y1="1041" x2="92.8" y2="1045.2" stroke="#000" stroke-width="2.1"/>
<line x1="153.3" y1="1041" x2="153.3" y2="1049.4" stroke="#000" stroke-width="2.1"/>
<line x1="213.8" y1="1041" x2="213.8" y2="1045.2" stroke="#000" stroke-width="2.1"/>
<line x1="274.3" y1="1041" x2="274.3" y2="1049.4" stroke="#000" stroke-width="2.1"/>
<line x1="334.8" y1="1041" x2="334.8" y2="1045.2" stroke="#000" stroke-width="2.1"/>
<line x1="395.3" y1="1041" x2="395.3" y2="1049.4" stroke="#000" stroke-width="2.1"/>
<line x1="455.8" y1="1041" x2="455.8" y2="1045.2" stroke="#000" stroke-width="2.1"/>
<line x1="516.3" y1="1041" x2="516.3" y2="1049.4" stroke="#000" stroke-width="2.1"/>
<line x1="576.8" y1="1041" x2="576.8" y2="1045.2" stroke="#000" stroke-width="2.1"/>
<line x1="637.3" y1="1041" x2="637.3" y2="1049.4" stroke="#000" stroke-width="2.1"/>
<text x="152.8" y="1075.9" font-size="27.4" text-anchor="middle">7700</text>
<text x="273.8" y="1075.9" font-size="27.4" text-anchor="middle">7720</text>
<text x="394.8" y="1075.9" font-size="27.4" text-anchor="middle">7740</text>
<text x="515.8" y="1075.9" font-size="27.4" text-anchor="middle">7760</text>
<text x="636.8" y="1075.9" font-size="27.4" text-anchor="middle">7780</text>
<text x="301" y="1118.3" font-size="27.4" textLength="144.6" lengthAdjust="spacing">Energy (eV)</text>
<text font-size="27.4" transform="translate(21.3 1027.7) rotate(-90)" textLength="412.3" lengthAdjust="spacing">Normalized Absorption (arb. units)</text>
<text x="19.4" y="600.7" font-size="43" font-weight="bold">d</text>
<line x1="440.2" y1="623.9" x2="492.7" y2="623.9" stroke="#dfb6fb" stroke-width="2.1"/>
<text x="499.6" y="631.6" font-size="23.4">Co foil</text>
<line x1="440.2" y1="652.5" x2="492.7" y2="652.5" stroke="#98e52d" stroke-width="2.1"/>
<text x="499.6" y="660.5" font-size="23.4">Co<tspan dy="6" font-size="15.5">3</tspan><tspan dy="-6">O</tspan><tspan dy="6" font-size="15.5">4</tspan></text>
<line x1="440.2" y1="686.1" x2="492.7" y2="686.1" stroke="#4a0af2" stroke-width="2.3"/>
<text x="499.6" y="694.2" font-size="23.4">CoPc</text>
<line x1="440.2" y1="714.7" x2="492.7" y2="714.7" stroke="#ff0d0d" stroke-width="2.3"/>
<text x="499.6" y="723" font-size="23.4">CoPc-OCNT</text>
<clipPath id="ce"><rect x="768.8" y="601.9" width="544.3" height="439.7"/></clipPath>
<g clip-path="url(#ce)">
<polyline points="768.8,1035.8 769.3,1035.9 769.8,1035.9 770.3,1035.9 770.8,1035.9 771.3,1035.9 771.8,1035.9 772.3,1035.9 772.8,1036 773.3,1036 773.8,1036 774.3,1036 774.8,1036 775.3,1036 775.8,1036 776.3,1036 776.8,1036 777.3,1036 777.8,1036.1 778.3,1036.1 778.8,1036.1 779.3,1036.1 779.8,1036.1 780.3,1036.1 780.8,1036.1 781.3,1036.1 781.8,1036.1 782.3,1036.1 782.8,1036.1 783.3,1036.1 783.8,1036.1 784.3,1036.1 784.8,1036.1 785.3,1036.1 785.8,1036.1 786.3,1036.1 786.8,1036.1 787.3,1036.1 787.8,1036.1 788.3,1036.1 788.8,1036.1 789.3,1036.1 789.8,1036 790.3,1036 790.8,1036 791.3,1036 791.8,1036 792.3,1036 792.8,1036 793.3,1036 793.8,1036 794.3,1036 794.8,1036 795.3,1036 795.8,1035.9 796.3,1035.9 796.8,1035.9 797.3,1035.9 797.8,1035.9 798.3,1035.9 798.8,1035.9 799.3,1035.8 799.8,1035.8 800.3,1035.8 800.8,1035.7 801.3,1035.6 801.8,1035.4 802.3,1035.3 802.8,1035.1 803.3,1035 803.8,1034.8 804.3,1034.6 804.8,1034.5 805.3,1034.3 805.8,1034.2 806.3,1034.1 806.8,1033.9 807.3,1033.8 807.8,1033.7 808.3,1033.5 808.8,1033.4 809.3,1033.3 809.8,1033.2 810.3,1033 810.8,1032.9 811.3,1032.8 811.8,1032.8 812.3,1032.7 812.8,1032.7 813.3,1032.7 813.8,1032.8 814.3,1032.9 814.8,1033.1 815.3,1033.4 815.8,1033.7 816.3,1034 816.8,1034.3 817.3,1034.6 817.8,1034.9 818.3,1035.3 818.8,1035.6 819.3,1036 819.8,1036.4 820.3,1036.9 820.8,1037.4 821.3,1037.9 821.8,1038.3 822.3,1038.7 822.8,1039 823.3,1039.3 823.8,1039.3 824.3,1039.3 824.8,1039.1 825.3,1038.8 825.8,1038.4 826.3,1037.9 826.8,1037.4 827.3,1037 827.8,1036.5 828.3,1036.1 828.8,1035.7 829.3,1035.4 829.8,1035.1 830.3,1034.7 830.8,1034.4 831.3,1034.1 831.8,1033.8 832.3,1033.6 832.8,1033.4 833.3,1033.2 833.8,1033.1 834.3,1033 834.8,1033 835.3,1032.9 835.8,1032.8 836.3,1032.8 836.8,1032.7 837.3,1032.7 837.8,1032.6 838.3,1032.6 838.8,1032.5 839.3,1032.5 839.8,1032.4 840.3,1032.4 840.8,1032.3 841.3,1032.2 841.8,1032.2 842.3,1032.1 842.8,1031.9 843.3,1031.7 843.8,1031.5 844.3,1031.2 844.8,1030.9 845.3,1030.6 845.8,1030.3 846.3,1030 846.8,1029.7 847.3,1029.5 847.8,1029.3 848.3,1029.1 848.8,1028.8 849.3,1028.6 849.8,1028.4 850.3,1028.2 850.8,1028 851.3,1027.8 851.8,1027.7 852.3,1027.7 852.8,1027.7 853.3,1027.9 853.8,1028.1 854.4,1028.5 854.9,1028.9 855.4,1029.4 855.9,1029.8 856.4,1030.4 856.9,1030.9 857.4,1031.6 857.9,1032.5 858.4,1033.4 858.9,1034.2 859.4,1035.1 859.9,1035.9 860.4,1036.9 860.9,1037.8 861.4,1038.5 861.9,1038.8 862.4,1038.7 862.9,1037.8 863.4,1036.4 863.9,1034.8 864.4,1033 864.9,1031.5 865.4,1029.8 865.9,1028.1 866.4,1026.3 866.9,1024.4 867.4,1022.5 867.9,1020.7 868.4,1018.8 868.9,1016.8 869.4,1014.9 869.9,1012.9 870.4,1011.1 870.9,1009.3 871.4,1007.5 871.9,1005.6 872.4,1003.7 872.9,1002 873.4,1000.4 873.9,999.1 874.4,998.1 874.9,997.2 875.4,996.5 875.9,995.8 876.4,995.3 876.9,994.9 877.4,994.7 877.9,994.4 878.4,994.2 878.9,994.1 879.4,994 879.9,994.1 880.4,994.4 880.9,994.9 881.4,995.3 881.9,995.5 882.4,995.6 882.9,995.7 883.4,995.7 883.9,995.7 884.4,995.4 884.9,994.5 885.4,993.4 885.9,992.3 886.4,990.9 886.9,989.1 887.4,987 887.9,984.6 888.4,981.5 888.9,977.7 889.4,973.4 889.9,968.9 890.4,963.7 890.9,958.3 891.4,953.2 891.9,948.4 892.4,943.7 892.9,938.9 893.4,933.8 893.9,928.7 894.4,923.3 894.9,917.4 895.4,911.1 895.9,904.4 896.4,897.4 896.9,890.1 897.4,882.5 897.9,874.6 898.4,866.5 898.9,857.8 899.4,848.7 899.9,839.2 900.4,829.6 900.9,820.1 901.4,810.6 901.9,801.4 902.4,792 902.9,782.5 903.4,773.1 903.9,763.9 904.4,754.9 904.9,746.1 905.4,737.6 905.9,729 906.4,720.6 906.9,712.4 907.4,704.7 907.9,697.5 908.4,691 908.9,684.9 909.4,679 909.9,673.5 910.4,668.3 910.9,663.6 911.4,659.4 911.9,655.8 912.4,652.4 912.9,649.3 913.4,646.5 913.9,644.1 914.4,642.2 914.9,640.5 915.4,638.9 915.9,637.7 916.4,637.1 916.9,637.3 917.4,637.8 917.9,638.5 918.4,639.4 918.9,640.7 919.4,642.8 919.9,645.6 920.4,648.8 920.9,652.4 921.4,656 921.9,660.4 922.4,665.4 922.9,671 923.4,676.9 923.9,683 924.4,689.4 924.9,696.2 925.4,703.5 925.9,711.1 926.4,718.9 926.9,726.7 927.4,734.6 927.9,742.5 928.4,750.7 928.9,759 929.4,767.5 929.9,775.9 930.4,784.3 930.9,792.7 931.4,801.2 931.9,809.8 932.4,818.4 932.9,826.9 933.4,835.1 933.9,842.8 934.4,850.1 934.9,857 935.4,863.6 935.9,869.9 936.4,876.2 936.9,882.3 937.4,888.5 937.9,894.6 938.4,900.5 938.9,906.3 939.4,912.3 939.9,918.6 940.4,925.6 940.9,933.1 941.4,940.9 941.9,948.5 942.4,955.5 942.9,961.9 943.4,968.1 943.9,974.2 944.4,980.5 944.9,986.8 945.4,993 945.9,999.2 946.4,1005.4 946.9,1011.3 947.4,1016.5 947.9,1021.3 948.4,1025.4 948.9,1028.9 949.4,1031.9 949.9,1034.2 950.4,1036.2 950.9,1036.6 951.4,1035.6 951.9,1033.9 952.4,1032.1 952.9,1030.6 953.4,1029 953.9,1027.4 954.4,1026 954.9,1024.6 955.4,1023.3 955.9,1022 956.4,1020.9 956.9,1019.9 957.4,1018.8 957.9,1017.8 958.4,1016.9 958.9,1016.3 959.4,1016.2 959.9,1016.2 960.4,1016.2 960.9,1016.3 961.4,1016.3 961.9,1016.4 962.4,1016.5 962.9,1016.6 963.4,1016.7 963.9,1016.9 964.4,1017.1 964.9,1017.3 965.4,1017.6 965.9,1017.9 966.4,1018.3 966.9,1018.7 967.4,1019.3 967.9,1019.9 968.4,1020.6 968.9,1021.4 969.4,1022.1 969.9,1022.7 970.4,1023.3 970.9,1024 971.4,1024.7 971.9,1025.5 972.4,1026.2 972.9,1026.9 973.4,1027.4 973.9,1027.8 974.4,1028.1 974.9,1027.9 975.4,1027.2 975.9,1026 976.4,1024.6 976.9,1023.3 977.4,1022 977.9,1020.8 978.4,1019.4 978.9,1018 979.4,1016.5 979.9,1014.9 980.4,1013.1 980.9,1011.1 981.4,1009 981.9,1006.8 982.4,1004.7 982.9,1002.6 983.4,1000.5 983.9,998.3 984.4,996.1 984.9,993.9 985.4,991.8 985.9,989.9 986.4,988.3 986.9,986.9 987.4,985.5 987.9,984.2 988.4,983 988.9,981.9 989.4,980.8 989.9,979.9 990.4,979.1 990.9,978.4 991.4,977.8 991.9,977.3 992.4,976.7 992.9,976.2 993.4,975.8 993.9,975.4 994.4,975.1 994.9,974.8 995.4,974.7 995.9,974.7 996.4,974.9 996.9,975.2 997.4,975.7 997.9,976.2 998.4,976.8 998.9,977.4 999.4,977.9 999.9,978.5 1000.4,979.1 1000.9,979.8 1001.4,980.4 1001.9,981.2 1002.4,982 1002.9,982.8 1003.4,983.7 1003.9,984.7 1004.4,985.9 1004.9,987.2 1005.4,988.7 1005.9,990.2 1006.4,991.7 1006.9,993 1007.4,994.2 1007.9,995.4 1008.4,996.7 1008.9,997.8 1009.4,998.9 1009.9,1000 1010.4,1000.9 1010.9,1001.6 1011.4,1002.3 1011.9,1003 1012.4,1003.7 1012.9,1004.3 1013.4,1004.7 1013.9,1005 1014.4,1005.1 1014.9,1004.9 1015.4,1004.3 1015.9,1003.5 1016.4,1002.4 1016.9,1001.3 1017.4,1000.1 1017.9,999 1018.4,997.9 1018.9,996.7 1019.4,995.4 1019.9,994 1020.4,992.6 1020.9,991.1 1021.4,989.5 1021.9,987.8 1022.4,986.1 1022.9,984.1 1023.4,982.1 1023.9,979.9 1024.5,977.7 1025,975.4 1025.5,973 1026,970.7 1026.5,968.3 1027,966 1027.5,963.7 1028,961.4 1028.5,959 1029,956.6 1029.5,954.1 1030,951.7 1030.5,949.3 1031,947 1031.5,944.8 1032,942.6 1032.5,940.6 1033,938.6 1033.5,936.6 1034,934.6 1034.5,932.7 1035,930.9 1035.5,929.2 1036,927.7 1036.5,926.3 1037,925.1 1037.5,924 1038,922.9 1038.5,921.9 1039,920.8 1039.5,919.9 1040,919.1 1040.5,918.5 1041,918 1041.5,917.8 1042,917.9 1042.5,918.2 1043,918.7 1043.5,919.4 1044,920.2 1044.5,921.2 1045,922.2 1045.5,923.3 1046,924.4 1046.5,925.5 1047,926.6 1047.5,927.9 1048,929.4 1048.5,930.9 1049,932.6 1049.5,934.3 1050,936.1 1050.5,937.8 1051,939.6 1051.5,941.5 1052,943.4 1052.5,945.5 1053,947.6 1053.5,949.7 1054,951.8 1054.5,953.8 1055,955.6 1055.5,957.5 1056,959.4 1056.5,961.2 1057,962.9 1057.5,964.5 1058,965.9 1058.5,967.3 1059,968.6 1059.5,969.9 1060,971.1 1060.5,972.1 1061,973 1061.5,973.7 1062,974.3 1062.5,974.8 1063,975.3 1063.5,975.7 1064,975.8 1064.5,975.7 1065,975.4 1065.5,974.8 1066,974.1 1066.5,973.3 1067,972.5 1067.5,971.7 1068,970.9 1068.5,970.1 1069,969.2 1069.5,968.2 1070,967.2 1070.5,966.2 1071,965.3 1071.5,964.3 1072,963.4 1072.5,962.5 1073,961.5 1073.5,960.6 1074,959.6 1074.5,958.7 1075,957.9 1075.5,957.1 1076,956.4 1076.5,955.9 1077,955.3 1077.5,954.8 1078,954.3 1078.5,953.8 1079,953.3 1079.5,952.9 1080,952.5 1080.5,952.2 1081,952 1081.5,951.9 1082,951.9 1082.5,952 1083,952.1 1083.5,952.3 1084,952.5 1084.5,952.8 1085,953.1 1085.5,953.4 1086,953.8 1086.5,954.1 1087,954.5 1087.5,954.9 1088,955.5 1088.5,956.1 1089,956.7 1089.5,957.4 1090,958.2 1090.5,958.9 1091,959.8 1091.5,960.7 1092,961.8 1092.5,963 1093,964.2 1093.5,965.5 1094,966.7 1094.5,968 1095,969.2 1095.5,970.5 1096,971.8 1096.5,973.1 1097,974.4 1097.5,975.8 1098,977.2 1098.5,978.6 1099,980 1099.5,981.6 1100,983.1 1100.5,984.7 1101,986.4 1101.5,988 1102,989.6 1102.5,991.2 1103,992.7 1103.5,994.2 1104,995.7 1104.5,997.2 1105,998.7 1105.5,1000.2 1106,1001.6 1106.5,1003 1107,1004.4 1107.5,1005.7 1108,1006.9 1108.5,1008.2 1109,1009.5 1109.5,1010.7 1110,1011.9 1110.5,1013 1111,1014.1 1111.5,1015.1 1112,1016.1 1112.5,1017 1113,1018 1113.5,1018.9 1114,1019.8 1114.5,1020.6 1115,1021.3 1115.5,1021.9 1116,1022.4 1116.5,1022.8 1117,1023.2 1117.5,1023.6 1118,1023.9 1118.5,1024.2 1119,1024.3 1119.5,1024.3 1120,1024.3 1120.5,1024.2 1121,1024.1 1121.5,1023.9 1122,1023.8 1122.5,1023.7 1123,1023.5 1123.5,1023.4 1124,1023.3 1124.5,1023.2 1125,1023.1 1125.5,1023 1126,1022.9 1126.5,1022.8 1127,1022.8 1127.5,1022.7 1128,1022.6 1128.5,1022.6 1129,1022.6 1129.5,1022.6 1130,1022.6 1130.5,1022.7 1131,1022.8 1131.5,1022.9 1132,1023.1 1132.5,1023.3 1133,1023.5 1133.5,1023.7 1134,1023.9 1134.5,1024.2 1135,1024.4 1135.5,1024.6 1136,1024.9 1136.5,1025.2 1137,1025.5 1137.5,1025.8 1138,1026.2 1138.5,1026.5 1139,1026.9 1139.5,1027.2 1140,1027.6 1140.5,1028 1141,1028.4 1141.5,1028.8 1142,1029.3 1142.5,1029.7 1143,1030.1 1143.5,1030.5 1144,1030.9 1144.5,1031.3 1145,1031.7 1145.5,1032 1146,1032.4 1146.5,1032.7 1147,1033.1 1147.5,1033.4 1148,1033.8 1148.5,1034.1 1149,1034.5 1149.5,1035 1150,1035.5 1150.5,1036 1151,1036.6 1151.5,1037 1152,1037.5 1152.5,1037.9 1153,1038.1 1153.5,1038.3 1154,1038.3 1154.5,1038.3 1155,1038.1 1155.5,1037.9 1156,1037.7 1156.5,1037.4 1157,1037.1 1157.5,1036.8 1158,1036.4 1158.5,1036.1 1159,1035.8 1159.5,1035.6 1160,1035.3 1160.5,1035.1 1161,1034.9 1161.5,1034.7 1162,1034.5 1162.5,1034.3 1163,1034.1 1163.5,1033.9 1164,1033.7 1164.5,1033.6 1165,1033.4 1165.5,1033.3 1166,1033.3 1166.5,1033.2 1167,1033.2 1167.5,1033.2 1168,1033.2 1168.5,1033.2 1169,1033.3 1169.5,1033.3 1170,1033.3 1170.5,1033.3 1171,1033.4 1171.5,1033.4 1172,1033.4 1172.5,1033.5 1173,1033.5 1173.5,1033.6 1174,1033.6 1174.5,1033.6 1175,1033.7 1175.5,1033.7 1176,1033.7 1176.5,1033.8 1177,1033.8 1177.5,1033.9 1178,1033.9 1178.5,1034 1179,1034 1179.5,1034.1 1180,1034.1 1180.5,1034.2 1181,1034.2 1181.5,1034.2 1182,1034.3 1182.5,1034.3 1183,1034.3 1183.5,1034.3 1184,1034.3 1184.5,1034.3 1185,1034.3 1185.5,1034.2 1186,1034.1 1186.5,1034 1187,1033.9 1187.5,1033.8 1188,1033.7 1188.5,1033.6 1189,1033.5 1189.5,1033.4 1190,1033.2 1190.5,1033.1 1191,1033 1191.5,1032.9 1192,1032.8 1192.5,1032.7 1193,1032.7 1193.5,1032.6 1194,1032.5 1194.6,1032.4 1195.1,1032.3 1195.6,1032.2 1196.1,1032.1 1196.6,1032.1 1197.1,1032 1197.6,1031.9 1198.1,1031.8 1198.6,1031.8 1199.1,1031.7 1199.6,1031.7 1200.1,1031.6 1200.6,1031.6 1201.1,1031.6 1201.6,1031.6 1202.1,1031.5 1202.6,1031.5 1203.1,1031.5 1203.6,1031.5 1204.1,1031.5 1204.6,1031.5 1205.1,1031.5 1205.6,1031.5 1206.1,1031.4 1206.6,1031.4 1207.1,1031.4 1207.6,1031.4 1208.1,1031.4 1208.6,1031.4 1209.1,1031.4 1209.6,1031.4 1210.1,1031.4 1210.6,1031.3 1211.1,1031.3 1211.6,1031.3 1212.1,1031.3 1212.6,1031.3 1213.1,1031.2 1213.6,1031.2 1214.1,1031.2 1214.6,1031.2 1215.1,1031.1 1215.6,1031.1 1216.1,1031.1 1216.6,1031 1217.1,1031 1217.6,1030.9 1218.1,1030.9 1218.6,1030.9 1219.1,1030.8 1219.6,1030.7 1220.1,1030.7 1220.6,1030.6 1221.1,1030.5 1221.6,1030.4 1222.1,1030.2 1222.6,1030.1 1223.1,1029.9 1223.6,1029.7 1224.1,1029.6 1224.6,1029.4 1225.1,1029.2 1225.6,1028.9 1226.1,1028.6 1226.6,1028.3 1227.1,1028 1227.6,1027.7 1228.1,1027.3 1228.6,1026.9 1229.1,1026.5 1229.6,1026 1230.1,1025.5 1230.6,1024.9 1231.1,1024.3 1231.6,1023.8 1232.1,1023.2 1232.6,1022.7 1233.1,1022.2 1233.6,1021.7 1234.1,1021.2 1234.6,1020.6 1235.1,1020.1 1235.6,1019.6 1236.1,1019.1 1236.6,1018.6 1237.1,1018.1 1237.6,1017.7 1238.1,1017.2 1238.6,1016.8 1239.1,1016.3 1239.6,1015.9 1240.1,1015.5 1240.6,1015.1 1241.1,1014.6 1241.6,1014.2 1242.1,1013.8 1242.6,1013.4 1243.1,1013.1 1243.6,1012.7 1244.1,1012.4 1244.6,1012.1 1245.1,1011.8 1245.6,1011.5 1246.1,1011.2 1246.6,1010.9 1247.1,1010.6 1247.6,1010.3 1248.1,1010.1 1248.6,1009.8 1249.1,1009.7 1249.6,1009.5 1250.1,1009.4 1250.6,1009.4 1251.1,1009.4 1251.6,1009.5 1252.1,1009.5 1252.6,1009.6 1253.1,1009.7 1253.6,1009.8 1254.1,1010 1254.6,1010.1 1255.1,1010.3 1255.6,1010.4 1256.1,1010.6 1256.6,1010.8 1257.1,1011 1257.6,1011.3 1258.1,1011.6 1258.6,1012 1259.1,1012.3 1259.6,1012.7 1260.1,1013.1 1260.6,1013.5 1261.1,1014 1261.6,1014.4 1262.1,1014.9 1262.6,1015.5 1263.1,1016 1263.6,1016.6 1264.1,1017.2 1264.6,1017.8 1265.1,1018.4 1265.6,1019 1266.1,1019.6 1266.6,1020.2 1267.1,1020.8 1267.6,1021.5 1268.1,1022.1 1268.6,1022.7 1269.1,1023.4 1269.6,1024 1270.1,1024.7 1270.6,1025.3 1271.1,1025.9 1271.6,1026.5 1272.1,1027.1 1272.6,1027.6 1273.1,1028.2 1273.6,1028.7 1274.1,1029.2 1274.6,1029.7 1275.1,1030.2 1275.6,1030.7 1276.1,1031.1 1276.6,1031.5 1277.1,1031.9 1277.6,1032.2 1278.1,1032.6 1278.6,1032.9 1279.1,1033.2 1279.6,1033.5 1280.1,1033.7 1280.6,1033.9 1281.1,1034.1 1281.6,1034.2 1282.1,1034.3 1282.6,1034.4 1283.1,1034.4 1283.6,1034.5 1284.1,1034.6 1284.6,1034.6 1285.1,1034.7 1285.6,1034.8 1286.1,1034.8 1286.6,1034.9 1287.1,1034.9 1287.6,1034.9 1288.1,1034.9 1288.6,1035 1289.1,1035 1289.6,1035 1290.1,1035 1290.6,1034.9 1291.1,1034.9 1291.6,1034.9 1292.1,1034.9 1292.6,1034.8 1293.1,1034.8 1293.6,1034.8 1294.1,1034.7 1294.6,1034.7 1295.1,1034.7 1295.6,1034.6 1296.1,1034.6 1296.6,1034.5 1297.1,1034.5 1297.6,1034.5 1298.1,1034.4 1298.6,1034.4 1299.1,1034.4 1299.6,1034.3 1300.1,1034.3 1300.6,1034.3 1301.1,1034.3 1301.6,1034.2 1302.1,1034.2 1302.6,1034.2 1303.1,1034.2 1303.6,1034.2 1304.1,1034.1 1304.6,1034.1 1305.1,1034.1 1305.6,1034.1 1306.1,1034.1 1306.6,1034 1307.1,1034 1307.6,1034 1308.1,1034 1308.6,1034 1309.1,1033.9 1309.6,1033.9 1310.1,1033.9 1310.6,1033.9 1311.1,1033.9 1311.6,1033.9 1312.1,1033.9 1312.6,1033.8 1313.1,1033.8" fill="none" stroke="#dfb6fb" stroke-width="2.1" stroke-linejoin="round" stroke-linecap="butt"/>
<polyline points="768.8,1038.3 769.3,1037.9 769.8,1037.5 770.3,1037.1 770.8,1036.7 771.3,1036.3 771.8,1035.9 772.3,1035.5 772.8,1035.2 773.3,1034.8 773.8,1034.4 774.3,1034 774.8,1033.7 775.3,1033.3 775.8,1032.9 776.3,1032.5 776.8,1032.1 777.3,1031.7 777.8,1031.2 778.3,1030.8 778.8,1030.3 779.3,1030 779.8,1029.6 780.3,1029.3 780.8,1029.1 781.3,1029 781.8,1028.9 782.3,1029 782.8,1029.1 783.3,1029.3 783.8,1029.6 784.3,1029.9 784.8,1030.2 785.3,1030.6 785.8,1030.9 786.3,1031.3 786.8,1031.7 787.3,1032.1 787.8,1032.4 788.3,1032.8 788.8,1033.2 789.3,1033.7 789.8,1034.3 790.3,1034.8 790.8,1035.4 791.3,1035.9 791.8,1036.4 792.3,1036.9 792.8,1037.3 793.3,1037.6 793.8,1037.8 794.3,1037.8 794.8,1037.8 795.3,1037.6 795.8,1037.3 796.3,1036.9 796.8,1036.4 797.3,1035.8 797.8,1035.2 798.3,1034.5 798.8,1033.8 799.3,1033.2 799.8,1032.5 800.3,1031.8 800.8,1031.2 801.3,1030.7 801.8,1030.2 802.3,1029.7 802.8,1029.1 803.3,1028.6 803.8,1028 804.3,1027.4 804.8,1026.9 805.3,1026.3 805.8,1025.8 806.3,1025.4 806.8,1025 807.3,1024.6 807.8,1024.4 808.3,1024.2 808.8,1024.2 809.3,1024.2 809.8,1024.4 810.3,1024.7 810.8,1025 811.3,1025.4 811.8,1025.8 812.3,1026.2 812.8,1026.7 813.3,1027.2 813.8,1027.6 814.3,1028 814.8,1028.4 815.3,1029 815.8,1029.5 816.3,1030.1 816.8,1030.6 817.3,1031.1 817.8,1031.6 818.3,1031.9 818.8,1032.1 819.3,1032 819.8,1031.7 820.3,1031.1 820.8,1030.2 821.3,1029.2 821.8,1028 822.3,1026.8 822.8,1025.6 823.3,1024.3 823.8,1023.2 824.3,1022.2 824.8,1021 825.3,1019.8 825.8,1018.6 826.3,1017.4 826.8,1016.2 827.3,1015 827.8,1013.9 828.3,1012.9 828.8,1012 829.3,1011 829.8,1010.1 830.3,1009.1 830.8,1008.3 831.3,1007.5 831.8,1006.7 832.3,1006 832.8,1005.4 833.3,1004.8 833.8,1004.2 834.3,1003.7 834.8,1003.1 835.3,1002.7 835.8,1002.3 836.3,1002.1 836.8,1002 837.3,1002.1 837.8,1002.4 838.3,1002.8 838.8,1003.3 839.3,1003.9 839.8,1004.6 840.3,1005.4 840.8,1006.1 841.3,1006.8 841.8,1007.5 842.3,1008.1 842.8,1008.7 843.3,1009.5 843.8,1010.2 844.3,1011 844.8,1011.8 845.3,1012.5 845.8,1013 846.3,1013.4 846.8,1013.6 847.3,1013.6 847.8,1013.2 848.3,1012.6 848.8,1011.7 849.3,1010.7 849.8,1009.5 850.3,1008.3 850.8,1006.8 851.3,1004.7 851.8,1002.2 852.3,999.3 852.8,996.3 853.3,993.3 853.8,990.5 854.4,987.7 854.9,984.8 855.4,981.8 855.9,978.9 856.4,975.9 856.9,973.1 857.4,970.4 857.9,967.7 858.4,965.1 858.9,962.5 859.4,960.1 859.9,957.7 860.4,955.4 860.9,953.3 861.4,951.3 861.9,949.3 862.4,947.4 862.9,945.7 863.4,944 863.9,942.5 864.4,941.2 864.9,939.9 865.4,938.6 865.9,937.5 866.4,936.4 866.9,935.6 867.4,934.8 867.9,934.3 868.4,933.7 868.9,933.2 869.4,932.7 869.9,932.3 870.4,932 870.9,931.8 871.4,931.7 871.9,931.8 872.4,932.1 872.9,932.6 873.4,933.2 873.9,933.8 874.4,934.5 874.9,935.2 875.4,936 875.9,936.8 876.4,937.8 876.9,938.8 877.4,939.9 877.9,941.1 878.4,942.4 878.9,943.7 879.4,945 879.9,946.4 880.4,947.9 880.9,949.5 881.4,951.3 881.9,953.1 882.4,954.9 882.9,956.9 883.4,958.8 883.9,960.7 884.4,962.7 884.9,964.9 885.4,967.1 885.9,969.4 886.4,971.6 886.9,973.8 887.4,975.9 887.9,977.9 888.4,979.9 888.9,981.8 889.4,983.6 889.9,985.4 890.4,987.2 890.9,988.9 891.4,990.5 891.9,992.1 892.4,993.7 892.9,995.2 893.4,996.6 893.9,998.1 894.4,999.4 894.9,1000.8 895.4,1002.1 895.9,1003.4 896.4,1004.6 896.9,1005.9 897.4,1007 897.9,1008.2 898.4,1009.4 898.9,1010.5 899.4,1011.5 899.9,1012.5 900.4,1013.5 900.9,1014.4 901.4,1015.3 901.9,1016.2 902.4,1017 902.9,1017.7 903.4,1018.5 903.9,1019.2 904.4,1019.9 904.9,1020.6 905.4,1021.2 905.9,1021.8 906.4,1022.4 906.9,1023 907.4,1023.5 907.9,1024 908.4,1024.4 908.9,1024.8 909.4,1025.2 909.9,1025.5 910.4,1025.8 910.9,1025.9 911.4,1025.9 911.9,1025.7 912.4,1025.4 912.9,1025 913.4,1024.6 913.9,1024.2 914.4,1023.8 914.9,1023.3 915.4,1022.8 915.9,1022.2 916.4,1021.6 916.9,1020.9 917.4,1020.1 917.9,1019.2 918.4,1018.1 918.9,1017 919.4,1015.8 919.9,1014.5 920.4,1013.4 920.9,1012.2 921.4,1010.9 921.9,1009.6 922.4,1008.4 922.9,1007.2 923.4,1006.1 923.9,1005.2 924.4,1004.5 924.9,1003.8 925.4,1003.1 925.9,1002.5 926.4,1002 926.9,1001.5 927.4,1001 927.9,1000.6 928.4,1000.2 928.9,999.8 929.4,999.5 929.9,999.1 930.4,998.8 930.9,998.5 931.4,998.4 931.9,998.3 932.4,998.3 932.9,998.3 933.4,998.4 933.9,998.5 934.4,998.7 934.9,998.8 935.4,999 935.9,999.1 936.4,999.4 936.9,999.6 937.4,999.9 937.9,1000.2 938.4,1000.5 938.9,1000.9 939.4,1001.2 939.9,1001.6 940.4,1002 940.9,1002.4 941.4,1002.9 941.9,1003.3 942.4,1003.8 942.9,1004.2 943.4,1004.7 943.9,1005.1 944.4,1005.5 944.9,1006 945.4,1006.4 945.9,1006.9 946.4,1007.3 946.9,1007.7 947.4,1008.2 947.9,1008.6 948.4,1008.9 948.9,1009.3 949.4,1009.6 949.9,1009.9 950.4,1010.2 950.9,1010.5 951.4,1010.7 951.9,1011 952.4,1011.2 952.9,1011.4 953.4,1011.6 953.9,1011.8 954.4,1012 954.9,1012.1 955.4,1012.3 955.9,1012.5 956.4,1012.6 956.9,1012.8 957.4,1012.9 957.9,1013 958.4,1013.1 958.9,1013.1 959.4,1013.2 959.9,1013.2 960.4,1013.1 960.9,1013.1 961.4,1013.1 961.9,1013 962.4,1013 962.9,1012.9 963.4,1012.9 963.9,1012.9 964.4,1012.8 964.9,1012.8 965.4,1012.7 965.9,1012.7 966.4,1012.6 966.9,1012.6 967.4,1012.5 967.9,1012.5 968.4,1012.4 968.9,1012.4 969.4,1012.4 969.9,1012.4 970.4,1012.5 970.9,1012.6 971.4,1012.7 971.9,1012.8 972.4,1013 972.9,1013.2 973.4,1013.3 973.9,1013.5 974.4,1013.7 974.9,1013.9 975.4,1014.2 975.9,1014.4 976.4,1014.7 976.9,1015.1 977.4,1015.4 977.9,1015.8 978.4,1016.2 978.9,1016.7 979.4,1017.2 979.9,1017.8 980.4,1018.4 980.9,1019.1 981.4,1019.8 981.9,1020.5 982.4,1021.2 982.9,1021.8 983.4,1022.6 983.9,1023.3 984.4,1024.1 984.9,1024.9 985.4,1025.7 985.9,1026.4 986.4,1027.2 986.9,1027.9 987.4,1028.6 987.9,1029.3 988.4,1030 988.9,1030.6 989.4,1031.3 989.9,1032 990.4,1032.6 990.9,1033.3 991.4,1033.9 991.9,1034.6 992.4,1035.3 992.9,1036.1 993.4,1036.9 993.9,1037.6 994.4,1038.1 994.9,1038.6 995.4,1038.8 995.9,1038.8 996.4,1038.6 996.9,1038.2 997.4,1037.6 997.9,1037 998.4,1036.3 998.9,1035.6 999.4,1035 999.9,1034.4 1000.4,1033.8 1000.9,1033.1 1001.4,1032.5 1001.9,1031.8 1002.4,1031.1 1002.9,1030.5 1003.4,1029.8 1003.9,1029.3 1004.4,1028.7 1004.9,1028.1 1005.4,1027.5 1005.9,1026.9 1006.4,1026.4 1006.9,1025.9 1007.4,1025.4 1007.9,1025 1008.4,1024.6 1008.9,1024.2 1009.4,1023.9 1009.9,1023.5 1010.4,1023.2 1010.9,1023 1011.4,1022.7 1011.9,1022.5 1012.4,1022.4 1012.9,1022.3 1013.4,1022.2 1013.9,1022.1 1014.4,1022 1014.9,1022 1015.4,1021.9 1015.9,1021.9 1016.4,1021.8 1016.9,1021.8 1017.4,1021.8 1017.9,1021.9 1018.4,1021.9 1018.9,1022.1 1019.4,1022.2 1019.9,1022.4 1020.4,1022.5 1020.9,1022.7 1021.4,1022.9 1021.9,1023.1 1022.4,1023.2 1022.9,1023.4 1023.4,1023.6 1023.9,1023.9 1024.5,1024.1 1025,1024.3 1025.5,1024.6 1026,1024.8 1026.5,1025.1 1027,1025.3 1027.5,1025.6 1028,1025.9 1028.5,1026.2 1029,1026.6 1029.5,1027 1030,1027.3 1030.5,1027.7 1031,1028 1031.5,1028.3 1032,1028.6 1032.5,1028.9 1033,1029.1 1033.5,1029.4 1034,1029.6 1034.5,1029.9 1035,1030.1 1035.5,1030.3 1036,1030.4 1036.5,1030.6 1037,1030.7 1037.5,1030.7 1038,1030.7 1038.5,1030.7 1039,1030.7 1039.5,1030.6 1040,1030.6 1040.5,1030.6 1041,1030.5 1041.5,1030.5 1042,1030.4 1042.5,1030.4 1043,1030.3 1043.5,1030.3 1044,1030.2 1044.5,1030.1 1045,1029.9 1045.5,1029.8 1046,1029.7 1046.5,1029.6 1047,1029.5 1047.5,1029.4 1048,1029.3 1048.5,1029.3 1049,1029.3 1049.5,1029.4 1050,1029.5 1050.5,1029.6 1051,1029.8 1051.5,1029.9 1052,1030.1 1052.5,1030.3 1053,1030.5 1053.5,1030.7 1054,1031 1054.5,1031.2 1055,1031.4 1055.5,1031.7 1056,1032 1056.5,1032.4 1057,1032.8 1057.5,1033.2 1058,1033.6 1058.5,1034 1059,1034.4 1059.5,1034.8 1060,1035.1 1060.5,1035.4 1061,1035.6 1061.5,1035.8 1062,1035.8 1062.5,1035.8 1063,1035.5 1063.5,1035.1 1064,1034.5 1064.5,1033.9 1065,1033.2 1065.5,1032.4 1066,1031.7 1066.5,1031 1067,1030.4 1067.5,1029.7 1068,1029 1068.5,1028.2 1069,1027.5 1069.5,1026.7 1070,1026 1070.5,1025.3 1071,1024.6 1071.5,1024 1072,1023.5 1072.5,1023 1073,1022.5 1073.5,1022 1074,1021.5 1074.5,1021.1 1075,1020.7 1075.5,1020.4 1076,1020.1 1076.5,1019.9 1077,1019.7 1077.5,1019.5 1078,1019.4 1078.5,1019.2 1079,1019.1 1079.5,1019 1080,1018.9 1080.5,1018.8 1081,1018.8 1081.5,1018.8 1082,1018.9 1082.5,1019.1 1083,1019.3 1083.5,1019.5 1084,1019.8 1084.5,1020.1 1085,1020.4 1085.5,1020.8 1086,1021.1 1086.5,1021.6 1087,1022.1 1087.5,1022.7 1088,1023.3 1088.5,1023.8 1089,1024.4 1089.5,1025 1090,1025.7 1090.5,1026.4 1091,1027.1 1091.5,1027.8 1092,1028.6 1092.5,1029.3 1093,1029.9 1093.5,1030.6 1094,1031.2 1094.5,1031.7 1095,1032.3 1095.5,1032.9 1096,1033.6 1096.5,1034.2 1097,1034.8 1097.5,1035.4 1098,1035.9 1098.5,1036.3 1099,1036.7 1099.5,1037 1100,1037.2 1100.5,1037.2 1101,1037.1 1101.5,1036.9 1102,1036.5 1102.5,1036 1103,1035.5 1103.5,1034.9 1104,1034.4 1104.5,1033.9 1105,1033.4 1105.5,1033.1 1106,1032.9 1106.5,1032.7 1107,1032.5 1107.5,1032.3 1108,1032.1 1108.5,1031.9 1109,1031.8 1109.5,1031.7 1110,1031.6 1110.5,1031.6 1111,1031.6 1111.5,1031.6 1112,1031.7 1112.5,1031.8 1113,1031.9 1113.5,1032 1114,1032.2 1114.5,1032.4 1115,1032.5 1115.5,1032.7 1116,1032.9 1116.5,1033.2 1117,1033.5 1117.5,1033.8 1118,1034.2 1118.5,1034.7 1119,1035.1 1119.5,1035.5 1120,1035.9 1120.5,1036.3 1121,1036.7 1121.5,1037 1122,1037.3 1122.5,1037.7 1123,1038 1123.5,1038.4 1124,1038.7 1124.5,1039 1125,1039.2 1125.5,1039.3 1126,1039.3 1126.5,1039.3 1127,1039.1 1127.5,1038.8 1128,1038.5 1128.5,1038.1 1129,1037.6 1129.5,1037.2 1130,1036.7 1130.5,1036.2 1131,1035.8 1131.5,1035.4 1132,1035 1132.5,1034.7 1133,1034.4 1133.5,1034.1 1134,1033.8 1134.5,1033.5 1135,1033.2 1135.5,1032.9 1136,1032.7 1136.5,1032.4 1137,1032.3 1137.5,1032.2 1138,1032.1 1138.5,1032.1 1139,1032.1 1139.5,1032.2 1140,1032.3 1140.5,1032.4 1141,1032.6 1141.5,1032.8 1142,1033 1142.5,1033.2 1143,1033.4 1143.5,1033.6 1144,1033.9 1144.5,1034.1 1145,1034.3 1145.5,1034.6 1146,1034.9 1146.5,1035.2 1147,1035.5 1147.5,1035.9 1148,1036.3 1148.5,1036.6 1149,1037 1149.5,1037.3 1150,1037.6 1150.5,1037.9 1151,1038.2 1151.5,1038.5 1152,1038.8 1152.5,1039 1153,1039.2 1153.5,1039.3 1154,1039.3 1154.5,1039.3 1155,1039.1 1155.5,1038.9 1156,1038.6 1156.5,1038.3 1157,1037.9 1157.5,1037.5 1158,1037.1 1158.5,1036.7 1159,1036.3 1159.5,1036 1160,1035.7 1160.5,1035.4 1161,1035.2 1161.5,1035 1162,1034.8 1162.5,1034.6 1163,1034.4 1163.5,1034.1 1164,1034 1164.5,1033.8 1165,1033.6 1165.5,1033.5 1166,1033.4 1166.5,1033.3 1167,1033.2 1167.5,1033.2 1168,1033.2 1168.5,1033.2 1169,1033.3 1169.5,1033.3 1170,1033.4 1170.5,1033.5 1171,1033.5 1171.5,1033.6 1172,1033.7 1172.5,1033.8 1173,1033.9 1173.5,1033.9 1174,1034 1174.5,1034 1175,1034.1 1175.5,1034.1 1176,1034.2 1176.5,1034.2 1177,1034.2 1177.5,1034.3 1178,1034.3 1178.5,1034.3 1179,1034.4 1179.5,1034.4 1180,1034.4 1180.5,1034.4 1181,1034.4 1181.5,1034.5 1182,1034.5 1182.5,1034.5 1183,1034.4 1183.5,1034.4 1184,1034.3 1184.5,1034.2 1185,1034 1185.5,1033.8 1186,1033.7 1186.5,1033.5 1187,1033.3 1187.5,1033.1 1188,1032.9 1188.5,1032.7 1189,1032.5 1189.5,1032.4 1190,1032.2 1190.5,1032.1 1191,1032 1191.5,1031.9 1192,1031.8 1192.5,1031.7 1193,1031.6 1193.5,1031.5 1194,1031.4 1194.6,1031.3 1195.1,1031.3 1195.6,1031.2 1196.1,1031.1 1196.6,1031.1 1197.1,1031.1 1197.6,1031.1 1198.1,1031.1 1198.6,1031.1 1199.1,1031.1 1199.6,1031.2 1200.1,1031.3 1200.6,1031.3 1201.1,1031.4 1201.6,1031.5 1202.1,1031.6 1202.6,1031.7 1203.1,1031.8 1203.6,1032 1204.1,1032.1 1204.6,1032.2 1205.1,1032.3 1205.6,1032.5 1206.1,1032.6 1206.6,1032.8 1207.1,1032.9 1207.6,1033.1 1208.1,1033.2 1208.6,1033.4 1209.1,1033.6 1209.6,1033.8 1210.1,1034.1 1210.6,1034.3 1211.1,1034.6 1211.6,1034.8 1212.1,1035.1 1212.6,1035.4 1213.1,1035.6 1213.6,1035.8 1214.1,1036.1 1214.6,1036.3 1215.1,1036.4 1215.6,1036.6 1216.1,1036.8 1216.6,1037 1217.1,1037.2 1217.6,1037.4 1218.1,1037.6 1218.6,1037.8 1219.1,1037.9 1219.6,1038.1 1220.1,1038.2 1220.6,1038.3 1221.1,1038.3 1221.6,1038.4 1222.1,1038.4 1222.6,1038.4 1223.1,1038.4 1223.6,1038.5 1224.1,1038.5 1224.6,1038.5 1225.1,1038.5 1225.6,1038.6 1226.1,1038.6 1226.6,1038.6 1227.1,1038.6 1227.6,1038.7 1228.1,1038.7 1228.6,1038.7 1229.1,1038.7 1229.6,1038.7 1230.1,1038.7 1230.6,1038.7 1231.1,1038.8 1231.6,1038.8 1232.1,1038.8 1232.6,1038.8 1233.1,1038.8 1233.6,1038.8 1234.1,1038.8 1234.6,1038.8 1235.1,1038.8 1235.6,1038.8 1236.1,1038.8 1236.6,1038.8 1237.1,1038.8 1237.6,1038.8 1238.1,1038.8 1238.6,1038.8 1239.1,1038.8 1239.6,1038.8 1240.1,1038.8 1240.6,1038.8 1241.1,1038.8 1241.6,1038.7 1242.1,1038.7 1242.6,1038.7 1243.1,1038.6 1243.6,1038.6 1244.1,1038.6 1244.6,1038.5 1245.1,1038.5 1245.6,1038.4 1246.1,1038.4 1246.6,1038.3 1247.1,1038.3 1247.6,1038.3 1248.1,1038.2 1248.6,1038.2 1249.1,1038.2 1249.6,1038.2 1250.1,1038.1 1250.6,1038.1 1251.1,1038.1 1251.6,1038.1 1252.1,1038.1 1252.6,1038.1 1253.1,1038.1 1253.6,1038.1 1254.1,1038.2 1254.6,1038.2 1255.1,1038.3 1255.6,1038.3 1256.1,1038.4 1256.6,1038.4 1257.1,1038.5 1257.6,1038.6 1258.1,1038.6 1258.6,1038.7 1259.1,1038.8 1259.6,1038.8 1260.1,1038.9 1260.6,1039 1261.1,1039 1261.6,1039.1 1262.1,1039.2 1262.6,1039.2 1263.1,1039.2 1263.6,1039.3 1264.1,1039.3 1264.6,1039.3 1265.1,1039.3 1265.6,1039.3 1266.1,1039.3 1266.6,1039.3 1267.1,1039.2 1267.6,1039.1 1268.1,1039 1268.6,1038.9 1269.1,1038.7 1269.6,1038.5 1270.1,1038.4 1270.6,1038.2 1271.1,1038 1271.6,1037.8 1272.1,1037.6 1272.6,1037.4 1273.1,1037.2 1273.6,1037 1274.1,1036.8 1274.6,1036.6 1275.1,1036.4 1275.6,1036.2 1276.1,1036.1 1276.6,1035.9 1277.1,1035.7 1277.6,1035.5 1278.1,1035.3 1278.6,1035.1 1279.1,1034.9 1279.6,1034.7 1280.1,1034.5 1280.6,1034.3 1281.1,1034.1 1281.6,1033.9 1282.1,1033.7 1282.6,1033.5 1283.1,1033.4 1283.6,1033.3 1284.1,1033.1 1284.6,1033.1 1285.1,1033 1285.6,1033 1286.1,1033 1286.6,1033 1287.1,1033 1287.6,1033 1288.1,1033 1288.6,1033 1289.1,1033 1289.6,1033.1 1290.1,1033.1 1290.6,1033.1 1291.1,1033.1 1291.6,1033.2 1292.1,1033.2 1292.6,1033.2 1293.1,1033.3 1293.6,1033.3 1294.1,1033.3 1294.6,1033.4 1295.1,1033.4 1295.6,1033.5 1296.1,1033.5 1296.6,1033.5 1297.1,1033.6 1297.6,1033.6 1298.1,1033.6 1298.6,1033.7 1299.1,1033.7 1299.6,1033.7 1300.1,1033.7 1300.6,1033.8 1301.1,1033.8 1301.6,1033.8 1302.1,1033.8 1302.6,1033.9 1303.1,1033.9 1303.6,1033.9 1304.1,1033.9 1304.6,1034 1305.1,1034 1305.6,1034 1306.1,1034 1306.6,1034.1 1307.1,1034.1 1307.6,1034.1 1308.1,1034.1 1308.6,1034.1 1309.1,1034.2 1309.6,1034.2 1310.1,1034.2 1310.6,1034.2 1311.1,1034.3 1311.6,1034.3 1312.1,1034.3 1312.6,1034.3 1313.1,1034.3" fill="none" stroke="#ff0000" stroke-width="2.1" stroke-linejoin="round" stroke-linecap="butt"/>
<polyline points="768.8,1032.7 769.3,1032.9 769.8,1033.1 770.3,1033.2 770.8,1033.4 771.3,1033.6 771.8,1033.7 772.3,1033.9 772.8,1034.1 773.3,1034.2 773.8,1034.4 774.3,1034.6 774.8,1034.7 775.3,1034.9 775.8,1035 776.3,1035.2 776.8,1035.4 777.3,1035.6 777.8,1035.8 778.3,1035.9 778.8,1036.1 779.3,1036.3 779.8,1036.4 780.3,1036.6 780.8,1036.6 781.3,1036.7 781.8,1036.7 782.3,1036.7 782.8,1036.6 783.3,1036.4 783.8,1036.3 784.3,1036.1 784.8,1035.8 785.3,1035.6 785.8,1035.3 786.3,1035.1 786.8,1034.8 787.3,1034.6 787.8,1034.4 788.3,1034.2 788.8,1034 789.3,1033.8 789.8,1033.6 790.3,1033.4 790.8,1033.2 791.3,1033 791.8,1032.8 792.3,1032.7 792.8,1032.5 793.3,1032.4 793.8,1032.2 794.3,1032.2 794.8,1032.1 795.3,1032.1 795.8,1032.1 796.3,1032.1 796.8,1032.2 797.3,1032.3 797.8,1032.4 798.3,1032.5 798.8,1032.7 799.3,1032.8 799.8,1032.9 800.3,1033 800.8,1033.1 801.3,1033.2 801.8,1033.3 802.3,1033.4 802.8,1033.4 803.3,1033.5 803.8,1033.6 804.3,1033.7 804.8,1033.8 805.3,1033.8 805.8,1033.8 806.3,1033.8 806.8,1033.7 807.3,1033.5 807.8,1033.2 808.3,1032.8 808.8,1032.3 809.3,1031.8 809.8,1031.3 810.3,1030.7 810.8,1030.1 811.3,1029.5 811.8,1028.8 812.3,1028.1 812.8,1027.2 813.3,1026.3 813.8,1025.5 814.3,1024.6 814.8,1023.9 815.3,1023.2 815.8,1022.6 816.3,1021.9 816.8,1021.3 817.3,1020.7 817.8,1020.1 818.3,1019.5 818.8,1018.9 819.3,1018.2 819.8,1017.6 820.3,1017 820.8,1016.4 821.3,1015.8 821.8,1015.3 822.3,1014.7 822.8,1014.2 823.3,1013.7 823.8,1013.1 824.3,1012.7 824.8,1012.3 825.3,1012 825.8,1011.7 826.3,1011.5 826.8,1011.2 827.3,1011 827.8,1010.8 828.3,1010.6 828.8,1010.6 829.3,1010.5 829.8,1010.6 830.3,1010.7 830.8,1010.9 831.3,1011.1 831.8,1011.3 832.3,1011.6 832.8,1011.8 833.3,1012.1 833.8,1012.3 834.3,1012.5 834.8,1012.7 835.3,1012.9 835.8,1013.1 836.3,1013.4 836.8,1013.6 837.3,1013.8 837.8,1013.9 838.3,1014 838.8,1014 839.3,1014 839.8,1013.7 840.3,1013.3 840.8,1012.8 841.3,1012.3 841.8,1011.7 842.3,1011.1 842.8,1010.5 843.3,1009.7 843.8,1008.9 844.3,1008 844.8,1007 845.3,1005.9 845.8,1004.7 846.3,1003.3 846.8,1001.7 847.3,999.8 847.8,997.9 848.3,995.9 848.8,993.9 849.3,992 849.8,990 850.3,988 850.8,986 851.3,984 851.8,982 852.3,980 852.8,978.1 853.3,976.1 853.8,974.2 854.4,972.3 854.9,970.4 855.4,968.6 855.9,966.8 856.4,965.1 856.9,963.3 857.4,961.6 857.9,960 858.4,958.4 858.9,956.9 859.4,955.5 859.9,954.2 860.4,952.9 860.9,951.7 861.4,950.6 861.9,949.5 862.4,948.5 862.9,947.6 863.4,946.7 863.9,945.8 864.4,945 864.9,944.3 865.4,943.6 865.9,943.1 866.4,942.6 866.9,942.2 867.4,941.8 867.9,941.5 868.4,941.2 868.9,941 869.4,941 869.9,941 870.4,941.2 870.9,941.4 871.4,941.7 871.9,942 872.4,942.4 872.9,942.9 873.4,943.7 873.9,944.6 874.4,945.6 874.9,946.5 875.4,947.5 875.9,948.5 876.4,949.5 876.9,950.7 877.4,951.8 877.9,953 878.4,954.3 878.9,955.6 879.4,957 879.9,958.4 880.4,960 880.9,961.6 881.4,963.2 881.9,965 882.4,966.7 882.9,968.5 883.4,970.2 883.9,972.1 884.4,973.9 884.9,975.9 885.4,977.8 885.9,979.8 886.4,981.7 886.9,983.6 887.4,985.5 887.9,987.5 888.4,989.4 888.9,991.4 889.4,993.4 889.9,995.3 890.4,997.1 890.9,998.8 891.4,1000.3 891.9,1001.7 892.4,1003.1 892.9,1004.4 893.4,1005.6 893.9,1006.8 894.4,1008 894.9,1009.1 895.4,1010.3 895.9,1011.4 896.4,1012.6 896.9,1013.7 897.4,1014.8 897.9,1015.9 898.4,1017 898.9,1018.1 899.4,1019.1 899.9,1020.1 900.4,1021 900.9,1021.9 901.4,1022.8 901.9,1023.6 902.4,1024.4 902.9,1025.2 903.4,1026 903.9,1026.7 904.4,1027.4 904.9,1028.2 905.4,1028.8 905.9,1029.5 906.4,1030.1 906.9,1030.7 907.4,1031.2 907.9,1031.7 908.4,1032.2 908.9,1032.6 909.4,1032.9 909.9,1033.2 910.4,1033.5 910.9,1033.7 911.4,1033.8 911.9,1033.8 912.4,1033.6 912.9,1033.2 913.4,1032.7 913.9,1032.1 914.4,1031.4 914.9,1030.8 915.4,1030.2 915.9,1029.6 916.4,1028.9 916.9,1028.2 917.4,1027.4 917.9,1026.6 918.4,1025.7 918.9,1024.8 919.4,1023.8 919.9,1022.7 920.4,1021.6 920.9,1020.4 921.4,1019.3 921.9,1018.2 922.4,1017.1 922.9,1016.2 923.4,1015.2 923.9,1014.3 924.4,1013.5 924.9,1012.6 925.4,1011.7 925.9,1010.9 926.4,1010.1 926.9,1009.2 927.4,1008.4 927.9,1007.6 928.4,1006.8 928.9,1006 929.4,1005.2 929.9,1004.4 930.4,1003.7 930.9,1003 931.4,1002.4 931.9,1001.8 932.4,1001.2 932.9,1000.6 933.4,1000 933.9,999.5 934.4,999 934.9,998.5 935.4,997.9 935.9,997.5 936.4,997 936.9,996.6 937.4,996.2 937.9,995.9 938.4,995.6 938.9,995.2 939.4,994.9 939.9,994.7 940.4,994.6 940.9,994.5 941.4,994.5 941.9,994.6 942.4,994.8 942.9,995 943.4,995.2 943.9,995.5 944.4,995.8 944.9,996.1 945.4,996.3 945.9,996.6 946.4,997 946.9,997.3 947.4,997.7 947.9,998.1 948.4,998.5 948.9,998.9 949.4,999.4 949.9,999.9 950.4,1000.4 950.9,1001 951.4,1001.6 951.9,1002.2 952.4,1002.8 952.9,1003.4 953.4,1004 953.9,1004.6 954.4,1005.1 954.9,1005.7 955.4,1006.2 955.9,1006.8 956.4,1007.3 956.9,1007.9 957.4,1008.4 957.9,1008.9 958.4,1009.4 958.9,1009.9 959.4,1010.4 959.9,1010.8 960.4,1011.3 960.9,1011.7 961.4,1012.2 961.9,1012.6 962.4,1013 962.9,1013.3 963.4,1013.7 963.9,1014 964.4,1014.3 964.9,1014.6 965.4,1014.9 965.9,1015.2 966.4,1015.4 966.9,1015.7 967.4,1015.9 967.9,1016.1 968.4,1016.3 968.9,1016.4 969.4,1016.5 969.9,1016.7 970.4,1016.8 970.9,1016.9 971.4,1017 971.9,1017.1 972.4,1017.2 972.9,1017.3 973.4,1017.4 973.9,1017.5 974.4,1017.6 974.9,1017.7 975.4,1017.8 975.9,1017.9 976.4,1018.1 976.9,1018.3 977.4,1018.5 977.9,1018.7 978.4,1018.9 978.9,1019.2 979.4,1019.5 979.9,1019.8 980.4,1020.1 980.9,1020.4 981.4,1020.8 981.9,1021.1 982.4,1021.5 982.9,1021.9 983.4,1022.3 983.9,1022.8 984.4,1023.2 984.9,1023.7 985.4,1024.2 985.9,1024.7 986.4,1025.3 986.9,1025.9 987.4,1026.5 987.9,1027.2 988.4,1027.8 988.9,1028.5 989.4,1029.1 989.9,1029.8 990.4,1030.4 990.9,1031 991.4,1031.6 991.9,1032.4 992.4,1033.1 992.9,1033.8 993.4,1034.5 993.9,1035.1 994.4,1035.6 994.9,1036 995.4,1036.2 995.9,1036.2 996.4,1036.1 996.9,1035.8 997.4,1035.5 997.9,1035.1 998.4,1034.6 998.9,1034.2 999.4,1033.7 999.9,1033.3 1000.4,1032.8 1000.9,1032.2 1001.4,1031.6 1001.9,1031 1002.4,1030.4 1002.9,1029.8 1003.4,1029.2 1003.9,1028.6 1004.4,1028.1 1004.9,1027.5 1005.4,1026.9 1005.9,1026.3 1006.4,1025.7 1006.9,1025.2 1007.4,1024.7 1007.9,1024.2 1008.4,1023.8 1008.9,1023.5 1009.4,1023.1 1009.9,1022.7 1010.4,1022.4 1010.9,1022.1 1011.4,1021.9 1011.9,1021.7 1012.4,1021.5 1012.9,1021.4 1013.4,1021.3 1013.9,1021.2 1014.4,1021.1 1014.9,1021 1015.4,1020.9 1015.9,1020.9 1016.4,1020.8 1016.9,1020.8 1017.4,1020.8 1017.9,1020.9 1018.4,1021 1018.9,1021.1 1019.4,1021.3 1019.9,1021.5 1020.4,1021.8 1020.9,1022 1021.4,1022.2 1021.9,1022.4 1022.4,1022.7 1022.9,1022.9 1023.4,1023.2 1023.9,1023.4 1024.5,1023.7 1025,1024 1025.5,1024.3 1026,1024.6 1026.5,1025 1027,1025.3 1027.5,1025.6 1028,1026 1028.5,1026.4 1029,1026.8 1029.5,1027.3 1030,1027.7 1030.5,1028.2 1031,1028.7 1031.5,1029.2 1032,1029.6 1032.5,1030.1 1033,1030.6 1033.5,1031 1034,1031.4 1034.5,1031.8 1035,1032.2 1035.5,1032.7 1036,1033.2 1036.5,1033.6 1037,1034.1 1037.5,1034.5 1038,1034.9 1038.5,1035.2 1039,1035.5 1039.5,1035.7 1040,1035.8 1040.5,1035.8 1041,1035.8 1041.5,1035.7 1042,1035.6 1042.5,1035.5 1043,1035.4 1043.5,1035.2 1044,1035.1 1044.5,1034.9 1045,1034.8 1045.5,1034.7 1046,1034.5 1046.5,1034.4 1047,1034.2 1047.5,1034.1 1048,1033.9 1048.5,1033.7 1049,1033.6 1049.5,1033.4 1050,1033.3 1050.5,1033.3 1051,1033.2 1051.5,1033.2 1052,1033.2 1052.5,1033.2 1053,1033.2 1053.5,1033.2 1054,1033.3 1054.5,1033.3 1055,1033.3 1055.5,1033.3 1056,1033.3 1056.5,1033.3 1057,1033.3 1057.5,1033.3 1058,1033.3 1058.5,1033.3 1059,1033.3 1059.5,1033.3 1060,1033.3 1060.5,1033.3 1061,1033.3 1061.5,1033.3 1062,1033.3 1062.5,1033.3 1063,1033.3 1063.5,1033.3 1064,1033.2 1064.5,1033.2 1065,1033.2 1065.5,1033.1 1066,1033 1066.5,1032.8 1067,1032.7 1067.5,1032.4 1068,1032.2 1068.5,1032 1069,1031.7 1069.5,1031.5 1070,1031.3 1070.5,1031.1 1071,1030.9 1071.5,1030.7 1072,1030.6 1072.5,1030.4 1073,1030.2 1073.5,1030 1074,1029.8 1074.5,1029.6 1075,1029.4 1075.5,1029.3 1076,1029.1 1076.5,1028.9 1077,1028.7 1077.5,1028.5 1078,1028.3 1078.5,1028.1 1079,1027.9 1079.5,1027.7 1080,1027.4 1080.5,1027.2 1081,1027 1081.5,1026.9 1082,1026.7 1082.5,1026.5 1083,1026.4 1083.5,1026.3 1084,1026.2 1084.5,1026.1 1085,1026 1085.5,1025.9 1086,1025.8 1086.5,1025.7 1087,1025.6 1087.5,1025.6 1088,1025.5 1088.5,1025.4 1089,1025.4 1089.5,1025.3 1090,1025.3 1090.5,1025.2 1091,1025.2 1091.5,1025.2 1092,1025.2 1092.5,1025.2 1093,1025.2 1093.5,1025.3 1094,1025.4 1094.5,1025.5 1095,1025.6 1095.5,1025.7 1096,1025.8 1096.5,1025.9 1097,1026.1 1097.5,1026.2 1098,1026.3 1098.5,1026.5 1099,1026.7 1099.5,1026.9 1100,1027.1 1100.5,1027.3 1101,1027.5 1101.5,1027.7 1102,1028 1102.5,1028.2 1103,1028.5 1103.5,1028.8 1104,1029.1 1104.5,1029.4 1105,1029.7 1105.5,1030.1 1106,1030.4 1106.5,1030.8 1107,1031.1 1107.5,1031.5 1108,1031.8 1108.5,1032.2 1109,1032.5 1109.5,1032.9 1110,1033.2 1110.5,1033.6 1111,1034 1111.5,1034.3 1112,1034.7 1112.5,1035 1113,1035.4 1113.5,1035.8 1114,1036.2 1114.5,1036.5 1115,1036.9 1115.5,1037.2 1116,1037.6 1116.5,1037.9 1117,1038.1 1117.5,1038.4 1118,1038.7 1118.5,1039 1119,1039.2 1119.5,1039.3 1120,1039.3 1120.5,1039.2 1121,1039 1121.5,1038.6 1122,1038.1 1122.5,1037.6 1123,1037.1 1123.5,1036.6 1124,1036.1 1124.5,1035.7 1125,1035.3 1125.5,1035 1126,1034.6 1126.5,1034.2 1127,1033.9 1127.5,1033.5 1128,1033.2 1128.5,1033 1129,1032.8 1129.5,1032.7 1130,1032.6 1130.5,1032.5 1131,1032.4 1131.5,1032.3 1132,1032.3 1132.5,1032.2 1133,1032.2 1133.5,1032.1 1134,1032.1 1134.5,1032.1 1135,1032.1 1135.5,1032.1 1136,1032.1 1136.5,1032.1 1137,1032.2 1137.5,1032.2 1138,1032.3 1138.5,1032.3 1139,1032.4 1139.5,1032.4 1140,1032.5 1140.5,1032.7 1141,1032.8 1141.5,1033 1142,1033.3 1142.5,1033.5 1143,1033.8 1143.5,1034.1 1144,1034.4 1144.5,1034.8 1145,1035.1 1145.5,1035.4 1146,1035.6 1146.5,1035.9 1147,1036.2 1147.5,1036.5 1148,1036.8 1148.5,1037.1 1149,1037.4 1149.5,1037.8 1150,1038.1 1150.5,1038.4 1151,1038.7 1151.5,1039 1152,1039.2 1152.5,1039.4 1153,1039.5 1153.5,1039.6 1154,1039.6 1154.5,1039.5 1155,1039.4 1155.5,1039.3 1156,1039.1 1156.5,1038.8 1157,1038.5 1157.5,1038.2 1158,1037.9 1158.5,1037.6 1159,1037.3 1159.5,1037 1160,1036.7 1160.5,1036.4 1161,1036.2 1161.5,1036 1162,1035.9 1162.5,1035.7 1163,1035.5 1163.5,1035.3 1164,1035.1 1164.5,1035 1165,1034.8 1165.5,1034.6 1166,1034.5 1166.5,1034.4 1167,1034.3 1167.5,1034.2 1168,1034.1 1168.5,1034.1 1169,1034.1 1169.5,1034.1 1170,1034.1 1170.5,1034.2 1171,1034.3 1171.5,1034.3 1172,1034.4 1172.5,1034.5 1173,1034.6 1173.5,1034.8 1174,1034.9 1174.5,1035 1175,1035.1 1175.5,1035.2 1176,1035.4 1176.5,1035.5 1177,1035.6 1177.5,1035.7 1178,1035.8 1178.5,1036 1179,1036.1 1179.5,1036.3 1180,1036.4 1180.5,1036.6 1181,1036.7 1181.5,1036.9 1182,1037 1182.5,1037.1 1183,1037.2 1183.5,1037.3 1184,1037.4 1184.5,1037.4 1185,1037.5 1185.5,1037.5 1186,1037.4 1186.5,1037.4 1187,1037.3 1187.5,1037.1 1188,1037 1188.5,1036.8 1189,1036.7 1189.5,1036.5 1190,1036.3 1190.5,1036.1 1191,1035.9 1191.5,1035.7 1192,1035.6 1192.5,1035.4 1193,1035.2 1193.5,1035.1 1194,1035 1194.6,1034.8 1195.1,1034.7 1195.6,1034.6 1196.1,1034.5 1196.6,1034.3 1197.1,1034.2 1197.6,1034.1 1198.1,1033.9 1198.6,1033.8 1199.1,1033.7 1199.6,1033.6 1200.1,1033.5 1200.6,1033.4 1201.1,1033.3 1201.6,1033.3 1202.1,1033.2 1202.6,1033.2 1203.1,1033.2 1203.6,1033.2 1204.1,1033.3 1204.6,1033.3 1205.1,1033.4 1205.6,1033.5 1206.1,1033.6 1206.6,1033.7 1207.1,1033.9 1207.6,1034 1208.1,1034.2 1208.6,1034.3 1209.1,1034.4 1209.6,1034.6 1210.1,1034.7 1210.6,1034.8 1211.1,1035 1211.6,1035.1 1212.1,1035.2 1212.6,1035.4 1213.1,1035.5 1213.6,1035.7 1214.1,1035.8 1214.6,1036 1215.1,1036.2 1215.6,1036.3 1216.1,1036.5 1216.6,1036.6 1217.1,1036.8 1217.6,1036.9 1218.1,1037 1218.6,1037.2 1219.1,1037.3 1219.6,1037.3 1220.1,1037.4 1220.6,1037.4 1221.1,1037.5 1221.6,1037.5 1222.1,1037.5 1222.6,1037.5 1223.1,1037.5 1223.6,1037.4 1224.1,1037.4 1224.6,1037.4 1225.1,1037.4 1225.6,1037.4 1226.1,1037.4 1226.6,1037.4 1227.1,1037.4 1227.6,1037.4 1228.1,1037.3 1228.6,1037.3 1229.1,1037.3 1229.6,1037.3 1230.1,1037.3 1230.6,1037.3 1231.1,1037.2 1231.6,1037.2 1232.1,1037.2 1232.6,1037.2 1233.1,1037.2 1233.6,1037.2 1234.1,1037.1 1234.6,1037.1 1235.1,1037.1 1235.6,1037.1 1236.1,1037.1 1236.6,1037.1 1237.1,1037.1 1237.6,1037.1 1238.1,1037.1 1238.6,1037.1 1239.1,1037.1 1239.6,1037.1 1240.1,1037.1 1240.6,1037.1 1241.1,1037.2 1241.6,1037.2 1242.1,1037.2 1242.6,1037.3 1243.1,1037.3 1243.6,1037.3 1244.1,1037.4 1244.6,1037.4 1245.1,1037.4 1245.6,1037.5 1246.1,1037.5 1246.6,1037.6 1247.1,1037.6 1247.6,1037.7 1248.1,1037.7 1248.6,1037.7 1249.1,1037.8 1249.6,1037.8 1250.1,1037.9 1250.6,1037.9 1251.1,1037.9 1251.6,1038 1252.1,1038 1252.6,1038 1253.1,1038 1253.6,1038.1 1254.1,1038.1 1254.6,1038.1 1255.1,1038.1 1255.6,1038.1 1256.1,1038.1 1256.6,1038.1 1257.1,1038.1 1257.6,1038.1 1258.1,1038.1 1258.6,1038.1 1259.1,1038 1259.6,1038 1260.1,1038 1260.6,1038 1261.1,1038 1261.6,1038 1262.1,1037.9 1262.6,1037.9 1263.1,1037.9 1263.6,1037.9 1264.1,1037.9 1264.6,1037.8 1265.1,1037.8 1265.6,1037.8 1266.1,1037.8 1266.6,1037.7 1267.1,1037.7 1267.6,1037.7 1268.1,1037.7 1268.6,1037.6 1269.1,1037.6 1269.6,1037.6 1270.1,1037.6 1270.6,1037.5 1271.1,1037.5 1271.6,1037.5 1272.1,1037.5 1272.6,1037.5 1273.1,1037.4 1273.6,1037.4 1274.1,1037.4 1274.6,1037.4 1275.1,1037.3 1275.6,1037.3 1276.1,1037.3 1276.6,1037.3 1277.1,1037.2 1277.6,1037.2 1278.1,1037.2 1278.6,1037.1 1279.1,1037.1 1279.6,1037.1 1280.1,1037 1280.6,1037 1281.1,1037 1281.6,1037 1282.1,1036.9 1282.6,1036.9 1283.1,1036.9 1283.6,1036.9 1284.1,1036.8 1284.6,1036.8 1285.1,1036.8 1285.6,1036.8 1286.1,1036.8 1286.6,1036.8 1287.1,1036.7 1287.6,1036.7 1288.1,1036.7 1288.6,1036.7 1289.1,1036.7 1289.6,1036.7 1290.1,1036.7 1290.6,1036.7 1291.1,1036.8 1291.6,1036.8 1292.1,1036.8 1292.6,1036.9 1293.1,1036.9 1293.6,1037 1294.1,1037 1294.6,1037.1 1295.1,1037.2 1295.6,1037.2 1296.1,1037.3 1296.6,1037.4 1297.1,1037.4 1297.6,1037.5 1298.1,1037.6 1298.6,1037.7 1299.1,1037.8 1299.6,1037.8 1300.1,1037.9 1300.6,1038 1301.1,1038.1 1301.6,1038.2 1302.1,1038.2 1302.6,1038.3 1303.1,1038.4 1303.6,1038.4 1304.1,1038.5 1304.6,1038.6 1305.1,1038.7 1305.6,1038.7 1306.1,1038.8 1306.6,1038.9 1307.1,1039 1307.6,1039 1308.1,1039.1 1308.6,1039.2 1309.1,1039.3 1309.6,1039.4 1310.1,1039.5 1310.6,1039.5 1311.1,1039.6 1311.6,1039.7 1312.1,1039.8 1312.6,1039.9 1313.1,1040" fill="none" stroke="#4a0af2" stroke-width="2.1" stroke-linejoin="round" stroke-linecap="butt"/>
</g>
<rect x="768.8" y="601.9" width="544.3" height="438.7" fill="none" stroke="#000" stroke-width="2.1"/>
<line x1="760.4" y1="1040.6" x2="768.8" y2="1040.6" stroke="#000" stroke-width="2.1"/>
<line x1="764.6" y1="1009.3" x2="768.8" y2="1009.3" stroke="#000" stroke-width="2.1"/>
<line x1="760.4" y1="977.9" x2="768.8" y2="977.9" stroke="#000" stroke-width="2.1"/>
<line x1="764.6" y1="946.6" x2="768.8" y2="946.6" stroke="#000" stroke-width="2.1"/>
<line x1="760.4" y1="915.3" x2="768.8" y2="915.3" stroke="#000" stroke-width="2.1"/>
<line x1="764.6" y1="884" x2="768.8" y2="884" stroke="#000" stroke-width="2.1"/>
<line x1="760.4" y1="852.6" x2="768.8" y2="852.6" stroke="#000" stroke-width="2.1"/>
<line x1="764.6" y1="821.3" x2="768.8" y2="821.3" stroke="#000" stroke-width="2.1"/>
<line x1="760.4" y1="790" x2="768.8" y2="790" stroke="#000" stroke-width="2.1"/>
<line x1="764.6" y1="758.7" x2="768.8" y2="758.7" stroke="#000" stroke-width="2.1"/>
<line x1="760.4" y1="727.3" x2="768.8" y2="727.3" stroke="#000" stroke-width="2.1"/>
<line x1="764.6" y1="696" x2="768.8" y2="696" stroke="#000" stroke-width="2.1"/>
<line x1="760.4" y1="664.7" x2="768.8" y2="664.7" stroke="#000" stroke-width="2.1"/>
<line x1="764.6" y1="633.4" x2="768.8" y2="633.4" stroke="#000" stroke-width="2.1"/>
<line x1="760.4" y1="602" x2="768.8" y2="602" stroke="#000" stroke-width="2.1"/>
<text x="754.6" y="1049.6" font-size="27.4" text-anchor="end">0</text>
<text x="754.6" y="986.9" font-size="27.4" text-anchor="end">5</text>
<text x="754.6" y="924.3" font-size="27.4" text-anchor="end">10</text>
<text x="754.6" y="861.6" font-size="27.4" text-anchor="end">15</text>
<text x="754.6" y="799" font-size="27.4" text-anchor="end">20</text>
<text x="754.6" y="736.3" font-size="27.4" text-anchor="end">25</text>
<text x="754.6" y="673.7" font-size="27.4" text-anchor="end">30</text>
<text x="754.6" y="611" font-size="27.4" text-anchor="end">35</text>
<line x1="768.8" y1="1040.6" x2="768.8" y2="1049" stroke="#000" stroke-width="2.1"/>
<line x1="836.8" y1="1040.6" x2="836.8" y2="1044.8" stroke="#000" stroke-width="2.1"/>
<line x1="904.9" y1="1040.6" x2="904.9" y2="1049" stroke="#000" stroke-width="2.1"/>
<line x1="972.9" y1="1040.6" x2="972.9" y2="1044.8" stroke="#000" stroke-width="2.1"/>
<line x1="1041" y1="1040.6" x2="1041" y2="1049" stroke="#000" stroke-width="2.1"/>
<line x1="1109" y1="1040.6" x2="1109" y2="1044.8" stroke="#000" stroke-width="2.1"/>
<line x1="1177" y1="1040.6" x2="1177" y2="1049" stroke="#000" stroke-width="2.1"/>
<line x1="1245.1" y1="1040.6" x2="1245.1" y2="1044.8" stroke="#000" stroke-width="2.1"/>
<line x1="1313.1" y1="1040.6" x2="1313.1" y2="1049" stroke="#000" stroke-width="2.1"/>
<text x="769.1" y="1076" font-size="27.4" text-anchor="middle">0</text>
<text x="905.2" y="1076" font-size="27.4" text-anchor="middle">2</text>
<text x="1041.3" y="1076" font-size="27.4" text-anchor="middle">4</text>
<text x="1177.3" y="1076" font-size="27.4" text-anchor="middle">6</text>
<text x="1313.4" y="1076" font-size="27.4" text-anchor="middle">8</text>
<text x="1003.4" y="1113.8" font-size="27.6"><tspan font-style="italic">R</tspan><tspan dx="-2.2"> (Å)</tspan></text>
<text font-size="27.4" text-anchor="middle" transform="translate(701.6 821.3) rotate(-90)">|FT [<tspan font-style="italic">k</tspan><tspan dy="-11" font-size="18">2</tspan><tspan dy="11" font-family="Liberation Serif" font-style="italic" font-size="29" stroke-width="0.2">χ</tspan>(<tspan font-style="italic">k</tspan>)]| (Å<tspan dy="-11" font-size="19.5">-3</tspan><tspan dy="11">)</tspan></text>
<text x="669.3" y="601.4" font-size="46" font-weight="bold">e</text>
<text x="882" y="627.4" font-size="23.4">Co–Co</text>
<line x1="1094.5" y1="625.6" x2="1147.9" y2="625.6" stroke="#dfb6fb" stroke-width="2.1"/>
<text x="1154.5" y="633.6" font-size="23.4">Co foil</text>
<line x1="1094.5" y1="654.2" x2="1147.9" y2="654.2" stroke="#4a0af2" stroke-width="2.1"/>
<text x="1154.5" y="662.2" font-size="23.4">CoPc</text>
<line x1="1094.5" y1="683" x2="1147.9" y2="683" stroke="#ff0000" stroke-width="2.1"/>
<text x="1154.5" y="691.2" font-size="23.4">CoPc-OCNT</text>
<line x1="1574.8" y1="639.3" x2="1574.8" y2="862.5" stroke="#bebebe" stroke-width="1.8" stroke-dasharray="11 8.5"/>
<line x1="1669.3" y1="725.7" x2="1665.4" y2="991.6" stroke="#bebebe" stroke-width="1.8" stroke-dasharray="11 8.5"/>
<line x1="1715.6" y1="774.9" x2="1715.6" y2="1012.8" stroke="#bebebe" stroke-width="1.8" stroke-dasharray="11 8.5"/>
<clipPath id="cf"><rect x="1437.5" y="603" width="551.8" height="442.4"/></clipPath>
<g clip-path="url(#cf)">
<polyline points="1437.6,809.5 1438.1,809.6 1438.6,809.8 1439.1,809.9 1439.6,810 1440.1,810.1 1440.6,810.3 1441.1,810.4 1441.6,810.6 1442.1,810.7 1442.6,810.9 1443.1,811.1 1443.6,811.2 1444.1,811.4 1444.6,811.6 1445.1,811.8 1445.6,811.9 1446.1,812.1 1446.6,812.4 1447.1,812.6 1447.6,812.8 1448.1,813 1448.6,813.3 1449.1,813.6 1449.6,813.9 1450.1,814.2 1450.6,814.6 1451.1,814.9 1451.6,815.1 1452.1,815.4 1452.6,815.6 1453.1,815.9 1453.6,816.2 1454.1,816.4 1454.6,816.6 1455.1,816.8 1455.6,817 1456.1,817.1 1456.6,817 1457.1,816.9 1457.6,816.8 1458.1,816.5 1458.6,816.2 1459.1,815.8 1459.6,815.5 1460.1,815.1 1460.6,814.7 1461.1,814.4 1461.6,814.1 1462.1,813.9 1462.6,813.6 1463.1,813.3 1463.6,813.1 1464.1,812.8 1464.6,812.5 1465.1,812.3 1465.6,812 1466.1,811.8 1466.6,811.5 1467.1,811.2 1467.6,810.9 1468.1,810.6 1468.6,810.3 1469.1,810 1469.6,809.7 1470.1,809.5 1470.6,809.3 1471.1,809.2 1471.6,809.1 1472.1,809 1472.6,808.9 1473.1,808.8 1473.6,808.7 1474.1,808.7 1474.6,808.6 1475.1,808.6 1475.6,808.7 1476.1,808.7 1476.6,808.8 1477.1,808.9 1477.6,809.1 1478.1,809.3 1478.6,809.4 1479.1,809.6 1479.6,809.8 1480.1,810 1480.6,810.1 1481.1,810.3 1481.6,810.5 1482.1,810.7 1482.6,810.9 1483.1,811.1 1483.6,811.3 1484.1,811.5 1484.6,811.6 1485.1,811.7 1485.6,811.7 1486.1,811.7 1486.6,811.6 1487.1,811.5 1487.6,811.4 1488.1,811.3 1488.6,811.1 1489.1,810.9 1489.6,810.5 1490.1,810.1 1490.6,809.7 1491.1,809.2 1491.6,808.6 1492.1,808.1 1492.6,807.4 1493.1,806.7 1493.6,805.8 1494.1,804.9 1494.6,803.9 1495.1,802.9 1495.6,801.9 1496.1,800.8 1496.6,799.8 1497.1,798.8 1497.6,797.7 1498.1,796.6 1498.6,795.4 1499.1,794.3 1499.6,793.2 1500.1,792.1 1500.6,791 1501.1,790 1501.6,789 1502.1,788 1502.6,787 1503.1,786 1503.6,785 1504.1,784.1 1504.6,783.3 1505.1,782.4 1505.6,781.6 1506.1,780.8 1506.6,780 1507.1,779.2 1507.6,778.5 1508.1,777.8 1508.6,777.2 1509.1,776.6 1509.6,776 1510.1,775.4 1510.6,774.8 1511.1,774.3 1511.6,773.7 1512.1,773.3 1512.6,772.8 1513.1,772.4 1513.6,772.1 1514.1,771.9 1514.6,771.7 1515.1,771.5 1515.6,771.3 1516.1,771.1 1516.6,770.9 1517.1,770.8 1517.6,770.7 1518.1,770.7 1518.6,770.7 1519.1,770.7 1519.6,770.9 1520.1,771.1 1520.6,771.3 1521.1,771.5 1521.6,771.7 1522.1,772 1522.6,772.2 1523.1,772.4 1523.6,772.7 1524.1,773 1524.6,773.3 1525.1,773.6 1525.6,773.9 1526.1,774.2 1526.6,774.5 1527.1,774.9 1527.6,775.3 1528.1,775.6 1528.6,776 1529.1,776.3 1529.6,776.5 1530.1,776.7 1530.6,776.8 1531.1,777 1531.6,777.1 1532.1,777.1 1532.6,777 1533.1,776.8 1533.6,776.5 1534.1,776.1 1534.6,775.7 1535.1,775.3 1535.6,774.7 1536.1,774.1 1536.6,773.3 1537.1,772.5 1537.6,771.6 1538.1,770.4 1538.6,769.1 1539.1,767.7 1539.6,766.3 1540.1,764.8 1540.6,763.2 1541.1,761.5 1541.6,759.5 1542.1,757.3 1542.6,754.8 1543.1,752.3 1543.6,749.9 1544.1,747.5 1544.6,745 1545.1,742.5 1545.6,740 1546.1,737.5 1546.6,735 1547.1,732.5 1547.6,730 1548.1,727.4 1548.6,724.8 1549.1,722.1 1549.6,719.2 1550.1,716.3 1550.6,713.3 1551.1,710.3 1551.6,707.4 1552.1,704.6 1552.6,702 1553.1,699.5 1553.6,697 1554.1,694.7 1554.6,692.3 1555.1,690.1 1555.6,687.8 1556.1,685.7 1556.6,683.5 1557.1,681.4 1557.6,679.3 1558.1,677.2 1558.6,675.1 1559.1,673.1 1559.6,671.1 1560.1,669.3 1560.6,667.5 1561.1,665.9 1561.6,664.4 1562.1,662.9 1562.6,661.5 1563.1,660.2 1563.6,658.9 1564.1,657.8 1564.6,656.7 1565.1,655.6 1565.6,654.6 1566.1,653.6 1566.6,652.7 1567.1,651.8 1567.6,651.1 1568.1,650.4 1568.6,649.7 1569.1,649.1 1569.6,648.6 1570.1,648.1 1570.6,647.6 1571.1,647.2 1571.6,646.9 1572.1,646.6 1572.6,646.4 1573.1,646.2 1573.6,646 1574.1,645.9 1574.6,645.9 1575.1,645.9 1575.7,646.1 1576.2,646.2 1576.7,646.5 1577.2,646.7 1577.7,646.9 1578.2,647.3 1578.7,647.7 1579.2,648.1 1579.7,648.6 1580.2,649.2 1580.7,649.8 1581.2,650.5 1581.7,651.3 1582.2,652.2 1582.7,653.2 1583.2,654.3 1583.7,655.4 1584.2,656.7 1584.7,657.9 1585.2,659.3 1585.7,660.8 1586.2,662.3 1586.7,664 1587.2,665.8 1587.7,667.6 1588.2,669.4 1588.7,671.3 1589.2,673.2 1589.7,675.2 1590.2,677.3 1590.7,679.5 1591.2,681.7 1591.7,683.9 1592.2,686.2 1592.7,688.6 1593.2,691.1 1593.7,693.6 1594.2,696.2 1594.7,698.8 1595.2,701.5 1595.7,704.2 1596.2,706.9 1596.7,709.7 1597.2,712.6 1597.7,715.5 1598.2,718.4 1598.7,721.3 1599.2,724.2 1599.7,727.2 1600.2,730.2 1600.7,733.4 1601.2,736.4 1601.7,739.2 1602.2,741.7 1602.7,744 1603.2,746.2 1603.7,748.2 1604.2,750.3 1604.7,752.4 1605.2,754.5 1605.7,756.7 1606.2,758.8 1606.7,761 1607.2,763.1 1607.7,765 1608.2,766.9 1608.7,768.7 1609.2,770.4 1609.7,772 1610.2,773.6 1610.7,775.2 1611.2,776.8 1611.7,778.3 1612.2,779.8 1612.7,781.3 1613.2,782.7 1613.7,784.2 1614.2,785.6 1614.7,787 1615.2,788.3 1615.7,789.6 1616.2,790.9 1616.7,792 1617.2,793.2 1617.7,794.3 1618.2,795.4 1618.7,796.5 1619.2,797.5 1619.7,798.5 1620.2,799.4 1620.7,800.3 1621.2,801.2 1621.7,802.1 1622.2,802.9 1622.7,803.8 1623.2,804.5 1623.7,805.3 1624.2,806 1624.7,806.7 1625.2,807.3 1625.7,807.9 1626.2,808.5 1626.7,809 1627.2,809.5 1627.7,810 1628.2,810.3 1628.7,810.7 1629.2,811.1 1629.7,811.4 1630.2,811.7 1630.7,811.9 1631.2,812 1631.7,811.9 1632.2,811.7 1632.7,811.5 1633.2,811.2 1633.7,810.8 1634.2,810.4 1634.7,809.9 1635.2,809.2 1635.7,808.5 1636.2,807.7 1636.7,806.8 1637.2,805.9 1637.7,804.9 1638.2,803.7 1638.7,802.5 1639.2,801.2 1639.7,799.9 1640.2,798.5 1640.7,797.2 1641.2,795.9 1641.7,794.5 1642.2,793.2 1642.7,791.7 1643.2,790.3 1643.7,788.9 1644.2,787.4 1644.7,786 1645.2,784.6 1645.7,783.1 1646.2,781.7 1646.7,780.3 1647.2,778.8 1647.7,777.4 1648.2,776 1648.7,774.6 1649.2,773.3 1649.7,772 1650.2,770.7 1650.7,769.5 1651.2,768.2 1651.7,767 1652.2,765.8 1652.7,764.7 1653.2,763.6 1653.7,762.5 1654.2,761.4 1654.7,760.4 1655.2,759.3 1655.7,758.4 1656.2,757.4 1656.7,756.4 1657.2,755.5 1657.7,754.6 1658.2,753.7 1658.7,752.9 1659.2,752 1659.7,751.1 1660.2,750.3 1660.7,749.5 1661.2,748.7 1661.7,747.9 1662.2,747.3 1662.7,746.7 1663.2,746.2 1663.7,745.6 1664.2,745.1 1664.7,744.7 1665.2,744.3 1665.7,743.9 1666.2,743.7 1666.7,743.6 1667.2,743.4 1667.7,743.3 1668.2,743.3 1668.7,743.2 1669.2,743.2 1669.7,743.1 1670.2,743.2 1670.7,743.3 1671.2,743.4 1671.7,743.6 1672.2,743.8 1672.7,744.1 1673.2,744.3 1673.7,744.6 1674.2,744.8 1674.7,745.2 1675.2,745.5 1675.7,746 1676.2,746.4 1676.7,746.9 1677.2,747.4 1677.7,748 1678.2,748.5 1678.7,749.1 1679.2,749.8 1679.7,750.5 1680.2,751.2 1680.7,752 1681.2,752.8 1681.7,753.6 1682.2,754.4 1682.7,755.2 1683.2,755.9 1683.7,756.7 1684.2,757.4 1684.7,758.2 1685.2,758.9 1685.7,759.7 1686.2,760.4 1686.7,761.2 1687.2,761.9 1687.7,762.6 1688.2,763.3 1688.7,764 1689.2,764.8 1689.7,765.5 1690.2,766.2 1690.7,766.9 1691.2,767.6 1691.7,768.2 1692.2,768.9 1692.7,769.6 1693.2,770.2 1693.7,770.8 1694.2,771.4 1694.7,772 1695.2,772.5 1695.7,773.1 1696.2,773.7 1696.7,774.3 1697.2,774.8 1697.7,775.3 1698.2,775.8 1698.7,776.3 1699.2,776.7 1699.7,777.1 1700.2,777.5 1700.7,777.8 1701.2,778.1 1701.7,778.4 1702.2,778.6 1702.7,778.8 1703.2,779.1 1703.7,779.3 1704.2,779.5 1704.7,779.7 1705.2,780 1705.7,780.2 1706.2,780.4 1706.7,780.6 1707.2,780.7 1707.7,780.8 1708.2,780.9 1708.7,781 1709.2,781 1709.7,781.1 1710.2,781.2 1710.7,781.2 1711.2,781.3 1711.7,781.3 1712.2,781.4 1712.7,781.4 1713.2,781.5 1713.7,781.5 1714.2,781.6 1714.7,781.6 1715.2,781.7 1715.7,781.8 1716.2,781.9 1716.7,782 1717.2,782.2 1717.7,782.4 1718.2,782.7 1718.7,782.9 1719.2,783.2 1719.7,783.4 1720.2,783.7 1720.7,784 1721.2,784.4 1721.7,784.7 1722.2,785.1 1722.7,785.6 1723.2,786 1723.7,786.5 1724.2,787 1724.7,787.5 1725.2,788.1 1725.7,788.7 1726.2,789.3 1726.7,790 1727.2,790.7 1727.7,791.4 1728.2,792 1728.7,792.7 1729.2,793.3 1729.7,794 1730.2,794.6 1730.7,795.3 1731.2,796 1731.7,796.6 1732.2,797.3 1732.7,798 1733.2,798.8 1733.7,799.5 1734.2,800.3 1734.7,801 1735.2,801.8 1735.7,802.6 1736.2,803.4 1736.7,804.1 1737.2,804.9 1737.7,805.7 1738.2,806.4 1738.7,807.2 1739.2,808 1739.7,808.8 1740.2,809.5 1740.7,810.2 1741.2,810.8 1741.7,811.5 1742.2,812.1 1742.7,812.7 1743.2,813.2 1743.7,813.7 1744.2,814 1744.7,814.4 1745.2,814.7 1745.7,815 1746.2,815.1 1746.7,815 1747.2,814.6 1747.7,814.1 1748.2,813.4 1748.7,812.7 1749.2,812.1 1749.7,811.4 1750.2,810.8 1750.7,810 1751.2,809.2 1751.7,808.4 1752.2,807.6 1752.7,806.8 1753.2,806.1 1753.7,805.2 1754.2,804.4 1754.7,803.6 1755.2,802.8 1755.7,802 1756.2,801.1 1756.7,800.4 1757.2,799.6 1757.7,798.9 1758.2,798.1 1758.7,797.3 1759.2,796.6 1759.7,795.9 1760.2,795.2 1760.7,794.6 1761.2,794.1 1761.7,793.6 1762.2,793.2 1762.7,792.7 1763.2,792.3 1763.7,792 1764.2,791.6 1764.7,791.3 1765.2,791 1765.7,790.7 1766.2,790.5 1766.7,790.2 1767.2,790 1767.7,789.8 1768.2,789.6 1768.7,789.4 1769.2,789.2 1769.7,789 1770.2,788.9 1770.7,788.7 1771.2,788.7 1771.7,788.6 1772.2,788.7 1772.7,788.7 1773.2,788.8 1773.7,788.9 1774.2,789 1774.7,789.1 1775.2,789.2 1775.7,789.4 1776.2,789.5 1776.7,789.7 1777.2,789.9 1777.7,790.1 1778.2,790.3 1778.7,790.6 1779.2,790.9 1779.7,791.2 1780.2,791.6 1780.7,791.9 1781.2,792.3 1781.7,792.7 1782.2,793.1 1782.7,793.5 1783.2,794 1783.7,794.4 1784.2,794.9 1784.7,795.5 1785.2,796 1785.7,796.6 1786.2,797.1 1786.7,797.7 1787.2,798.2 1787.7,798.8 1788.2,799.3 1788.7,799.9 1789.2,800.5 1789.7,801.1 1790.2,801.6 1790.7,802.2 1791.2,802.8 1791.7,803.4 1792.2,804 1792.7,804.7 1793.2,805.3 1793.7,806 1794.2,806.6 1794.7,807.3 1795.2,807.9 1795.7,808.5 1796.2,809.1 1796.7,809.6 1797.2,810.2 1797.7,810.7 1798.2,811.2 1798.7,811.7 1799.2,812.1 1799.7,812.5 1800.2,812.9 1800.7,813.3 1801.2,813.6 1801.7,814 1802.2,814.3 1802.7,814.5 1803.2,814.7 1803.7,814.8 1804.2,814.9 1804.7,815 1805.2,815.1 1805.7,815 1806.2,815 1806.7,814.9 1807.2,814.7 1807.7,814.5 1808.2,814.3 1808.7,814.1 1809.2,813.8 1809.7,813.6 1810.2,813.4 1810.7,813.2 1811.2,813 1811.7,812.7 1812.2,812.4 1812.7,812.2 1813.2,812 1813.7,811.7 1814.2,811.5 1814.7,811.4 1815.2,811.2 1815.7,811 1816.2,810.8 1816.7,810.7 1817.2,810.5 1817.7,810.4 1818.2,810.3 1818.7,810.2 1819.2,810.2 1819.7,810.1 1820.2,810.1 1820.7,810.1 1821.2,810.1 1821.7,810 1822.2,810 1822.7,810 1823.2,810 1823.7,810 1824.2,810 1824.7,810 1825.2,810 1825.7,810 1826.2,810.1 1826.7,810.1 1827.2,810.2 1827.7,810.2 1828.2,810.3 1828.7,810.3 1829.2,810.4 1829.7,810.4 1830.2,810.4 1830.7,810.4 1831.2,810.4 1831.7,810.4 1832.2,810.4 1832.7,810.4 1833.2,810.3 1833.7,810.3 1834.2,810.3 1834.7,810.3 1835.2,810.3 1835.7,810.2 1836.2,810.2 1836.7,810.2 1837.2,810.1 1837.7,810 1838.2,809.9 1838.7,809.7 1839.2,809.6 1839.7,809.4 1840.2,809.2 1840.7,809 1841.2,808.9 1841.7,808.7 1842.2,808.5 1842.7,808.3 1843.2,808.1 1843.7,807.8 1844.2,807.6 1844.7,807.4 1845.2,807.1 1845.7,806.9 1846.2,806.6 1846.7,806.4 1847.2,806.1 1847.7,805.9 1848.2,805.6 1848.7,805.3 1849.2,805 1849.7,804.7 1850.2,804.5 1850.7,804.2 1851.2,803.9 1851.8,803.6 1852.3,803.3 1852.8,803.1 1853.3,802.8 1853.8,802.6 1854.3,802.4 1854.8,802.1 1855.3,801.9 1855.8,801.7 1856.3,801.5 1856.8,801.2 1857.3,801 1857.8,800.8 1858.3,800.6 1858.8,800.4 1859.3,800.2 1859.8,800 1860.3,799.8 1860.8,799.5 1861.3,799.3 1861.8,799.1 1862.3,798.9 1862.8,798.6 1863.3,798.4 1863.8,798.2 1864.3,798 1864.8,797.8 1865.3,797.6 1865.8,797.4 1866.3,797.3 1866.8,797.1 1867.3,797 1867.8,796.9 1868.3,796.8 1868.8,796.7 1869.3,796.7 1869.8,796.6 1870.3,796.5 1870.8,796.4 1871.3,796.4 1871.8,796.3 1872.3,796.3 1872.8,796.2 1873.3,796.2 1873.8,796.2 1874.3,796.2 1874.8,796.2 1875.3,796.3 1875.8,796.3 1876.3,796.4 1876.8,796.5 1877.3,796.6 1877.8,796.8 1878.3,796.9 1878.8,797 1879.3,797.1 1879.8,797.3 1880.3,797.4 1880.8,797.6 1881.3,797.7 1881.8,797.9 1882.3,798.1 1882.8,798.3 1883.3,798.5 1883.8,798.7 1884.3,799 1884.8,799.2 1885.3,799.5 1885.8,799.7 1886.3,800 1886.8,800.3 1887.3,800.7 1887.8,801 1888.3,801.4 1888.8,801.8 1889.3,802.2 1889.8,802.6 1890.3,803 1890.8,803.5 1891.3,803.9 1891.8,804.3 1892.3,804.8 1892.8,805.3 1893.3,805.7 1893.8,806.2 1894.3,806.8 1894.8,807.3 1895.3,807.8 1895.8,808.3 1896.3,808.8 1896.8,809.4 1897.3,809.9 1897.8,810.4 1898.3,810.9 1898.8,811.4 1899.3,811.9 1899.8,812.4 1900.3,812.9 1900.8,813.4 1901.3,813.9 1901.8,814.4 1902.3,814.9 1902.8,815.4 1903.3,815.9 1903.8,816.4 1904.3,816.9 1904.8,817.5 1905.3,818 1905.8,818.5 1906.3,818.9 1906.8,819.3 1907.3,819.6 1907.8,819.9 1908.3,820.1 1908.8,820.3 1909.3,820.4 1909.8,820.3 1910.3,820.1 1910.8,819.9 1911.3,819.6 1911.8,819.2 1912.3,818.9 1912.8,818.6 1913.3,818.2 1913.8,817.8 1914.3,817.4 1914.8,816.9 1915.3,816.5 1915.8,816.1 1916.3,815.8 1916.8,815.4 1917.3,815 1917.8,814.7 1918.3,814.3 1918.8,814 1919.3,813.6 1919.8,813.3 1920.3,813 1920.8,812.6 1921.3,812.3 1921.8,812 1922.3,811.7 1922.8,811.3 1923.3,811 1923.8,810.7 1924.3,810.5 1924.8,810.2 1925.3,810 1925.8,809.8 1926.3,809.6 1926.8,809.4 1927.3,809.2 1927.8,809 1928.3,808.8 1928.8,808.6 1929.3,808.5 1929.8,808.3 1930.3,808.2 1930.8,808 1931.3,807.9 1931.8,807.9 1932.3,807.8 1932.8,807.7 1933.3,807.7 1933.8,807.8 1934.3,807.8 1934.8,807.9 1935.3,808 1935.8,808.1 1936.3,808.3 1936.8,808.4 1937.3,808.6 1937.8,808.8 1938.3,808.9 1938.8,809.1 1939.3,809.3 1939.8,809.5 1940.3,809.7 1940.8,809.9 1941.3,810.2 1941.8,810.4 1942.3,810.7 1942.8,811 1943.3,811.3 1943.8,811.6 1944.3,811.9 1944.8,812.2 1945.3,812.5 1945.8,812.8 1946.3,813.1 1946.8,813.5 1947.3,813.9 1947.8,814.3 1948.3,814.7 1948.8,815.1 1949.3,815.5 1949.8,815.9 1950.3,816.3 1950.8,816.7 1951.3,817 1951.8,817.4 1952.3,817.8 1952.8,818.2 1953.3,818.6 1953.8,819 1954.3,819.4 1954.8,819.8 1955.3,820.1 1955.8,820.4 1956.3,820.7 1956.8,820.9 1957.3,821.1 1957.8,821.3 1958.3,821.3 1958.8,821.2 1959.3,821 1959.8,820.7 1960.3,820.5 1960.8,820.2 1961.3,819.8 1961.8,819.4 1962.3,818.9 1962.8,818.4 1963.3,818 1963.8,817.5 1964.3,817.1 1964.8,816.7 1965.3,816.3 1965.8,816 1966.3,815.6 1966.8,815.3 1967.3,815 1967.8,814.8 1968.3,814.5 1968.8,814.3 1969.3,814.1 1969.8,813.8 1970.3,813.6 1970.8,813.5 1971.3,813.3 1971.8,813.1 1972.3,813 1972.8,812.8 1973.3,812.7 1973.8,812.6 1974.3,812.4 1974.8,812.3 1975.3,812.2 1975.8,812.1 1976.3,812 1976.8,812 1977.3,812 1977.8,812 1978.3,812 1978.8,812 1979.3,812.1 1979.8,812.2 1980.3,812.3 1980.8,812.4 1981.3,812.5 1981.8,812.6 1982.3,812.7 1982.8,812.8 1983.3,813 1983.8,813.1 1984.3,813.2 1984.8,813.3 1985.3,813.5 1985.8,813.7 1986.3,813.8 1986.8,814 1987.3,814.2 1987.8,814.4 1988.3,814.6 1988.8,814.8 1989.3,815.1" fill="none" stroke="#787878" stroke-width="2.0" stroke-linejoin="round" stroke-linecap="butt"/>
<polyline points="1437.6,798.9 1438.1,799 1438.6,799.2 1439.1,799.4 1439.6,799.7 1440.1,799.9 1440.6,800.1 1441.1,800.3 1441.6,800.6 1442.1,800.8 1442.6,801 1443.1,801.3 1443.6,801.5 1444.1,801.8 1444.6,802.1 1445.1,802.4 1445.6,802.6 1446.1,802.9 1446.6,803.3 1447.1,803.6 1447.6,803.9 1448.1,804.2 1448.6,804.6 1449.1,805 1449.6,805.4 1450.1,805.8 1450.6,806.2 1451.1,806.6 1451.6,807 1452.1,807.4 1452.6,807.7 1453.1,808.1 1453.6,808.4 1454.1,808.8 1454.6,809.1 1455.1,809.5 1455.6,809.7 1456.1,810 1456.6,810.1 1457.1,810.2 1457.6,810.1 1458.1,810 1458.6,809.7 1459.1,809.4 1459.6,809 1460.1,808.6 1460.6,808.2 1461.1,807.8 1461.6,807.4 1462.1,807.1 1462.6,806.7 1463.1,806.2 1463.6,805.8 1464.1,805.3 1464.6,804.9 1465.1,804.4 1465.6,803.9 1466.1,803.5 1466.6,803 1467.1,802.6 1467.6,802.1 1468.1,801.6 1468.6,801.2 1469.1,800.7 1469.6,800.2 1470.1,799.8 1470.6,799.3 1471.1,798.9 1471.6,798.6 1472.1,798.2 1472.6,797.9 1473.1,797.7 1473.6,797.4 1474.1,797.1 1474.6,796.9 1475.1,796.6 1475.6,796.4 1476.1,796.2 1476.6,796.1 1477.1,796 1477.6,796 1478.1,796 1478.6,796.1 1479.1,796.2 1479.6,796.4 1480.1,796.6 1480.6,796.9 1481.1,797.1 1481.6,797.4 1482.1,797.7 1482.6,797.9 1483.1,798.2 1483.6,798.6 1484.1,798.9 1484.6,799.3 1485.1,799.7 1485.6,800.1 1486.1,800.5 1486.6,801 1487.1,801.4 1487.6,801.9 1488.1,802.4 1488.6,802.9 1489.1,803.5 1489.6,804 1490.1,804.6 1490.6,805.1 1491.1,805.6 1491.6,806 1492.1,806.4 1492.6,806.8 1493.1,807.3 1493.6,807.7 1494.1,808.1 1494.6,808.4 1495.1,808.7 1495.6,808.9 1496.1,809.1 1496.6,809.1 1497.1,808.9 1497.6,808.7 1498.1,808.4 1498.6,808 1499.1,807.6 1499.6,807.1 1500.1,806.6 1500.6,806.1 1501.1,805.7 1501.6,805.2 1502.1,804.6 1502.6,804 1503.1,803.4 1503.6,802.7 1504.1,802 1504.6,801.2 1505.1,800.5 1505.6,799.8 1506.1,799 1506.6,798.2 1507.1,797.3 1507.6,796.4 1508.1,795.5 1508.6,794.7 1509.1,793.8 1509.6,793.1 1510.1,792.3 1510.6,791.5 1511.1,790.7 1511.6,790 1512.1,789.3 1512.6,788.6 1513.1,788 1513.6,787.5 1514.1,786.9 1514.6,786.4 1515.1,786 1515.6,785.5 1516.1,785.2 1516.6,784.9 1517.1,784.7 1517.6,784.4 1518.1,784.2 1518.6,784.1 1519.1,784 1519.6,784 1520.1,784.1 1520.6,784.2 1521.1,784.3 1521.6,784.5 1522.1,784.7 1522.6,784.9 1523.1,785.1 1523.6,785.3 1524.1,785.5 1524.6,785.7 1525.1,785.9 1525.6,786.2 1526.1,786.4 1526.6,786.7 1527.1,787 1527.6,787.3 1528.1,787.6 1528.6,787.8 1529.1,787.8 1529.6,787.9 1530.1,787.9 1530.6,788 1531.1,788 1531.6,787.9 1532.1,787.7 1532.6,787.5 1533.1,787.1 1533.6,786.7 1534.1,786.2 1534.6,785.7 1535.1,784.9 1535.6,784.1 1536.1,783.1 1536.6,782 1537.1,780.8 1537.6,779.3 1538.1,777.8 1538.6,776.1 1539.1,774.4 1539.6,772.6 1540.1,770.7 1540.6,768.7 1541.1,766.7 1541.6,764.6 1542.1,762.4 1542.6,760.2 1543.1,757.9 1543.6,755.5 1544.1,753.1 1544.6,750.5 1545.1,747.9 1545.6,745.2 1546.1,742.4 1546.6,739.6 1547.1,736.8 1547.6,733.9 1548.1,731 1548.6,728 1549.1,725.1 1549.6,722.2 1550.1,719.3 1550.6,716.4 1551.1,713.5 1551.6,710.5 1552.1,707.7 1552.6,704.8 1553.1,702 1553.6,699.3 1554.1,696.6 1554.6,693.9 1555.1,691.2 1555.6,688.6 1556.1,686.1 1556.6,683.7 1557.1,681.4 1557.6,679.2 1558.1,677 1558.6,675 1559.1,673 1559.6,671.1 1560.1,669.2 1560.6,667.5 1561.1,665.9 1561.6,664.4 1562.1,662.9 1562.6,661.5 1563.1,660.2 1563.6,658.9 1564.1,657.8 1564.6,656.7 1565.1,655.6 1565.6,654.6 1566.1,653.6 1566.6,652.7 1567.1,651.8 1567.6,651.1 1568.1,650.4 1568.6,649.7 1569.1,649.1 1569.6,648.6 1570.1,648.1 1570.6,647.6 1571.1,647.2 1571.6,646.9 1572.1,646.6 1572.6,646.4 1573.1,646.2 1573.6,646 1574.1,645.9 1574.6,645.9 1575.1,645.9 1575.7,646.1 1576.2,646.2 1576.7,646.5 1577.2,646.7 1577.7,646.9 1578.2,647.3 1578.7,647.7 1579.2,648.1 1579.7,648.6 1580.2,649.2 1580.7,649.8 1581.2,650.5 1581.7,651.3 1582.2,652.2 1582.7,653.2 1583.2,654.3 1583.7,655.4 1584.2,656.7 1584.7,657.9 1585.2,659.3 1585.7,660.8 1586.2,662.3 1586.7,664 1587.2,665.8 1587.7,667.6 1588.2,669.4 1588.7,671.3 1589.2,673.2 1589.7,675.2 1590.2,677.3 1590.7,679.5 1591.2,681.7 1591.7,683.9 1592.2,686.2 1592.7,688.6 1593.2,691.1 1593.7,693.6 1594.2,696.2 1594.7,698.8 1595.2,701.5 1595.7,704.2 1596.2,706.9 1596.7,709.7 1597.2,712.6 1597.7,715.5 1598.2,718.4 1598.7,721.3 1599.2,724.2 1599.7,727.2 1600.2,730.2 1600.7,733.4 1601.2,736.4 1601.7,739.2 1602.2,741.7 1602.7,744 1603.2,746.2 1603.7,748.2 1604.2,750.3 1604.7,752.4 1605.2,754.5 1605.7,756.7 1606.2,758.8 1606.7,761 1607.2,763.1 1607.7,765 1608.2,766.9 1608.7,768.7 1609.2,770.4 1609.7,772 1610.2,773.6 1610.7,775.2 1611.2,776.8 1611.7,778.3 1612.2,779.8 1612.7,781.3 1613.2,782.7 1613.7,784.2 1614.2,785.6 1614.7,787 1615.2,788.3 1615.7,789.6 1616.2,790.9 1616.7,792 1617.2,793.2 1617.7,794.3 1618.2,795.4 1618.7,796.4 1619.2,797.5 1619.7,798.4 1620.2,799.4 1620.7,800.4 1621.2,801.3 1621.7,802.2 1622.2,803.1 1622.7,803.9 1623.2,804.8 1623.7,805.6 1624.2,806.3 1624.7,807.1 1625.2,807.8 1625.7,808.5 1626.2,809.3 1626.7,809.9 1627.2,810.5 1627.7,811.1 1628.2,811.5 1628.7,811.9 1629.2,812.3 1629.7,812.7 1630.2,813 1630.7,813.2 1631.2,813.3 1631.7,813.2 1632.2,813 1632.7,812.6 1633.2,812.1 1633.7,811.5 1634.2,811 1634.7,810.3 1635.2,809.4 1635.7,808.5 1636.2,807.4 1636.7,806.4 1637.2,805.3 1637.7,804.2 1638.2,802.9 1638.7,801.6 1639.2,800.3 1639.7,798.9 1640.2,797.5 1640.7,796.1 1641.2,794.7 1641.7,793.3 1642.2,791.8 1642.7,790.3 1643.2,788.8 1643.7,787.3 1644.2,785.8 1644.7,784.3 1645.2,782.8 1645.7,781.3 1646.2,779.8 1646.7,778.3 1647.2,776.8 1647.7,775.3 1648.2,773.8 1648.7,772.4 1649.2,771.1 1649.7,769.8 1650.2,768.5 1650.7,767.3 1651.2,766.1 1651.7,764.9 1652.2,763.8 1652.7,762.7 1653.2,761.5 1653.7,760.5 1654.2,759.4 1654.7,758.3 1655.2,757.3 1655.7,756.3 1656.2,755.3 1656.7,754.3 1657.2,753.3 1657.7,752.4 1658.2,751.5 1658.7,750.6 1659.2,749.8 1659.7,748.9 1660.2,748 1660.7,747.2 1661.2,746.4 1661.7,745.6 1662.2,745 1662.7,744.4 1663.2,744 1663.7,743.6 1664.2,743.2 1664.7,742.8 1665.2,742.5 1665.7,742.2 1666.2,742 1666.7,741.8 1667.2,741.6 1667.7,741.4 1668.2,741.2 1668.7,741 1669.2,741 1669.7,740.9 1670.2,741 1670.7,741.1 1671.2,741.3 1671.7,741.6 1672.2,741.9 1672.7,742.2 1673.2,742.6 1673.7,743 1674.2,743.4 1674.7,743.8 1675.2,744.4 1675.7,745 1676.2,745.6 1676.7,746.3 1677.2,747.1 1677.7,747.8 1678.2,748.5 1678.7,749.3 1679.2,750.1 1679.7,750.9 1680.2,751.8 1680.7,752.7 1681.2,753.5 1681.7,754.4 1682.2,755.3 1682.7,756.2 1683.2,757 1683.7,757.9 1684.2,758.7 1684.7,759.5 1685.2,760.3 1685.7,761.2 1686.2,762 1686.7,762.8 1687.2,763.6 1687.7,764.5 1688.2,765.3 1688.7,766.1 1689.2,767 1689.7,767.9 1690.2,768.9 1690.7,769.8 1691.2,770.6 1691.7,771.5 1692.2,772.3 1692.7,773 1693.2,773.8 1693.7,774.5 1694.2,775.2 1694.7,775.9 1695.2,776.5 1695.7,777.2 1696.2,777.7 1696.7,778.2 1697.2,778.7 1697.7,779.1 1698.2,779.5 1698.7,779.9 1699.2,780.3 1699.7,780.6 1700.2,780.9 1700.7,781.3 1701.2,781.6 1701.7,781.9 1702.2,782.2 1702.7,782.5 1703.2,782.8 1703.7,783.1 1704.2,783.4 1704.7,783.7 1705.2,783.9 1705.7,784.1 1706.2,784.2 1706.7,784.4 1707.2,784.5 1707.7,784.6 1708.2,784.7 1708.7,784.8 1709.2,784.9 1709.7,785.1 1710.2,785.2 1710.7,785.3 1711.2,785.5 1711.7,785.6 1712.2,785.7 1712.7,785.9 1713.2,786 1713.7,786.2 1714.2,786.3 1714.7,786.5 1715.2,786.7 1715.7,786.9 1716.2,787.1 1716.7,787.4 1717.2,787.6 1717.7,787.9 1718.2,788.2 1718.7,788.5 1719.2,788.8 1719.7,789.2 1720.2,789.5 1720.7,789.9 1721.2,790.3 1721.7,790.7 1722.2,791.1 1722.7,791.5 1723.2,792 1723.7,792.5 1724.2,792.9 1724.7,793.5 1725.2,794 1725.7,794.6 1726.2,795.2 1726.7,795.8 1727.2,796.4 1727.7,797 1728.2,797.6 1728.7,798.2 1729.2,798.8 1729.7,799.4 1730.2,800 1730.7,800.6 1731.2,801.3 1731.7,801.9 1732.2,802.5 1732.7,803.1 1733.2,803.8 1733.7,804.4 1734.2,805 1734.7,805.7 1735.2,806.3 1735.7,806.9 1736.2,807.6 1736.7,808.2 1737.2,808.8 1737.7,809.4 1738.2,810 1738.7,810.5 1739.2,811.1 1739.7,811.7 1740.2,812.3 1740.7,812.8 1741.2,813.4 1741.7,813.9 1742.2,814.5 1742.7,815.1 1743.2,815.6 1743.7,816.2 1744.2,816.7 1744.7,817.3 1745.2,817.8 1745.7,818.2 1746.2,818.7 1746.7,819.3 1747.2,819.8 1747.7,820.4 1748.2,820.9 1748.7,821.3 1749.2,821.7 1749.7,822 1750.2,822.1 1750.7,822.1 1751.2,821.9 1751.7,821.5 1752.2,820.9 1752.7,820.3 1753.2,819.7 1753.7,819.2 1754.2,818.8 1754.7,818.5 1755.2,818.2 1755.7,817.9 1756.2,817.6 1756.7,817.3 1757.2,817.1 1757.7,816.8 1758.2,816.6 1758.7,816.4 1759.2,816.1 1759.7,815.9 1760.2,815.7 1760.7,815.5 1761.2,815.3 1761.7,815.2 1762.2,815.1 1762.7,814.9 1763.2,814.8 1763.7,814.7 1764.2,814.6 1764.7,814.6 1765.2,814.5 1765.7,814.4 1766.2,814.4 1766.7,814.4 1767.2,814.4 1767.7,814.5 1768.2,814.5 1768.7,814.6 1769.2,814.7 1769.7,814.8 1770.2,814.9 1770.7,815 1771.2,815.1 1771.7,815.2 1772.2,815.4 1772.7,815.5 1773.2,815.6 1773.7,815.8 1774.2,815.9 1774.7,816 1775.2,816.2 1775.7,816.4 1776.2,816.5 1776.7,816.7 1777.2,817 1777.7,817.2 1778.2,817.4 1778.7,817.6 1779.2,817.8 1779.7,817.9 1780.2,818.1 1780.7,818.2 1781.2,818.3 1781.7,818.5 1782.2,818.6 1782.7,818.7 1783.2,818.8 1783.7,818.9 1784.2,819 1784.7,819.1 1785.2,819.2 1785.7,819.2 1786.2,819.3 1786.7,819.3 1787.2,819.3 1787.7,819.3 1788.2,819.2 1788.7,819.2 1789.2,819.2 1789.7,819.1 1790.2,819 1790.7,819 1791.2,818.9 1791.7,818.8 1792.2,818.7 1792.7,818.7 1793.2,818.6 1793.7,818.5 1794.2,818.4 1794.7,818.4 1795.2,818.3 1795.7,818.2 1796.2,818.2 1796.7,818.1 1797.2,818.1 1797.7,818 1798.2,818 1798.7,817.9 1799.2,817.8 1799.7,817.8 1800.2,817.7 1800.7,817.7 1801.2,817.6 1801.7,817.6 1802.2,817.6 1802.7,817.5 1803.2,817.5 1803.7,817.5 1804.2,817.5 1804.7,817.5 1805.2,817.6 1805.7,817.6 1806.2,817.7 1806.7,817.7 1807.2,817.8 1807.7,817.9 1808.2,818 1808.7,818.1 1809.2,818.3 1809.7,818.4 1810.2,818.5 1810.7,818.6 1811.2,818.8 1811.7,818.9 1812.2,819 1812.7,819.1 1813.2,819.2 1813.7,819.3 1814.2,819.4 1814.7,819.5 1815.2,819.6 1815.7,819.7 1816.2,819.8 1816.7,819.9 1817.2,820 1817.7,820.1 1818.2,820.2 1818.7,820.3 1819.2,820.4 1819.7,820.5 1820.2,820.5 1820.7,820.6 1821.2,820.7 1821.7,820.8 1822.2,820.8 1822.7,820.9 1823.2,820.9 1823.7,820.9 1824.2,820.9 1824.7,820.9 1825.2,820.9 1825.7,820.9 1826.2,820.9 1826.7,820.8 1827.2,820.7 1827.7,820.6 1828.2,820.6 1828.7,820.5 1829.2,820.4 1829.7,820.3 1830.2,820.2 1830.7,820.1 1831.2,820 1831.7,819.9 1832.2,819.8 1832.7,819.8 1833.2,819.7 1833.7,819.6 1834.2,819.5 1834.7,819.5 1835.2,819.4 1835.7,819.3 1836.2,819.2 1836.7,819.2 1837.2,819.1 1837.7,819 1838.2,819 1838.7,818.9 1839.2,818.8 1839.7,818.8 1840.2,818.8 1840.7,818.7 1841.2,818.7 1841.7,818.7 1842.2,818.7 1842.7,818.8 1843.2,818.8 1843.7,818.8 1844.2,818.9 1844.7,818.9 1845.2,819 1845.7,819.1 1846.2,819.2 1846.7,819.2 1847.2,819.3 1847.7,819.4 1848.2,819.5 1848.7,819.6 1849.2,819.7 1849.7,819.8 1850.2,819.9 1850.7,820 1851.2,820.1 1851.8,820.2 1852.3,820.2 1852.8,820.3 1853.3,820.4 1853.8,820.5 1854.3,820.5 1854.8,820.6 1855.3,820.7 1855.8,820.8 1856.3,820.9 1856.8,821 1857.3,821.1 1857.8,821.2 1858.3,821.2 1858.8,821.3 1859.3,821.4 1859.8,821.5 1860.3,821.5 1860.8,821.6 1861.3,821.7 1861.8,821.7 1862.3,821.7 1862.8,821.8 1863.3,821.8 1863.8,821.8 1864.3,821.8 1864.8,821.8 1865.3,821.7 1865.8,821.7 1866.3,821.6 1866.8,821.5 1867.3,821.5 1867.8,821.4 1868.3,821.3 1868.8,821.2 1869.3,821.2 1869.8,821.1 1870.3,821 1870.8,820.9 1871.3,820.9 1871.8,820.8 1872.3,820.8 1872.8,820.7 1873.3,820.6 1873.8,820.6 1874.3,820.5 1874.8,820.5 1875.3,820.4 1875.8,820.4 1876.3,820.3 1876.8,820.3 1877.3,820.2 1877.8,820.2 1878.3,820.2 1878.8,820.2 1879.3,820.2 1879.8,820.2 1880.3,820.2 1880.8,820.2 1881.3,820.3 1881.8,820.3 1882.3,820.4 1882.8,820.4 1883.3,820.5 1883.8,820.6 1884.3,820.7 1884.8,820.7 1885.3,820.8 1885.8,820.9 1886.3,821 1886.8,821.1 1887.3,821.1 1887.8,821.2 1888.3,821.3 1888.8,821.4 1889.3,821.4 1889.8,821.5 1890.3,821.5 1890.8,821.6 1891.3,821.6 1891.8,821.7 1892.3,821.8 1892.8,821.8 1893.3,821.9 1893.8,822 1894.3,822 1894.8,822.1 1895.3,822.1 1895.8,822.2 1896.3,822.2 1896.8,822.3 1897.3,822.3 1897.8,822.4 1898.3,822.4 1898.8,822.4 1899.3,822.4 1899.8,822.4 1900.3,822.4 1900.8,822.3 1901.3,822.3 1901.8,822.3 1902.3,822.2 1902.8,822.1 1903.3,822.1 1903.8,822 1904.3,822 1904.8,821.9 1905.3,821.9 1905.8,821.8 1906.3,821.7 1906.8,821.7 1907.3,821.7 1907.8,821.6 1908.3,821.6 1908.8,821.5 1909.3,821.5 1909.8,821.4 1910.3,821.3 1910.8,821.3 1911.3,821.2 1911.8,821.2 1912.3,821.2 1912.8,821.1 1913.3,821.1 1913.8,821.1 1914.3,821.1 1914.8,821.1 1915.3,821.1 1915.8,821.1 1916.3,821.1 1916.8,821.1 1917.3,821.1 1917.8,821.2 1918.3,821.2 1918.8,821.3 1919.3,821.3 1919.8,821.4 1920.3,821.4 1920.8,821.5 1921.3,821.5 1921.8,821.6 1922.3,821.7 1922.8,821.7 1923.3,821.8 1923.8,821.9 1924.3,821.9 1924.8,822 1925.3,822 1925.8,822.1 1926.3,822.1 1926.8,822.2 1927.3,822.2 1927.8,822.3 1928.3,822.3 1928.8,822.3 1929.3,822.4 1929.8,822.4 1930.3,822.5 1930.8,822.5 1931.3,822.6 1931.8,822.6 1932.3,822.7 1932.8,822.7 1933.3,822.8 1933.8,822.8 1934.3,822.9 1934.8,822.9 1935.3,822.9 1935.8,823 1936.3,823 1936.8,823 1937.3,823 1937.8,823 1938.3,823.1 1938.8,823.1 1939.3,823.1 1939.8,823.1 1940.3,823 1940.8,823 1941.3,823 1941.8,823 1942.3,823 1942.8,823 1943.3,823 1943.8,822.9 1944.3,822.9 1944.8,822.9 1945.3,822.9 1945.8,822.9 1946.3,822.8 1946.8,822.8 1947.3,822.8 1947.8,822.8 1948.3,822.8 1948.8,822.7 1949.3,822.7 1949.8,822.7 1950.3,822.7 1950.8,822.7 1951.3,822.6 1951.8,822.6 1952.3,822.6 1952.8,822.6 1953.3,822.6 1953.8,822.6 1954.3,822.6 1954.8,822.6 1955.3,822.6 1955.8,822.5 1956.3,822.5 1956.8,822.5 1957.3,822.5 1957.8,822.5 1958.3,822.5 1958.8,822.5 1959.3,822.5 1959.8,822.5 1960.3,822.4 1960.8,822.4 1961.3,822.4 1961.8,822.4 1962.3,822.4 1962.8,822.4 1963.3,822.4 1963.8,822.4 1964.3,822.4 1964.8,822.4 1965.3,822.4 1965.8,822.4 1966.3,822.4 1966.8,822.4 1967.3,822.4 1967.8,822.4 1968.3,822.4 1968.8,822.5 1969.3,822.5 1969.8,822.5 1970.3,822.6 1970.8,822.6 1971.3,822.6 1971.8,822.7 1972.3,822.7 1972.8,822.8 1973.3,822.8 1973.8,822.8 1974.3,822.9 1974.8,822.9 1975.3,823 1975.8,823 1976.3,823 1976.8,823 1977.3,823 1977.8,823.1 1978.3,823.1 1978.8,823.1 1979.3,823.1 1979.8,823.1 1980.3,823.1 1980.8,823.1 1981.3,823.1 1981.8,823.1 1982.3,823.1 1982.8,823.1 1983.3,823.1 1983.8,823.1 1984.3,823.1 1984.8,823.1 1985.3,823.1 1985.8,823.1 1986.3,823.1 1986.8,823.1 1987.3,823.1 1987.8,823.1 1988.3,823.1 1988.8,823.1 1989.3,823.1" fill="none" stroke="#0a0aff" stroke-width="2.2" stroke-linejoin="round" stroke-linecap="butt"/>
<polyline points="1437.6,1042 1438.1,1040.9 1438.6,1039.9 1439.1,1038.9 1439.6,1037.9 1440.1,1037 1440.6,1036.2 1441.1,1035.3 1441.6,1034.6 1442.1,1033.8 1442.6,1033.1 1443.1,1032.4 1443.6,1031.7 1444.1,1031 1444.6,1030.4 1445.1,1029.8 1445.6,1029.2 1446.1,1028.7 1446.6,1028.2 1447.1,1027.6 1447.6,1027.1 1448.1,1026.6 1448.6,1026.2 1449.1,1025.8 1449.6,1025.4 1450.1,1025 1450.6,1024.7 1451.1,1024.5 1451.6,1024.2 1452.1,1023.9 1452.6,1023.7 1453.1,1023.5 1453.6,1023.3 1454.1,1023.2 1454.6,1023.1 1455.1,1023 1455.6,1023.1 1456.1,1023.2 1456.6,1023.3 1457.1,1023.5 1457.6,1023.8 1458.1,1024 1458.6,1024.3 1459.1,1024.5 1459.6,1024.8 1460.1,1025.1 1460.6,1025.3 1461.1,1025.7 1461.6,1026 1462.1,1026.3 1462.6,1026.7 1463.1,1027.1 1463.6,1027.6 1464.1,1028 1464.6,1028.5 1465.1,1029 1465.6,1029.6 1466.1,1030.3 1466.6,1031 1467.1,1031.7 1467.6,1032.4 1468.1,1033.1 1468.6,1033.8 1469.1,1034.5 1469.6,1035.3 1470.1,1036.1 1470.6,1036.9 1471.1,1037.6 1471.6,1038.2 1472.1,1038.7 1472.6,1039.1 1473.1,1039.3 1473.6,1039 1474.1,1038.5 1474.6,1037.9 1475.1,1037.1 1475.6,1036.1 1476.1,1035 1476.6,1033.9 1477.1,1032.7 1477.6,1031.5 1478.1,1030.5 1478.6,1029.5 1479.1,1028.5 1479.6,1027.4 1480.1,1026.4 1480.6,1025.5 1481.1,1024.6 1481.6,1023.8 1482.1,1023.1 1482.6,1022.4 1483.1,1021.8 1483.6,1021.1 1484.1,1020.5 1484.6,1020 1485.1,1019.4 1485.6,1019 1486.1,1018.5 1486.6,1018.1 1487.1,1017.7 1487.6,1017.3 1488.1,1017 1488.6,1016.6 1489.1,1016.3 1489.6,1016 1490.1,1015.8 1490.6,1015.7 1491.1,1015.7 1491.6,1015.8 1492.1,1015.9 1492.6,1016 1493.1,1016.2 1493.6,1016.5 1494.1,1016.7 1494.6,1017 1495.1,1017.3 1495.6,1017.6 1496.1,1018 1496.6,1018.4 1497.1,1018.9 1497.6,1019.4 1498.1,1020 1498.6,1020.6 1499.1,1021.2 1499.6,1021.8 1500.1,1022.5 1500.6,1023.3 1501.1,1024 1501.6,1024.8 1502.1,1025.5 1502.6,1026.2 1503.1,1027 1503.6,1027.7 1504.1,1028.3 1504.6,1028.7 1505.1,1029 1505.6,1029 1506.1,1028.7 1506.6,1028.2 1507.1,1027.6 1507.6,1026.9 1508.1,1026.1 1508.6,1025.1 1509.1,1024 1509.6,1022.8 1510.1,1021.6 1510.6,1020.3 1511.1,1018.8 1511.6,1017.2 1512.1,1015.4 1512.6,1013.5 1513.1,1011.7 1513.6,1009.8 1514.1,1008.1 1514.6,1006.3 1515.1,1004.5 1515.6,1002.8 1516.1,1001 1516.6,999.3 1517.1,997.7 1517.6,996.1 1518.1,994.6 1518.6,993 1519.1,991.6 1519.6,990.1 1520.1,988.8 1520.6,987.5 1521.1,986.2 1521.6,985 1522.1,983.8 1522.6,982.7 1523.1,981.6 1523.6,980.6 1524.1,979.8 1524.6,979 1525.1,978.3 1525.6,977.6 1526.1,977.1 1526.6,976.6 1527.1,976.3 1527.6,976 1528.1,975.8 1528.6,975.6 1529.1,975.5 1529.6,975.4 1530.1,975.6 1530.6,975.9 1531.1,976.3 1531.6,976.8 1532.1,977.4 1532.6,978 1533.1,978.5 1533.6,979.1 1534.1,979.8 1534.6,980.5 1535.1,981.2 1535.6,982.1 1536.1,982.9 1536.6,983.9 1537.1,985 1537.6,986.2 1538.1,987.4 1538.6,988.5 1539.1,989.7 1539.6,990.9 1540.1,992.1 1540.6,993.2 1541.1,994 1541.6,994.6 1542.1,995.3 1542.6,995.7 1543.1,995.9 1543.6,995.9 1544.1,995.9 1544.6,995.9 1545.1,995.5 1545.6,994.4 1546.1,993 1546.6,991.7 1547.1,990.4 1547.6,988.9 1548.1,987.3 1548.6,985.6 1549.1,983.7 1549.6,981.6 1550.1,979.3 1550.6,976.9 1551.1,974.4 1551.6,971.8 1552.1,969 1552.6,966 1553.1,962.8 1553.6,959.3 1554.1,955.4 1554.6,951.4 1555.1,947.2 1555.6,943 1556.1,938.8 1556.6,934.4 1557.1,930 1557.6,925.7 1558.1,921.5 1558.6,917.6 1559.1,913.6 1559.6,909.8 1560.1,906.1 1560.6,902.5 1561.1,899 1561.6,895.9 1562.1,892.9 1562.6,890 1563.1,887.3 1563.6,884.7 1564.1,882.2 1564.6,879.8 1565.1,877.6 1565.6,875.4 1566.1,873.3 1566.6,871.3 1567.1,869.4 1567.6,867.6 1568.1,865.9 1568.6,864.3 1569.1,862.9 1569.6,861.5 1570.1,860.2 1570.6,858.9 1571.1,857.7 1571.6,856.7 1572.1,855.8 1572.6,855 1573.1,854.3 1573.6,853.7 1574.1,853.1 1574.6,852.6 1575.1,852.2 1575.7,852 1576.2,852 1576.7,852.1 1577.2,852.5 1577.7,853.1 1578.2,853.8 1578.7,854.5 1579.2,855.2 1579.7,856 1580.2,856.9 1580.7,858 1581.2,859.2 1581.7,860.6 1582.2,862 1582.7,863.5 1583.2,865.1 1583.7,866.9 1584.2,868.9 1584.7,871 1585.2,873.3 1585.7,875.6 1586.2,877.9 1586.7,880.2 1587.2,882.5 1587.7,884.9 1588.2,887.3 1588.7,889.8 1589.2,892.2 1589.7,894.7 1590.2,897.2 1590.7,899.6 1591.2,902 1591.7,904.3 1592.2,906.7 1592.7,909.1 1593.2,911.5 1593.7,914 1594.2,916.5 1594.7,919.1 1595.2,921.8 1595.7,924.5 1596.2,927.4 1596.7,930.3 1597.2,933.3 1597.7,936.4 1598.2,939.5 1598.7,942.7 1599.2,945.6 1599.7,948.4 1600.2,951 1600.7,953.6 1601.2,956.1 1601.7,958.4 1602.2,960.7 1602.7,962.8 1603.2,964.9 1603.7,966.9 1604.2,968.9 1604.7,970.8 1605.2,972.6 1605.7,974.4 1606.2,976.1 1606.7,977.7 1607.2,979.2 1607.7,980.6 1608.2,981.9 1608.7,983.2 1609.2,984.3 1609.7,985.4 1610.2,986.4 1610.7,987.3 1611.2,988.2 1611.7,989.1 1612.2,990 1612.7,990.8 1613.2,991.7 1613.7,992.5 1614.2,993.4 1614.7,994.2 1615.2,995.1 1615.7,995.9 1616.2,996.8 1616.7,997.7 1617.2,998.6 1617.7,999.5 1618.2,1000.4 1618.7,1001.4 1619.2,1002.3 1619.7,1003.2 1620.2,1004.2 1620.7,1005.1 1621.2,1006.1 1621.7,1007.1 1622.2,1008 1622.7,1008.9 1623.2,1009.8 1623.7,1010.7 1624.2,1011.6 1624.7,1012.5 1625.2,1013.3 1625.7,1014.1 1626.2,1014.9 1626.7,1015.6 1627.2,1016.4 1627.7,1017.1 1628.2,1017.8 1628.7,1018.3 1629.2,1018.5 1629.7,1018.7 1630.2,1018.8 1630.7,1018.7 1631.2,1018.4 1631.7,1018 1632.2,1017.6 1632.7,1017.1 1633.2,1016.5 1633.7,1015.8 1634.2,1015 1634.7,1014.2 1635.2,1013.2 1635.7,1011.9 1636.2,1010.5 1636.7,1008.8 1637.2,1007.2 1637.7,1005.5 1638.2,1004 1638.7,1002.5 1639.2,1000.9 1639.7,999.3 1640.2,997.8 1640.7,996.3 1641.2,994.8 1641.7,993.4 1642.2,992 1642.7,990.7 1643.2,989.4 1643.7,988.2 1644.2,987 1644.7,985.8 1645.2,984.7 1645.7,983.6 1646.2,982.5 1646.7,981.4 1647.2,980.4 1647.7,979.4 1648.2,978.5 1648.7,977.6 1649.2,976.8 1649.7,976 1650.2,975.3 1650.7,974.6 1651.2,974 1651.7,973.4 1652.2,972.9 1652.7,972.4 1653.2,971.9 1653.7,971.5 1654.2,971.1 1654.7,970.7 1655.2,970.4 1655.7,970.1 1656.2,969.8 1656.7,969.5 1657.2,969.3 1657.7,969.1 1658.2,969 1658.7,968.9 1659.2,968.9 1659.7,968.8 1660.2,968.8 1660.7,968.8 1661.2,968.8 1661.7,968.9 1662.2,969 1662.7,969.2 1663.2,969.4 1663.7,969.6 1664.2,969.8 1664.7,970 1665.2,970.3 1665.7,970.6 1666.2,971 1666.7,971.4 1667.2,971.9 1667.7,972.6 1668.2,973.3 1668.7,974 1669.2,974.7 1669.7,975.4 1670.2,976.1 1670.7,976.7 1671.2,977.4 1671.7,978.1 1672.2,978.7 1672.7,979.4 1673.2,980 1673.7,980.7 1674.2,981.4 1674.7,982 1675.2,982.7 1675.7,983.4 1676.2,984.1 1676.7,984.8 1677.2,985.4 1677.7,986 1678.2,986.6 1678.7,987.2 1679.2,987.7 1679.7,988.2 1680.2,988.7 1680.7,989.2 1681.2,989.7 1681.7,990.1 1682.2,990.6 1682.7,991 1683.2,991.4 1683.7,991.7 1684.2,992.1 1684.7,992.5 1685.2,992.8 1685.7,993.1 1686.2,993.4 1686.7,993.7 1687.2,993.9 1687.7,994.2 1688.2,994.4 1688.7,994.7 1689.2,994.9 1689.7,995.1 1690.2,995.2 1690.7,995.4 1691.2,995.5 1691.7,995.6 1692.2,995.7 1692.7,995.8 1693.2,995.9 1693.7,996 1694.2,996.1 1694.7,996.1 1695.2,996.1 1695.7,996.1 1696.2,996.1 1696.7,996 1697.2,995.9 1697.7,995.9 1698.2,995.8 1698.7,995.7 1699.2,995.6 1699.7,995.5 1700.2,995.4 1700.7,995.4 1701.2,995.3 1701.7,995.1 1702.2,995 1702.7,994.9 1703.2,994.8 1703.7,994.7 1704.2,994.7 1704.7,994.6 1705.2,994.6 1705.7,994.6 1706.2,994.6 1706.7,994.6 1707.2,994.6 1707.7,994.6 1708.2,994.7 1708.7,994.7 1709.2,994.7 1709.7,994.8 1710.2,994.8 1710.7,994.9 1711.2,995.1 1711.7,995.2 1712.2,995.4 1712.7,995.6 1713.2,995.8 1713.7,996 1714.2,996.2 1714.7,996.5 1715.2,996.8 1715.7,997.1 1716.2,997.4 1716.7,997.8 1717.2,998.1 1717.7,998.5 1718.2,998.9 1718.7,999.3 1719.2,999.8 1719.7,1000.3 1720.2,1000.8 1720.7,1001.3 1721.2,1001.9 1721.7,1002.5 1722.2,1003.1 1722.7,1003.8 1723.2,1004.5 1723.7,1005.2 1724.2,1006 1724.7,1006.9 1725.2,1007.7 1725.7,1008.6 1726.2,1009.5 1726.7,1010.4 1727.2,1011.4 1727.7,1012.3 1728.2,1013.3 1728.7,1014.3 1729.2,1015.3 1729.7,1016.3 1730.2,1017.4 1730.7,1018.4 1731.2,1019.4 1731.7,1020.4 1732.2,1021.4 1732.7,1022.4 1733.2,1023.4 1733.7,1024.4 1734.2,1025.4 1734.7,1026.4 1735.2,1027.4 1735.7,1028.4 1736.2,1029.3 1736.7,1030.3 1737.2,1031.3 1737.7,1032.2 1738.2,1033.1 1738.7,1033.9 1739.2,1034.8 1739.7,1035.6 1740.2,1036.4 1740.7,1037.2 1741.2,1038 1741.7,1038.8 1742.2,1039.6 1742.7,1040.3 1743.2,1040.9 1743.7,1041.5 1744.2,1041.9 1744.7,1041.8 1745.2,1041.3 1745.7,1040.7 1746.2,1040 1746.7,1038.9 1747.2,1037.8 1747.7,1036.6 1748.2,1035.4 1748.7,1034.4 1749.2,1033.4 1749.7,1032.3 1750.2,1031.3 1750.7,1030.3 1751.2,1029.4 1751.7,1028.6 1752.2,1027.8 1752.7,1027 1753.2,1026.2 1753.7,1025.5 1754.2,1024.8 1754.7,1024.1 1755.2,1023.4 1755.7,1022.8 1756.2,1022.1 1756.7,1021.5 1757.2,1020.9 1757.7,1020.4 1758.2,1019.8 1758.7,1019.3 1759.2,1018.7 1759.7,1018.2 1760.2,1017.7 1760.7,1017.3 1761.2,1016.8 1761.7,1016.4 1762.2,1015.9 1762.7,1015.5 1763.2,1015.1 1763.7,1014.7 1764.2,1014.3 1764.7,1013.9 1765.2,1013.5 1765.7,1013.2 1766.2,1012.9 1766.7,1012.6 1767.2,1012.3 1767.7,1012.1 1768.2,1011.9 1768.7,1011.7 1769.2,1011.6 1769.7,1011.4 1770.2,1011.2 1770.7,1011.1 1771.2,1010.9 1771.7,1010.8 1772.2,1010.7 1772.7,1010.6 1773.2,1010.6 1773.7,1010.6 1774.2,1010.6 1774.7,1010.7 1775.2,1010.8 1775.7,1010.9 1776.2,1011.1 1776.7,1011.3 1777.2,1011.5 1777.7,1011.7 1778.2,1011.9 1778.7,1012.1 1779.2,1012.4 1779.7,1012.6 1780.2,1012.9 1780.7,1013.2 1781.2,1013.5 1781.7,1013.9 1782.2,1014.2 1782.7,1014.6 1783.2,1015 1783.7,1015.4 1784.2,1015.7 1784.7,1016.2 1785.2,1016.6 1785.7,1017.1 1786.2,1017.5 1786.7,1018 1787.2,1018.5 1787.7,1018.9 1788.2,1019.4 1788.7,1019.8 1789.2,1020.2 1789.7,1020.6 1790.2,1021 1790.7,1021.4 1791.2,1021.8 1791.7,1022.2 1792.2,1022.6 1792.7,1023 1793.2,1023.3 1793.7,1023.7 1794.2,1024 1794.7,1024.4 1795.2,1024.7 1795.7,1025 1796.2,1025.4 1796.7,1025.7 1797.2,1026 1797.7,1026.2 1798.2,1026.5 1798.7,1026.7 1799.2,1026.9 1799.7,1027.1 1800.2,1027.3 1800.7,1027.5 1801.2,1027.7 1801.7,1027.8 1802.2,1027.9 1802.7,1027.9 1803.2,1027.9 1803.7,1027.8 1804.2,1027.8 1804.7,1027.6 1805.2,1027.5 1805.7,1027.3 1806.2,1027.2 1806.7,1027 1807.2,1026.9 1807.7,1026.7 1808.2,1026.6 1808.7,1026.4 1809.2,1026.3 1809.7,1026.1 1810.2,1025.9 1810.7,1025.7 1811.2,1025.6 1811.7,1025.4 1812.2,1025.2 1812.7,1025.1 1813.2,1025 1813.7,1024.9 1814.2,1024.8 1814.7,1024.8 1815.2,1024.9 1815.7,1025 1816.2,1025.1 1816.7,1025.2 1817.2,1025.4 1817.7,1025.7 1818.2,1025.9 1818.7,1026.1 1819.2,1026.4 1819.7,1026.6 1820.2,1026.9 1820.7,1027.3 1821.2,1027.7 1821.7,1028.1 1822.2,1028.5 1822.7,1029 1823.2,1029.5 1823.7,1029.9 1824.2,1030.4 1824.7,1030.9 1825.2,1031.3 1825.7,1031.8 1826.2,1032.2 1826.7,1032.7 1827.2,1033.2 1827.7,1033.7 1828.2,1034.1 1828.7,1034.6 1829.2,1035 1829.7,1035.4 1830.2,1035.9 1830.7,1036.3 1831.2,1036.7 1831.7,1036.9 1832.2,1037.1 1832.7,1037.2 1833.2,1037.3 1833.7,1037.2 1834.2,1036.9 1834.7,1036.3 1835.2,1035.7 1835.7,1035.1 1836.2,1034.5 1836.7,1033.9 1837.2,1033.2 1837.7,1032.6 1838.2,1031.9 1838.7,1031.1 1839.2,1030.4 1839.7,1029.6 1840.2,1028.7 1840.7,1027.8 1841.2,1026.8 1841.7,1025.8 1842.2,1024.7 1842.7,1023.6 1843.2,1022.5 1843.7,1021.5 1844.2,1020.6 1844.7,1019.7 1845.2,1018.9 1845.7,1018 1846.2,1017.1 1846.7,1016.3 1847.2,1015.6 1847.7,1014.8 1848.2,1014.2 1848.7,1013.5 1849.2,1012.9 1849.7,1012.3 1850.2,1011.8 1850.7,1011.2 1851.2,1010.7 1851.8,1010.2 1852.3,1009.8 1852.8,1009.4 1853.3,1009 1853.8,1008.8 1854.3,1008.5 1854.8,1008.2 1855.3,1008 1855.8,1007.8 1856.3,1007.6 1856.8,1007.4 1857.3,1007.2 1857.8,1007.1 1858.3,1007 1858.8,1007 1859.3,1007.1 1859.8,1007.1 1860.3,1007.3 1860.8,1007.5 1861.3,1007.7 1861.8,1007.9 1862.3,1008.2 1862.8,1008.5 1863.3,1008.8 1863.8,1009.1 1864.3,1009.4 1864.8,1009.9 1865.3,1010.4 1865.8,1010.9 1866.3,1011.5 1866.8,1012 1867.3,1012.7 1867.8,1013.3 1868.3,1014 1868.8,1014.8 1869.3,1015.7 1869.8,1016.6 1870.3,1017.5 1870.8,1018.4 1871.3,1019.3 1871.8,1020.2 1872.3,1021.1 1872.8,1021.9 1873.3,1022.8 1873.8,1023.7 1874.3,1024.6 1874.8,1025.5 1875.3,1026.3 1875.8,1027.1 1876.3,1027.9 1876.8,1028.7 1877.3,1029.5 1877.8,1030.3 1878.3,1031 1878.8,1031.7 1879.3,1032.4 1879.8,1033.1 1880.3,1033.8 1880.8,1034.5 1881.3,1035.1 1881.8,1035.8 1882.3,1036.4 1882.8,1037 1883.3,1037.5 1883.8,1037.9 1884.3,1038.4 1884.8,1038.7 1885.3,1038.8 1885.8,1038.7 1886.3,1038.3 1886.8,1037.8 1887.3,1037.3 1887.8,1036.7 1888.3,1036.1 1888.8,1035.4 1889.3,1034.7 1889.8,1034 1890.3,1033.4 1890.8,1032.8 1891.3,1032.3 1891.8,1031.7 1892.3,1031.3 1892.8,1030.8 1893.3,1030.4 1893.8,1030 1894.3,1029.7 1894.8,1029.3 1895.3,1029 1895.8,1028.7 1896.3,1028.4 1896.8,1028.2 1897.3,1028 1897.8,1027.8 1898.3,1027.6 1898.8,1027.5 1899.3,1027.4 1899.8,1027.2 1900.3,1027.2 1900.8,1027.1 1901.3,1027 1901.8,1027.1 1902.3,1027.1 1902.8,1027.2 1903.3,1027.4 1903.8,1027.6 1904.3,1027.8 1904.8,1028 1905.3,1028.2 1905.8,1028.4 1906.3,1028.7 1906.8,1029 1907.3,1029.4 1907.8,1029.8 1908.3,1030.2 1908.8,1030.7 1909.3,1031.1 1909.8,1031.6 1910.3,1032 1910.8,1032.5 1911.3,1033 1911.8,1033.5 1912.3,1034 1912.8,1034.5 1913.3,1035 1913.8,1035.5 1914.3,1036.1 1914.8,1036.6 1915.3,1037.1 1915.8,1037.6 1916.3,1038.1 1916.8,1038.7 1917.3,1039.2 1917.8,1039.7 1918.3,1040.1 1918.8,1040.5 1919.3,1040.8 1919.8,1041.1 1920.3,1041.3 1920.8,1041.2 1921.3,1040.8 1921.8,1040.3 1922.3,1039.9 1922.8,1039.3 1923.3,1038.7 1923.8,1038 1924.3,1037.4 1924.8,1036.8 1925.3,1036.3 1925.8,1035.8 1926.3,1035.3 1926.8,1034.8 1927.3,1034.4 1927.8,1033.9 1928.3,1033.5 1928.8,1033.1 1929.3,1032.7 1929.8,1032.3 1930.3,1032 1930.8,1031.6 1931.3,1031.2 1931.8,1030.9 1932.3,1030.6 1932.8,1030.3 1933.3,1030.1 1933.8,1030 1934.3,1029.8 1934.8,1029.6 1935.3,1029.4 1935.8,1029.3 1936.3,1029.2 1936.8,1029 1937.3,1029 1937.8,1028.9 1938.3,1028.8 1938.8,1028.8 1939.3,1028.9 1939.8,1028.9 1940.3,1029.1 1940.8,1029.2 1941.3,1029.4 1941.8,1029.7 1942.3,1029.9 1942.8,1030.1 1943.3,1030.4 1943.8,1030.6 1944.3,1030.8 1944.8,1031.1 1945.3,1031.4 1945.8,1031.7 1946.3,1032.1 1946.8,1032.4 1947.3,1032.8 1947.8,1033.2 1948.3,1033.5 1948.8,1033.9 1949.3,1034.3 1949.8,1034.7 1950.3,1035.1 1950.8,1035.5 1951.3,1036 1951.8,1036.4 1952.3,1036.8 1952.8,1037.3 1953.3,1037.7 1953.8,1038.1 1954.3,1038.6 1954.8,1039 1955.3,1039.4 1955.8,1039.8 1956.3,1040.2 1956.8,1040.6 1957.3,1041 1957.8,1041.3 1958.3,1041.6 1958.8,1041.9 1959.3,1042.1 1959.8,1042.3 1960.3,1042.4 1960.8,1042.3 1961.3,1042 1961.8,1041.6 1962.3,1041.2 1962.8,1040.8 1963.3,1040.3 1963.8,1039.8 1964.3,1039.2 1964.8,1038.7 1965.3,1038.3 1965.8,1037.8 1966.3,1037.4 1966.8,1037 1967.3,1036.6 1967.8,1036.3 1968.3,1035.9 1968.8,1035.6 1969.3,1035.3 1969.8,1035 1970.3,1034.7 1970.8,1034.4 1971.3,1034.1 1971.8,1033.8 1972.3,1033.5 1972.8,1033.3 1973.3,1033 1973.8,1032.8 1974.3,1032.7 1974.8,1032.6 1975.3,1032.4 1975.8,1032.3 1976.3,1032.2 1976.8,1032.1 1977.3,1032 1977.8,1031.9 1978.3,1031.8 1978.8,1031.8 1979.3,1031.7 1979.8,1031.7 1980.3,1031.7 1980.8,1031.8 1981.3,1031.8 1981.8,1031.9 1982.3,1032 1982.8,1032.1 1983.3,1032.2 1983.8,1032.4 1984.3,1032.5 1984.8,1032.6 1985.3,1032.8 1985.8,1032.9 1986.3,1033.1 1986.8,1033.2 1987.3,1033.4 1987.8,1033.6 1988.3,1033.8 1988.8,1034 1989.3,1034.2" fill="none" stroke="#787878" stroke-width="2.0" stroke-linejoin="round" stroke-linecap="butt"/>
<polyline points="1437.6,1043.5 1438.1,1042.6 1438.6,1041.8 1439.1,1041 1439.6,1040.2 1440.1,1039.4 1440.6,1038.7 1441.1,1038 1441.6,1037.3 1442.1,1036.6 1442.6,1036 1443.1,1035.4 1443.6,1034.8 1444.1,1034.2 1444.6,1033.7 1445.1,1033.1 1445.6,1032.6 1446.1,1032 1446.6,1031.5 1447.1,1031 1447.6,1030.4 1448.1,1029.9 1448.6,1029.4 1449.1,1028.9 1449.6,1028.5 1450.1,1028.2 1450.6,1027.9 1451.1,1027.6 1451.6,1027.3 1452.1,1027 1452.6,1026.7 1453.1,1026.5 1453.6,1026.3 1454.1,1026.1 1454.6,1025.9 1455.1,1025.8 1455.6,1025.7 1456.1,1025.7 1456.6,1025.8 1457.1,1025.8 1457.6,1026 1458.1,1026.1 1458.6,1026.3 1459.1,1026.5 1459.6,1026.8 1460.1,1027 1460.6,1027.3 1461.1,1027.6 1461.6,1027.9 1462.1,1028.3 1462.6,1028.8 1463.1,1029.3 1463.6,1029.8 1464.1,1030.4 1464.6,1030.9 1465.1,1031.5 1465.6,1032.1 1466.1,1032.7 1466.6,1033.4 1467.1,1034.1 1467.6,1034.7 1468.1,1035.4 1468.6,1036.1 1469.1,1036.7 1469.6,1037.3 1470.1,1038 1470.6,1038.6 1471.1,1039.3 1471.6,1039.9 1472.1,1040.4 1472.6,1040.9 1473.1,1041.4 1473.6,1041.9 1474.1,1041.9 1474.6,1041.5 1475.1,1040.9 1475.6,1040.2 1476.1,1039.4 1476.6,1038.4 1477.1,1037.4 1477.6,1036.4 1478.1,1035.3 1478.6,1034.4 1479.1,1033.5 1479.6,1032.7 1480.1,1031.9 1480.6,1031.1 1481.1,1030.3 1481.6,1029.6 1482.1,1028.9 1482.6,1028.2 1483.1,1027.5 1483.6,1026.9 1484.1,1026.2 1484.6,1025.6 1485.1,1024.9 1485.6,1024.3 1486.1,1023.8 1486.6,1023.3 1487.1,1022.9 1487.6,1022.6 1488.1,1022.3 1488.6,1022 1489.1,1021.7 1489.6,1021.4 1490.1,1021.2 1490.6,1021 1491.1,1020.9 1491.6,1020.8 1492.1,1020.8 1492.6,1020.9 1493.1,1021.1 1493.6,1021.3 1494.1,1021.5 1494.6,1021.8 1495.1,1022.1 1495.6,1022.5 1496.1,1022.8 1496.6,1023.2 1497.1,1023.6 1497.6,1024 1498.1,1024.5 1498.6,1025.1 1499.1,1025.7 1499.6,1026.3 1500.1,1027 1500.6,1027.7 1501.1,1028.5 1501.6,1029.4 1502.1,1030.4 1502.6,1031.4 1503.1,1032.4 1503.6,1033.4 1504.1,1034.4 1504.6,1035.5 1505.1,1036.7 1505.6,1037.8 1506.1,1038.8 1506.6,1039.6 1507.1,1040.4 1507.6,1040.9 1508.1,1041 1508.6,1040.6 1509.1,1039.8 1509.6,1038.9 1510.1,1037.7 1510.6,1036.2 1511.1,1034.5 1511.6,1032.8 1512.1,1031.4 1512.6,1030 1513.1,1028.7 1513.6,1027.4 1514.1,1026.1 1514.6,1024.8 1515.1,1023.5 1515.6,1022.2 1516.1,1021 1516.6,1019.7 1517.1,1018.5 1517.6,1017.3 1518.1,1016.1 1518.6,1014.9 1519.1,1013.8 1519.6,1012.7 1520.1,1011.6 1520.6,1010.5 1521.1,1009.5 1521.6,1008.5 1522.1,1007.6 1522.6,1006.7 1523.1,1005.9 1523.6,1005.1 1524.1,1004.3 1524.6,1003.6 1525.1,1003.1 1525.6,1002.6 1526.1,1002.2 1526.6,1001.8 1527.1,1001.5 1527.6,1001.2 1528.1,1001 1528.6,1001 1529.1,1001.1 1529.6,1001.4 1530.1,1001.7 1530.6,1002 1531.1,1002.4 1531.6,1002.8 1532.1,1003.2 1532.6,1003.8 1533.1,1004.4 1533.6,1005.1 1534.1,1005.7 1534.6,1006.4 1535.1,1007.2 1535.6,1008 1536.1,1008.9 1536.6,1009.7 1537.1,1010.3 1537.6,1010.8 1538.1,1011.4 1538.6,1011.8 1539.1,1012.1 1539.6,1012.1 1540.1,1011.8 1540.6,1011.2 1541.1,1010.5 1541.6,1009.7 1542.1,1008.6 1542.6,1007.3 1543.1,1005.8 1543.6,1004 1544.1,1002.2 1544.6,999.9 1545.1,997.4 1545.6,994.7 1546.1,991.9 1546.6,988.7 1547.1,985.2 1547.6,981.7 1548.1,978.3 1548.6,975.1 1549.1,972 1549.6,968.8 1550.1,965.7 1550.6,962.4 1551.1,959.2 1551.6,955.8 1552.1,952.5 1552.6,949.2 1553.1,945.9 1553.6,942.6 1554.1,939.3 1554.6,936.1 1555.1,933 1555.6,930 1556.1,927.2 1556.6,924.4 1557.1,921.6 1557.6,918.6 1558.1,915.3 1558.6,912 1559.1,908.5 1559.6,905.1 1560.1,901.8 1560.6,898.6 1561.1,895.6 1561.6,892.6 1562.1,889.7 1562.6,886.9 1563.1,884.2 1563.6,881.6 1564.1,879.1 1564.6,876.8 1565.1,874.6 1565.6,872.4 1566.1,870.3 1566.6,868.3 1567.1,866.5 1567.6,864.7 1568.1,863.1 1568.6,861.6 1569.1,860.2 1569.6,858.7 1570.1,857.4 1570.6,856.2 1571.1,855.2 1571.6,854.4 1572.1,853.8 1572.6,853.2 1573.1,852.7 1573.6,852.3 1574.1,852 1574.6,851.9 1575.1,852.1 1575.7,852.6 1576.2,853.3 1576.7,854.1 1577.2,854.9 1577.7,855.8 1578.2,856.7 1578.7,857.7 1579.2,858.9 1579.7,860.2 1580.2,861.5 1580.7,863 1581.2,864.5 1581.7,866.2 1582.2,868.2 1582.7,870.3 1583.2,872.5 1583.7,874.8 1584.2,877.1 1584.7,879.4 1585.2,881.7 1585.7,884.1 1586.2,886.5 1586.7,889 1587.2,891.5 1587.7,893.9 1588.2,896.4 1588.7,898.8 1589.2,901.1 1589.7,903.3 1590.2,905.6 1590.7,907.8 1591.2,910 1591.7,912.4 1592.2,914.8 1592.7,917.3 1593.2,919.9 1593.7,922.8 1594.2,925.9 1594.7,929.1 1595.2,932.3 1595.7,935.3 1596.2,938.3 1596.7,941.2 1597.2,944.1 1597.7,947.1 1598.2,950.3 1598.7,953.5 1599.2,956.6 1599.7,959.6 1600.2,962.4 1600.7,965.1 1601.2,967.7 1601.7,970.2 1602.2,972.6 1602.7,975 1603.2,977.5 1603.7,979.9 1604.2,982.3 1604.7,984.4 1605.2,986.2 1605.7,987.8 1606.2,989.2 1606.7,990.6 1607.2,991.9 1607.7,993.1 1608.2,994.3 1608.7,995.5 1609.2,996.5 1609.7,997.5 1610.2,998.4 1610.7,999.1 1611.2,999.8 1611.7,1000.5 1612.2,1001.1 1612.7,1001.8 1613.2,1002.4 1613.7,1003.1 1614.2,1003.7 1614.7,1004.3 1615.2,1004.9 1615.7,1005.5 1616.2,1006.1 1616.7,1006.7 1617.2,1007.3 1617.7,1007.8 1618.2,1008.4 1618.7,1009 1619.2,1009.7 1619.7,1010.4 1620.2,1011.1 1620.7,1012 1621.2,1012.9 1621.7,1013.9 1622.2,1014.9 1622.7,1015.9 1623.2,1016.9 1623.7,1018 1624.2,1019.1 1624.7,1020.3 1625.2,1021.5 1625.7,1022.6 1626.2,1023.6 1626.7,1024.4 1627.2,1025.2 1627.7,1026 1628.2,1026.6 1628.7,1027.1 1629.2,1027.5 1629.7,1027.8 1630.2,1028.1 1630.7,1028.2 1631.2,1028 1631.7,1027.7 1632.2,1027.3 1632.7,1026.9 1633.2,1026.4 1633.7,1025.8 1634.2,1025.1 1634.7,1024.4 1635.2,1023.5 1635.7,1022.3 1636.2,1021 1636.7,1019.6 1637.2,1018 1637.7,1016.5 1638.2,1015.1 1638.7,1013.8 1639.2,1012.4 1639.7,1011 1640.2,1009.5 1640.7,1008.1 1641.2,1006.8 1641.7,1005.4 1642.2,1004 1642.7,1002.7 1643.2,1001.3 1643.7,1000 1644.2,998.6 1644.7,997.3 1645.2,996 1645.7,994.8 1646.2,993.6 1646.7,992.4 1647.2,991.3 1647.7,990.1 1648.2,989 1648.7,987.9 1649.2,986.9 1649.7,985.9 1650.2,985 1650.7,984.1 1651.2,983.2 1651.7,982.4 1652.2,981.5 1652.7,980.8 1653.2,980 1653.7,979.3 1654.2,978.6 1654.7,978 1655.2,977.4 1655.7,976.8 1656.2,976.2 1656.7,975.7 1657.2,975.2 1657.7,974.7 1658.2,974.2 1658.7,973.8 1659.2,973.3 1659.7,972.9 1660.2,972.5 1660.7,972.1 1661.2,971.7 1661.7,971.4 1662.2,971.1 1662.7,970.8 1663.2,970.6 1663.7,970.4 1664.2,970.2 1664.7,970 1665.2,969.8 1665.7,969.7 1666.2,969.7 1666.7,969.6 1667.2,969.7 1667.7,969.7 1668.2,969.7 1668.7,969.8 1669.2,969.8 1669.7,970 1670.2,970.2 1670.7,970.6 1671.2,971.1 1671.7,971.5 1672.2,972 1672.7,972.4 1673.2,972.9 1673.7,973.3 1674.2,973.8 1674.7,974.4 1675.2,974.9 1675.7,975.4 1676.2,976 1676.7,976.5 1677.2,977.1 1677.7,977.7 1678.2,978.3 1678.7,979 1679.2,979.6 1679.7,980.3 1680.2,980.9 1680.7,981.5 1681.2,982.1 1681.7,982.7 1682.2,983.4 1682.7,984 1683.2,984.6 1683.7,985.2 1684.2,985.8 1684.7,986.3 1685.2,986.8 1685.7,987.3 1686.2,987.8 1686.7,988.2 1687.2,988.7 1687.7,989.1 1688.2,989.5 1688.7,989.8 1689.2,990.2 1689.7,990.5 1690.2,990.8 1690.7,991.1 1691.2,991.3 1691.7,991.6 1692.2,991.8 1692.7,992 1693.2,992.2 1693.7,992.4 1694.2,992.6 1694.7,992.7 1695.2,992.8 1695.7,993 1696.2,993.1 1696.7,993.2 1697.2,993.3 1697.7,993.4 1698.2,993.5 1698.7,993.6 1699.2,993.7 1699.7,993.7 1700.2,993.8 1700.7,993.9 1701.2,994 1701.7,994 1702.2,994.1 1702.7,994.2 1703.2,994.3 1703.7,994.5 1704.2,994.6 1704.7,994.7 1705.2,994.9 1705.7,995 1706.2,995.2 1706.7,995.5 1707.2,995.7 1707.7,996 1708.2,996.3 1708.7,996.7 1709.2,997.1 1709.7,997.5 1710.2,998.1 1710.7,998.7 1711.2,999.3 1711.7,999.9 1712.2,1000.5 1712.7,1001.1 1713.2,1001.8 1713.7,1002.4 1714.2,1003.1 1714.7,1003.8 1715.2,1004.5 1715.7,1005.3 1716.2,1006.1 1716.7,1007 1717.2,1007.8 1717.7,1008.8 1718.2,1009.7 1718.7,1010.6 1719.2,1011.6 1719.7,1012.5 1720.2,1013.4 1720.7,1014.3 1721.2,1015.2 1721.7,1016.1 1722.2,1017 1722.7,1017.9 1723.2,1018.8 1723.7,1019.7 1724.2,1020.6 1724.7,1021.5 1725.2,1022.4 1725.7,1023.3 1726.2,1024.2 1726.7,1025 1727.2,1025.8 1727.7,1026.6 1728.2,1027.3 1728.7,1028.1 1729.2,1028.7 1729.7,1029.4 1730.2,1030 1730.7,1030.6 1731.2,1031.1 1731.7,1031.6 1732.2,1032.1 1732.7,1032.5 1733.2,1032.9 1733.7,1033.3 1734.2,1033.6 1734.7,1034 1735.2,1034.3 1735.7,1034.5 1736.2,1034.6 1736.7,1034.6 1737.2,1034.5 1737.7,1034.3 1738.2,1034.2 1738.7,1034 1739.2,1033.8 1739.7,1033.7 1740.2,1033.6 1740.7,1033.4 1741.2,1033.2 1741.7,1033.1 1742.2,1032.9 1742.7,1032.8 1743.2,1032.8 1743.7,1032.8 1744.2,1032.7 1744.7,1032.7 1745.2,1032.6 1745.7,1032.6 1746.2,1032.6 1746.7,1032.6 1747.2,1032.7 1747.7,1032.8 1748.2,1032.9 1748.7,1033.1 1749.2,1033.2 1749.7,1033.4 1750.2,1033.7 1750.7,1034 1751.2,1034.3 1751.7,1034.6 1752.2,1035 1752.7,1035.3 1753.2,1035.7 1753.7,1036 1754.2,1036.4 1754.7,1036.8 1755.2,1037.3 1755.7,1037.7 1756.2,1038.1 1756.7,1038.5 1757.2,1038.9 1757.7,1039.4 1758.2,1039.8 1758.7,1040.3 1759.2,1040.7 1759.7,1041.1 1760.2,1041.4 1760.7,1041.8 1761.2,1042.1 1761.7,1042.4 1762.2,1042.7 1762.7,1042.9 1763.2,1043.1 1763.7,1043 1764.2,1042.8 1764.7,1042.5 1765.2,1042.2 1765.7,1041.8 1766.2,1041.5 1766.7,1041 1767.2,1040.5 1767.7,1040 1768.2,1039.5 1768.7,1039 1769.2,1038.5 1769.7,1037.9 1770.2,1037.4 1770.7,1036.9 1771.2,1036.5 1771.7,1036.1 1772.2,1035.8 1772.7,1035.4 1773.2,1035.1 1773.7,1034.9 1774.2,1034.6 1774.7,1034.4 1775.2,1034.2 1775.7,1034 1776.2,1033.9 1776.7,1033.8 1777.2,1033.7 1777.7,1033.6 1778.2,1033.5 1778.7,1033.4 1779.2,1033.4 1779.7,1033.3 1780.2,1033.3 1780.7,1033.3 1781.2,1033.3 1781.7,1033.4 1782.2,1033.6 1782.7,1033.8 1783.2,1034 1783.7,1034.2 1784.2,1034.4 1784.7,1034.6 1785.2,1034.8 1785.7,1035.1 1786.2,1035.3 1786.7,1035.6 1787.2,1035.9 1787.7,1036.2 1788.2,1036.5 1788.7,1036.8 1789.2,1037.1 1789.7,1037.4 1790.2,1037.7 1790.7,1038.1 1791.2,1038.5 1791.7,1038.8 1792.2,1039.2 1792.7,1039.5 1793.2,1039.8 1793.7,1040.1 1794.2,1040.4 1794.7,1040.8 1795.2,1041.1 1795.7,1041.4 1796.2,1041.6 1796.7,1041.8 1797.2,1041.9 1797.7,1041.9 1798.2,1041.8 1798.7,1041.7 1799.2,1041.5 1799.7,1041.2 1800.2,1040.9 1800.7,1040.7 1801.2,1040.4 1801.7,1040.2 1802.2,1039.9 1802.7,1039.7 1803.2,1039.4 1803.7,1039.1 1804.2,1038.9 1804.7,1038.7 1805.2,1038.5 1805.7,1038.3 1806.2,1038.1 1806.7,1037.9 1807.2,1037.7 1807.7,1037.6 1808.2,1037.5 1808.7,1037.3 1809.2,1037.3 1809.7,1037.2 1810.2,1037.1 1810.7,1037 1811.2,1036.9 1811.7,1036.9 1812.2,1036.8 1812.7,1036.8 1813.2,1036.9 1813.7,1036.9 1814.2,1037 1814.7,1037.1 1815.2,1037.2 1815.7,1037.4 1816.2,1037.5 1816.7,1037.7 1817.2,1037.8 1817.7,1038 1818.2,1038.2 1818.7,1038.3 1819.2,1038.5 1819.7,1038.7 1820.2,1038.9 1820.7,1039.2 1821.2,1039.4 1821.7,1039.6 1822.2,1039.9 1822.7,1040.1 1823.2,1040.4 1823.7,1040.7 1824.2,1040.9 1824.7,1041.2 1825.2,1041.4 1825.7,1041.5 1826.2,1041.7 1826.7,1041.9 1827.2,1042.1 1827.7,1042.2 1828.2,1042.4 1828.7,1042.5 1829.2,1042.6 1829.7,1042.6 1830.2,1042.6 1830.7,1042.5 1831.2,1042.4 1831.7,1042.3 1832.2,1042.2 1832.7,1042 1833.2,1041.8 1833.7,1041.6 1834.2,1041.5 1834.7,1041.3 1835.2,1041.2 1835.7,1041 1836.2,1040.9 1836.7,1040.7 1837.2,1040.5 1837.7,1040.4 1838.2,1040.2 1838.7,1040.1 1839.2,1039.9 1839.7,1039.8 1840.2,1039.7 1840.7,1039.7 1841.2,1039.6 1841.7,1039.5 1842.2,1039.5 1842.7,1039.4 1843.2,1039.4 1843.7,1039.3 1844.2,1039.3 1844.7,1039.3 1845.2,1039.3 1845.7,1039.3 1846.2,1039.4 1846.7,1039.4 1847.2,1039.5 1847.7,1039.6 1848.2,1039.7 1848.7,1039.8 1849.2,1039.9 1849.7,1040 1850.2,1040.1 1850.7,1040.2 1851.2,1040.4 1851.8,1040.5 1852.3,1040.6 1852.8,1040.8 1853.3,1041 1853.8,1041.1 1854.3,1041.3 1854.8,1041.5 1855.3,1041.7 1855.8,1041.8 1856.3,1042 1856.8,1042.1 1857.3,1042.3 1857.8,1042.4 1858.3,1042.5 1858.8,1042.7 1859.3,1042.8 1859.8,1042.9 1860.3,1043 1860.8,1043.1 1861.3,1043.2 1861.8,1043.3 1862.3,1043.3 1862.8,1043.3 1863.3,1043.3 1863.8,1043.2 1864.3,1043.2 1864.8,1043.1 1865.3,1043 1865.8,1042.9 1866.3,1042.8 1866.8,1042.7 1867.3,1042.6 1867.8,1042.5 1868.3,1042.4 1868.8,1042.3 1869.3,1042.3 1869.8,1042.2 1870.3,1042.1 1870.8,1042 1871.3,1041.9 1871.8,1041.8 1872.3,1041.7 1872.8,1041.6 1873.3,1041.6 1873.8,1041.5 1874.3,1041.4 1874.8,1041.3 1875.3,1041.2 1875.8,1041.2 1876.3,1041.1 1876.8,1041.1 1877.3,1041.1 1877.8,1041.1 1878.3,1041.1 1878.8,1041.1 1879.3,1041.2 1879.8,1041.2 1880.3,1041.3 1880.8,1041.4 1881.3,1041.4 1881.8,1041.5 1882.3,1041.6 1882.8,1041.7 1883.3,1041.8 1883.8,1041.9 1884.3,1042 1884.8,1042.1 1885.3,1042.2 1885.8,1042.3 1886.3,1042.4 1886.8,1042.5 1887.3,1042.5 1887.8,1042.6 1888.3,1042.7 1888.8,1042.8 1889.3,1042.9 1889.8,1043 1890.3,1043.1 1890.8,1043.2 1891.3,1043.2 1891.8,1043.3 1892.3,1043.4 1892.8,1043.4 1893.3,1043.5 1893.8,1043.5 1894.3,1043.5 1894.8,1043.5 1895.3,1043.5 1895.8,1043.5 1896.3,1043.5 1896.8,1043.5 1897.3,1043.4 1897.8,1043.4 1898.3,1043.4 1898.8,1043.4 1899.3,1043.3 1899.8,1043.3 1900.3,1043.3 1900.8,1043.2 1901.3,1043.2 1901.8,1043.2 1902.3,1043.1 1902.8,1043.1 1903.3,1043.1 1903.8,1043 1904.3,1043 1904.8,1042.9 1905.3,1042.9 1905.8,1042.9 1906.3,1042.9 1906.8,1042.8 1907.3,1042.8 1907.8,1042.8 1908.3,1042.7 1908.8,1042.7 1909.3,1042.7 1909.8,1042.6 1910.3,1042.6 1910.8,1042.6 1911.3,1042.6 1911.8,1042.5 1912.3,1042.5 1912.8,1042.5 1913.3,1042.5 1913.8,1042.4 1914.3,1042.4 1914.8,1042.4 1915.3,1042.4 1915.8,1042.4 1916.3,1042.4 1916.8,1042.4 1917.3,1042.4 1917.8,1042.5 1918.3,1042.5 1918.8,1042.5 1919.3,1042.6 1919.8,1042.6 1920.3,1042.7 1920.8,1042.7 1921.3,1042.8 1921.8,1042.8 1922.3,1042.9 1922.8,1042.9 1923.3,1043 1923.8,1043.1 1924.3,1043.1 1924.8,1043.2 1925.3,1043.2 1925.8,1043.3 1926.3,1043.3 1926.8,1043.4 1927.3,1043.4 1927.8,1043.4 1928.3,1043.5 1928.8,1043.5 1929.3,1043.5 1929.8,1043.5 1930.3,1043.5 1930.8,1043.5 1931.3,1043.5 1931.8,1043.5 1932.3,1043.6 1932.8,1043.6 1933.3,1043.6 1933.8,1043.6 1934.3,1043.6 1934.8,1043.6 1935.3,1043.6 1935.8,1043.6 1936.3,1043.6 1936.8,1043.6 1937.3,1043.6 1937.8,1043.6 1938.3,1043.6 1938.8,1043.6 1939.3,1043.6 1939.8,1043.6 1940.3,1043.6 1940.8,1043.7 1941.3,1043.7 1941.8,1043.7 1942.3,1043.7 1942.8,1043.7 1943.3,1043.7 1943.8,1043.7 1944.3,1043.7 1944.8,1043.7 1945.3,1043.7 1945.8,1043.7 1946.3,1043.7 1946.8,1043.7 1947.3,1043.7 1947.8,1043.7 1948.3,1043.7 1948.8,1043.7 1949.3,1043.7 1949.8,1043.7 1950.3,1043.7 1950.8,1043.7 1951.3,1043.7 1951.8,1043.7 1952.3,1043.7 1952.8,1043.7 1953.3,1043.7 1953.8,1043.7 1954.3,1043.7 1954.8,1043.7 1955.3,1043.8 1955.8,1043.8 1956.3,1043.8 1956.8,1043.8 1957.3,1043.8 1957.8,1043.8 1958.3,1043.8 1958.8,1043.8 1959.3,1043.8 1959.8,1043.8 1960.3,1043.8 1960.8,1043.8 1961.3,1043.8 1961.8,1043.8 1962.3,1043.8 1962.8,1043.8 1963.3,1043.8 1963.8,1043.8 1964.3,1043.8 1964.8,1043.8 1965.3,1043.8 1965.8,1043.8 1966.3,1043.8 1966.8,1043.8 1967.3,1043.8 1967.8,1043.8 1968.3,1043.8 1968.8,1043.8 1969.3,1043.9 1969.8,1043.9 1970.3,1043.9 1970.8,1043.9 1971.3,1043.9 1971.8,1043.9 1972.3,1043.9 1972.8,1043.9 1973.3,1043.9 1973.8,1043.9 1974.3,1043.9 1974.8,1043.9 1975.3,1043.9 1975.8,1043.9 1976.3,1043.9 1976.8,1043.9 1977.3,1043.9 1977.8,1043.9 1978.3,1043.9 1978.8,1043.9 1979.3,1043.9 1979.8,1043.9 1980.3,1043.9 1980.8,1043.9 1981.3,1043.9 1981.8,1043.9 1982.3,1043.9 1982.8,1043.9 1983.3,1043.9 1983.8,1043.9 1984.3,1043.9 1984.8,1043.9 1985.3,1043.9 1985.8,1043.9 1986.3,1043.9 1986.8,1043.9 1987.3,1043.9 1987.8,1043.9 1988.3,1044 1988.8,1044 1989.3,1044" fill="none" stroke="#f83c3c" stroke-width="2.1" stroke-linejoin="round" stroke-linecap="butt"/>
</g>
<rect x="1437.5" y="603" width="551.8" height="441.4" fill="none" stroke="#000" stroke-width="2.1"/>
<line x1="1429.1" y1="823.5" x2="1437.5" y2="823.5" stroke="#000" stroke-width="2.1"/>
<line x1="1429.1" y1="1044.4" x2="1437.5" y2="1044.4" stroke="#000" stroke-width="2.1"/>
<line x1="1433.3" y1="801.3" x2="1437.5" y2="801.3" stroke="#000" stroke-width="2.1"/>
<line x1="1433.3" y1="1022.2" x2="1437.5" y2="1022.2" stroke="#000" stroke-width="2.1"/>
<line x1="1429.1" y1="779.1" x2="1437.5" y2="779.1" stroke="#000" stroke-width="2.1"/>
<line x1="1429.1" y1="999.9" x2="1437.5" y2="999.9" stroke="#000" stroke-width="2.1"/>
<line x1="1433.3" y1="756.9" x2="1437.5" y2="756.9" stroke="#000" stroke-width="2.1"/>
<line x1="1433.3" y1="977.7" x2="1437.5" y2="977.7" stroke="#000" stroke-width="2.1"/>
<line x1="1429.1" y1="734.7" x2="1437.5" y2="734.7" stroke="#000" stroke-width="2.1"/>
<line x1="1429.1" y1="955.4" x2="1437.5" y2="955.4" stroke="#000" stroke-width="2.1"/>
<line x1="1433.3" y1="712.5" x2="1437.5" y2="712.5" stroke="#000" stroke-width="2.1"/>
<line x1="1433.3" y1="933.2" x2="1437.5" y2="933.2" stroke="#000" stroke-width="2.1"/>
<line x1="1429.1" y1="690.3" x2="1437.5" y2="690.3" stroke="#000" stroke-width="2.1"/>
<line x1="1429.1" y1="910.9" x2="1437.5" y2="910.9" stroke="#000" stroke-width="2.1"/>
<line x1="1433.3" y1="668.1" x2="1437.5" y2="668.1" stroke="#000" stroke-width="2.1"/>
<line x1="1433.3" y1="888.7" x2="1437.5" y2="888.7" stroke="#000" stroke-width="2.1"/>
<line x1="1429.1" y1="645.9" x2="1437.5" y2="645.9" stroke="#000" stroke-width="2.1"/>
<line x1="1429.1" y1="866.4" x2="1437.5" y2="866.4" stroke="#000" stroke-width="2.1"/>
<line x1="1433.3" y1="623.7" x2="1437.5" y2="623.7" stroke="#000" stroke-width="2.1"/>
<line x1="1433.3" y1="844.2" x2="1437.5" y2="844.2" stroke="#000" stroke-width="2.1"/>
<text x="1423" y="831.9" font-size="27.4" text-anchor="end">0</text>
<text x="1423" y="1052.8" font-size="27.4" text-anchor="end">0</text>
<text x="1423" y="787.5" font-size="27.4" text-anchor="end">2</text>
<text x="1423" y="1008.3" font-size="27.4" text-anchor="end">2</text>
<text x="1423" y="743.1" font-size="27.4" text-anchor="end">4</text>
<text x="1423" y="963.8" font-size="27.4" text-anchor="end">4</text>
<text x="1423" y="698.7" font-size="27.4" text-anchor="end">6</text>
<text x="1423" y="919.3" font-size="27.4" text-anchor="end">6</text>
<text x="1423" y="654.3" font-size="27.4" text-anchor="end">8</text>
<text x="1423" y="874.8" font-size="27.4" text-anchor="end">8</text>
<line x1="1437.6" y1="1044.4" x2="1437.6" y2="1052.8" stroke="#000" stroke-width="2.1"/>
<text x="1437.9" y="1080.4" font-size="27.4" text-anchor="middle">0</text>
<line x1="1529.5" y1="1044.4" x2="1529.5" y2="1052.8" stroke="#000" stroke-width="2.1"/>
<text x="1529.8" y="1080.4" font-size="27.4" text-anchor="middle">1</text>
<line x1="1621.5" y1="1044.4" x2="1621.5" y2="1052.8" stroke="#000" stroke-width="2.1"/>
<text x="1621.8" y="1080.4" font-size="27.4" text-anchor="middle">2</text>
<line x1="1713.4" y1="1044.4" x2="1713.4" y2="1052.8" stroke="#000" stroke-width="2.1"/>
<text x="1713.7" y="1080.4" font-size="27.4" text-anchor="middle">3</text>
<line x1="1805.4" y1="1044.4" x2="1805.4" y2="1052.8" stroke="#000" stroke-width="2.1"/>
<text x="1805.7" y="1080.4" font-size="27.4" text-anchor="middle">4</text>
<line x1="1897.3" y1="1044.4" x2="1897.3" y2="1052.8" stroke="#000" stroke-width="2.1"/>
<text x="1897.6" y="1080.4" font-size="27.4" text-anchor="middle">5</text>
<line x1="1989.3" y1="1044.4" x2="1989.3" y2="1052.8" stroke="#000" stroke-width="2.1"/>
<text x="1989.6" y="1080.4" font-size="27.4" text-anchor="middle">6</text>
<text x="1674.3" y="1115.7" font-size="27.6"><tspan font-style="italic">R</tspan><tspan dx="-2.0"> (Å)</tspan></text>
<text font-size="27.4" text-anchor="middle" transform="translate(1377.3 821.3) rotate(-90)">|FT [<tspan font-style="italic">k</tspan><tspan dy="-11" font-size="18">2</tspan><tspan dy="11" font-family="Liberation Serif" font-style="italic" font-size="29" stroke-width="0.2">χ</tspan>(<tspan font-style="italic">k</tspan>)]| (Å<tspan dy="-11" font-size="19.5">-3</tspan><tspan dy="11">)</tspan></text>
<text x="1354" y="600.8" font-size="43.5" font-weight="bold">f</text>
<text x="1545.3" y="629.4" font-size="27">Co–N</text>
<line x1="1779" y1="622.1" x2="1831.8" y2="622.1" stroke="#808080" stroke-width="2.0"/>
<text x="1839" y="629.9" font-size="23.4">CoPc</text>
<line x1="1779" y1="651" x2="1831.8" y2="651" stroke="#0a0aff" stroke-width="2.2"/>
<text x="1839" y="659.2" font-size="23.4">Fitting</text>
<line x1="1782.1" y1="864.4" x2="1834.9" y2="864.4" stroke="#808080" stroke-width="2.0"/>
<text x="1842.3" y="872.5" font-size="23.4">CoPc-OCNT</text>
<line x1="1782.1" y1="893.8" x2="1834.9" y2="893.8" stroke="#f83c3c" stroke-width="2.1"/>
<text x="1842.3" y="901.5" font-size="23.4">Fitting</text>
</svg>
</body></html>
